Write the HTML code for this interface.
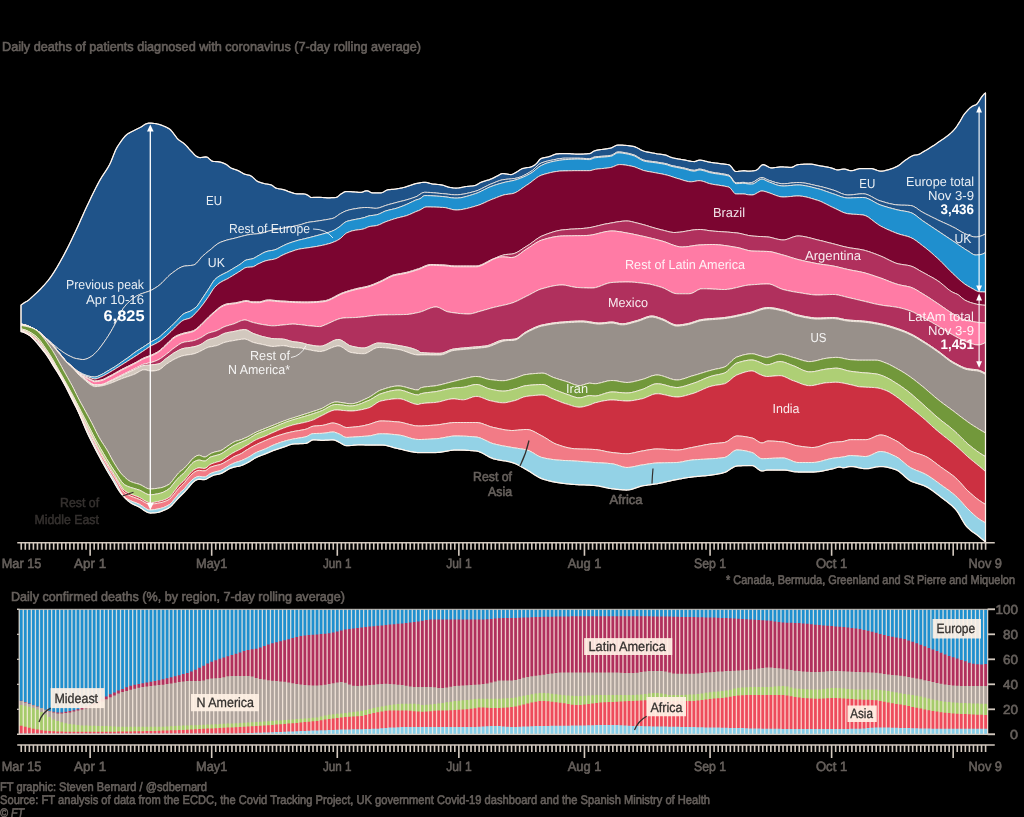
<!DOCTYPE html>
<html><head><meta charset="utf-8"><title>Coronavirus deaths</title>
<style>html,body{margin:0;padding:0;background:#000;}body{width:1024px;height:817px;overflow:hidden;font-family:"Liberation Sans",sans-serif;}svg{display:block;}text{text-rendering:geometricPrecision;}text{font-family:"Liberation Sans",sans-serif;}</style>
</head><body>
<svg width="1024" height="817" viewBox="0 0 1024 817">
<rect width="1024" height="817" fill="#000"/>
<g stroke="#fdf3ea" stroke-width="0.8" stroke-linejoin="round">
<path d="M21.0,305.0L22.5,303.9L24.0,302.9L25.5,302.0L27.0,301.2L28.5,300.2L30.0,298.9L31.5,297.5L33.0,296.1L34.5,294.8L36.0,293.4L37.5,292.0L39.0,290.5L40.5,289.0L42.0,287.4L43.5,285.8L45.0,284.1L46.5,282.4L48.0,280.6L49.5,278.7L51.0,276.6L52.5,274.4L54.0,272.1L55.5,269.7L57.0,267.2L58.5,264.6L60.0,262.0L61.5,259.3L63.0,256.6L64.5,253.8L66.0,250.9L67.5,248.0L69.0,245.0L70.5,241.9L72.0,238.8L73.5,235.6L75.0,232.5L76.5,229.3L78.0,226.0L79.5,222.7L81.0,219.3L82.5,215.9L84.0,212.6L85.5,209.3L87.0,206.1L88.5,202.9L90.0,199.8L91.5,196.6L93.0,193.5L94.5,190.5L96.0,187.5L97.5,184.6L99.0,181.8L100.5,179.1L102.0,176.7L103.5,174.3L105.0,172.1L106.5,169.8L108.0,167.4L109.5,164.7L111.0,161.6L112.5,157.8L114.0,153.9L115.5,150.3L117.0,147.4L118.5,145.0L120.0,142.8L121.5,140.7L123.0,138.7L124.5,136.8L126.0,135.2L127.5,134.1L129.0,133.1L130.5,132.3L132.0,131.5L133.5,130.8L135.0,130.0L136.5,129.2L138.0,128.5L139.5,127.8L141.0,127.0L142.5,126.1L144.0,125.0L145.5,124.0L147.0,123.6L148.5,123.2L150.0,123.1L151.5,123.2L153.0,123.3L154.5,123.5L156.0,123.7L157.5,124.0L159.0,124.4L160.5,124.8L162.0,125.4L163.5,126.0L165.0,126.6L166.5,127.3L168.0,128.1L169.5,129.0L171.0,130.3L172.5,132.1L174.0,134.1L175.5,136.2L177.0,138.2L178.5,139.7L180.0,140.8L181.5,141.8L183.0,142.8L184.5,144.0L186.0,145.4L187.5,147.0L189.0,148.8L190.5,150.5L192.0,152.0L193.5,153.7L195.0,155.2L196.5,156.4L198.0,157.1L199.5,157.5L201.0,157.5L202.5,157.3L204.0,157.1L205.5,156.9L207.0,157.1L208.5,158.1L210.0,159.6L211.5,160.8L213.0,161.3L214.5,161.5L216.0,161.6L217.5,161.7L219.0,161.9L220.5,162.2L222.0,162.7L223.5,163.2L225.0,163.8L226.5,164.6L228.0,165.8L229.5,167.0L231.0,168.0L232.5,168.6L234.0,169.2L235.5,169.7L237.0,170.2L238.5,170.8L240.0,171.6L241.5,172.5L243.0,173.4L244.5,174.1L246.0,174.5L247.5,174.9L249.0,175.2L250.5,175.7L252.0,176.6L253.5,177.9L255.0,179.4L256.5,180.7L258.0,181.6L259.5,182.2L261.0,182.7L262.5,183.1L264.0,183.5L265.5,183.8L267.0,184.0L268.5,184.3L270.0,184.6L271.5,185.0L273.0,186.0L274.5,187.2L276.0,188.1L277.5,188.5L279.0,188.8L280.5,189.0L282.0,189.3L283.5,189.7L285.0,190.1L286.5,190.7L288.0,191.3L289.5,191.8L291.0,192.3L292.5,192.8L294.0,193.3L295.5,193.6L297.0,193.8L298.5,193.8L300.0,193.8L301.5,193.9L303.0,193.9L304.5,194.0L306.0,194.4L307.5,195.1L309.0,196.1L310.5,197.3L312.0,197.5L313.5,197.4L315.0,197.4L316.5,197.3L318.0,197.3L319.5,197.3L321.0,197.4L322.5,197.5L324.0,197.6L325.5,197.7L327.0,197.8L328.5,197.8L330.0,197.8L331.5,197.7L333.0,197.7L334.5,197.6L336.0,197.5L337.5,196.9L339.0,195.6L340.5,194.3L342.0,193.4L343.5,192.4L345.0,191.7L346.5,191.5L348.0,191.5L349.5,191.6L351.0,191.7L352.5,191.8L354.0,191.9L355.5,192.0L357.0,192.1L358.5,192.3L360.0,192.4L361.5,192.3L363.0,191.9L364.5,191.2L366.0,190.8L367.5,190.8L369.0,191.4L370.5,192.3L372.0,192.8L373.5,192.9L375.0,192.9L376.5,192.9L378.0,192.9L379.5,192.9L381.0,192.9L382.5,192.5L384.0,191.7L385.5,190.7L387.0,190.0L388.5,189.7L390.0,189.6L391.5,189.4L393.0,189.3L394.5,189.2L396.0,189.0L397.5,188.7L399.0,188.5L400.5,188.2L402.0,187.9L403.5,187.5L405.0,187.2L406.5,186.7L408.0,186.2L409.5,185.7L411.0,185.2L412.5,184.6L414.0,184.1L415.5,183.7L417.0,183.4L418.5,183.1L420.0,182.8L421.5,182.5L423.0,182.4L424.5,182.3L426.0,182.4L427.5,182.7L429.0,183.1L430.5,183.5L432.0,183.9L433.5,184.1L435.0,184.2L436.5,184.3L438.0,184.5L439.5,184.6L441.0,184.8L442.5,185.1L444.0,185.5L445.5,186.1L447.0,186.6L448.5,187.1L450.0,187.4L451.5,187.6L453.0,187.9L454.5,188.0L456.0,188.1L457.5,188.0L459.0,187.9L460.5,187.6L462.0,187.3L463.5,187.0L465.0,186.7L466.5,186.5L468.0,186.3L469.5,186.2L471.0,186.0L472.5,185.9L474.0,185.7L475.5,185.3L477.0,184.6L478.5,183.7L480.0,182.8L481.5,182.1L483.0,181.6L484.5,181.1L486.0,180.7L487.5,180.2L489.0,179.8L490.5,179.2L492.0,178.6L493.5,177.9L495.0,177.1L496.5,176.3L498.0,175.6L499.5,174.7L501.0,173.9L502.5,173.5L504.0,173.6L505.5,173.8L507.0,174.0L508.5,174.3L510.0,174.5L511.5,174.5L513.0,174.0L514.5,173.2L516.0,172.4L517.5,171.5L519.0,170.5L520.5,169.5L522.0,168.7L523.5,168.3L525.0,168.0L526.5,167.7L528.0,167.5L529.5,167.3L531.0,166.9L532.5,166.3L534.0,165.4L535.5,164.4L537.0,163.0L538.5,161.0L540.0,159.2L541.5,158.4L543.0,157.9L544.5,157.6L546.0,157.3L547.5,157.0L549.0,156.7L550.5,156.2L552.0,155.5L553.5,154.9L555.0,154.3L556.5,153.9L558.0,153.8L559.5,153.7L561.0,153.7L562.5,153.6L564.0,153.6L565.5,153.6L567.0,153.6L568.5,153.7L570.0,153.7L571.5,153.8L573.0,153.9L574.5,154.0L576.0,154.1L577.5,154.1L579.0,154.1L580.5,154.1L582.0,154.0L583.5,154.0L585.0,153.9L586.5,153.8L588.0,153.7L589.5,153.6L591.0,153.1L592.5,152.0L594.0,151.0L595.5,150.6L597.0,150.2L598.5,149.9L600.0,149.7L601.5,149.5L603.0,149.3L604.5,149.1L606.0,148.9L607.5,148.7L609.0,148.4L610.5,148.1L612.0,147.6L613.5,146.8L615.0,146.0L616.5,145.3L618.0,145.0L619.5,145.0L621.0,145.1L622.5,145.1L624.0,145.3L625.5,145.4L627.0,145.5L628.5,145.7L630.0,145.9L631.5,146.1L633.0,146.3L634.5,146.7L636.0,147.3L637.5,148.0L639.0,148.8L640.5,149.7L642.0,150.4L643.5,151.0L645.0,151.5L646.5,151.8L648.0,152.1L649.5,152.4L651.0,152.7L652.5,153.0L654.0,153.2L655.5,153.5L657.0,153.8L658.5,154.0L660.0,154.2L661.5,154.4L663.0,154.6L664.5,154.9L666.0,155.2L667.5,155.8L669.0,156.5L670.5,157.2L672.0,157.7L673.5,158.0L675.0,158.3L676.5,158.6L678.0,158.9L679.5,159.1L681.0,159.4L682.5,159.6L684.0,159.8L685.5,160.1L687.0,160.5L688.5,160.8L690.0,161.1L691.5,161.4L693.0,161.5L694.5,161.6L696.0,161.2L697.5,160.6L699.0,160.2L700.5,160.2L702.0,160.4L703.5,160.7L705.0,161.1L706.5,161.4L708.0,161.8L709.5,162.1L711.0,162.4L712.5,162.6L714.0,162.8L715.5,163.0L717.0,163.2L718.5,163.4L720.0,163.6L721.5,163.8L723.0,163.9L724.5,164.1L726.0,164.3L727.5,164.5L729.0,164.8L730.5,165.8L732.0,167.7L733.5,169.8L735.0,171.3L736.5,171.5L738.0,171.4L739.5,171.2L741.0,171.0L742.5,170.8L744.0,170.7L745.5,170.8L747.0,171.1L748.5,171.2L750.0,171.1L751.5,171.0L753.0,170.8L754.5,170.6L756.0,170.3L757.5,169.5L759.0,168.0L760.5,166.2L762.0,164.9L763.5,164.6L765.0,165.1L766.5,165.9L768.0,166.7L769.5,167.5L771.0,167.9L772.5,167.9L774.0,167.7L775.5,167.5L777.0,167.3L778.5,167.1L780.0,166.9L781.5,166.9L783.0,166.9L784.5,167.0L786.0,167.1L787.5,167.2L789.0,167.3L790.5,167.4L792.0,167.3L793.5,166.7L795.0,165.8L796.5,165.0L798.0,164.6L799.5,164.5L801.0,164.4L802.5,164.3L804.0,164.2L805.5,164.2L807.0,164.1L808.5,164.1L810.0,164.1L811.5,164.2L813.0,164.4L814.5,164.7L816.0,165.0L817.5,165.3L819.0,165.6L820.5,165.9L822.0,166.1L823.5,166.4L825.0,166.7L826.5,166.9L828.0,167.2L829.5,167.5L831.0,167.9L832.5,168.3L834.0,168.9L835.5,169.5L837.0,169.9L838.5,169.9L840.0,169.6L841.5,169.3L843.0,169.1L844.5,169.0L846.0,169.3L847.5,169.8L849.0,170.3L850.5,170.7L852.0,170.6L853.5,170.4L855.0,169.9L856.5,169.4L858.0,169.0L859.5,168.6L861.0,168.5L862.5,168.5L864.0,168.5L865.5,168.5L867.0,168.5L868.5,168.5L870.0,168.5L871.5,168.5L873.0,168.8L874.5,169.3L876.0,169.9L877.5,170.5L879.0,170.9L880.5,171.2L882.0,171.1L883.5,170.9L885.0,170.6L886.5,170.2L888.0,169.8L889.5,169.4L891.0,168.9L892.5,168.4L894.0,167.8L895.5,167.1L897.0,166.4L898.5,165.6L900.0,164.6L901.5,163.3L903.0,162.0L904.5,160.8L906.0,159.8L907.5,158.8L909.0,157.7L910.5,156.8L912.0,156.0L913.5,155.4L915.0,155.0L916.5,154.9L918.0,154.6L919.5,154.1L921.0,153.2L922.5,152.3L924.0,151.4L925.5,150.5L927.0,149.7L928.5,148.7L930.0,147.8L931.5,146.8L933.0,145.9L934.5,144.9L936.0,143.9L937.5,142.8L939.0,141.8L940.5,140.8L942.0,139.8L943.5,138.8L945.0,137.7L946.5,136.6L948.0,135.5L949.5,134.2L951.0,132.9L952.5,131.5L954.0,129.9L955.5,128.1L957.0,126.0L958.5,123.7L960.0,121.4L961.5,118.7L963.0,116.0L964.5,113.9L966.0,112.1L967.5,110.5L969.0,108.9L970.5,107.5L972.0,106.4L973.5,105.7L975.0,105.2L976.5,104.5L978.0,102.7L979.5,100.4L981.0,97.9L982.5,95.8L984.0,94.1L985.5,92.9L985.5,233.8L984.0,234.7L982.5,235.4L981.0,236.0L979.5,236.5L978.0,236.8L976.5,237.0L975.0,237.0L973.5,236.8L972.0,236.4L970.5,235.9L969.0,235.4L967.5,234.8L966.0,234.2L964.5,233.5L963.0,232.7L961.5,231.9L960.0,231.0L958.5,230.1L957.0,229.2L955.5,228.3L954.0,227.5L952.5,226.8L951.0,226.0L949.5,225.3L948.0,224.6L946.5,223.9L945.0,223.2L943.5,222.6L942.0,221.9L940.5,221.2L939.0,220.5L937.5,219.8L936.0,219.0L934.5,218.3L933.0,217.6L931.5,216.8L930.0,216.1L928.5,215.3L927.0,214.6L925.5,213.8L924.0,213.0L922.5,212.2L921.0,211.3L919.5,210.3L918.0,209.2L916.5,208.1L915.0,207.2L913.5,206.4L912.0,205.8L910.5,205.5L909.0,205.4L907.5,205.3L906.0,205.3L904.5,205.2L903.0,205.2L901.5,205.2L900.0,205.1L898.5,205.0L897.0,204.9L895.5,204.7L894.0,204.5L892.5,204.2L891.0,203.9L889.5,203.6L888.0,203.2L886.5,202.8L885.0,202.3L883.5,201.9L882.0,201.4L880.5,201.0L879.0,200.5L877.5,199.8L876.0,199.1L874.5,198.3L873.0,197.4L871.5,196.6L870.0,195.8L868.5,195.1L867.0,194.5L865.5,194.1L864.0,193.8L862.5,193.8L861.0,193.8L859.5,193.9L858.0,194.1L856.5,194.3L855.0,194.4L853.5,194.6L852.0,194.8L850.5,194.9L849.0,195.0L847.5,195.0L846.0,194.8L844.5,194.5L843.0,194.0L841.5,193.5L840.0,192.8L838.5,192.2L837.0,191.5L835.5,190.9L834.0,190.3L832.5,189.9L831.0,189.4L829.5,189.0L828.0,188.5L826.5,188.1L825.0,187.7L823.5,187.3L822.0,186.9L820.5,186.6L819.0,186.2L817.5,185.9L816.0,185.6L814.5,185.2L813.0,184.9L811.5,184.5L810.0,184.2L808.5,183.8L807.0,183.5L805.5,183.2L804.0,183.0L802.5,182.8L801.0,182.6L799.5,182.5L798.0,182.5L796.5,182.5L795.0,182.6L793.5,182.8L792.0,182.9L790.5,183.1L789.0,183.3L787.5,183.5L786.0,183.6L784.5,183.7L783.0,183.8L781.5,183.7L780.0,183.5L778.5,183.2L777.0,182.9L775.5,182.5L774.0,182.0L772.5,181.5L771.0,181.0L769.5,180.5L768.0,180.0L766.5,179.3L765.0,178.5L763.5,177.8L762.0,177.5L760.5,177.8L759.0,178.4L757.5,179.4L756.0,180.4L754.5,181.4L753.0,182.2L751.5,182.6L750.0,182.9L748.5,183.1L747.0,183.0L745.5,182.6L744.0,182.4L742.5,182.4L741.0,182.5L739.5,182.6L738.0,182.7L736.5,182.8L735.0,182.5L733.5,180.9L732.0,178.5L730.5,176.4L729.0,175.2L727.5,174.8L726.0,174.4L724.5,174.2L723.0,173.9L721.5,173.7L720.0,173.4L718.5,173.2L717.0,173.0L715.5,172.8L714.0,172.5L712.5,172.3L711.0,172.0L709.5,171.7L708.0,171.2L706.5,170.7L705.0,170.2L703.5,169.8L702.0,169.4L700.5,169.2L699.0,169.1L697.5,169.5L696.0,170.0L694.5,170.3L693.0,170.2L691.5,170.0L690.0,169.7L688.5,169.2L687.0,168.8L685.5,168.4L684.0,168.0L682.5,167.7L681.0,167.4L679.5,167.1L678.0,166.8L676.5,166.5L675.0,166.2L673.5,165.9L672.0,165.6L670.5,165.2L669.0,164.7L667.5,164.1L666.0,163.7L664.5,163.4L663.0,163.1L661.5,162.8L660.0,162.6L658.5,162.4L657.0,162.1L655.5,161.9L654.0,161.7L652.5,161.5L651.0,161.3L649.5,161.2L648.0,161.0L646.5,160.7L645.0,160.4L643.5,160.0L642.0,159.4L640.5,158.6L639.0,157.7L637.5,156.8L636.0,155.9L634.5,155.1L633.0,154.6L631.5,154.2L630.0,153.8L628.5,153.4L627.0,153.1L625.5,152.8L624.0,152.5L622.5,152.3L621.0,152.1L619.5,152.0L618.0,152.0L616.5,152.3L615.0,153.2L613.5,154.2L612.0,155.1L610.5,155.4L609.0,155.6L607.5,155.8L606.0,156.0L604.5,156.1L603.0,156.2L601.5,156.3L600.0,156.4L598.5,156.5L597.0,156.7L595.5,156.9L594.0,157.1L592.5,157.8L591.0,158.4L589.5,158.7L588.0,158.7L586.5,158.6L585.0,158.5L583.5,158.4L582.0,158.3L580.5,158.3L579.0,158.2L577.5,158.2L576.0,158.2L574.5,158.2L573.0,158.2L571.5,158.2L570.0,158.2L568.5,158.2L567.0,158.2L565.5,158.2L564.0,158.2L562.5,158.3L561.0,158.5L559.5,158.7L558.0,158.9L556.5,159.2L555.0,159.5L553.5,159.8L552.0,160.1L550.5,160.4L549.0,160.7L547.5,161.1L546.0,161.4L544.5,161.9L543.0,162.4L541.5,162.9L540.0,163.7L538.5,164.7L537.0,166.1L535.5,167.5L534.0,169.0L532.5,170.4L531.0,171.4L529.5,172.3L528.0,173.2L526.5,174.0L525.0,174.8L523.5,175.6L522.0,176.3L520.5,176.9L519.0,177.4L517.5,177.9L516.0,178.2L514.5,178.5L513.0,178.6L511.5,178.8L510.0,179.0L508.5,179.1L507.0,179.2L505.5,179.4L504.0,179.6L502.5,179.8L501.0,180.2L499.5,180.6L498.0,181.2L496.5,181.7L495.0,182.4L493.5,183.0L492.0,183.6L490.5,184.2L489.0,184.9L487.5,185.6L486.0,186.4L484.5,187.1L483.0,187.9L481.5,188.7L480.0,189.4L478.5,190.1L477.0,190.7L475.5,191.2L474.0,191.6L472.5,192.0L471.0,192.4L469.5,192.8L468.0,193.1L466.5,193.5L465.0,193.8L463.5,194.1L462.0,194.3L460.5,194.5L459.0,194.7L457.5,194.8L456.0,194.8L454.5,194.8L453.0,194.7L451.5,194.6L450.0,194.4L448.5,194.3L447.0,194.1L445.5,193.9L444.0,193.8L442.5,193.6L441.0,193.5L439.5,193.4L438.0,193.2L436.5,193.1L435.0,192.9L433.5,192.8L432.0,192.7L430.5,192.5L429.0,192.4L427.5,192.4L426.0,192.3L424.5,192.3L423.0,192.6L421.5,193.3L420.0,194.3L418.5,195.3L417.0,196.3L415.5,196.9L414.0,197.5L412.5,198.0L411.0,198.5L409.5,199.0L408.0,199.4L406.5,199.9L405.0,200.3L403.5,200.7L402.0,201.1L400.5,201.4L399.0,201.8L397.5,202.2L396.0,202.6L394.5,203.0L393.0,203.4L391.5,203.8L390.0,204.2L388.5,204.6L387.0,205.1L385.5,205.5L384.0,206.1L382.5,206.7L381.0,207.2L379.5,207.7L378.0,208.1L376.5,208.3L375.0,208.3L373.5,208.2L372.0,208.0L370.5,207.8L369.0,207.6L367.5,207.5L366.0,207.5L364.5,207.5L363.0,207.6L361.5,207.8L360.0,208.0L358.5,208.2L357.0,208.4L355.5,208.7L354.0,208.9L352.5,209.2L351.0,209.5L349.5,209.8L348.0,210.3L346.5,210.7L345.0,211.3L343.5,212.0L342.0,212.8L340.5,213.6L339.0,214.5L337.5,215.6L336.0,216.7L334.5,217.7L333.0,218.3L331.5,218.7L330.0,219.0L328.5,219.3L327.0,219.5L325.5,219.8L324.0,220.0L322.5,220.3L321.0,220.5L319.5,220.7L318.0,221.0L316.5,221.2L315.0,221.4L313.5,221.6L312.0,221.8L310.5,222.0L309.0,222.2L307.5,222.5L306.0,222.9L304.5,223.4L303.0,223.9L301.5,224.4L300.0,224.8L298.5,225.2L297.0,225.5L295.5,225.9L294.0,226.2L292.5,226.5L291.0,226.8L289.5,227.0L288.0,227.3L286.5,227.6L285.0,227.9L283.5,228.1L282.0,228.4L280.5,228.7L279.0,229.0L277.5,229.2L276.0,229.5L274.5,229.8L273.0,230.0L271.5,230.4L270.0,230.7L268.5,231.1L267.0,231.5L265.5,232.0L264.0,232.5L262.5,233.0L261.0,233.3L259.5,233.6L258.0,233.7L256.5,233.9L255.0,234.0L253.5,234.1L252.0,234.3L250.5,234.4L249.0,234.7L247.5,234.9L246.0,235.3L244.5,235.6L243.0,236.0L241.5,236.4L240.0,236.8L238.5,237.2L237.0,237.6L235.5,238.0L234.0,238.4L232.5,238.7L231.0,239.1L229.5,239.4L228.0,239.8L226.5,240.2L225.0,240.7L223.5,241.2L222.0,241.7L220.5,242.3L219.0,243.0L217.5,243.9L216.0,245.0L214.5,246.2L213.0,247.5L211.5,248.8L210.0,250.0L208.5,251.2L207.0,252.4L205.5,253.6L204.0,254.9L202.5,256.2L201.0,257.8L199.5,259.7L198.0,261.5L196.5,263.2L195.0,264.4L193.5,265.1L192.0,265.3L190.5,265.5L189.0,265.6L187.5,265.8L186.0,265.9L184.5,266.1L183.0,266.4L181.5,267.0L180.0,267.7L178.5,268.5L177.0,269.5L175.5,270.6L174.0,271.7L172.5,272.8L171.0,273.9L169.5,275.2L168.0,276.6L166.5,278.1L165.0,279.7L163.5,281.3L162.0,282.8L160.5,284.2L159.0,285.4L157.5,286.5L156.0,287.5L154.5,288.4L153.0,289.3L151.5,290.1L150.0,290.8L148.5,291.4L147.0,291.9L145.5,292.4L144.0,292.9L142.5,293.4L141.0,293.9L139.5,294.5L138.0,295.3L136.5,296.1L135.0,297.1L133.5,298.2L132.0,299.3L130.5,300.6L129.0,301.9L127.5,303.3L126.0,304.9L124.5,306.7L123.0,308.7L121.5,311.1L120.0,314.0L118.5,317.2L117.0,320.3L115.5,323.2L114.0,326.0L112.5,328.7L111.0,331.4L109.5,333.9L108.0,336.3L106.5,338.6L105.0,340.8L103.5,342.9L102.0,345.0L100.5,347.0L99.0,349.0L97.5,350.7L96.0,352.3L94.5,353.8L93.0,355.2L91.5,356.3L90.0,357.2L88.5,358.0L87.0,358.7L85.5,359.2L84.0,359.5L82.5,359.5L81.0,359.4L79.5,359.2L78.0,358.9L76.5,358.6L75.0,358.3L73.5,357.8L72.0,357.1L70.5,356.4L69.0,355.7L67.5,354.9L66.0,354.0L64.5,353.1L63.0,352.1L61.5,351.0L60.0,349.9L58.5,348.8L57.0,347.6L55.5,346.3L54.0,345.0L52.5,343.7L51.0,342.3L49.5,341.0L48.0,339.7L46.5,338.5L45.0,337.2L43.5,335.8L42.0,334.5L40.5,333.2L39.0,331.9L37.5,330.8L36.0,329.8L34.5,329.0L33.0,328.2L31.5,327.5L30.0,326.8L28.5,326.2L27.0,325.6L25.5,325.1L24.0,324.7L22.5,324.4L21.0,324.1Z" fill="#1f5389"/>
<path d="M21.0,324.1L22.5,324.4L24.0,324.7L25.5,325.1L27.0,325.6L28.5,326.2L30.0,326.8L31.5,327.5L33.0,328.2L34.5,329.0L36.0,329.8L37.5,330.8L39.0,331.9L40.5,333.2L42.0,334.5L43.5,335.8L45.0,337.2L46.5,338.5L48.0,339.7L49.5,341.0L51.0,342.3L52.5,343.7L54.0,345.0L55.5,346.3L57.0,347.6L58.5,348.8L60.0,349.9L61.5,351.0L63.0,352.1L64.5,353.1L66.0,354.0L67.5,354.9L69.0,355.7L70.5,356.4L72.0,357.1L73.5,357.8L75.0,358.3L76.5,358.6L78.0,358.9L79.5,359.2L81.0,359.4L82.5,359.5L84.0,359.5L85.5,359.2L87.0,358.7L88.5,358.0L90.0,357.2L91.5,356.3L93.0,355.2L94.5,353.8L96.0,352.3L97.5,350.7L99.0,349.0L100.5,347.0L102.0,345.0L103.5,342.9L105.0,340.8L106.5,338.6L108.0,336.3L109.5,333.9L111.0,331.4L112.5,328.7L114.0,326.0L115.5,323.2L117.0,320.3L118.5,317.2L120.0,314.0L121.5,311.1L123.0,308.7L124.5,306.7L126.0,304.9L127.5,303.3L129.0,301.9L130.5,300.6L132.0,299.3L133.5,298.2L135.0,297.1L136.5,296.1L138.0,295.3L139.5,294.5L141.0,293.9L142.5,293.4L144.0,292.9L145.5,292.4L147.0,291.9L148.5,291.4L150.0,290.8L151.5,290.1L153.0,289.3L154.5,288.4L156.0,287.5L157.5,286.5L159.0,285.4L160.5,284.2L162.0,282.8L163.5,281.3L165.0,279.7L166.5,278.1L168.0,276.6L169.5,275.2L171.0,273.9L172.5,272.8L174.0,271.7L175.5,270.6L177.0,269.5L178.5,268.5L180.0,267.7L181.5,267.0L183.0,266.4L184.5,266.1L186.0,265.9L187.5,265.8L189.0,265.6L190.5,265.5L192.0,265.3L193.5,265.1L195.0,264.4L196.5,263.2L198.0,261.5L199.5,259.7L201.0,257.8L202.5,256.2L204.0,254.9L205.5,253.6L207.0,252.4L208.5,251.2L210.0,250.0L211.5,248.8L213.0,247.5L214.5,246.2L216.0,245.0L217.5,243.9L219.0,243.0L220.5,242.3L222.0,241.7L223.5,241.2L225.0,240.7L226.5,240.2L228.0,239.8L229.5,239.4L231.0,239.1L232.5,238.7L234.0,238.4L235.5,238.0L237.0,237.6L238.5,237.2L240.0,236.8L241.5,236.4L243.0,236.0L244.5,235.6L246.0,235.3L247.5,234.9L249.0,234.7L250.5,234.4L252.0,234.3L253.5,234.1L255.0,234.0L256.5,233.9L258.0,233.7L259.5,233.6L261.0,233.3L262.5,233.0L264.0,232.5L265.5,232.0L267.0,231.5L268.5,231.1L270.0,230.7L271.5,230.4L273.0,230.0L274.5,229.8L276.0,229.5L277.5,229.2L279.0,229.0L280.5,228.7L282.0,228.4L283.5,228.1L285.0,227.9L286.5,227.6L288.0,227.3L289.5,227.0L291.0,226.8L292.5,226.5L294.0,226.2L295.5,225.9L297.0,225.5L298.5,225.2L300.0,224.8L301.5,224.4L303.0,223.9L304.5,223.4L306.0,222.9L307.5,222.5L309.0,222.2L310.5,222.0L312.0,221.8L313.5,221.6L315.0,221.4L316.5,221.2L318.0,221.0L319.5,220.7L321.0,220.5L322.5,220.3L324.0,220.0L325.5,219.8L327.0,219.5L328.5,219.3L330.0,219.0L331.5,218.7L333.0,218.3L334.5,217.7L336.0,216.7L337.5,215.6L339.0,214.5L340.5,213.6L342.0,212.8L343.5,212.0L345.0,211.3L346.5,210.7L348.0,210.3L349.5,209.8L351.0,209.5L352.5,209.2L354.0,208.9L355.5,208.7L357.0,208.4L358.5,208.2L360.0,208.0L361.5,207.8L363.0,207.6L364.5,207.5L366.0,207.5L367.5,207.5L369.0,207.6L370.5,207.8L372.0,208.0L373.5,208.2L375.0,208.3L376.5,208.3L378.0,208.1L379.5,207.7L381.0,207.2L382.5,206.7L384.0,206.1L385.5,205.5L387.0,205.1L388.5,204.6L390.0,204.2L391.5,203.8L393.0,203.4L394.5,203.0L396.0,202.6L397.5,202.2L399.0,201.8L400.5,201.4L402.0,201.1L403.5,200.7L405.0,200.3L406.5,199.9L408.0,199.4L409.5,199.0L411.0,198.5L412.5,198.0L414.0,197.5L415.5,196.9L417.0,196.3L418.5,195.3L420.0,194.3L421.5,193.3L423.0,192.6L424.5,192.3L426.0,192.3L427.5,192.4L429.0,192.4L430.5,192.5L432.0,192.7L433.5,192.8L435.0,192.9L436.5,193.1L438.0,193.2L439.5,193.4L441.0,193.5L442.5,193.6L444.0,193.8L445.5,193.9L447.0,194.1L448.5,194.3L450.0,194.4L451.5,194.6L453.0,194.7L454.5,194.8L456.0,194.8L457.5,194.8L459.0,194.7L460.5,194.5L462.0,194.3L463.5,194.1L465.0,193.8L466.5,193.5L468.0,193.1L469.5,192.8L471.0,192.4L472.5,192.0L474.0,191.6L475.5,191.2L477.0,190.7L478.5,190.1L480.0,189.4L481.5,188.7L483.0,187.9L484.5,187.1L486.0,186.4L487.5,185.6L489.0,184.9L490.5,184.2L492.0,183.6L493.5,183.0L495.0,182.4L496.5,181.7L498.0,181.2L499.5,180.6L501.0,180.2L502.5,179.8L504.0,179.6L505.5,179.4L507.0,179.2L508.5,179.1L510.0,179.0L511.5,178.8L513.0,178.6L514.5,178.5L516.0,178.2L517.5,177.9L519.0,177.4L520.5,176.9L522.0,176.3L523.5,175.6L525.0,174.8L526.5,174.0L528.0,173.2L529.5,172.3L531.0,171.4L532.5,170.4L534.0,169.0L535.5,167.5L537.0,166.1L538.5,164.7L540.0,163.7L541.5,162.9L543.0,162.4L544.5,161.9L546.0,161.4L547.5,161.1L549.0,160.7L550.5,160.4L552.0,160.1L553.5,159.8L555.0,159.5L556.5,159.2L558.0,158.9L559.5,158.7L561.0,158.5L562.5,158.3L564.0,158.2L565.5,158.2L567.0,158.2L568.5,158.2L570.0,158.2L571.5,158.2L573.0,158.2L574.5,158.2L576.0,158.2L577.5,158.2L579.0,158.2L580.5,158.3L582.0,158.3L583.5,158.4L585.0,158.5L586.5,158.6L588.0,158.7L589.5,158.7L591.0,158.4L592.5,157.8L594.0,157.1L595.5,156.9L597.0,156.7L598.5,156.5L600.0,156.4L601.5,156.3L603.0,156.2L604.5,156.1L606.0,156.0L607.5,155.8L609.0,155.6L610.5,155.4L612.0,155.1L613.5,154.2L615.0,153.2L616.5,152.3L618.0,152.0L619.5,152.0L621.0,152.1L622.5,152.3L624.0,152.5L625.5,152.8L627.0,153.1L628.5,153.4L630.0,153.8L631.5,154.2L633.0,154.6L634.5,155.1L636.0,155.9L637.5,156.8L639.0,157.7L640.5,158.6L642.0,159.4L643.5,160.0L645.0,160.4L646.5,160.7L648.0,161.0L649.5,161.2L651.0,161.3L652.5,161.5L654.0,161.7L655.5,161.9L657.0,162.1L658.5,162.4L660.0,162.6L661.5,162.8L663.0,163.1L664.5,163.4L666.0,163.7L667.5,164.1L669.0,164.7L670.5,165.2L672.0,165.6L673.5,165.9L675.0,166.2L676.5,166.5L678.0,166.8L679.5,167.1L681.0,167.4L682.5,167.7L684.0,168.0L685.5,168.4L687.0,168.8L688.5,169.2L690.0,169.7L691.5,170.0L693.0,170.2L694.5,170.3L696.0,170.0L697.5,169.5L699.0,169.1L700.5,169.2L702.0,169.4L703.5,169.8L705.0,170.2L706.5,170.7L708.0,171.2L709.5,171.7L711.0,172.0L712.5,172.3L714.0,172.5L715.5,172.8L717.0,173.0L718.5,173.2L720.0,173.4L721.5,173.7L723.0,173.9L724.5,174.2L726.0,174.4L727.5,174.8L729.0,175.2L730.5,176.4L732.0,178.5L733.5,180.9L735.0,182.5L736.5,182.8L738.0,182.7L739.5,182.6L741.0,182.5L742.5,182.4L744.0,182.4L745.5,182.6L747.0,183.0L748.5,183.1L750.0,182.9L751.5,182.6L753.0,182.2L754.5,181.4L756.0,180.4L757.5,179.4L759.0,178.4L760.5,177.8L762.0,177.5L763.5,177.8L765.0,178.5L766.5,179.3L768.0,180.0L769.5,180.5L771.0,181.0L772.5,181.5L774.0,182.0L775.5,182.5L777.0,182.9L778.5,183.2L780.0,183.5L781.5,183.7L783.0,183.8L784.5,183.7L786.0,183.6L787.5,183.5L789.0,183.3L790.5,183.1L792.0,182.9L793.5,182.8L795.0,182.6L796.5,182.5L798.0,182.5L799.5,182.5L801.0,182.6L802.5,182.8L804.0,183.0L805.5,183.2L807.0,183.5L808.5,183.8L810.0,184.2L811.5,184.5L813.0,184.9L814.5,185.2L816.0,185.6L817.5,185.9L819.0,186.2L820.5,186.6L822.0,186.9L823.5,187.3L825.0,187.7L826.5,188.1L828.0,188.5L829.5,189.0L831.0,189.4L832.5,189.9L834.0,190.3L835.5,190.9L837.0,191.5L838.5,192.2L840.0,192.8L841.5,193.5L843.0,194.0L844.5,194.5L846.0,194.8L847.5,195.0L849.0,195.0L850.5,194.9L852.0,194.8L853.5,194.6L855.0,194.4L856.5,194.3L858.0,194.1L859.5,193.9L861.0,193.8L862.5,193.8L864.0,193.8L865.5,194.1L867.0,194.5L868.5,195.1L870.0,195.8L871.5,196.6L873.0,197.4L874.5,198.3L876.0,199.1L877.5,199.8L879.0,200.5L880.5,201.0L882.0,201.4L883.5,201.9L885.0,202.3L886.5,202.8L888.0,203.2L889.5,203.6L891.0,203.9L892.5,204.2L894.0,204.5L895.5,204.7L897.0,204.9L898.5,205.0L900.0,205.1L901.5,205.2L903.0,205.2L904.5,205.2L906.0,205.3L907.5,205.3L909.0,205.4L910.5,205.5L912.0,205.8L913.5,206.4L915.0,207.2L916.5,208.1L918.0,209.2L919.5,210.3L921.0,211.3L922.5,212.2L924.0,213.0L925.5,213.8L927.0,214.6L928.5,215.3L930.0,216.1L931.5,216.8L933.0,217.6L934.5,218.3L936.0,219.0L937.5,219.8L939.0,220.5L940.5,221.2L942.0,221.9L943.5,222.6L945.0,223.2L946.5,223.9L948.0,224.6L949.5,225.3L951.0,226.0L952.5,226.8L954.0,227.5L955.5,228.3L957.0,229.2L958.5,230.1L960.0,231.0L961.5,231.9L963.0,232.7L964.5,233.5L966.0,234.2L967.5,234.8L969.0,235.4L970.5,235.9L972.0,236.4L973.5,236.8L975.0,237.0L976.5,237.0L978.0,236.8L979.5,236.5L981.0,236.0L982.5,235.4L984.0,234.7L985.5,233.8L985.5,252.5L984.0,253.4L982.5,254.1L981.0,254.5L979.5,254.8L978.0,254.9L976.5,255.0L975.0,255.0L973.5,254.5L972.0,253.7L970.5,252.7L969.0,251.6L967.5,250.7L966.0,249.8L964.5,248.8L963.0,247.8L961.5,246.8L960.0,245.8L958.5,244.8L957.0,243.7L955.5,242.7L954.0,241.7L952.5,240.7L951.0,239.7L949.5,238.7L948.0,237.7L946.5,236.7L945.0,235.7L943.5,234.7L942.0,233.7L940.5,232.7L939.0,231.7L937.5,230.7L936.0,229.7L934.5,228.7L933.0,227.7L931.5,226.7L930.0,225.7L928.5,224.7L927.0,223.7L925.5,222.7L924.0,221.7L922.5,220.7L921.0,219.5L919.5,218.4L918.0,217.2L916.5,216.0L915.0,214.9L913.5,213.9L912.0,213.1L910.5,212.5L909.0,212.1L907.5,211.7L906.0,211.4L904.5,211.2L903.0,210.9L901.5,210.7L900.0,210.4L898.5,210.1L897.0,209.8L895.5,209.4L894.0,209.0L892.5,208.6L891.0,208.2L889.5,207.8L888.0,207.4L886.5,206.9L885.0,206.5L883.5,206.0L882.0,205.5L880.5,205.0L879.0,204.4L877.5,203.7L876.0,202.9L874.5,202.1L873.0,201.2L871.5,200.4L870.0,199.6L868.5,198.9L867.0,198.3L865.5,197.8L864.0,197.6L862.5,197.5L861.0,197.5L859.5,197.6L858.0,197.6L856.5,197.7L855.0,197.8L853.5,197.8L852.0,197.9L850.5,198.0L849.0,198.0L847.5,198.0L846.0,197.9L844.5,197.6L843.0,197.2L841.5,196.8L840.0,196.3L838.5,195.7L837.0,195.2L835.5,194.6L834.0,194.1L832.5,193.6L831.0,193.1L829.5,192.6L828.0,192.0L826.5,191.5L825.0,191.0L823.5,190.4L822.0,189.9L820.5,189.4L819.0,189.0L817.5,188.6L816.0,188.3L814.5,187.9L813.0,187.5L811.5,187.1L810.0,186.7L808.5,186.4L807.0,186.1L805.5,185.8L804.0,185.5L802.5,185.3L801.0,185.1L799.5,185.0L798.0,185.0L796.5,185.0L795.0,185.1L793.5,185.2L792.0,185.4L790.5,185.5L789.0,185.6L787.5,185.8L786.0,185.9L784.5,186.0L783.0,186.0L781.5,185.9L780.0,185.7L778.5,185.4L777.0,185.0L775.5,184.5L774.0,183.9L772.5,183.3L771.0,182.7L769.5,182.2L768.0,181.6L766.5,180.9L765.0,180.1L763.5,179.4L762.0,179.1L760.5,179.4L759.0,180.2L757.5,181.2L756.0,182.3L754.5,183.3L753.0,184.0L751.5,184.1L750.0,184.1L748.5,184.0L747.0,183.8L745.5,183.5L744.0,183.3L742.5,183.3L741.0,183.4L739.5,183.5L738.0,183.6L736.5,183.7L735.0,183.4L733.5,181.8L732.0,179.4L730.5,177.3L729.0,176.1L727.5,175.7L726.0,175.3L724.5,175.1L723.0,174.8L721.5,174.6L720.0,174.3L718.5,174.1L717.0,173.9L715.5,173.7L714.0,173.4L712.5,173.2L711.0,172.9L709.5,172.6L708.0,172.1L706.5,171.6L705.0,171.1L703.5,170.7L702.0,170.3L700.5,170.1L699.0,170.0L697.5,170.4L696.0,170.9L694.5,171.2L693.0,171.1L691.5,170.9L690.0,170.6L688.5,170.1L687.0,169.7L685.5,169.3L684.0,168.9L682.5,168.6L681.0,168.3L679.5,168.0L678.0,167.7L676.5,167.4L675.0,167.1L673.5,166.8L672.0,166.5L670.5,166.1L669.0,165.6L667.5,165.0L666.0,164.6L664.5,164.3L663.0,164.0L661.5,163.7L660.0,163.5L658.5,163.3L657.0,163.0L655.5,162.8L654.0,162.6L652.5,162.4L651.0,162.2L649.5,162.1L648.0,161.9L646.5,161.6L645.0,161.3L643.5,160.9L642.0,160.3L640.5,159.5L639.0,158.6L637.5,157.7L636.0,156.8L634.5,156.0L633.0,155.5L631.5,155.1L630.0,154.7L628.5,154.3L627.0,154.0L625.5,153.7L624.0,153.4L622.5,153.2L621.0,153.0L619.5,152.9L618.0,152.9L616.5,153.2L615.0,154.1L613.5,155.1L612.0,156.0L610.5,156.3L609.0,156.5L607.5,156.7L606.0,156.9L604.5,157.0L603.0,157.1L601.5,157.2L600.0,157.3L598.5,157.4L597.0,157.6L595.5,157.8L594.0,158.0L592.5,158.7L591.0,159.3L589.5,159.6L588.0,159.6L586.5,159.5L585.0,159.4L583.5,159.3L582.0,159.2L580.5,159.2L579.0,159.1L577.5,159.1L576.0,159.1L574.5,159.2L573.0,159.2L571.5,159.3L570.0,159.3L568.5,159.4L567.0,159.5L565.5,159.6L564.0,159.7L562.5,159.9L561.0,160.1L559.5,160.3L558.0,160.5L556.5,160.8L555.0,161.1L553.5,161.4L552.0,161.7L550.5,162.1L549.0,162.5L547.5,162.9L546.0,163.4L544.5,164.0L543.0,164.7L541.5,165.4L540.0,166.2L538.5,167.3L537.0,168.5L535.5,169.7L534.0,171.0L532.5,172.2L531.0,173.1L529.5,174.0L528.0,174.8L526.5,175.6L525.0,176.3L523.5,177.0L522.0,177.6L520.5,178.2L519.0,178.8L517.5,179.3L516.0,179.8L514.5,180.2L513.0,180.6L511.5,180.9L510.0,181.2L508.5,181.5L507.0,181.8L505.5,182.1L504.0,182.5L502.5,182.9L501.0,183.3L499.5,183.7L498.0,184.2L496.5,184.6L495.0,185.1L493.5,185.6L492.0,186.2L490.5,186.7L489.0,187.3L487.5,188.0L486.0,188.8L484.5,189.5L483.0,190.3L481.5,191.0L480.0,191.8L478.5,192.4L477.0,193.1L475.5,193.6L474.0,194.1L472.5,194.6L471.0,195.1L469.5,195.5L468.0,196.0L466.5,196.4L465.0,196.8L463.5,197.2L462.0,197.5L460.5,197.8L459.0,197.9L457.5,198.1L456.0,198.1L454.5,198.1L453.0,197.9L451.5,197.8L450.0,197.6L448.5,197.3L447.0,197.1L445.5,196.9L444.0,196.7L442.5,196.5L441.0,196.4L439.5,196.3L438.0,196.2L436.5,196.1L435.0,196.0L433.5,195.9L432.0,195.8L430.5,195.7L429.0,195.7L427.5,195.6L426.0,195.6L424.5,195.6L423.0,196.3L421.5,197.7L420.0,198.7L418.5,199.3L417.0,199.7L415.5,200.2L414.0,200.9L412.5,201.6L411.0,202.3L409.5,203.0L408.0,203.8L406.5,204.4L405.0,205.1L403.5,205.7L402.0,206.3L400.5,206.8L399.0,207.4L397.5,207.9L396.0,208.4L394.5,208.8L393.0,209.1L391.5,209.5L390.0,209.8L388.5,210.2L387.0,210.6L385.5,211.0L384.0,211.6L382.5,212.4L381.0,213.1L379.5,213.8L378.0,214.4L376.5,214.8L375.0,215.1L373.5,215.3L372.0,215.5L370.5,215.6L369.0,215.9L367.5,216.4L366.0,216.9L364.5,217.5L363.0,217.9L361.5,218.2L360.0,218.6L358.5,218.8L357.0,219.1L355.5,219.4L354.0,219.7L352.5,220.0L351.0,220.3L349.5,220.7L348.0,221.0L346.5,221.5L345.0,222.3L343.5,223.4L342.0,224.7L340.5,226.0L339.0,227.1L337.5,228.1L336.0,229.1L334.5,230.0L333.0,230.7L331.5,231.4L330.0,231.9L328.5,232.4L327.0,232.9L325.5,233.3L324.0,233.7L322.5,234.1L321.0,234.5L319.5,234.9L318.0,235.3L316.5,235.7L315.0,236.1L313.5,236.5L312.0,236.9L310.5,237.3L309.0,237.7L307.5,238.0L306.0,238.4L304.5,238.8L303.0,239.1L301.5,239.5L300.0,239.8L298.5,240.2L297.0,240.6L295.5,241.1L294.0,241.5L292.5,242.0L291.0,242.5L289.5,243.0L288.0,243.6L286.5,244.2L285.0,244.9L283.5,245.6L282.0,246.3L280.5,247.1L279.0,247.9L277.5,248.7L276.0,249.4L274.5,249.9L273.0,250.3L271.5,250.5L270.0,250.8L268.5,251.0L267.0,251.4L265.5,251.9L264.0,252.5L262.5,253.3L261.0,254.1L259.5,255.0L258.0,255.8L256.5,256.7L255.0,257.6L253.5,258.4L252.0,258.9L250.5,259.2L249.0,259.4L247.5,259.7L246.0,260.1L244.5,260.9L243.0,262.0L241.5,263.3L240.0,264.4L238.5,265.3L237.0,266.2L235.5,267.1L234.0,268.0L232.5,268.9L231.0,269.8L229.5,270.7L228.0,271.6L226.5,272.4L225.0,273.1L223.5,273.8L222.0,274.6L220.5,275.4L219.0,276.3L217.5,277.3L216.0,278.5L214.5,279.9L213.0,281.9L211.5,284.3L210.0,286.8L208.5,289.1L207.0,291.4L205.5,293.6L204.0,295.9L202.5,298.1L201.0,300.4L199.5,302.7L198.0,304.9L196.5,306.7L195.0,308.0L193.5,309.1L192.0,310.1L190.5,311.0L189.0,311.7L187.5,312.2L186.0,312.7L184.5,313.4L183.0,314.3L181.5,315.6L180.0,317.2L178.5,318.9L177.0,320.5L175.5,322.0L174.0,323.5L172.5,325.0L171.0,326.5L169.5,327.9L168.0,329.2L166.5,330.6L165.0,331.9L163.5,333.3L162.0,334.7L160.5,336.1L159.0,337.3L157.5,338.3L156.0,339.2L154.5,340.0L153.0,340.8L151.5,341.7L150.0,342.5L148.5,343.5L147.0,344.5L145.5,345.5L144.0,346.5L142.5,347.5L141.0,348.4L139.5,349.4L138.0,350.3L136.5,351.3L135.0,352.3L133.5,353.4L132.0,354.6L130.5,355.7L129.0,356.9L127.5,358.0L126.0,359.0L124.5,360.0L123.0,361.1L121.5,362.1L120.0,363.2L118.5,364.3L117.0,365.3L115.5,366.3L114.0,367.3L112.5,368.1L111.0,369.0L109.5,369.9L108.0,370.8L106.5,371.7L105.0,372.6L103.5,373.5L102.0,374.3L100.5,375.0L99.0,375.7L97.5,376.4L96.0,376.9L94.5,377.0L93.0,376.9L91.5,376.7L90.0,376.4L88.5,376.0L87.0,375.6L85.5,375.0L84.0,374.5L82.5,373.8L81.0,373.0L79.5,372.2L78.0,371.3L76.5,370.2L75.0,369.0L73.5,367.7L72.0,366.4L70.5,365.1L69.0,363.8L67.5,362.5L66.0,361.0L64.5,359.4L63.0,357.5L61.5,355.7L60.0,353.8L58.5,352.0L57.0,350.1L55.5,348.3L54.0,346.6L52.5,344.9L51.0,343.4L49.5,342.0L48.0,340.5L46.5,339.0L45.0,337.4L43.5,335.9L42.0,334.5L40.5,333.2L39.0,331.9L37.5,330.8L36.0,329.8L34.5,329.0L33.0,328.2L31.5,327.5L30.0,326.8L28.5,326.2L27.0,325.6L25.5,325.1L24.0,324.7L22.5,324.4L21.0,324.1Z" fill="#1f5389"/>
<path d="M21.0,324.1L22.5,324.4L24.0,324.7L25.5,325.1L27.0,325.6L28.5,326.2L30.0,326.8L31.5,327.5L33.0,328.2L34.5,329.0L36.0,329.8L37.5,330.8L39.0,331.9L40.5,333.2L42.0,334.5L43.5,335.9L45.0,337.4L46.5,339.0L48.0,340.5L49.5,342.0L51.0,343.4L52.5,344.9L54.0,346.6L55.5,348.3L57.0,350.1L58.5,352.0L60.0,353.8L61.5,355.7L63.0,357.5L64.5,359.4L66.0,361.0L67.5,362.5L69.0,363.8L70.5,365.1L72.0,366.4L73.5,367.7L75.0,369.0L76.5,370.2L78.0,371.3L79.5,372.2L81.0,373.0L82.5,373.8L84.0,374.5L85.5,375.0L87.0,375.6L88.5,376.0L90.0,376.4L91.5,376.7L93.0,376.9L94.5,377.0L96.0,376.9L97.5,376.4L99.0,375.7L100.5,375.0L102.0,374.3L103.5,373.5L105.0,372.6L106.5,371.7L108.0,370.8L109.5,369.9L111.0,369.0L112.5,368.1L114.0,367.3L115.5,366.3L117.0,365.3L118.5,364.3L120.0,363.2L121.5,362.1L123.0,361.1L124.5,360.0L126.0,359.0L127.5,358.0L129.0,356.9L130.5,355.7L132.0,354.6L133.5,353.4L135.0,352.3L136.5,351.3L138.0,350.3L139.5,349.4L141.0,348.4L142.5,347.5L144.0,346.5L145.5,345.5L147.0,344.5L148.5,343.5L150.0,342.5L151.5,341.7L153.0,340.8L154.5,340.0L156.0,339.2L157.5,338.3L159.0,337.3L160.5,336.1L162.0,334.7L163.5,333.3L165.0,331.9L166.5,330.6L168.0,329.2L169.5,327.9L171.0,326.5L172.5,325.0L174.0,323.5L175.5,322.0L177.0,320.5L178.5,318.9L180.0,317.2L181.5,315.6L183.0,314.3L184.5,313.4L186.0,312.7L187.5,312.2L189.0,311.7L190.5,311.0L192.0,310.1L193.5,309.1L195.0,308.0L196.5,306.7L198.0,304.9L199.5,302.7L201.0,300.4L202.5,298.1L204.0,295.9L205.5,293.6L207.0,291.4L208.5,289.1L210.0,286.8L211.5,284.3L213.0,281.9L214.5,279.9L216.0,278.5L217.5,277.3L219.0,276.3L220.5,275.4L222.0,274.6L223.5,273.8L225.0,273.1L226.5,272.4L228.0,271.6L229.5,270.7L231.0,269.8L232.5,268.9L234.0,268.0L235.5,267.1L237.0,266.2L238.5,265.3L240.0,264.4L241.5,263.3L243.0,262.0L244.5,260.9L246.0,260.1L247.5,259.7L249.0,259.4L250.5,259.2L252.0,258.9L253.5,258.4L255.0,257.6L256.5,256.7L258.0,255.8L259.5,255.0L261.0,254.1L262.5,253.3L264.0,252.5L265.5,251.9L267.0,251.4L268.5,251.0L270.0,250.8L271.5,250.5L273.0,250.3L274.5,249.9L276.0,249.4L277.5,248.7L279.0,247.9L280.5,247.1L282.0,246.3L283.5,245.6L285.0,244.9L286.5,244.2L288.0,243.6L289.5,243.0L291.0,242.5L292.5,242.0L294.0,241.5L295.5,241.1L297.0,240.6L298.5,240.2L300.0,239.8L301.5,239.5L303.0,239.1L304.5,238.8L306.0,238.4L307.5,238.0L309.0,237.7L310.5,237.3L312.0,236.9L313.5,236.5L315.0,236.1L316.5,235.7L318.0,235.3L319.5,234.9L321.0,234.5L322.5,234.1L324.0,233.7L325.5,233.3L327.0,232.9L328.5,232.4L330.0,231.9L331.5,231.4L333.0,230.7L334.5,230.0L336.0,229.1L337.5,228.1L339.0,227.1L340.5,226.0L342.0,224.7L343.5,223.4L345.0,222.3L346.5,221.5L348.0,221.0L349.5,220.7L351.0,220.3L352.5,220.0L354.0,219.7L355.5,219.4L357.0,219.1L358.5,218.8L360.0,218.6L361.5,218.2L363.0,217.9L364.5,217.5L366.0,216.9L367.5,216.4L369.0,215.9L370.5,215.6L372.0,215.5L373.5,215.3L375.0,215.1L376.5,214.8L378.0,214.4L379.5,213.8L381.0,213.1L382.5,212.4L384.0,211.6L385.5,211.0L387.0,210.6L388.5,210.2L390.0,209.8L391.5,209.5L393.0,209.1L394.5,208.8L396.0,208.4L397.5,207.9L399.0,207.4L400.5,206.8L402.0,206.3L403.5,205.7L405.0,205.1L406.5,204.4L408.0,203.8L409.5,203.0L411.0,202.3L412.5,201.6L414.0,200.9L415.5,200.2L417.0,199.7L418.5,199.3L420.0,198.7L421.5,197.7L423.0,196.3L424.5,195.6L426.0,195.6L427.5,195.6L429.0,195.7L430.5,195.7L432.0,195.8L433.5,195.9L435.0,196.0L436.5,196.1L438.0,196.2L439.5,196.3L441.0,196.4L442.5,196.5L444.0,196.7L445.5,196.9L447.0,197.1L448.5,197.3L450.0,197.6L451.5,197.8L453.0,197.9L454.5,198.1L456.0,198.1L457.5,198.1L459.0,197.9L460.5,197.8L462.0,197.5L463.5,197.2L465.0,196.8L466.5,196.4L468.0,196.0L469.5,195.5L471.0,195.1L472.5,194.6L474.0,194.1L475.5,193.6L477.0,193.1L478.5,192.4L480.0,191.8L481.5,191.0L483.0,190.3L484.5,189.5L486.0,188.8L487.5,188.0L489.0,187.3L490.5,186.7L492.0,186.2L493.5,185.6L495.0,185.1L496.5,184.6L498.0,184.2L499.5,183.7L501.0,183.3L502.5,182.9L504.0,182.5L505.5,182.1L507.0,181.8L508.5,181.5L510.0,181.2L511.5,180.9L513.0,180.6L514.5,180.2L516.0,179.8L517.5,179.3L519.0,178.8L520.5,178.2L522.0,177.6L523.5,177.0L525.0,176.3L526.5,175.6L528.0,174.8L529.5,174.0L531.0,173.1L532.5,172.2L534.0,171.0L535.5,169.7L537.0,168.5L538.5,167.3L540.0,166.2L541.5,165.4L543.0,164.7L544.5,164.0L546.0,163.4L547.5,162.9L549.0,162.5L550.5,162.1L552.0,161.7L553.5,161.4L555.0,161.1L556.5,160.8L558.0,160.5L559.5,160.3L561.0,160.1L562.5,159.9L564.0,159.7L565.5,159.6L567.0,159.5L568.5,159.4L570.0,159.3L571.5,159.3L573.0,159.2L574.5,159.2L576.0,159.1L577.5,159.1L579.0,159.1L580.5,159.2L582.0,159.2L583.5,159.3L585.0,159.4L586.5,159.5L588.0,159.6L589.5,159.6L591.0,159.3L592.5,158.7L594.0,158.0L595.5,157.8L597.0,157.6L598.5,157.4L600.0,157.3L601.5,157.2L603.0,157.1L604.5,157.0L606.0,156.9L607.5,156.7L609.0,156.5L610.5,156.3L612.0,156.0L613.5,155.1L615.0,154.1L616.5,153.2L618.0,152.9L619.5,152.9L621.0,153.0L622.5,153.2L624.0,153.4L625.5,153.7L627.0,154.0L628.5,154.3L630.0,154.7L631.5,155.1L633.0,155.5L634.5,156.0L636.0,156.8L637.5,157.7L639.0,158.6L640.5,159.5L642.0,160.3L643.5,160.9L645.0,161.3L646.5,161.6L648.0,161.9L649.5,162.1L651.0,162.2L652.5,162.4L654.0,162.6L655.5,162.8L657.0,163.0L658.5,163.3L660.0,163.5L661.5,163.7L663.0,164.0L664.5,164.3L666.0,164.6L667.5,165.0L669.0,165.6L670.5,166.1L672.0,166.5L673.5,166.8L675.0,167.1L676.5,167.4L678.0,167.7L679.5,168.0L681.0,168.3L682.5,168.6L684.0,168.9L685.5,169.3L687.0,169.7L688.5,170.1L690.0,170.6L691.5,170.9L693.0,171.1L694.5,171.2L696.0,170.9L697.5,170.4L699.0,170.0L700.5,170.1L702.0,170.3L703.5,170.7L705.0,171.1L706.5,171.6L708.0,172.1L709.5,172.6L711.0,172.9L712.5,173.2L714.0,173.4L715.5,173.7L717.0,173.9L718.5,174.1L720.0,174.3L721.5,174.6L723.0,174.8L724.5,175.1L726.0,175.3L727.5,175.7L729.0,176.1L730.5,177.3L732.0,179.4L733.5,181.8L735.0,183.4L736.5,183.7L738.0,183.6L739.5,183.5L741.0,183.4L742.5,183.3L744.0,183.3L745.5,183.5L747.0,183.8L748.5,184.0L750.0,184.1L751.5,184.1L753.0,184.0L754.5,183.3L756.0,182.3L757.5,181.2L759.0,180.2L760.5,179.4L762.0,179.1L763.5,179.4L765.0,180.1L766.5,180.9L768.0,181.6L769.5,182.2L771.0,182.7L772.5,183.3L774.0,183.9L775.5,184.5L777.0,185.0L778.5,185.4L780.0,185.7L781.5,185.9L783.0,186.0L784.5,186.0L786.0,185.9L787.5,185.8L789.0,185.6L790.5,185.5L792.0,185.4L793.5,185.2L795.0,185.1L796.5,185.0L798.0,185.0L799.5,185.0L801.0,185.1L802.5,185.3L804.0,185.5L805.5,185.8L807.0,186.1L808.5,186.4L810.0,186.7L811.5,187.1L813.0,187.5L814.5,187.9L816.0,188.3L817.5,188.6L819.0,189.0L820.5,189.4L822.0,189.9L823.5,190.4L825.0,191.0L826.5,191.5L828.0,192.0L829.5,192.6L831.0,193.1L832.5,193.6L834.0,194.1L835.5,194.6L837.0,195.2L838.5,195.7L840.0,196.3L841.5,196.8L843.0,197.2L844.5,197.6L846.0,197.9L847.5,198.0L849.0,198.0L850.5,198.0L852.0,197.9L853.5,197.8L855.0,197.8L856.5,197.7L858.0,197.6L859.5,197.6L861.0,197.5L862.5,197.5L864.0,197.6L865.5,197.8L867.0,198.3L868.5,198.9L870.0,199.6L871.5,200.4L873.0,201.2L874.5,202.1L876.0,202.9L877.5,203.7L879.0,204.4L880.5,205.0L882.0,205.5L883.5,206.0L885.0,206.5L886.5,206.9L888.0,207.4L889.5,207.8L891.0,208.2L892.5,208.6L894.0,209.0L895.5,209.4L897.0,209.8L898.5,210.1L900.0,210.4L901.5,210.7L903.0,210.9L904.5,211.2L906.0,211.4L907.5,211.7L909.0,212.1L910.5,212.5L912.0,213.1L913.5,213.9L915.0,214.9L916.5,216.0L918.0,217.2L919.5,218.4L921.0,219.5L922.5,220.7L924.0,221.7L925.5,222.7L927.0,223.7L928.5,224.7L930.0,225.7L931.5,226.7L933.0,227.7L934.5,228.7L936.0,229.7L937.5,230.7L939.0,231.7L940.5,232.7L942.0,233.7L943.5,234.7L945.0,235.7L946.5,236.7L948.0,237.7L949.5,238.7L951.0,239.7L952.5,240.7L954.0,241.7L955.5,242.7L957.0,243.7L958.5,244.8L960.0,245.8L961.5,246.8L963.0,247.8L964.5,248.8L966.0,249.8L967.5,250.7L969.0,251.6L970.5,252.7L972.0,253.7L973.5,254.5L975.0,255.0L976.5,255.0L978.0,254.9L979.5,254.8L981.0,254.5L982.5,254.1L984.0,253.4L985.5,252.5L985.5,292.0L984.0,292.0L982.5,291.9L981.0,291.9L979.5,291.8L978.0,291.5L976.5,290.9L975.0,290.1L973.5,289.2L972.0,288.4L970.5,287.6L969.0,286.7L967.5,285.8L966.0,284.9L964.5,283.9L963.0,282.7L961.5,281.5L960.0,280.2L958.5,278.9L957.0,277.5L955.5,276.1L954.0,274.7L952.5,273.3L951.0,271.8L949.5,270.3L948.0,268.8L946.5,267.3L945.0,265.7L943.5,264.2L942.0,262.6L940.5,261.1L939.0,259.7L937.5,258.3L936.0,256.9L934.5,255.6L933.0,254.2L931.5,252.9L930.0,251.6L928.5,250.4L927.0,249.1L925.5,247.9L924.0,246.8L922.5,245.6L921.0,244.5L919.5,243.3L918.0,242.2L916.5,241.0L915.0,240.0L913.5,239.0L912.0,238.2L910.5,237.5L909.0,236.9L907.5,236.4L906.0,236.0L904.5,235.6L903.0,235.2L901.5,234.8L900.0,234.4L898.5,233.9L897.0,233.4L895.5,232.8L894.0,232.2L892.5,231.6L891.0,231.0L889.5,230.3L888.0,229.7L886.5,229.0L885.0,228.3L883.5,227.5L882.0,226.8L880.5,226.0L879.0,225.1L877.5,224.1L876.0,223.0L874.5,221.9L873.0,220.7L871.5,219.5L870.0,218.4L868.5,217.3L867.0,216.4L865.5,215.7L864.0,215.2L862.5,214.9L861.0,214.8L859.5,214.6L858.0,214.5L856.5,214.4L855.0,214.3L853.5,214.3L852.0,214.2L850.5,214.0L849.0,213.9L847.5,213.7L846.0,213.3L844.5,212.9L843.0,212.3L841.5,211.7L840.0,210.9L838.5,210.2L837.0,209.4L835.5,208.7L834.0,208.0L832.5,207.3L831.0,206.6L829.5,205.8L828.0,205.0L826.5,204.3L825.0,203.5L823.5,202.8L822.0,202.0L820.5,201.4L819.0,200.8L817.5,200.3L816.0,199.9L814.5,199.4L813.0,198.9L811.5,198.5L810.0,198.0L808.5,197.6L807.0,197.2L805.5,196.9L804.0,196.6L802.5,196.3L801.0,196.2L799.5,196.0L798.0,196.0L796.5,196.0L795.0,196.1L793.5,196.2L792.0,196.4L790.5,196.5L789.0,196.6L787.5,196.8L786.0,196.9L784.5,197.0L783.0,197.0L781.5,196.9L780.0,196.7L778.5,196.3L777.0,195.8L775.5,195.3L774.0,194.7L772.5,194.1L771.0,193.5L769.5,193.0L768.0,192.5L766.5,192.0L765.0,191.5L763.5,191.2L762.0,191.0L760.5,191.2L759.0,191.9L757.5,192.7L756.0,193.6L754.5,194.4L753.0,194.9L751.5,195.0L750.0,194.9L748.5,194.8L747.0,194.6L745.5,194.2L744.0,194.0L742.5,194.0L741.0,194.0L739.5,194.0L738.0,194.0L736.5,194.0L735.0,193.8L733.5,192.3L732.0,190.2L730.5,188.3L729.0,187.2L727.5,186.8L726.0,186.5L724.5,186.2L723.0,185.9L721.5,185.7L720.0,185.4L718.5,185.2L717.0,185.0L715.5,184.8L714.0,184.5L712.5,184.3L711.0,184.0L709.5,183.6L708.0,183.2L706.5,182.6L705.0,182.0L703.5,181.5L702.0,181.1L700.5,180.8L699.0,180.7L697.5,180.8L696.0,181.1L694.5,181.4L693.0,181.6L691.5,181.8L690.0,181.8L688.5,181.6L687.0,181.3L685.5,180.9L684.0,180.5L682.5,180.0L681.0,179.5L679.5,179.0L678.0,178.6L676.5,178.2L675.0,177.7L673.5,177.2L672.0,176.7L670.5,176.2L669.0,175.7L667.5,175.3L666.0,174.9L664.5,174.6L663.0,174.2L661.5,173.9L660.0,173.6L658.5,173.4L657.0,173.1L655.5,172.8L654.0,172.5L652.5,172.3L651.0,172.0L649.5,171.7L648.0,171.5L646.5,171.2L645.0,170.8L643.5,170.5L642.0,169.9L640.5,169.3L639.0,168.7L637.5,168.1L636.0,167.5L634.5,166.9L633.0,166.5L631.5,166.2L630.0,165.9L628.5,165.6L627.0,165.3L625.5,165.1L624.0,164.9L622.5,164.7L621.0,164.6L619.5,164.6L618.0,164.8L616.5,165.3L615.0,166.0L613.5,166.6L612.0,167.2L610.5,167.5L609.0,167.8L607.5,168.0L606.0,168.2L604.5,168.3L603.0,168.5L601.5,168.6L600.0,168.8L598.5,168.9L597.0,169.1L595.5,169.3L594.0,169.6L592.5,170.1L591.0,170.5L589.5,170.7L588.0,170.7L586.5,170.7L585.0,170.7L583.5,170.7L582.0,170.7L580.5,170.7L579.0,170.7L577.5,170.7L576.0,170.7L574.5,170.7L573.0,170.7L571.5,170.8L570.0,170.8L568.5,170.8L567.0,170.9L565.5,170.9L564.0,170.9L562.5,171.0L561.0,171.0L559.5,171.1L558.0,171.3L556.5,171.5L555.0,171.7L553.5,172.0L552.0,172.3L550.5,172.6L549.0,173.0L547.5,173.4L546.0,173.8L544.5,174.2L543.0,174.7L541.5,175.2L540.0,175.8L538.5,176.6L537.0,177.6L535.5,178.7L534.0,179.8L532.5,181.0L531.0,182.2L529.5,183.3L528.0,184.4L526.5,185.3L525.0,186.3L523.5,187.4L522.0,188.4L520.5,189.5L519.0,190.5L517.5,191.5L516.0,192.3L514.5,193.0L513.0,193.5L511.5,193.8L510.0,194.0L508.5,194.2L507.0,194.4L505.5,194.6L504.0,194.9L502.5,195.4L501.0,195.9L499.5,196.4L498.0,197.0L496.5,197.6L495.0,198.2L493.5,198.8L492.0,199.3L490.5,200.0L489.0,200.6L487.5,201.3L486.0,202.0L484.5,202.7L483.0,203.4L481.5,204.0L480.0,204.7L478.5,205.2L477.0,205.7L475.5,206.1L474.0,206.6L472.5,207.0L471.0,207.4L469.5,207.8L468.0,208.2L466.5,208.6L465.0,208.9L463.5,209.2L462.0,209.5L460.5,209.7L459.0,209.9L457.5,210.0L456.0,210.0L454.5,209.9L453.0,209.7L451.5,209.3L450.0,208.9L448.5,208.5L447.0,208.1L445.5,207.7L444.0,207.5L442.5,207.4L441.0,207.4L439.5,207.3L438.0,207.2L436.5,207.2L435.0,207.1L433.5,207.1L432.0,207.1L430.5,207.0L429.0,207.0L427.5,207.0L426.0,207.0L424.5,207.4L423.0,208.2L421.5,209.2L420.0,210.0L418.5,210.7L417.0,211.2L415.5,211.8L414.0,212.5L412.5,213.2L411.0,213.9L409.5,214.5L408.0,215.1L406.5,215.7L405.0,216.1L403.5,216.5L402.0,216.9L400.5,217.2L399.0,217.6L397.5,217.9L396.0,218.4L394.5,218.8L393.0,219.3L391.5,219.8L390.0,220.3L388.5,220.8L387.0,221.3L385.5,221.9L384.0,222.5L382.5,223.2L381.0,224.0L379.5,224.6L378.0,225.2L376.5,225.6L375.0,225.9L373.5,226.1L372.0,226.2L370.5,226.4L369.0,226.7L367.5,227.3L366.0,228.0L364.5,228.6L363.0,229.1L361.5,229.4L360.0,229.6L358.5,229.8L357.0,230.0L355.5,230.2L354.0,230.5L352.5,230.8L351.0,231.2L349.5,231.8L348.0,232.4L346.5,233.1L345.0,234.1L343.5,235.5L342.0,237.0L340.5,238.4L339.0,239.4L337.5,240.3L336.0,241.1L334.5,241.7L333.0,242.3L331.5,242.9L330.0,243.4L328.5,243.8L327.0,244.2L325.5,244.6L324.0,245.0L322.5,245.3L321.0,245.6L319.5,245.9L318.0,246.2L316.5,246.5L315.0,246.7L313.5,247.0L312.0,247.2L310.5,247.4L309.0,247.7L307.5,247.9L306.0,248.1L304.5,248.3L303.0,248.5L301.5,248.7L300.0,249.0L298.5,249.3L297.0,249.7L295.5,250.1L294.0,250.6L292.5,251.2L291.0,251.7L289.5,252.2L288.0,252.8L286.5,253.4L285.0,254.0L283.5,254.7L282.0,255.4L280.5,256.2L279.0,257.1L277.5,257.9L276.0,258.6L274.5,259.1L273.0,259.4L271.5,259.7L270.0,259.9L268.5,260.2L267.0,260.5L265.5,260.9L264.0,261.4L262.5,262.0L261.0,262.7L259.5,263.4L258.0,264.0L256.5,264.9L255.0,265.9L253.5,266.6L252.0,267.0L250.5,267.1L249.0,267.2L247.5,267.3L246.0,267.5L244.5,268.2L243.0,269.1L241.5,270.2L240.0,271.2L238.5,272.1L237.0,273.1L235.5,273.9L234.0,274.9L232.5,275.8L231.0,276.7L229.5,277.6L228.0,278.5L226.5,279.3L225.0,280.0L223.5,280.7L222.0,281.5L220.5,282.4L219.0,283.4L217.5,284.6L216.0,285.9L214.5,287.5L213.0,289.5L211.5,291.9L210.0,294.3L208.5,296.6L207.0,298.8L205.5,300.9L204.0,303.0L202.5,305.0L201.0,306.9L199.5,308.8L198.0,310.6L196.5,312.2L195.0,313.8L193.5,315.4L192.0,316.8L190.5,317.8L189.0,318.5L187.5,318.9L186.0,319.3L184.5,319.7L183.0,320.4L181.5,321.4L180.0,322.7L178.5,324.1L177.0,325.5L175.5,326.9L174.0,328.5L172.5,330.0L171.0,331.5L169.5,332.9L168.0,334.3L166.5,335.6L165.0,336.9L163.5,338.2L162.0,339.5L160.5,340.7L159.0,341.7L157.5,342.6L156.0,343.4L154.5,344.2L153.0,344.9L151.5,345.6L150.0,346.5L148.5,347.4L147.0,348.5L145.5,349.5L144.0,350.5L142.5,351.5L141.0,352.5L139.5,353.5L138.0,354.5L136.5,355.5L135.0,356.4L133.5,357.4L132.0,358.4L130.5,359.3L129.0,360.3L127.5,361.2L126.0,362.2L124.5,363.1L123.0,364.0L121.5,365.0L120.0,365.9L118.5,366.9L117.0,367.8L115.5,368.8L114.0,369.7L112.5,370.6L111.0,371.5L109.5,372.4L108.0,373.3L106.5,374.2L105.0,375.0L103.5,375.8L102.0,376.6L100.5,377.2L99.0,377.9L97.5,378.4L96.0,378.9L94.5,379.0L93.0,378.7L91.5,378.2L90.0,377.7L88.5,377.2L87.0,376.7L85.5,376.1L84.0,375.4L82.5,374.7L81.0,373.8L79.5,372.9L78.0,371.8L76.5,370.7L75.0,369.3L73.5,367.9L72.0,366.6L70.5,365.2L69.0,363.9L67.5,362.5L66.0,361.0L64.5,359.4L63.0,357.5L61.5,355.7L60.0,353.8L58.5,352.0L57.0,350.1L55.5,348.3L54.0,346.6L52.5,344.9L51.0,343.4L49.5,342.0L48.0,340.5L46.5,339.0L45.0,337.4L43.5,335.9L42.0,334.5L40.5,333.2L39.0,331.9L37.5,330.8L36.0,329.8L34.5,329.0L33.0,328.2L31.5,327.5L30.0,326.8L28.5,326.2L27.0,325.6L25.5,325.1L24.0,324.7L22.5,324.4L21.0,324.1Z" fill="#1f8fce"/>
<path d="M21.0,324.1L22.5,324.4L24.0,324.7L25.5,325.1L27.0,325.6L28.5,326.2L30.0,326.8L31.5,327.5L33.0,328.2L34.5,329.0L36.0,329.8L37.5,330.8L39.0,331.9L40.5,333.2L42.0,334.5L43.5,335.9L45.0,337.4L46.5,339.0L48.0,340.5L49.5,342.0L51.0,343.4L52.5,344.9L54.0,346.6L55.5,348.3L57.0,350.1L58.5,352.0L60.0,353.8L61.5,355.7L63.0,357.5L64.5,359.4L66.0,361.0L67.5,362.5L69.0,363.9L70.5,365.2L72.0,366.6L73.5,367.9L75.0,369.3L76.5,370.7L78.0,371.8L79.5,372.9L81.0,373.8L82.5,374.7L84.0,375.4L85.5,376.1L87.0,376.7L88.5,377.2L90.0,377.7L91.5,378.2L93.0,378.7L94.5,379.0L96.0,378.9L97.5,378.4L99.0,377.9L100.5,377.2L102.0,376.6L103.5,375.8L105.0,375.0L106.5,374.2L108.0,373.3L109.5,372.4L111.0,371.5L112.5,370.6L114.0,369.7L115.5,368.8L117.0,367.8L118.5,366.9L120.0,365.9L121.5,365.0L123.0,364.0L124.5,363.1L126.0,362.2L127.5,361.2L129.0,360.3L130.5,359.3L132.0,358.4L133.5,357.4L135.0,356.4L136.5,355.5L138.0,354.5L139.5,353.5L141.0,352.5L142.5,351.5L144.0,350.5L145.5,349.5L147.0,348.5L148.5,347.4L150.0,346.5L151.5,345.6L153.0,344.9L154.5,344.2L156.0,343.4L157.5,342.6L159.0,341.7L160.5,340.7L162.0,339.5L163.5,338.2L165.0,336.9L166.5,335.6L168.0,334.3L169.5,332.9L171.0,331.5L172.5,330.0L174.0,328.5L175.5,326.9L177.0,325.5L178.5,324.1L180.0,322.7L181.5,321.4L183.0,320.4L184.5,319.7L186.0,319.3L187.5,318.9L189.0,318.5L190.5,317.8L192.0,316.8L193.5,315.4L195.0,313.8L196.5,312.2L198.0,310.6L199.5,308.8L201.0,306.9L202.5,305.0L204.0,303.0L205.5,300.9L207.0,298.8L208.5,296.6L210.0,294.3L211.5,291.9L213.0,289.5L214.5,287.5L216.0,285.9L217.5,284.6L219.0,283.4L220.5,282.4L222.0,281.5L223.5,280.7L225.0,280.0L226.5,279.3L228.0,278.5L229.5,277.6L231.0,276.7L232.5,275.8L234.0,274.9L235.5,273.9L237.0,273.1L238.5,272.1L240.0,271.2L241.5,270.2L243.0,269.1L244.5,268.2L246.0,267.5L247.5,267.3L249.0,267.2L250.5,267.1L252.0,267.0L253.5,266.6L255.0,265.9L256.5,264.9L258.0,264.0L259.5,263.4L261.0,262.7L262.5,262.0L264.0,261.4L265.5,260.9L267.0,260.5L268.5,260.2L270.0,259.9L271.5,259.7L273.0,259.4L274.5,259.1L276.0,258.6L277.5,257.9L279.0,257.1L280.5,256.2L282.0,255.4L283.5,254.7L285.0,254.0L286.5,253.4L288.0,252.8L289.5,252.2L291.0,251.7L292.5,251.2L294.0,250.6L295.5,250.1L297.0,249.7L298.5,249.3L300.0,249.0L301.5,248.7L303.0,248.5L304.5,248.3L306.0,248.1L307.5,247.9L309.0,247.7L310.5,247.4L312.0,247.2L313.5,247.0L315.0,246.7L316.5,246.5L318.0,246.2L319.5,245.9L321.0,245.6L322.5,245.3L324.0,245.0L325.5,244.6L327.0,244.2L328.5,243.8L330.0,243.4L331.5,242.9L333.0,242.3L334.5,241.7L336.0,241.1L337.5,240.3L339.0,239.4L340.5,238.4L342.0,237.0L343.5,235.5L345.0,234.1L346.5,233.1L348.0,232.4L349.5,231.8L351.0,231.2L352.5,230.8L354.0,230.5L355.5,230.2L357.0,230.0L358.5,229.8L360.0,229.6L361.5,229.4L363.0,229.1L364.5,228.6L366.0,228.0L367.5,227.3L369.0,226.7L370.5,226.4L372.0,226.2L373.5,226.1L375.0,225.9L376.5,225.6L378.0,225.2L379.5,224.6L381.0,224.0L382.5,223.2L384.0,222.5L385.5,221.9L387.0,221.3L388.5,220.8L390.0,220.3L391.5,219.8L393.0,219.3L394.5,218.8L396.0,218.4L397.5,217.9L399.0,217.6L400.5,217.2L402.0,216.9L403.5,216.5L405.0,216.1L406.5,215.7L408.0,215.1L409.5,214.5L411.0,213.9L412.5,213.2L414.0,212.5L415.5,211.8L417.0,211.2L418.5,210.7L420.0,210.0L421.5,209.2L423.0,208.2L424.5,207.4L426.0,207.0L427.5,207.0L429.0,207.0L430.5,207.0L432.0,207.1L433.5,207.1L435.0,207.1L436.5,207.2L438.0,207.2L439.5,207.3L441.0,207.4L442.5,207.4L444.0,207.5L445.5,207.7L447.0,208.1L448.5,208.5L450.0,208.9L451.5,209.3L453.0,209.7L454.5,209.9L456.0,210.0L457.5,210.0L459.0,209.9L460.5,209.7L462.0,209.5L463.5,209.2L465.0,208.9L466.5,208.6L468.0,208.2L469.5,207.8L471.0,207.4L472.5,207.0L474.0,206.6L475.5,206.1L477.0,205.7L478.5,205.2L480.0,204.7L481.5,204.0L483.0,203.4L484.5,202.7L486.0,202.0L487.5,201.3L489.0,200.6L490.5,200.0L492.0,199.3L493.5,198.8L495.0,198.2L496.5,197.6L498.0,197.0L499.5,196.4L501.0,195.9L502.5,195.4L504.0,194.9L505.5,194.6L507.0,194.4L508.5,194.2L510.0,194.0L511.5,193.8L513.0,193.5L514.5,193.0L516.0,192.3L517.5,191.5L519.0,190.5L520.5,189.5L522.0,188.4L523.5,187.4L525.0,186.3L526.5,185.3L528.0,184.4L529.5,183.3L531.0,182.2L532.5,181.0L534.0,179.8L535.5,178.7L537.0,177.6L538.5,176.6L540.0,175.8L541.5,175.2L543.0,174.7L544.5,174.2L546.0,173.8L547.5,173.4L549.0,173.0L550.5,172.6L552.0,172.3L553.5,172.0L555.0,171.7L556.5,171.5L558.0,171.3L559.5,171.1L561.0,171.0L562.5,171.0L564.0,170.9L565.5,170.9L567.0,170.9L568.5,170.8L570.0,170.8L571.5,170.8L573.0,170.7L574.5,170.7L576.0,170.7L577.5,170.7L579.0,170.7L580.5,170.7L582.0,170.7L583.5,170.7L585.0,170.7L586.5,170.7L588.0,170.7L589.5,170.7L591.0,170.5L592.5,170.1L594.0,169.6L595.5,169.3L597.0,169.1L598.5,168.9L600.0,168.8L601.5,168.6L603.0,168.5L604.5,168.3L606.0,168.2L607.5,168.0L609.0,167.8L610.5,167.5L612.0,167.2L613.5,166.6L615.0,166.0L616.5,165.3L618.0,164.8L619.5,164.6L621.0,164.6L622.5,164.7L624.0,164.9L625.5,165.1L627.0,165.3L628.5,165.6L630.0,165.9L631.5,166.2L633.0,166.5L634.5,166.9L636.0,167.5L637.5,168.1L639.0,168.7L640.5,169.3L642.0,169.9L643.5,170.5L645.0,170.8L646.5,171.2L648.0,171.5L649.5,171.7L651.0,172.0L652.5,172.3L654.0,172.5L655.5,172.8L657.0,173.1L658.5,173.4L660.0,173.6L661.5,173.9L663.0,174.2L664.5,174.6L666.0,174.9L667.5,175.3L669.0,175.7L670.5,176.2L672.0,176.7L673.5,177.2L675.0,177.7L676.5,178.2L678.0,178.6L679.5,179.0L681.0,179.5L682.5,180.0L684.0,180.5L685.5,180.9L687.0,181.3L688.5,181.6L690.0,181.8L691.5,181.8L693.0,181.6L694.5,181.4L696.0,181.1L697.5,180.8L699.0,180.7L700.5,180.8L702.0,181.1L703.5,181.5L705.0,182.0L706.5,182.6L708.0,183.2L709.5,183.6L711.0,184.0L712.5,184.3L714.0,184.5L715.5,184.8L717.0,185.0L718.5,185.2L720.0,185.4L721.5,185.7L723.0,185.9L724.5,186.2L726.0,186.5L727.5,186.8L729.0,187.2L730.5,188.3L732.0,190.2L733.5,192.3L735.0,193.8L736.5,194.0L738.0,194.0L739.5,194.0L741.0,194.0L742.5,194.0L744.0,194.0L745.5,194.2L747.0,194.6L748.5,194.8L750.0,194.9L751.5,195.0L753.0,194.9L754.5,194.4L756.0,193.6L757.5,192.7L759.0,191.9L760.5,191.2L762.0,191.0L763.5,191.2L765.0,191.5L766.5,192.0L768.0,192.5L769.5,193.0L771.0,193.5L772.5,194.1L774.0,194.7L775.5,195.3L777.0,195.8L778.5,196.3L780.0,196.7L781.5,196.9L783.0,197.0L784.5,197.0L786.0,196.9L787.5,196.8L789.0,196.6L790.5,196.5L792.0,196.4L793.5,196.2L795.0,196.1L796.5,196.0L798.0,196.0L799.5,196.0L801.0,196.2L802.5,196.3L804.0,196.6L805.5,196.9L807.0,197.2L808.5,197.6L810.0,198.0L811.5,198.5L813.0,198.9L814.5,199.4L816.0,199.9L817.5,200.3L819.0,200.8L820.5,201.4L822.0,202.0L823.5,202.8L825.0,203.5L826.5,204.3L828.0,205.0L829.5,205.8L831.0,206.6L832.5,207.3L834.0,208.0L835.5,208.7L837.0,209.4L838.5,210.2L840.0,210.9L841.5,211.7L843.0,212.3L844.5,212.9L846.0,213.3L847.5,213.7L849.0,213.9L850.5,214.0L852.0,214.2L853.5,214.3L855.0,214.3L856.5,214.4L858.0,214.5L859.5,214.6L861.0,214.8L862.5,214.9L864.0,215.2L865.5,215.7L867.0,216.4L868.5,217.3L870.0,218.4L871.5,219.5L873.0,220.7L874.5,221.9L876.0,223.0L877.5,224.1L879.0,225.1L880.5,226.0L882.0,226.8L883.5,227.5L885.0,228.3L886.5,229.0L888.0,229.7L889.5,230.3L891.0,231.0L892.5,231.6L894.0,232.2L895.5,232.8L897.0,233.4L898.5,233.9L900.0,234.4L901.5,234.8L903.0,235.2L904.5,235.6L906.0,236.0L907.5,236.4L909.0,236.9L910.5,237.5L912.0,238.2L913.5,239.0L915.0,240.0L916.5,241.0L918.0,242.2L919.5,243.3L921.0,244.5L922.5,245.6L924.0,246.8L925.5,247.9L927.0,249.1L928.5,250.4L930.0,251.6L931.5,252.9L933.0,254.2L934.5,255.6L936.0,256.9L937.5,258.3L939.0,259.7L940.5,261.1L942.0,262.6L943.5,264.2L945.0,265.7L946.5,267.3L948.0,268.8L949.5,270.3L951.0,271.8L952.5,273.3L954.0,274.7L955.5,276.1L957.0,277.5L958.5,278.9L960.0,280.2L961.5,281.5L963.0,282.7L964.5,283.9L966.0,284.9L967.5,285.8L969.0,286.7L970.5,287.6L972.0,288.4L973.5,289.2L975.0,290.1L976.5,290.9L978.0,291.5L979.5,291.8L981.0,291.9L982.5,291.9L984.0,292.0L985.5,292.0L985.5,305.3L984.0,305.2L982.5,305.1L981.0,304.9L979.5,304.7L978.0,304.5L976.5,304.2L975.0,303.8L973.5,303.4L972.0,303.0L970.5,302.5L969.0,302.0L967.5,301.4L966.0,300.7L964.5,299.9L963.0,298.8L961.5,297.5L960.0,296.2L958.5,295.0L957.0,294.1L955.5,293.5L954.0,292.9L952.5,292.2L951.0,291.3L949.5,290.3L948.0,289.1L946.5,287.9L945.0,286.6L943.5,285.3L942.0,284.0L940.5,282.8L939.0,281.7L937.5,280.7L936.0,279.7L934.5,278.8L933.0,277.9L931.5,277.1L930.0,276.3L928.5,275.5L927.0,274.6L925.5,273.8L924.0,273.0L922.5,272.2L921.0,271.4L919.5,270.5L918.0,269.6L916.5,268.7L915.0,267.9L913.5,267.1L912.0,266.5L910.5,266.0L909.0,265.6L907.5,265.3L906.0,265.1L904.5,264.9L903.0,264.7L901.5,264.4L900.0,264.2L898.5,263.9L897.0,263.5L895.5,263.0L894.0,262.4L892.5,261.7L891.0,261.0L889.5,260.3L888.0,259.5L886.5,258.8L885.0,258.0L883.5,257.3L882.0,256.6L880.5,256.0L879.0,255.4L877.5,254.8L876.0,254.2L874.5,253.7L873.0,253.1L871.5,252.6L870.0,252.0L868.5,251.5L867.0,251.1L865.5,250.6L864.0,250.2L862.5,249.9L861.0,249.6L859.5,249.3L858.0,249.1L856.5,248.9L855.0,248.6L853.5,248.4L852.0,248.2L850.5,248.0L849.0,247.7L847.5,247.4L846.0,247.1L844.5,246.7L843.0,246.4L841.5,246.0L840.0,245.6L838.5,245.2L837.0,244.8L835.5,244.4L834.0,244.0L832.5,243.6L831.0,243.2L829.5,242.9L828.0,242.5L826.5,242.1L825.0,241.7L823.5,241.3L822.0,240.9L820.5,240.6L819.0,240.2L817.5,239.9L816.0,239.5L814.5,239.1L813.0,238.7L811.5,238.3L810.0,237.9L808.5,237.6L807.0,237.2L805.5,236.9L804.0,236.6L802.5,236.3L801.0,236.2L799.5,236.0L798.0,236.0L796.5,236.1L795.0,236.4L793.5,236.9L792.0,237.4L790.5,238.0L789.0,238.6L787.5,239.1L786.0,239.6L784.5,239.9L783.0,240.0L781.5,239.9L780.0,239.7L778.5,239.4L777.0,239.1L775.5,238.7L774.0,238.3L772.5,237.9L771.0,237.5L769.5,237.2L768.0,237.0L766.5,236.9L765.0,236.8L763.5,236.7L762.0,236.6L760.5,236.5L759.0,236.5L757.5,236.4L756.0,236.3L754.5,236.2L753.0,236.1L751.5,235.9L750.0,235.7L748.5,235.5L747.0,235.1L745.5,234.8L744.0,234.4L742.5,234.1L741.0,233.7L739.5,233.4L738.0,233.1L736.5,232.9L735.0,232.8L733.5,232.6L732.0,232.5L730.5,232.4L729.0,232.2L727.5,232.1L726.0,232.0L724.5,231.9L723.0,231.8L721.5,231.7L720.0,231.6L718.5,231.5L717.0,231.4L715.5,231.3L714.0,231.2L712.5,231.0L711.0,230.9L709.5,230.7L708.0,230.5L706.5,230.2L705.0,230.0L703.5,229.8L702.0,229.6L700.5,229.5L699.0,229.5L697.5,229.6L696.0,229.7L694.5,229.8L693.0,230.0L691.5,230.2L690.0,230.5L688.5,230.7L687.0,231.0L685.5,231.3L684.0,231.5L682.5,231.8L681.0,232.0L679.5,232.2L678.0,232.3L676.5,232.4L675.0,232.5L673.5,232.5L672.0,232.3L670.5,232.1L669.0,231.8L667.5,231.4L666.0,231.0L664.5,230.6L663.0,230.2L661.5,229.9L660.0,229.5L658.5,229.1L657.0,228.7L655.5,228.3L654.0,227.9L652.5,227.4L651.0,227.0L649.5,226.5L648.0,226.0L646.5,225.6L645.0,225.1L643.5,224.7L642.0,224.3L640.5,223.9L639.0,223.5L637.5,223.1L636.0,222.8L634.5,222.4L633.0,222.0L631.5,221.6L630.0,221.3L628.5,221.1L627.0,221.0L625.5,221.0L624.0,221.1L622.5,221.2L621.0,221.4L619.5,221.6L618.0,221.8L616.5,222.0L615.0,222.3L613.5,222.6L612.0,222.9L610.5,223.1L609.0,223.4L607.5,223.7L606.0,223.9L604.5,224.2L603.0,224.5L601.5,224.9L600.0,225.3L598.5,225.6L597.0,226.0L595.5,226.4L594.0,226.7L592.5,227.1L591.0,227.4L589.5,227.6L588.0,227.9L586.5,228.1L585.0,228.2L583.5,228.4L582.0,228.5L580.5,228.6L579.0,228.7L577.5,228.8L576.0,228.9L574.5,229.0L573.0,229.1L571.5,229.1L570.0,229.2L568.5,229.4L567.0,229.5L565.5,229.6L564.0,229.8L562.5,229.9L561.0,230.1L559.5,230.4L558.0,230.7L556.5,231.0L555.0,231.4L553.5,231.8L552.0,232.3L550.5,232.8L549.0,233.3L547.5,233.8L546.0,234.4L544.5,235.0L543.0,235.6L541.5,236.2L540.0,237.0L538.5,237.9L537.0,238.9L535.5,239.9L534.0,241.1L532.5,242.2L531.0,243.3L529.5,244.4L528.0,245.4L526.5,246.3L525.0,247.2L523.5,248.2L522.0,249.2L520.5,250.2L519.0,251.2L517.5,252.0L516.0,252.8L514.5,253.4L513.0,253.8L511.5,254.1L510.0,254.2L508.5,254.3L507.0,254.4L505.5,254.6L504.0,254.9L502.5,255.3L501.0,255.8L499.5,256.3L498.0,256.9L496.5,257.6L495.0,258.2L493.5,258.8L492.0,259.4L490.5,260.1L489.0,260.9L487.5,261.7L486.0,262.5L484.5,263.3L483.0,264.1L481.5,264.7L480.0,265.3L478.5,265.7L477.0,266.0L475.5,266.0L474.0,266.0L472.5,266.0L471.0,266.0L469.5,266.0L468.0,266.0L466.5,266.0L465.0,266.0L463.5,266.0L462.0,266.0L460.5,266.0L459.0,266.0L457.5,266.0L456.0,266.0L454.5,266.0L453.0,265.9L451.5,265.8L450.0,265.6L448.5,265.4L447.0,265.3L445.5,265.1L444.0,265.0L442.5,264.9L441.0,264.9L439.5,264.8L438.0,264.7L436.5,264.6L435.0,264.6L433.5,264.5L432.0,264.5L430.5,264.5L429.0,264.7L427.5,265.1L426.0,265.6L424.5,266.2L423.0,266.9L421.5,267.6L420.0,268.2L418.5,268.8L417.0,269.2L415.5,269.7L414.0,270.2L412.5,270.7L411.0,271.1L409.5,271.6L408.0,272.0L406.5,272.4L405.0,272.7L403.5,273.0L402.0,273.3L400.5,273.6L399.0,273.8L397.5,274.1L396.0,274.4L394.5,274.7L393.0,275.1L391.5,275.7L390.0,276.4L388.5,277.1L387.0,277.9L385.5,278.7L384.0,279.5L382.5,280.3L381.0,281.0L379.5,281.7L378.0,282.3L376.5,283.0L375.0,283.6L373.5,284.3L372.0,284.8L370.5,285.4L369.0,285.9L367.5,286.3L366.0,286.6L364.5,287.0L363.0,287.3L361.5,287.6L360.0,287.9L358.5,288.2L357.0,288.5L355.5,288.9L354.0,289.3L352.5,289.7L351.0,290.1L349.5,290.6L348.0,291.0L346.5,291.5L345.0,292.0L343.5,292.5L342.0,293.1L340.5,293.7L339.0,294.5L337.5,295.2L336.0,296.0L334.5,296.8L333.0,297.6L331.5,298.4L330.0,299.1L328.5,299.7L327.0,300.2L325.5,300.7L324.0,300.9L322.5,301.1L321.0,301.2L319.5,301.4L318.0,301.5L316.5,301.6L315.0,301.7L313.5,301.8L312.0,301.9L310.5,301.9L309.0,302.0L307.5,302.0L306.0,302.0L304.5,302.0L303.0,302.0L301.5,302.0L300.0,301.9L298.5,301.9L297.0,301.8L295.5,301.8L294.0,301.7L292.5,301.6L291.0,301.5L289.5,301.5L288.0,301.4L286.5,301.3L285.0,301.2L283.5,301.1L282.0,301.1L280.5,301.0L279.0,300.9L277.5,300.7L276.0,300.6L274.5,300.4L273.0,300.3L271.5,300.1L270.0,300.0L268.5,300.0L267.0,300.1L265.5,300.3L264.0,300.8L262.5,301.2L261.0,301.6L259.5,301.9L258.0,301.9L256.5,301.9L255.0,301.9L253.5,301.9L252.0,301.9L250.5,301.6L249.0,301.1L247.5,300.7L246.0,300.6L244.5,300.8L243.0,301.1L241.5,301.5L240.0,301.9L238.5,302.2L237.0,302.5L235.5,302.8L234.0,303.1L232.5,303.2L231.0,303.4L229.5,303.5L228.0,303.7L226.5,304.0L225.0,304.5L223.5,305.1L222.0,305.9L220.5,306.7L219.0,307.8L217.5,309.1L216.0,310.3L214.5,311.6L213.0,312.9L211.5,314.3L210.0,315.7L208.5,317.1L207.0,318.6L205.5,320.1L204.0,321.7L202.5,323.2L201.0,324.7L199.5,326.1L198.0,327.4L196.5,328.7L195.0,329.8L193.5,330.7L192.0,331.2L190.5,331.6L189.0,332.0L187.5,332.3L186.0,332.6L184.5,332.9L183.0,333.4L181.5,333.8L180.0,334.3L178.5,334.9L177.0,335.5L175.5,336.3L174.0,337.2L172.5,338.3L171.0,339.7L169.5,341.3L168.0,342.8L166.5,344.2L165.0,345.6L163.5,347.0L162.0,348.5L160.5,349.8L159.0,351.0L157.5,352.0L156.0,352.8L154.5,353.6L153.0,354.3L151.5,355.0L150.0,355.6L148.5,356.2L147.0,356.7L145.5,357.3L144.0,357.9L142.5,358.6L141.0,359.4L139.5,360.3L138.0,361.1L136.5,362.0L135.0,362.8L133.5,363.5L132.0,364.3L130.5,365.0L129.0,365.8L127.5,366.5L126.0,367.2L124.5,368.0L123.0,368.7L121.5,369.5L120.0,370.3L118.5,371.2L117.0,372.0L115.5,372.9L114.0,373.7L112.5,374.6L111.0,375.4L109.5,376.1L108.0,376.9L106.5,377.7L105.0,378.5L103.5,379.2L102.0,379.7L100.5,380.1L99.0,380.5L97.5,380.7L96.0,380.9L94.5,381.0L93.0,380.5L91.5,379.7L90.0,379.1L88.5,378.4L87.0,377.7L85.5,376.9L84.0,376.1L82.5,375.2L81.0,374.2L79.5,373.1L78.0,372.0L76.5,370.7L75.0,369.4L73.5,368.0L72.0,366.6L70.5,365.2L69.0,363.9L67.5,362.5L66.0,361.0L64.5,359.4L63.0,357.5L61.5,355.7L60.0,353.8L58.5,352.0L57.0,350.1L55.5,348.3L54.0,346.6L52.5,344.9L51.0,343.4L49.5,342.0L48.0,340.5L46.5,339.0L45.0,337.4L43.5,335.9L42.0,334.5L40.5,333.2L39.0,331.9L37.5,330.8L36.0,329.8L34.5,329.0L33.0,328.2L31.5,327.5L30.0,326.8L28.5,326.2L27.0,325.6L25.5,325.1L24.0,324.7L22.5,324.4L21.0,324.1Z" fill="#7b0530"/>
<path d="M21.0,324.1L22.5,324.4L24.0,324.7L25.5,325.1L27.0,325.6L28.5,326.2L30.0,326.8L31.5,327.5L33.0,328.2L34.5,329.0L36.0,329.8L37.5,330.8L39.0,331.9L40.5,333.2L42.0,334.5L43.5,335.9L45.0,337.4L46.5,339.0L48.0,340.5L49.5,342.0L51.0,343.4L52.5,344.9L54.0,346.6L55.5,348.3L57.0,350.1L58.5,352.0L60.0,353.8L61.5,355.7L63.0,357.5L64.5,359.4L66.0,361.0L67.5,362.5L69.0,363.9L70.5,365.2L72.0,366.6L73.5,368.0L75.0,369.4L76.5,370.7L78.0,372.0L79.5,373.1L81.0,374.2L82.5,375.2L84.0,376.1L85.5,376.9L87.0,377.7L88.5,378.4L90.0,379.1L91.5,379.7L93.0,380.5L94.5,381.0L96.0,380.9L97.5,380.7L99.0,380.5L100.5,380.1L102.0,379.7L103.5,379.2L105.0,378.5L106.5,377.7L108.0,376.9L109.5,376.1L111.0,375.4L112.5,374.6L114.0,373.7L115.5,372.9L117.0,372.0L118.5,371.2L120.0,370.3L121.5,369.5L123.0,368.7L124.5,368.0L126.0,367.2L127.5,366.5L129.0,365.8L130.5,365.0L132.0,364.3L133.5,363.5L135.0,362.8L136.5,362.0L138.0,361.1L139.5,360.3L141.0,359.4L142.5,358.6L144.0,357.9L145.5,357.3L147.0,356.7L148.5,356.2L150.0,355.6L151.5,355.0L153.0,354.3L154.5,353.6L156.0,352.8L157.5,352.0L159.0,351.0L160.5,349.8L162.0,348.5L163.5,347.0L165.0,345.6L166.5,344.2L168.0,342.8L169.5,341.3L171.0,339.7L172.5,338.3L174.0,337.2L175.5,336.3L177.0,335.5L178.5,334.9L180.0,334.3L181.5,333.8L183.0,333.4L184.5,332.9L186.0,332.6L187.5,332.3L189.0,332.0L190.5,331.6L192.0,331.2L193.5,330.7L195.0,329.8L196.5,328.7L198.0,327.4L199.5,326.1L201.0,324.7L202.5,323.2L204.0,321.7L205.5,320.1L207.0,318.6L208.5,317.1L210.0,315.7L211.5,314.3L213.0,312.9L214.5,311.6L216.0,310.3L217.5,309.1L219.0,307.8L220.5,306.7L222.0,305.9L223.5,305.1L225.0,304.5L226.5,304.0L228.0,303.7L229.5,303.5L231.0,303.4L232.5,303.2L234.0,303.1L235.5,302.8L237.0,302.5L238.5,302.2L240.0,301.9L241.5,301.5L243.0,301.1L244.5,300.8L246.0,300.6L247.5,300.7L249.0,301.1L250.5,301.6L252.0,301.9L253.5,301.9L255.0,301.9L256.5,301.9L258.0,301.9L259.5,301.9L261.0,301.6L262.5,301.2L264.0,300.8L265.5,300.3L267.0,300.1L268.5,300.0L270.0,300.0L271.5,300.1L273.0,300.3L274.5,300.4L276.0,300.6L277.5,300.7L279.0,300.9L280.5,301.0L282.0,301.1L283.5,301.1L285.0,301.2L286.5,301.3L288.0,301.4L289.5,301.5L291.0,301.5L292.5,301.6L294.0,301.7L295.5,301.8L297.0,301.8L298.5,301.9L300.0,301.9L301.5,302.0L303.0,302.0L304.5,302.0L306.0,302.0L307.5,302.0L309.0,302.0L310.5,301.9L312.0,301.9L313.5,301.8L315.0,301.7L316.5,301.6L318.0,301.5L319.5,301.4L321.0,301.2L322.5,301.1L324.0,300.9L325.5,300.7L327.0,300.2L328.5,299.7L330.0,299.1L331.5,298.4L333.0,297.6L334.5,296.8L336.0,296.0L337.5,295.2L339.0,294.5L340.5,293.7L342.0,293.1L343.5,292.5L345.0,292.0L346.5,291.5L348.0,291.0L349.5,290.6L351.0,290.1L352.5,289.7L354.0,289.3L355.5,288.9L357.0,288.5L358.5,288.2L360.0,287.9L361.5,287.6L363.0,287.3L364.5,287.0L366.0,286.6L367.5,286.3L369.0,285.9L370.5,285.4L372.0,284.8L373.5,284.3L375.0,283.6L376.5,283.0L378.0,282.3L379.5,281.7L381.0,281.0L382.5,280.3L384.0,279.5L385.5,278.7L387.0,277.9L388.5,277.1L390.0,276.4L391.5,275.7L393.0,275.1L394.5,274.7L396.0,274.4L397.5,274.1L399.0,273.8L400.5,273.6L402.0,273.3L403.5,273.0L405.0,272.7L406.5,272.4L408.0,272.0L409.5,271.6L411.0,271.1L412.5,270.7L414.0,270.2L415.5,269.7L417.0,269.2L418.5,268.8L420.0,268.2L421.5,267.6L423.0,266.9L424.5,266.2L426.0,265.6L427.5,265.1L429.0,264.7L430.5,264.5L432.0,264.5L433.5,264.5L435.0,264.6L436.5,264.6L438.0,264.7L439.5,264.8L441.0,264.9L442.5,264.9L444.0,265.0L445.5,265.1L447.0,265.3L448.5,265.4L450.0,265.6L451.5,265.8L453.0,265.9L454.5,266.0L456.0,266.0L457.5,266.0L459.0,266.0L460.5,266.0L462.0,266.0L463.5,266.0L465.0,266.0L466.5,266.0L468.0,266.0L469.5,266.0L471.0,266.0L472.5,266.0L474.0,266.0L475.5,266.0L477.0,266.0L478.5,265.7L480.0,265.3L481.5,264.7L483.0,264.1L484.5,263.3L486.0,262.5L487.5,261.7L489.0,260.9L490.5,260.1L492.0,259.4L493.5,258.8L495.0,258.2L496.5,257.6L498.0,256.9L499.5,256.3L501.0,255.8L502.5,255.3L504.0,254.9L505.5,254.6L507.0,254.4L508.5,254.3L510.0,254.2L511.5,254.1L513.0,253.8L514.5,253.4L516.0,252.8L517.5,252.0L519.0,251.2L520.5,250.2L522.0,249.2L523.5,248.2L525.0,247.2L526.5,246.3L528.0,245.4L529.5,244.4L531.0,243.3L532.5,242.2L534.0,241.1L535.5,239.9L537.0,238.9L538.5,237.9L540.0,237.0L541.5,236.2L543.0,235.6L544.5,235.0L546.0,234.4L547.5,233.8L549.0,233.3L550.5,232.8L552.0,232.3L553.5,231.8L555.0,231.4L556.5,231.0L558.0,230.7L559.5,230.4L561.0,230.1L562.5,229.9L564.0,229.8L565.5,229.6L567.0,229.5L568.5,229.4L570.0,229.2L571.5,229.1L573.0,229.1L574.5,229.0L576.0,228.9L577.5,228.8L579.0,228.7L580.5,228.6L582.0,228.5L583.5,228.4L585.0,228.2L586.5,228.1L588.0,227.9L589.5,227.6L591.0,227.4L592.5,227.1L594.0,226.7L595.5,226.4L597.0,226.0L598.5,225.6L600.0,225.3L601.5,224.9L603.0,224.5L604.5,224.2L606.0,223.9L607.5,223.7L609.0,223.4L610.5,223.1L612.0,222.9L613.5,222.6L615.0,222.3L616.5,222.0L618.0,221.8L619.5,221.6L621.0,221.4L622.5,221.2L624.0,221.1L625.5,221.0L627.0,221.0L628.5,221.1L630.0,221.3L631.5,221.6L633.0,222.0L634.5,222.4L636.0,222.8L637.5,223.1L639.0,223.5L640.5,223.9L642.0,224.3L643.5,224.7L645.0,225.1L646.5,225.6L648.0,226.0L649.5,226.5L651.0,227.0L652.5,227.4L654.0,227.9L655.5,228.3L657.0,228.7L658.5,229.1L660.0,229.5L661.5,229.9L663.0,230.2L664.5,230.6L666.0,231.0L667.5,231.4L669.0,231.8L670.5,232.1L672.0,232.3L673.5,232.5L675.0,232.5L676.5,232.4L678.0,232.3L679.5,232.2L681.0,232.0L682.5,231.8L684.0,231.5L685.5,231.3L687.0,231.0L688.5,230.7L690.0,230.5L691.5,230.2L693.0,230.0L694.5,229.8L696.0,229.7L697.5,229.6L699.0,229.5L700.5,229.5L702.0,229.6L703.5,229.8L705.0,230.0L706.5,230.2L708.0,230.5L709.5,230.7L711.0,230.9L712.5,231.0L714.0,231.2L715.5,231.3L717.0,231.4L718.5,231.5L720.0,231.6L721.5,231.7L723.0,231.8L724.5,231.9L726.0,232.0L727.5,232.1L729.0,232.2L730.5,232.4L732.0,232.5L733.5,232.6L735.0,232.8L736.5,232.9L738.0,233.1L739.5,233.4L741.0,233.7L742.5,234.1L744.0,234.4L745.5,234.8L747.0,235.1L748.5,235.5L750.0,235.7L751.5,235.9L753.0,236.1L754.5,236.2L756.0,236.3L757.5,236.4L759.0,236.5L760.5,236.5L762.0,236.6L763.5,236.7L765.0,236.8L766.5,236.9L768.0,237.0L769.5,237.2L771.0,237.5L772.5,237.9L774.0,238.3L775.5,238.7L777.0,239.1L778.5,239.4L780.0,239.7L781.5,239.9L783.0,240.0L784.5,239.9L786.0,239.6L787.5,239.1L789.0,238.6L790.5,238.0L792.0,237.4L793.5,236.9L795.0,236.4L796.5,236.1L798.0,236.0L799.5,236.0L801.0,236.2L802.5,236.3L804.0,236.6L805.5,236.9L807.0,237.2L808.5,237.6L810.0,237.9L811.5,238.3L813.0,238.7L814.5,239.1L816.0,239.5L817.5,239.9L819.0,240.2L820.5,240.6L822.0,240.9L823.5,241.3L825.0,241.7L826.5,242.1L828.0,242.5L829.5,242.9L831.0,243.2L832.5,243.6L834.0,244.0L835.5,244.4L837.0,244.8L838.5,245.2L840.0,245.6L841.5,246.0L843.0,246.4L844.5,246.7L846.0,247.1L847.5,247.4L849.0,247.7L850.5,248.0L852.0,248.2L853.5,248.4L855.0,248.6L856.5,248.9L858.0,249.1L859.5,249.3L861.0,249.6L862.5,249.9L864.0,250.2L865.5,250.6L867.0,251.1L868.5,251.5L870.0,252.0L871.5,252.6L873.0,253.1L874.5,253.7L876.0,254.2L877.5,254.8L879.0,255.4L880.5,256.0L882.0,256.6L883.5,257.3L885.0,258.0L886.5,258.8L888.0,259.5L889.5,260.3L891.0,261.0L892.5,261.7L894.0,262.4L895.5,263.0L897.0,263.5L898.5,263.9L900.0,264.2L901.5,264.4L903.0,264.7L904.5,264.9L906.0,265.1L907.5,265.3L909.0,265.6L910.5,266.0L912.0,266.5L913.5,267.1L915.0,267.9L916.5,268.7L918.0,269.6L919.5,270.5L921.0,271.4L922.5,272.2L924.0,273.0L925.5,273.8L927.0,274.6L928.5,275.5L930.0,276.3L931.5,277.1L933.0,277.9L934.5,278.8L936.0,279.7L937.5,280.7L939.0,281.7L940.5,282.8L942.0,284.0L943.5,285.3L945.0,286.6L946.5,287.9L948.0,289.1L949.5,290.3L951.0,291.3L952.5,292.2L954.0,292.9L955.5,293.5L957.0,294.1L958.5,295.0L960.0,296.2L961.5,297.5L963.0,298.8L964.5,299.9L966.0,300.7L967.5,301.4L969.0,302.0L970.5,302.5L972.0,303.0L973.5,303.4L975.0,303.8L976.5,304.2L978.0,304.5L979.5,304.7L981.0,304.9L982.5,305.1L984.0,305.2L985.5,305.3L985.5,323.0L984.0,322.9L982.5,322.8L981.0,322.7L979.5,322.6L978.0,322.4L976.5,322.2L975.0,322.0L973.5,321.7L972.0,321.5L970.5,321.2L969.0,321.0L967.5,320.7L966.0,320.3L964.5,319.9L963.0,319.4L961.5,318.7L960.0,318.0L958.5,317.1L957.0,316.2L955.5,315.3L954.0,314.4L952.5,313.5L951.0,312.5L949.5,311.6L948.0,310.6L946.5,309.6L945.0,308.5L943.5,307.5L942.0,306.5L940.5,305.4L939.0,304.4L937.5,303.4L936.0,302.4L934.5,301.4L933.0,300.4L931.5,299.4L930.0,298.4L928.5,297.4L927.0,296.5L925.5,295.5L924.0,294.6L922.5,293.7L921.0,292.8L919.5,291.9L918.0,290.9L916.5,290.0L915.0,289.2L913.5,288.4L912.0,287.8L910.5,287.2L909.0,286.8L907.5,286.5L906.0,286.1L904.5,285.9L903.0,285.6L901.5,285.3L900.0,285.0L898.5,284.6L897.0,284.2L895.5,283.7L894.0,283.2L892.5,282.7L891.0,282.1L889.5,281.5L888.0,280.9L886.5,280.3L885.0,279.7L883.5,279.1L882.0,278.5L880.5,278.0L879.0,277.5L877.5,277.0L876.0,276.5L874.5,276.0L873.0,275.4L871.5,275.0L870.0,274.5L868.5,274.0L867.0,273.6L865.5,273.1L864.0,272.7L862.5,272.4L861.0,272.0L859.5,271.7L858.0,271.4L856.5,271.1L855.0,270.9L853.5,270.6L852.0,270.3L850.5,270.0L849.0,269.7L847.5,269.4L846.0,269.0L844.5,268.7L843.0,268.3L841.5,267.9L840.0,267.6L838.5,267.2L837.0,266.8L835.5,266.5L834.0,266.2L832.5,265.9L831.0,265.7L829.5,265.4L828.0,265.2L826.5,265.0L825.0,264.8L823.5,264.6L822.0,264.4L820.5,264.2L819.0,263.9L817.5,263.7L816.0,263.4L814.5,263.1L813.0,262.8L811.5,262.5L810.0,262.2L808.5,261.9L807.0,261.6L805.5,261.3L804.0,260.9L802.5,260.6L801.0,260.2L799.5,259.9L798.0,259.5L796.5,259.1L795.0,258.7L793.5,258.2L792.0,257.8L790.5,257.3L789.0,256.8L787.5,256.3L786.0,255.9L784.5,255.4L783.0,255.0L781.5,254.6L780.0,254.2L778.5,253.7L777.0,253.3L775.5,252.9L774.0,252.5L772.5,252.1L771.0,251.8L769.5,251.6L768.0,251.5L766.5,251.4L765.0,251.4L763.5,251.3L762.0,251.3L760.5,251.3L759.0,251.2L757.5,251.2L756.0,251.2L754.5,251.1L753.0,251.1L751.5,251.0L750.0,250.8L748.5,250.5L747.0,250.2L745.5,249.7L744.0,249.3L742.5,248.9L741.0,248.4L739.5,248.0L738.0,247.7L736.5,247.4L735.0,247.2L733.5,246.9L732.0,246.7L730.5,246.4L729.0,246.2L727.5,245.9L726.0,245.7L724.5,245.5L723.0,245.3L721.5,245.1L720.0,244.9L718.5,244.8L717.0,244.7L715.5,244.6L714.0,244.5L712.5,244.5L711.0,244.5L709.5,244.5L708.0,244.6L706.5,244.6L705.0,244.7L703.5,244.8L702.0,244.9L700.5,244.9L699.0,245.0L697.5,245.2L696.0,245.3L694.5,245.5L693.0,245.8L691.5,246.0L690.0,246.2L688.5,246.5L687.0,246.7L685.5,246.8L684.0,246.9L682.5,247.0L681.0,247.0L679.5,246.8L678.0,246.5L676.5,246.2L675.0,245.7L673.5,245.2L672.0,244.7L670.5,244.1L669.0,243.5L667.5,242.9L666.0,242.3L664.5,241.8L663.0,241.3L661.5,240.9L660.0,240.5L658.5,240.1L657.0,239.7L655.5,239.3L654.0,238.9L652.5,238.6L651.0,238.2L649.5,237.8L648.0,237.5L646.5,237.1L645.0,236.8L643.5,236.4L642.0,236.1L640.5,235.8L639.0,235.4L637.5,235.1L636.0,234.8L634.5,234.5L633.0,234.1L631.5,233.8L630.0,233.5L628.5,233.3L627.0,233.0L625.5,232.7L624.0,232.5L622.5,232.2L621.0,231.9L619.5,231.7L618.0,231.5L616.5,231.3L615.0,231.1L613.5,231.0L612.0,231.0L610.5,231.0L609.0,231.2L607.5,231.4L606.0,231.6L604.5,231.9L603.0,232.3L601.5,232.6L600.0,233.0L598.5,233.4L597.0,233.8L595.5,234.2L594.0,234.5L592.5,234.8L591.0,235.1L589.5,235.3L588.0,235.4L586.5,235.5L585.0,235.6L583.5,235.6L582.0,235.6L580.5,235.7L579.0,235.7L577.5,235.7L576.0,235.7L574.5,235.7L573.0,235.8L571.5,235.8L570.0,235.8L568.5,235.8L567.0,235.9L565.5,235.9L564.0,235.9L562.5,236.0L561.0,236.0L559.5,236.2L558.0,236.3L556.5,236.5L555.0,236.8L553.5,237.0L552.0,237.3L550.5,237.7L549.0,238.0L547.5,238.4L546.0,238.8L544.5,239.3L543.0,239.7L541.5,240.2L540.0,240.7L538.5,241.5L537.0,242.3L535.5,243.2L534.0,244.2L532.5,245.2L531.0,246.2L529.5,247.2L528.0,248.1L526.5,249.1L525.0,250.1L523.5,251.2L522.0,252.3L520.5,253.5L519.0,254.6L517.5,255.6L516.0,256.4L514.5,257.1L513.0,257.4L511.5,257.5L510.0,257.5L508.5,257.3L507.0,257.1L505.5,257.0L504.0,256.9L502.5,256.9L501.0,257.0L499.5,257.2L498.0,257.6L496.5,258.0L495.0,258.6L493.5,259.2L492.0,259.9L490.5,260.8L489.0,261.7L487.5,262.5L486.0,263.3L484.5,264.1L483.0,264.9L481.5,265.5L480.0,266.1L478.5,266.5L477.0,266.8L475.5,266.8L474.0,266.8L472.5,266.8L471.0,266.8L469.5,266.8L468.0,266.8L466.5,266.8L465.0,266.8L463.5,266.8L462.0,266.8L460.5,266.8L459.0,266.8L457.5,266.8L456.0,266.8L454.5,266.8L453.0,266.7L451.5,266.6L450.0,266.4L448.5,266.2L447.0,266.1L445.5,265.9L444.0,265.8L442.5,265.7L441.0,265.7L439.5,265.6L438.0,265.5L436.5,265.4L435.0,265.4L433.5,265.3L432.0,265.3L430.5,265.3L429.0,265.5L427.5,265.9L426.0,266.4L424.5,267.0L423.0,267.7L421.5,268.4L420.0,269.0L418.5,269.6L417.0,270.0L415.5,270.5L414.0,271.0L412.5,271.5L411.0,271.9L409.5,272.4L408.0,272.8L406.5,273.2L405.0,273.5L403.5,273.8L402.0,274.1L400.5,274.4L399.0,274.6L397.5,274.9L396.0,275.2L394.5,275.5L393.0,275.9L391.5,276.5L390.0,277.2L388.5,277.9L387.0,278.7L385.5,279.5L384.0,280.3L382.5,281.1L381.0,281.8L379.5,282.5L378.0,283.1L376.5,283.8L375.0,284.4L373.5,285.1L372.0,285.6L370.5,286.2L369.0,286.7L367.5,287.1L366.0,287.4L364.5,287.8L363.0,288.1L361.5,288.4L360.0,288.7L358.5,289.0L357.0,289.3L355.5,289.7L354.0,290.1L352.5,290.5L351.0,290.9L349.5,291.4L348.0,291.8L346.5,292.3L345.0,292.8L343.5,293.3L342.0,293.9L340.5,294.5L339.0,295.3L337.5,296.0L336.0,296.8L334.5,297.6L333.0,298.4L331.5,299.2L330.0,299.9L328.5,300.5L327.0,301.0L325.5,301.5L324.0,301.7L322.5,301.9L321.0,302.0L319.5,302.2L318.0,302.3L316.5,302.4L315.0,302.5L313.5,302.6L312.0,302.7L310.5,302.7L309.0,302.8L307.5,302.8L306.0,302.8L304.5,302.8L303.0,302.8L301.5,302.8L300.0,302.7L298.5,302.7L297.0,302.6L295.5,302.6L294.0,302.5L292.5,302.4L291.0,302.3L289.5,302.3L288.0,302.2L286.5,302.1L285.0,302.0L283.5,301.9L282.0,301.9L280.5,301.8L279.0,301.7L277.5,301.5L276.0,301.4L274.5,301.2L273.0,301.1L271.5,300.9L270.0,300.8L268.5,300.8L267.0,300.9L265.5,301.1L264.0,301.6L262.5,302.0L261.0,302.4L259.5,302.7L258.0,302.7L256.5,302.7L255.0,302.7L253.5,302.7L252.0,302.7L250.5,302.4L249.0,301.9L247.5,301.5L246.0,301.4L244.5,301.6L243.0,301.9L241.5,302.3L240.0,302.7L238.5,303.0L237.0,303.3L235.5,303.6L234.0,303.9L232.5,304.0L231.0,304.2L229.5,304.3L228.0,304.5L226.5,304.8L225.0,305.3L223.5,305.9L222.0,306.7L220.5,307.5L219.0,308.6L217.5,309.9L216.0,311.1L214.5,312.4L213.0,313.7L211.5,315.1L210.0,316.5L208.5,317.9L207.0,319.4L205.5,320.9L204.0,322.5L202.5,324.0L201.0,325.5L199.5,326.9L198.0,328.2L196.5,329.5L195.0,330.6L193.5,331.5L192.0,332.0L190.5,332.4L189.0,332.8L187.5,333.1L186.0,333.4L184.5,333.7L183.0,334.2L181.5,334.6L180.0,335.1L178.5,335.7L177.0,336.3L175.5,337.1L174.0,338.0L172.5,339.1L171.0,340.5L169.5,342.1L168.0,343.6L166.5,345.0L165.0,346.4L163.5,347.8L162.0,349.3L160.5,350.6L159.0,351.8L157.5,352.8L156.0,353.6L154.5,354.4L153.0,355.1L151.5,355.8L150.0,356.4L148.5,357.0L147.0,357.5L145.5,358.1L144.0,358.7L142.5,359.4L141.0,360.2L139.5,361.1L138.0,361.9L136.5,362.8L135.0,363.6L133.5,364.3L132.0,365.1L130.5,365.8L129.0,366.6L127.5,367.3L126.0,368.0L124.5,368.8L123.0,369.5L121.5,370.3L120.0,371.1L118.5,372.0L117.0,372.8L115.5,373.7L114.0,374.5L112.5,375.4L111.0,376.2L109.5,376.9L108.0,377.7L106.5,378.5L105.0,379.3L103.5,380.0L102.0,380.5L100.5,380.9L99.0,381.3L97.5,381.5L96.0,381.7L94.5,381.8L93.0,381.3L91.5,380.5L90.0,379.9L88.5,379.2L87.0,378.5L85.5,377.7L84.0,376.9L82.5,376.0L81.0,375.0L79.5,373.9L78.0,372.8L76.5,371.5L75.0,370.2L73.5,368.8L72.0,367.4L70.5,366.0L69.0,364.7L67.5,363.3L66.0,361.8L64.5,360.1L63.0,358.3L61.5,356.5L60.0,354.6L58.5,352.8L57.0,350.9L55.5,349.1L54.0,347.4L52.5,345.7L51.0,344.2L49.5,342.8L48.0,341.3L46.5,339.8L45.0,338.2L43.5,336.7L42.0,335.2L40.5,333.9L39.0,332.5L37.5,331.2L36.0,330.1L34.5,329.2L33.0,328.4L31.5,327.8L30.0,327.3L28.5,326.8L27.0,326.3L25.5,325.9L24.0,325.5L22.5,325.2L21.0,324.9Z" fill="#b0305d"/>
<path d="M21.0,324.9L22.5,325.2L24.0,325.5L25.5,325.9L27.0,326.3L28.5,326.8L30.0,327.3L31.5,327.8L33.0,328.4L34.5,329.2L36.0,330.1L37.5,331.2L39.0,332.5L40.5,333.9L42.0,335.2L43.5,336.7L45.0,338.2L46.5,339.8L48.0,341.3L49.5,342.8L51.0,344.2L52.5,345.7L54.0,347.4L55.5,349.1L57.0,350.9L58.5,352.8L60.0,354.6L61.5,356.5L63.0,358.3L64.5,360.1L66.0,361.8L67.5,363.3L69.0,364.7L70.5,366.0L72.0,367.4L73.5,368.8L75.0,370.2L76.5,371.5L78.0,372.8L79.5,373.9L81.0,375.0L82.5,376.0L84.0,376.9L85.5,377.7L87.0,378.5L88.5,379.2L90.0,379.9L91.5,380.5L93.0,381.3L94.5,381.8L96.0,381.7L97.5,381.5L99.0,381.3L100.5,380.9L102.0,380.5L103.5,380.0L105.0,379.3L106.5,378.5L108.0,377.7L109.5,376.9L111.0,376.2L112.5,375.4L114.0,374.5L115.5,373.7L117.0,372.8L118.5,372.0L120.0,371.1L121.5,370.3L123.0,369.5L124.5,368.8L126.0,368.0L127.5,367.3L129.0,366.6L130.5,365.8L132.0,365.1L133.5,364.3L135.0,363.6L136.5,362.8L138.0,361.9L139.5,361.1L141.0,360.2L142.5,359.4L144.0,358.7L145.5,358.1L147.0,357.5L148.5,357.0L150.0,356.4L151.5,355.8L153.0,355.1L154.5,354.4L156.0,353.6L157.5,352.8L159.0,351.8L160.5,350.6L162.0,349.3L163.5,347.8L165.0,346.4L166.5,345.0L168.0,343.6L169.5,342.1L171.0,340.5L172.5,339.1L174.0,338.0L175.5,337.1L177.0,336.3L178.5,335.7L180.0,335.1L181.5,334.6L183.0,334.2L184.5,333.7L186.0,333.4L187.5,333.1L189.0,332.8L190.5,332.4L192.0,332.0L193.5,331.5L195.0,330.6L196.5,329.5L198.0,328.2L199.5,326.9L201.0,325.5L202.5,324.0L204.0,322.5L205.5,320.9L207.0,319.4L208.5,317.9L210.0,316.5L211.5,315.1L213.0,313.7L214.5,312.4L216.0,311.1L217.5,309.9L219.0,308.6L220.5,307.5L222.0,306.7L223.5,305.9L225.0,305.3L226.5,304.8L228.0,304.5L229.5,304.3L231.0,304.2L232.5,304.0L234.0,303.9L235.5,303.6L237.0,303.3L238.5,303.0L240.0,302.7L241.5,302.3L243.0,301.9L244.5,301.6L246.0,301.4L247.5,301.5L249.0,301.9L250.5,302.4L252.0,302.7L253.5,302.7L255.0,302.7L256.5,302.7L258.0,302.7L259.5,302.7L261.0,302.4L262.5,302.0L264.0,301.6L265.5,301.1L267.0,300.9L268.5,300.8L270.0,300.8L271.5,300.9L273.0,301.1L274.5,301.2L276.0,301.4L277.5,301.5L279.0,301.7L280.5,301.8L282.0,301.9L283.5,301.9L285.0,302.0L286.5,302.1L288.0,302.2L289.5,302.3L291.0,302.3L292.5,302.4L294.0,302.5L295.5,302.6L297.0,302.6L298.5,302.7L300.0,302.7L301.5,302.8L303.0,302.8L304.5,302.8L306.0,302.8L307.5,302.8L309.0,302.8L310.5,302.7L312.0,302.7L313.5,302.6L315.0,302.5L316.5,302.4L318.0,302.3L319.5,302.2L321.0,302.0L322.5,301.9L324.0,301.7L325.5,301.5L327.0,301.0L328.5,300.5L330.0,299.9L331.5,299.2L333.0,298.4L334.5,297.6L336.0,296.8L337.5,296.0L339.0,295.3L340.5,294.5L342.0,293.9L343.5,293.3L345.0,292.8L346.5,292.3L348.0,291.8L349.5,291.4L351.0,290.9L352.5,290.5L354.0,290.1L355.5,289.7L357.0,289.3L358.5,289.0L360.0,288.7L361.5,288.4L363.0,288.1L364.5,287.8L366.0,287.4L367.5,287.1L369.0,286.7L370.5,286.2L372.0,285.6L373.5,285.1L375.0,284.4L376.5,283.8L378.0,283.1L379.5,282.5L381.0,281.8L382.5,281.1L384.0,280.3L385.5,279.5L387.0,278.7L388.5,277.9L390.0,277.2L391.5,276.5L393.0,275.9L394.5,275.5L396.0,275.2L397.5,274.9L399.0,274.6L400.5,274.4L402.0,274.1L403.5,273.8L405.0,273.5L406.5,273.2L408.0,272.8L409.5,272.4L411.0,271.9L412.5,271.5L414.0,271.0L415.5,270.5L417.0,270.0L418.5,269.6L420.0,269.0L421.5,268.4L423.0,267.7L424.5,267.0L426.0,266.4L427.5,265.9L429.0,265.5L430.5,265.3L432.0,265.3L433.5,265.3L435.0,265.4L436.5,265.4L438.0,265.5L439.5,265.6L441.0,265.7L442.5,265.7L444.0,265.8L445.5,265.9L447.0,266.1L448.5,266.2L450.0,266.4L451.5,266.6L453.0,266.7L454.5,266.8L456.0,266.8L457.5,266.8L459.0,266.8L460.5,266.8L462.0,266.8L463.5,266.8L465.0,266.8L466.5,266.8L468.0,266.8L469.5,266.8L471.0,266.8L472.5,266.8L474.0,266.8L475.5,266.8L477.0,266.8L478.5,266.5L480.0,266.1L481.5,265.5L483.0,264.9L484.5,264.1L486.0,263.3L487.5,262.5L489.0,261.7L490.5,260.8L492.0,259.9L493.5,259.2L495.0,258.6L496.5,258.0L498.0,257.6L499.5,257.2L501.0,257.0L502.5,256.9L504.0,256.9L505.5,257.0L507.0,257.1L508.5,257.3L510.0,257.5L511.5,257.5L513.0,257.4L514.5,257.1L516.0,256.4L517.5,255.6L519.0,254.6L520.5,253.5L522.0,252.3L523.5,251.2L525.0,250.1L526.5,249.1L528.0,248.1L529.5,247.2L531.0,246.2L532.5,245.2L534.0,244.2L535.5,243.2L537.0,242.3L538.5,241.5L540.0,240.7L541.5,240.2L543.0,239.7L544.5,239.3L546.0,238.8L547.5,238.4L549.0,238.0L550.5,237.7L552.0,237.3L553.5,237.0L555.0,236.8L556.5,236.5L558.0,236.3L559.5,236.2L561.0,236.0L562.5,236.0L564.0,235.9L565.5,235.9L567.0,235.9L568.5,235.8L570.0,235.8L571.5,235.8L573.0,235.8L574.5,235.7L576.0,235.7L577.5,235.7L579.0,235.7L580.5,235.7L582.0,235.6L583.5,235.6L585.0,235.6L586.5,235.5L588.0,235.4L589.5,235.3L591.0,235.1L592.5,234.8L594.0,234.5L595.5,234.2L597.0,233.8L598.5,233.4L600.0,233.0L601.5,232.6L603.0,232.3L604.5,231.9L606.0,231.6L607.5,231.4L609.0,231.2L610.5,231.0L612.0,231.0L613.5,231.0L615.0,231.1L616.5,231.3L618.0,231.5L619.5,231.7L621.0,231.9L622.5,232.2L624.0,232.5L625.5,232.7L627.0,233.0L628.5,233.3L630.0,233.5L631.5,233.8L633.0,234.1L634.5,234.5L636.0,234.8L637.5,235.1L639.0,235.4L640.5,235.8L642.0,236.1L643.5,236.4L645.0,236.8L646.5,237.1L648.0,237.5L649.5,237.8L651.0,238.2L652.5,238.6L654.0,238.9L655.5,239.3L657.0,239.7L658.5,240.1L660.0,240.5L661.5,240.9L663.0,241.3L664.5,241.8L666.0,242.3L667.5,242.9L669.0,243.5L670.5,244.1L672.0,244.7L673.5,245.2L675.0,245.7L676.5,246.2L678.0,246.5L679.5,246.8L681.0,247.0L682.5,247.0L684.0,246.9L685.5,246.8L687.0,246.7L688.5,246.5L690.0,246.2L691.5,246.0L693.0,245.8L694.5,245.5L696.0,245.3L697.5,245.2L699.0,245.0L700.5,244.9L702.0,244.9L703.5,244.8L705.0,244.7L706.5,244.6L708.0,244.6L709.5,244.5L711.0,244.5L712.5,244.5L714.0,244.5L715.5,244.6L717.0,244.7L718.5,244.8L720.0,244.9L721.5,245.1L723.0,245.3L724.5,245.5L726.0,245.7L727.5,245.9L729.0,246.2L730.5,246.4L732.0,246.7L733.5,246.9L735.0,247.2L736.5,247.4L738.0,247.7L739.5,248.0L741.0,248.4L742.5,248.9L744.0,249.3L745.5,249.7L747.0,250.2L748.5,250.5L750.0,250.8L751.5,251.0L753.0,251.1L754.5,251.1L756.0,251.2L757.5,251.2L759.0,251.2L760.5,251.3L762.0,251.3L763.5,251.3L765.0,251.4L766.5,251.4L768.0,251.5L769.5,251.6L771.0,251.8L772.5,252.1L774.0,252.5L775.5,252.9L777.0,253.3L778.5,253.7L780.0,254.2L781.5,254.6L783.0,255.0L784.5,255.4L786.0,255.9L787.5,256.3L789.0,256.8L790.5,257.3L792.0,257.8L793.5,258.2L795.0,258.7L796.5,259.1L798.0,259.5L799.5,259.9L801.0,260.2L802.5,260.6L804.0,260.9L805.5,261.3L807.0,261.6L808.5,261.9L810.0,262.2L811.5,262.5L813.0,262.8L814.5,263.1L816.0,263.4L817.5,263.7L819.0,263.9L820.5,264.2L822.0,264.4L823.5,264.6L825.0,264.8L826.5,265.0L828.0,265.2L829.5,265.4L831.0,265.7L832.5,265.9L834.0,266.2L835.5,266.5L837.0,266.8L838.5,267.2L840.0,267.6L841.5,267.9L843.0,268.3L844.5,268.7L846.0,269.0L847.5,269.4L849.0,269.7L850.5,270.0L852.0,270.3L853.5,270.6L855.0,270.9L856.5,271.1L858.0,271.4L859.5,271.7L861.0,272.0L862.5,272.4L864.0,272.7L865.5,273.1L867.0,273.6L868.5,274.0L870.0,274.5L871.5,275.0L873.0,275.4L874.5,276.0L876.0,276.5L877.5,277.0L879.0,277.5L880.5,278.0L882.0,278.5L883.5,279.1L885.0,279.7L886.5,280.3L888.0,280.9L889.5,281.5L891.0,282.1L892.5,282.7L894.0,283.2L895.5,283.7L897.0,284.2L898.5,284.6L900.0,285.0L901.5,285.3L903.0,285.6L904.5,285.9L906.0,286.1L907.5,286.5L909.0,286.8L910.5,287.2L912.0,287.8L913.5,288.4L915.0,289.2L916.5,290.0L918.0,290.9L919.5,291.9L921.0,292.8L922.5,293.7L924.0,294.6L925.5,295.5L927.0,296.5L928.5,297.4L930.0,298.4L931.5,299.4L933.0,300.4L934.5,301.4L936.0,302.4L937.5,303.4L939.0,304.4L940.5,305.4L942.0,306.5L943.5,307.5L945.0,308.5L946.5,309.6L948.0,310.6L949.5,311.6L951.0,312.5L952.5,313.5L954.0,314.4L955.5,315.3L957.0,316.2L958.5,317.1L960.0,318.0L961.5,318.7L963.0,319.4L964.5,319.9L966.0,320.3L967.5,320.7L969.0,321.0L970.5,321.2L972.0,321.5L973.5,321.7L975.0,322.0L976.5,322.2L978.0,322.4L979.5,322.6L981.0,322.7L982.5,322.8L984.0,322.9L985.5,323.0L985.5,342.5L984.0,343.3L982.5,344.0L981.0,344.5L979.5,344.9L978.0,345.0L976.5,344.9L975.0,344.7L973.5,344.3L972.0,343.8L970.5,343.3L969.0,342.8L967.5,342.3L966.0,341.8L964.5,341.1L963.0,340.4L961.5,339.7L960.0,338.9L958.5,338.1L957.0,337.2L955.5,336.4L954.0,335.6L952.5,334.7L951.0,333.9L949.5,333.0L948.0,332.1L946.5,331.2L945.0,330.3L943.5,329.3L942.0,328.4L940.5,327.5L939.0,326.6L937.5,325.7L936.0,324.8L934.5,324.0L933.0,323.1L931.5,322.2L930.0,321.4L928.5,320.5L927.0,319.7L925.5,318.9L924.0,318.0L922.5,317.2L921.0,316.4L919.5,315.5L918.0,314.7L916.5,313.8L915.0,313.0L913.5,312.3L912.0,311.6L910.5,311.0L909.0,310.5L907.5,310.0L906.0,309.5L904.5,309.1L903.0,308.6L901.5,308.3L900.0,307.9L898.5,307.6L897.0,307.3L895.5,307.1L894.0,306.8L892.5,306.6L891.0,306.4L889.5,306.2L888.0,306.1L886.5,305.9L885.0,305.7L883.5,305.5L882.0,305.2L880.5,305.0L879.0,304.7L877.5,304.4L876.0,304.1L874.5,303.8L873.0,303.4L871.5,303.1L870.0,302.7L868.5,302.3L867.0,302.0L865.5,301.6L864.0,301.2L862.5,300.9L861.0,300.5L859.5,300.2L858.0,299.8L856.5,299.5L855.0,299.1L853.5,298.7L852.0,298.4L850.5,298.1L849.0,297.7L847.5,297.4L846.0,297.0L844.5,296.6L843.0,296.2L841.5,295.8L840.0,295.5L838.5,295.1L837.0,294.9L835.5,294.6L834.0,294.5L832.5,294.5L831.0,294.5L829.5,294.6L828.0,294.6L826.5,294.7L825.0,294.8L823.5,294.8L822.0,294.9L820.5,295.0L819.0,295.0L817.5,295.0L816.0,295.0L814.5,294.9L813.0,294.8L811.5,294.6L810.0,294.4L808.5,294.2L807.0,294.0L805.5,293.7L804.0,293.5L802.5,293.2L801.0,293.0L799.5,292.7L798.0,292.5L796.5,292.3L795.0,292.0L793.5,291.8L792.0,291.5L790.5,291.2L789.0,290.9L787.5,290.6L786.0,290.2L784.5,289.9L783.0,289.5L781.5,289.0L780.0,288.4L778.5,287.7L777.0,287.0L775.5,286.3L774.0,285.6L772.5,284.9L771.0,284.4L769.5,284.1L768.0,284.0L766.5,284.0L765.0,284.0L763.5,284.1L762.0,284.1L760.5,284.2L759.0,284.3L757.5,284.4L756.0,284.5L754.5,284.6L753.0,284.7L751.5,284.8L750.0,285.0L748.5,285.1L747.0,285.3L745.5,285.5L744.0,285.8L742.5,286.2L741.0,286.5L739.5,286.9L738.0,287.3L736.5,287.6L735.0,288.0L733.5,288.3L732.0,288.7L730.5,288.9L729.0,289.2L727.5,289.3L726.0,289.5L724.5,289.5L723.0,289.5L721.5,289.5L720.0,289.4L718.5,289.4L717.0,289.3L715.5,289.2L714.0,289.2L712.5,289.1L711.0,289.0L709.5,288.9L708.0,288.9L706.5,288.8L705.0,288.8L703.5,288.8L702.0,288.8L700.5,288.9L699.0,289.5L697.5,290.2L696.0,291.1L694.5,292.0L693.0,292.8L691.5,293.4L690.0,293.7L688.5,293.8L687.0,293.8L685.5,293.8L684.0,293.8L682.5,293.8L681.0,293.8L679.5,293.8L678.0,293.8L676.5,293.7L675.0,293.5L673.5,293.1L672.0,292.5L670.5,291.7L669.0,290.9L667.5,290.1L666.0,289.3L664.5,288.5L663.0,287.9L661.5,287.3L660.0,286.9L658.5,286.4L657.0,286.0L655.5,285.6L654.0,285.2L652.5,284.8L651.0,284.4L649.5,284.1L648.0,283.9L646.5,283.7L645.0,283.5L643.5,283.3L642.0,283.1L640.5,282.9L639.0,282.8L637.5,282.6L636.0,282.4L634.5,282.3L633.0,282.2L631.5,282.1L630.0,282.1L628.5,282.0L627.0,282.0L625.5,282.0L624.0,282.0L622.5,282.1L621.0,282.1L619.5,282.1L618.0,282.2L616.5,282.3L615.0,282.3L613.5,282.4L612.0,282.5L610.5,282.7L609.0,283.0L607.5,283.4L606.0,283.9L604.5,284.4L603.0,285.0L601.5,285.6L600.0,286.2L598.5,286.7L597.0,287.2L595.5,287.6L594.0,287.9L592.5,288.0L591.0,288.0L589.5,288.0L588.0,288.0L586.5,287.9L585.0,287.9L583.5,287.8L582.0,287.8L580.5,287.7L579.0,287.6L577.5,287.5L576.0,287.4L574.5,287.2L573.0,286.9L571.5,286.6L570.0,286.3L568.5,285.9L567.0,285.6L565.5,285.3L564.0,285.1L562.5,285.0L561.0,285.0L559.5,285.1L558.0,285.2L556.5,285.4L555.0,285.6L553.5,285.9L552.0,286.2L550.5,286.5L549.0,286.9L547.5,287.3L546.0,287.7L544.5,288.1L543.0,288.5L541.5,288.9L540.0,289.4L538.5,290.0L537.0,290.7L535.5,291.5L534.0,292.3L532.5,293.1L531.0,293.9L529.5,294.7L528.0,295.5L526.5,296.2L525.0,297.0L523.5,297.7L522.0,298.5L520.5,299.3L519.0,300.0L517.5,300.8L516.0,301.4L514.5,302.1L513.0,302.7L511.5,303.2L510.0,303.6L508.5,304.0L507.0,304.4L505.5,304.8L504.0,305.1L502.5,305.4L501.0,305.8L499.5,306.1L498.0,306.4L496.5,306.8L495.0,307.1L493.5,307.5L492.0,307.9L490.5,308.3L489.0,308.7L487.5,309.2L486.0,309.6L484.5,310.0L483.0,310.5L481.5,310.9L480.0,311.3L478.5,311.7L477.0,312.2L475.5,312.7L474.0,313.1L472.5,313.5L471.0,313.8L469.5,314.0L468.0,314.0L466.5,314.0L465.0,313.9L463.5,313.8L462.0,313.7L460.5,313.6L459.0,313.5L457.5,313.3L456.0,313.1L454.5,312.9L453.0,312.7L451.5,312.5L450.0,312.2L448.5,312.0L447.0,311.6L445.5,311.0L444.0,310.2L442.5,309.4L441.0,308.6L439.5,307.8L438.0,307.3L436.5,307.0L435.0,307.0L433.5,307.2L432.0,307.6L430.5,308.0L429.0,308.6L427.5,309.2L426.0,309.8L424.5,310.5L423.0,311.1L421.5,311.6L420.0,312.1L418.5,312.5L417.0,312.8L415.5,313.1L414.0,313.4L412.5,313.7L411.0,314.0L409.5,314.2L408.0,314.4L406.5,314.5L405.0,314.5L403.5,314.6L402.0,314.6L400.5,314.7L399.0,314.7L397.5,314.7L396.0,314.7L394.5,314.8L393.0,314.8L391.5,314.8L390.0,314.8L388.5,314.8L387.0,314.9L385.5,314.9L384.0,314.9L382.5,315.0L381.0,315.0L379.5,315.1L378.0,315.2L376.5,315.3L375.0,315.4L373.5,315.6L372.0,315.7L370.5,315.9L369.0,316.1L367.5,316.3L366.0,316.5L364.5,316.7L363.0,316.9L361.5,317.0L360.0,317.2L358.5,317.3L357.0,317.4L355.5,317.5L354.0,317.6L352.5,317.6L351.0,317.7L349.5,317.7L348.0,317.8L346.5,317.8L345.0,317.9L343.5,318.0L342.0,318.2L340.5,318.5L339.0,318.9L337.5,319.4L336.0,320.0L334.5,320.6L333.0,321.3L331.5,322.0L330.0,322.7L328.5,323.4L327.0,324.1L325.5,324.7L324.0,325.3L322.5,325.9L321.0,326.5L319.5,326.6L318.0,326.5L316.5,326.5L315.0,326.3L313.5,326.2L312.0,326.0L310.5,325.9L309.0,325.8L307.5,325.6L306.0,325.4L304.5,325.2L303.0,325.0L301.5,324.8L300.0,324.6L298.5,324.5L297.0,324.4L295.5,324.2L294.0,324.1L292.5,324.1L291.0,324.2L289.5,324.3L288.0,324.4L286.5,324.6L285.0,324.8L283.5,324.9L282.0,325.1L280.5,325.2L279.0,325.4L277.5,325.5L276.0,325.7L274.5,325.8L273.0,325.8L271.5,325.8L270.0,325.6L268.5,325.5L267.0,325.2L265.5,325.0L264.0,324.8L262.5,324.5L261.0,324.3L259.5,324.0L258.0,323.7L256.5,323.3L255.0,323.0L253.5,322.6L252.0,322.2L250.5,321.7L249.0,321.1L247.5,320.5L246.0,320.1L244.5,320.0L243.0,320.2L241.5,320.6L240.0,321.1L238.5,321.8L237.0,322.5L235.5,323.2L234.0,323.8L232.5,324.3L231.0,324.7L229.5,325.1L228.0,325.6L226.5,326.0L225.0,326.5L223.5,327.2L222.0,327.9L220.5,328.8L219.0,329.6L217.5,330.3L216.0,330.9L214.5,331.4L213.0,331.8L211.5,332.2L210.0,332.6L208.5,333.1L207.0,333.8L205.5,334.7L204.0,335.7L202.5,336.7L201.0,337.6L199.5,338.3L198.0,339.0L196.5,339.6L195.0,340.2L193.5,340.6L192.0,341.0L190.5,341.2L189.0,341.4L187.5,341.6L186.0,341.8L184.5,342.1L183.0,342.5L181.5,343.0L180.0,343.9L178.5,344.8L177.0,345.9L175.5,347.0L174.0,348.0L172.5,349.2L171.0,350.4L169.5,351.7L168.0,352.9L166.5,354.1L165.0,355.2L163.5,356.4L162.0,357.5L160.5,358.5L159.0,359.4L157.5,360.2L156.0,360.8L154.5,361.4L153.0,361.9L151.5,362.4L150.0,362.7L148.5,363.1L147.0,363.4L145.5,363.7L144.0,364.1L142.5,364.6L141.0,365.3L139.5,366.0L138.0,366.8L136.5,367.6L135.0,368.4L133.5,369.1L132.0,369.9L130.5,370.6L129.0,371.4L127.5,372.1L126.0,372.9L124.5,373.6L123.0,374.4L121.5,375.1L120.0,375.9L118.5,376.7L117.0,377.4L115.5,378.2L114.0,379.0L112.5,379.7L111.0,380.4L109.5,381.1L108.0,381.8L106.5,382.6L105.0,383.3L103.5,383.9L102.0,384.4L100.5,384.5L99.0,384.6L97.5,384.7L96.0,384.7L94.5,384.7L93.0,384.4L91.5,383.6L90.0,382.6L88.5,381.6L87.0,380.5L85.5,379.1L84.0,377.9L82.5,376.7L81.0,375.6L79.5,374.4L78.0,373.0L76.5,371.5L75.0,370.2L73.5,368.8L72.0,367.4L70.5,366.0L69.0,364.7L67.5,363.3L66.0,361.8L64.5,360.1L63.0,358.3L61.5,356.5L60.0,354.6L58.5,352.8L57.0,350.9L55.5,349.1L54.0,347.4L52.5,345.7L51.0,344.2L49.5,342.8L48.0,341.3L46.5,339.8L45.0,338.2L43.5,336.7L42.0,335.2L40.5,333.9L39.0,332.5L37.5,331.2L36.0,330.1L34.5,329.2L33.0,328.4L31.5,327.8L30.0,327.3L28.5,326.8L27.0,326.3L25.5,325.9L24.0,325.5L22.5,325.2L21.0,324.9Z" fill="#ff7ba5"/>
<path d="M21.0,324.9L22.5,325.2L24.0,325.5L25.5,325.9L27.0,326.3L28.5,326.8L30.0,327.3L31.5,327.8L33.0,328.4L34.5,329.2L36.0,330.1L37.5,331.2L39.0,332.5L40.5,333.9L42.0,335.2L43.5,336.7L45.0,338.2L46.5,339.8L48.0,341.3L49.5,342.8L51.0,344.2L52.5,345.7L54.0,347.4L55.5,349.1L57.0,350.9L58.5,352.8L60.0,354.6L61.5,356.5L63.0,358.3L64.5,360.1L66.0,361.8L67.5,363.3L69.0,364.7L70.5,366.0L72.0,367.4L73.5,368.8L75.0,370.2L76.5,371.5L78.0,373.0L79.5,374.4L81.0,375.6L82.5,376.7L84.0,377.9L85.5,379.1L87.0,380.5L88.5,381.6L90.0,382.6L91.5,383.6L93.0,384.4L94.5,384.7L96.0,384.7L97.5,384.7L99.0,384.6L100.5,384.5L102.0,384.4L103.5,383.9L105.0,383.3L106.5,382.6L108.0,381.8L109.5,381.1L111.0,380.4L112.5,379.7L114.0,379.0L115.5,378.2L117.0,377.4L118.5,376.7L120.0,375.9L121.5,375.1L123.0,374.4L124.5,373.6L126.0,372.9L127.5,372.1L129.0,371.4L130.5,370.6L132.0,369.9L133.5,369.1L135.0,368.4L136.5,367.6L138.0,366.8L139.5,366.0L141.0,365.3L142.5,364.6L144.0,364.1L145.5,363.7L147.0,363.4L148.5,363.1L150.0,362.7L151.5,362.4L153.0,361.9L154.5,361.4L156.0,360.8L157.5,360.2L159.0,359.4L160.5,358.5L162.0,357.5L163.5,356.4L165.0,355.2L166.5,354.1L168.0,352.9L169.5,351.7L171.0,350.4L172.5,349.2L174.0,348.0L175.5,347.0L177.0,345.9L178.5,344.8L180.0,343.9L181.5,343.0L183.0,342.5L184.5,342.1L186.0,341.8L187.5,341.6L189.0,341.4L190.5,341.2L192.0,341.0L193.5,340.6L195.0,340.2L196.5,339.6L198.0,339.0L199.5,338.3L201.0,337.6L202.5,336.7L204.0,335.7L205.5,334.7L207.0,333.8L208.5,333.1L210.0,332.6L211.5,332.2L213.0,331.8L214.5,331.4L216.0,330.9L217.5,330.3L219.0,329.6L220.5,328.8L222.0,327.9L223.5,327.2L225.0,326.5L226.5,326.0L228.0,325.6L229.5,325.1L231.0,324.7L232.5,324.3L234.0,323.8L235.5,323.2L237.0,322.5L238.5,321.8L240.0,321.1L241.5,320.6L243.0,320.2L244.5,320.0L246.0,320.1L247.5,320.5L249.0,321.1L250.5,321.7L252.0,322.2L253.5,322.6L255.0,323.0L256.5,323.3L258.0,323.7L259.5,324.0L261.0,324.3L262.5,324.5L264.0,324.8L265.5,325.0L267.0,325.2L268.5,325.5L270.0,325.6L271.5,325.8L273.0,325.8L274.5,325.8L276.0,325.7L277.5,325.5L279.0,325.4L280.5,325.2L282.0,325.1L283.5,324.9L285.0,324.8L286.5,324.6L288.0,324.4L289.5,324.3L291.0,324.2L292.5,324.1L294.0,324.1L295.5,324.2L297.0,324.4L298.5,324.5L300.0,324.6L301.5,324.8L303.0,325.0L304.5,325.2L306.0,325.4L307.5,325.6L309.0,325.8L310.5,325.9L312.0,326.0L313.5,326.2L315.0,326.3L316.5,326.5L318.0,326.5L319.5,326.6L321.0,326.5L322.5,325.9L324.0,325.3L325.5,324.7L327.0,324.1L328.5,323.4L330.0,322.7L331.5,322.0L333.0,321.3L334.5,320.6L336.0,320.0L337.5,319.4L339.0,318.9L340.5,318.5L342.0,318.2L343.5,318.0L345.0,317.9L346.5,317.8L348.0,317.8L349.5,317.7L351.0,317.7L352.5,317.6L354.0,317.6L355.5,317.5L357.0,317.4L358.5,317.3L360.0,317.2L361.5,317.0L363.0,316.9L364.5,316.7L366.0,316.5L367.5,316.3L369.0,316.1L370.5,315.9L372.0,315.7L373.5,315.6L375.0,315.4L376.5,315.3L378.0,315.2L379.5,315.1L381.0,315.0L382.5,315.0L384.0,314.9L385.5,314.9L387.0,314.9L388.5,314.8L390.0,314.8L391.5,314.8L393.0,314.8L394.5,314.8L396.0,314.7L397.5,314.7L399.0,314.7L400.5,314.7L402.0,314.6L403.5,314.6L405.0,314.5L406.5,314.5L408.0,314.4L409.5,314.2L411.0,314.0L412.5,313.7L414.0,313.4L415.5,313.1L417.0,312.8L418.5,312.5L420.0,312.1L421.5,311.6L423.0,311.1L424.5,310.5L426.0,309.8L427.5,309.2L429.0,308.6L430.5,308.0L432.0,307.6L433.5,307.2L435.0,307.0L436.5,307.0L438.0,307.3L439.5,307.8L441.0,308.6L442.5,309.4L444.0,310.2L445.5,311.0L447.0,311.6L448.5,312.0L450.0,312.2L451.5,312.5L453.0,312.7L454.5,312.9L456.0,313.1L457.5,313.3L459.0,313.5L460.5,313.6L462.0,313.7L463.5,313.8L465.0,313.9L466.5,314.0L468.0,314.0L469.5,314.0L471.0,313.8L472.5,313.5L474.0,313.1L475.5,312.7L477.0,312.2L478.5,311.7L480.0,311.3L481.5,310.9L483.0,310.5L484.5,310.0L486.0,309.6L487.5,309.2L489.0,308.7L490.5,308.3L492.0,307.9L493.5,307.5L495.0,307.1L496.5,306.8L498.0,306.4L499.5,306.1L501.0,305.8L502.5,305.4L504.0,305.1L505.5,304.8L507.0,304.4L508.5,304.0L510.0,303.6L511.5,303.2L513.0,302.7L514.5,302.1L516.0,301.4L517.5,300.8L519.0,300.0L520.5,299.3L522.0,298.5L523.5,297.7L525.0,297.0L526.5,296.2L528.0,295.5L529.5,294.7L531.0,293.9L532.5,293.1L534.0,292.3L535.5,291.5L537.0,290.7L538.5,290.0L540.0,289.4L541.5,288.9L543.0,288.5L544.5,288.1L546.0,287.7L547.5,287.3L549.0,286.9L550.5,286.5L552.0,286.2L553.5,285.9L555.0,285.6L556.5,285.4L558.0,285.2L559.5,285.1L561.0,285.0L562.5,285.0L564.0,285.1L565.5,285.3L567.0,285.6L568.5,285.9L570.0,286.3L571.5,286.6L573.0,286.9L574.5,287.2L576.0,287.4L577.5,287.5L579.0,287.6L580.5,287.7L582.0,287.8L583.5,287.8L585.0,287.9L586.5,287.9L588.0,288.0L589.5,288.0L591.0,288.0L592.5,288.0L594.0,287.9L595.5,287.6L597.0,287.2L598.5,286.7L600.0,286.2L601.5,285.6L603.0,285.0L604.5,284.4L606.0,283.9L607.5,283.4L609.0,283.0L610.5,282.7L612.0,282.5L613.5,282.4L615.0,282.3L616.5,282.3L618.0,282.2L619.5,282.1L621.0,282.1L622.5,282.1L624.0,282.0L625.5,282.0L627.0,282.0L628.5,282.0L630.0,282.1L631.5,282.1L633.0,282.2L634.5,282.3L636.0,282.4L637.5,282.6L639.0,282.8L640.5,282.9L642.0,283.1L643.5,283.3L645.0,283.5L646.5,283.7L648.0,283.9L649.5,284.1L651.0,284.4L652.5,284.8L654.0,285.2L655.5,285.6L657.0,286.0L658.5,286.4L660.0,286.9L661.5,287.3L663.0,287.9L664.5,288.5L666.0,289.3L667.5,290.1L669.0,290.9L670.5,291.7L672.0,292.5L673.5,293.1L675.0,293.5L676.5,293.7L678.0,293.8L679.5,293.8L681.0,293.8L682.5,293.8L684.0,293.8L685.5,293.8L687.0,293.8L688.5,293.8L690.0,293.7L691.5,293.4L693.0,292.8L694.5,292.0L696.0,291.1L697.5,290.2L699.0,289.5L700.5,288.9L702.0,288.8L703.5,288.8L705.0,288.8L706.5,288.8L708.0,288.9L709.5,288.9L711.0,289.0L712.5,289.1L714.0,289.2L715.5,289.2L717.0,289.3L718.5,289.4L720.0,289.4L721.5,289.5L723.0,289.5L724.5,289.5L726.0,289.5L727.5,289.3L729.0,289.2L730.5,288.9L732.0,288.7L733.5,288.3L735.0,288.0L736.5,287.6L738.0,287.3L739.5,286.9L741.0,286.5L742.5,286.2L744.0,285.8L745.5,285.5L747.0,285.3L748.5,285.1L750.0,285.0L751.5,284.8L753.0,284.7L754.5,284.6L756.0,284.5L757.5,284.4L759.0,284.3L760.5,284.2L762.0,284.1L763.5,284.1L765.0,284.0L766.5,284.0L768.0,284.0L769.5,284.1L771.0,284.4L772.5,284.9L774.0,285.6L775.5,286.3L777.0,287.0L778.5,287.7L780.0,288.4L781.5,289.0L783.0,289.5L784.5,289.9L786.0,290.2L787.5,290.6L789.0,290.9L790.5,291.2L792.0,291.5L793.5,291.8L795.0,292.0L796.5,292.3L798.0,292.5L799.5,292.7L801.0,293.0L802.5,293.2L804.0,293.5L805.5,293.7L807.0,294.0L808.5,294.2L810.0,294.4L811.5,294.6L813.0,294.8L814.5,294.9L816.0,295.0L817.5,295.0L819.0,295.0L820.5,295.0L822.0,294.9L823.5,294.8L825.0,294.8L826.5,294.7L828.0,294.6L829.5,294.6L831.0,294.5L832.5,294.5L834.0,294.5L835.5,294.6L837.0,294.9L838.5,295.1L840.0,295.5L841.5,295.8L843.0,296.2L844.5,296.6L846.0,297.0L847.5,297.4L849.0,297.7L850.5,298.1L852.0,298.4L853.5,298.7L855.0,299.1L856.5,299.5L858.0,299.8L859.5,300.2L861.0,300.5L862.5,300.9L864.0,301.2L865.5,301.6L867.0,302.0L868.5,302.3L870.0,302.7L871.5,303.1L873.0,303.4L874.5,303.8L876.0,304.1L877.5,304.4L879.0,304.7L880.5,305.0L882.0,305.2L883.5,305.5L885.0,305.7L886.5,305.9L888.0,306.1L889.5,306.2L891.0,306.4L892.5,306.6L894.0,306.8L895.5,307.1L897.0,307.3L898.5,307.6L900.0,307.9L901.5,308.3L903.0,308.6L904.5,309.1L906.0,309.5L907.5,310.0L909.0,310.5L910.5,311.0L912.0,311.6L913.5,312.3L915.0,313.0L916.5,313.8L918.0,314.7L919.5,315.5L921.0,316.4L922.5,317.2L924.0,318.0L925.5,318.9L927.0,319.7L928.5,320.5L930.0,321.4L931.5,322.2L933.0,323.1L934.5,324.0L936.0,324.8L937.5,325.7L939.0,326.6L940.5,327.5L942.0,328.4L943.5,329.3L945.0,330.3L946.5,331.2L948.0,332.1L949.5,333.0L951.0,333.9L952.5,334.7L954.0,335.6L955.5,336.4L957.0,337.2L958.5,338.1L960.0,338.9L961.5,339.7L963.0,340.4L964.5,341.1L966.0,341.8L967.5,342.3L969.0,342.8L970.5,343.3L972.0,343.8L973.5,344.3L975.0,344.7L976.5,344.9L978.0,345.0L979.5,344.9L981.0,344.5L982.5,344.0L984.0,343.3L985.5,342.5L985.5,373.3L984.0,372.5L982.5,371.7L981.0,371.0L979.5,370.4L978.0,370.0L976.5,369.7L975.0,369.6L973.5,369.4L972.0,369.3L970.5,369.1L969.0,368.9L967.5,368.6L966.0,368.3L964.5,367.8L963.0,367.2L961.5,366.5L960.0,365.8L958.5,365.0L957.0,364.2L955.5,363.4L954.0,362.6L952.5,361.7L951.0,360.8L949.5,359.8L948.0,358.7L946.5,357.5L945.0,356.4L943.5,355.2L942.0,354.0L940.5,352.8L939.0,351.7L937.5,350.7L936.0,349.6L934.5,348.6L933.0,347.5L931.5,346.5L930.0,345.5L928.5,344.5L927.0,343.5L925.5,342.6L924.0,341.6L922.5,340.7L921.0,339.8L919.5,338.8L918.0,337.9L916.5,337.0L915.0,336.1L913.5,335.3L912.0,334.5L910.5,333.8L909.0,333.1L907.5,332.4L906.0,331.7L904.5,331.1L903.0,330.5L901.5,330.0L900.0,329.4L898.5,328.9L897.0,328.4L895.5,327.9L894.0,327.4L892.5,326.9L891.0,326.5L889.5,326.0L888.0,325.6L886.5,325.2L885.0,324.8L883.5,324.4L882.0,324.1L880.5,323.8L879.0,323.4L877.5,323.2L876.0,322.9L874.5,322.6L873.0,322.3L871.5,322.1L870.0,321.9L868.5,321.6L867.0,321.4L865.5,321.3L864.0,321.1L862.5,321.0L861.0,320.8L859.5,320.7L858.0,320.6L856.5,320.6L855.0,320.5L853.5,320.4L852.0,320.3L850.5,320.2L849.0,320.1L847.5,319.9L846.0,319.7L844.5,319.5L843.0,319.1L841.5,318.8L840.0,318.5L838.5,318.1L837.0,317.9L835.5,317.7L834.0,317.5L832.5,317.5L831.0,317.5L829.5,317.6L828.0,317.6L826.5,317.7L825.0,317.8L823.5,317.8L822.0,317.9L820.5,318.0L819.0,318.0L817.5,318.0L816.0,318.0L814.5,317.9L813.0,317.7L811.5,317.6L810.0,317.3L808.5,317.1L807.0,316.8L805.5,316.6L804.0,316.3L802.5,316.0L801.0,315.6L799.5,315.3L798.0,315.0L796.5,314.6L795.0,314.2L793.5,313.7L792.0,313.1L790.5,312.5L789.0,311.9L787.5,311.4L786.0,310.8L784.5,310.4L783.0,310.0L781.5,309.7L780.0,309.3L778.5,309.0L777.0,308.6L775.5,308.3L774.0,308.1L772.5,307.8L771.0,307.7L769.5,307.5L768.0,307.5L766.5,307.6L765.0,307.8L763.5,308.1L762.0,308.4L760.5,308.9L759.0,309.4L757.5,309.9L756.0,310.4L754.5,311.0L753.0,311.5L751.5,312.0L750.0,312.4L748.5,312.7L747.0,313.1L745.5,313.4L744.0,313.8L742.5,314.1L741.0,314.5L739.5,314.8L738.0,315.1L736.5,315.4L735.0,315.8L733.5,316.1L732.0,316.3L730.5,316.6L729.0,316.9L727.5,317.1L726.0,317.3L724.5,317.5L723.0,317.7L721.5,317.8L720.0,318.0L718.5,318.1L717.0,318.2L715.5,318.3L714.0,318.4L712.5,318.5L711.0,318.6L709.5,318.7L708.0,318.8L706.5,319.0L705.0,319.1L703.5,319.3L702.0,319.5L700.5,319.8L699.0,320.1L697.5,320.6L696.0,321.1L694.5,321.6L693.0,322.1L691.5,322.6L690.0,323.1L688.5,323.4L687.0,323.8L685.5,324.0L684.0,324.3L682.5,324.5L681.0,324.7L679.5,324.9L678.0,325.0L676.5,325.0L675.0,324.8L673.5,324.3L672.0,323.7L670.5,323.0L669.0,322.2L667.5,321.4L666.0,320.5L664.5,319.8L663.0,319.1L661.5,318.6L660.0,318.0L658.5,317.5L657.0,317.0L655.5,316.5L654.0,316.2L652.5,316.0L651.0,316.0L649.5,316.2L648.0,316.6L646.5,317.0L645.0,317.6L643.5,318.2L642.0,318.8L640.5,319.4L639.0,319.9L637.5,320.4L636.0,320.8L634.5,321.2L633.0,321.6L631.5,322.0L630.0,322.5L628.5,322.8L627.0,323.2L625.5,323.5L624.0,323.7L622.5,323.7L621.0,323.7L619.5,323.5L618.0,323.1L616.5,322.7L615.0,322.4L613.5,322.1L612.0,322.0L610.5,322.0L609.0,322.1L607.5,322.3L606.0,322.5L604.5,322.6L603.0,322.8L601.5,322.9L600.0,323.0L598.5,323.0L597.0,322.9L595.5,322.7L594.0,322.5L592.5,322.3L591.0,322.0L589.5,321.8L588.0,321.5L586.5,321.3L585.0,321.2L583.5,321.0L582.0,321.0L580.5,321.0L579.0,321.0L577.5,321.1L576.0,321.1L574.5,321.2L573.0,321.3L571.5,321.3L570.0,321.4L568.5,321.5L567.0,321.6L565.5,321.7L564.0,321.9L562.5,322.0L561.0,322.1L559.5,322.2L558.0,322.4L556.5,322.5L555.0,322.7L553.5,322.9L552.0,323.1L550.5,323.4L549.0,323.6L547.5,323.9L546.0,324.2L544.5,324.5L543.0,324.8L541.5,325.1L540.0,325.5L538.5,326.0L537.0,326.6L535.5,327.2L534.0,327.8L532.5,328.6L531.0,329.3L529.5,330.0L528.0,330.8L526.5,331.6L525.0,332.5L523.5,333.5L522.0,334.7L520.5,335.9L519.0,337.1L517.5,338.1L516.0,338.8L514.5,339.1L513.0,339.3L511.5,339.4L510.0,339.5L508.5,339.6L507.0,339.7L505.5,339.8L504.0,339.9L502.5,340.1L501.0,340.4L499.5,340.8L498.0,341.4L496.5,342.0L495.0,342.7L493.5,343.4L492.0,344.0L490.5,344.7L489.0,345.2L487.5,345.6L486.0,345.9L484.5,346.1L483.0,346.2L481.5,346.4L480.0,346.5L478.5,346.7L477.0,346.8L475.5,346.9L474.0,347.0L472.5,347.2L471.0,347.3L469.5,347.4L468.0,347.6L466.5,347.7L465.0,347.8L463.5,348.0L462.0,348.1L460.5,348.2L459.0,348.4L457.5,348.5L456.0,348.7L454.5,348.9L453.0,349.1L451.5,349.5L450.0,350.0L448.5,350.6L447.0,351.3L445.5,351.9L444.0,352.5L442.5,353.0L441.0,353.2L439.5,353.3L438.0,353.3L436.5,353.3L435.0,353.3L433.5,353.2L432.0,353.2L430.5,353.2L429.0,353.1L427.5,353.0L426.0,352.9L424.5,352.8L423.0,352.7L421.5,352.6L420.0,352.4L418.5,351.0L417.0,350.3L415.5,349.6L414.0,349.1L412.5,348.5L411.0,348.1L409.5,347.7L408.0,347.3L406.5,347.0L405.0,346.7L403.5,346.4L402.0,346.1L400.5,345.8L399.0,345.6L397.5,345.3L396.0,345.1L394.5,344.8L393.0,344.5L391.5,344.3L390.0,344.0L388.5,343.8L387.0,343.6L385.5,343.4L384.0,343.3L382.5,343.2L381.0,343.1L379.5,343.0L378.0,343.0L376.5,343.2L375.0,343.7L373.5,344.3L372.0,345.0L370.5,345.7L369.0,346.5L367.5,347.1L366.0,347.6L364.5,347.9L363.0,348.0L361.5,347.9L360.0,347.8L358.5,347.6L357.0,347.3L355.5,347.0L354.0,346.7L352.5,346.4L351.0,346.0L349.5,345.5L348.0,344.6L346.5,343.6L345.0,342.5L343.5,341.5L342.0,340.6L340.5,339.9L339.0,339.5L337.5,339.6L336.0,339.8L334.5,340.3L333.0,340.9L331.5,341.7L330.0,342.5L328.5,343.3L327.0,344.1L325.5,344.8L324.0,345.4L322.5,345.9L321.0,346.2L319.5,346.2L318.0,346.1L316.5,346.0L315.0,345.8L313.5,345.6L312.0,345.3L310.5,345.1L309.0,344.8L307.5,344.5L306.0,344.1L304.5,343.6L303.0,343.2L301.5,342.8L300.0,342.5L298.5,342.3L297.0,342.1L295.5,341.9L294.0,341.8L292.5,341.5L291.0,341.2L289.5,340.8L288.0,340.3L286.5,339.8L285.0,339.4L283.5,339.2L282.0,339.0L280.5,338.9L279.0,338.9L277.5,338.8L276.0,338.8L274.5,338.7L273.0,338.6L271.5,338.5L270.0,338.2L268.5,337.9L267.0,337.6L265.5,337.2L264.0,336.9L262.5,336.5L261.0,336.1L259.5,335.6L258.0,335.1L256.5,334.6L255.0,334.1L253.5,333.5L252.0,332.9L250.5,332.0L249.0,331.1L247.5,330.3L246.0,329.8L244.5,329.6L243.0,329.7L241.5,329.9L240.0,330.1L238.5,330.4L237.0,330.8L235.5,331.1L234.0,331.4L232.5,331.7L231.0,332.0L229.5,332.2L228.0,332.5L226.5,332.9L225.0,333.2L223.5,333.8L222.0,334.5L220.5,335.3L219.0,336.2L217.5,336.9L216.0,337.5L214.5,338.0L213.0,338.4L211.5,338.8L210.0,339.2L208.5,339.7L207.0,340.4L205.5,341.3L204.0,342.4L202.5,343.4L201.0,344.3L199.5,345.0L198.0,345.6L196.5,346.1L195.0,346.5L193.5,346.8L192.0,347.1L190.5,347.4L189.0,347.6L187.5,347.8L186.0,348.0L184.5,348.2L183.0,348.6L181.5,349.0L180.0,349.7L178.5,350.4L177.0,351.2L175.5,352.1L174.0,352.9L172.5,353.9L171.0,355.0L169.5,356.1L168.0,357.2L166.5,358.3L165.0,359.4L163.5,360.7L162.0,362.0L160.5,363.1L159.0,363.8L157.5,364.1L156.0,364.4L154.5,364.5L153.0,364.7L151.5,364.8L150.0,365.0L148.5,365.1L147.0,365.2L145.5,365.3L144.0,365.5L142.5,365.8L141.0,366.4L139.5,367.1L138.0,367.9L136.5,368.6L135.0,369.4L133.5,370.1L132.0,370.8L130.5,371.5L129.0,372.2L127.5,372.9L126.0,373.7L124.5,374.4L123.0,375.1L121.5,375.9L120.0,376.6L118.5,377.4L117.0,378.1L115.5,378.9L114.0,379.6L112.5,380.4L111.0,381.0L109.5,381.7L108.0,382.4L106.5,383.2L105.0,383.9L103.5,384.5L102.0,384.9L100.5,385.0L99.0,385.1L97.5,385.2L96.0,385.2L94.5,385.2L93.0,384.8L91.5,384.0L90.0,383.0L88.5,382.0L87.0,380.8L85.5,379.5L84.0,378.2L82.5,377.0L81.0,375.8L79.5,374.6L78.0,373.2L76.5,371.7L75.0,370.2L73.5,368.8L72.0,367.4L70.5,366.0L69.0,364.7L67.5,363.3L66.0,361.8L64.5,360.1L63.0,358.3L61.5,356.5L60.0,354.6L58.5,352.8L57.0,350.9L55.5,349.1L54.0,347.4L52.5,345.7L51.0,344.2L49.5,342.8L48.0,341.3L46.5,339.8L45.0,338.2L43.5,336.7L42.0,335.2L40.5,333.9L39.0,332.5L37.5,331.2L36.0,330.1L34.5,329.2L33.0,328.4L31.5,327.8L30.0,327.3L28.5,326.8L27.0,326.3L25.5,325.9L24.0,325.5L22.5,325.2L21.0,324.9Z" fill="#b0305d"/>
<path d="M21.0,324.9L22.5,325.2L24.0,325.5L25.5,325.9L27.0,326.3L28.5,326.8L30.0,327.3L31.5,327.8L33.0,328.4L34.5,329.2L36.0,330.1L37.5,331.2L39.0,332.5L40.5,333.9L42.0,335.2L43.5,336.7L45.0,338.2L46.5,339.8L48.0,341.3L49.5,342.8L51.0,344.2L52.5,345.7L54.0,347.4L55.5,349.1L57.0,350.9L58.5,352.8L60.0,354.6L61.5,356.5L63.0,358.3L64.5,360.1L66.0,361.8L67.5,363.3L69.0,364.7L70.5,366.0L72.0,367.4L73.5,368.8L75.0,370.2L76.5,371.7L78.0,373.2L79.5,374.6L81.0,375.8L82.5,377.0L84.0,378.2L85.5,379.5L87.0,380.8L88.5,382.0L90.0,383.0L91.5,384.0L93.0,384.8L94.5,385.2L96.0,385.2L97.5,385.2L99.0,385.1L100.5,385.0L102.0,384.9L103.5,384.5L105.0,383.9L106.5,383.2L108.0,382.4L109.5,381.7L111.0,381.0L112.5,380.4L114.0,379.6L115.5,378.9L117.0,378.1L118.5,377.4L120.0,376.6L121.5,375.9L123.0,375.1L124.5,374.4L126.0,373.7L127.5,372.9L129.0,372.2L130.5,371.5L132.0,370.8L133.5,370.1L135.0,369.4L136.5,368.6L138.0,367.9L139.5,367.1L141.0,366.4L142.5,365.8L144.0,365.5L145.5,365.3L147.0,365.2L148.5,365.1L150.0,365.0L151.5,364.8L153.0,364.7L154.5,364.5L156.0,364.4L157.5,364.1L159.0,363.8L160.5,363.1L162.0,362.0L163.5,360.7L165.0,359.4L166.5,358.3L168.0,357.2L169.5,356.1L171.0,355.0L172.5,353.9L174.0,352.9L175.5,352.1L177.0,351.2L178.5,350.4L180.0,349.7L181.5,349.0L183.0,348.6L184.5,348.2L186.0,348.0L187.5,347.8L189.0,347.6L190.5,347.4L192.0,347.1L193.5,346.8L195.0,346.5L196.5,346.1L198.0,345.6L199.5,345.0L201.0,344.3L202.5,343.4L204.0,342.4L205.5,341.3L207.0,340.4L208.5,339.7L210.0,339.2L211.5,338.8L213.0,338.4L214.5,338.0L216.0,337.5L217.5,336.9L219.0,336.2L220.5,335.3L222.0,334.5L223.5,333.8L225.0,333.2L226.5,332.9L228.0,332.5L229.5,332.2L231.0,332.0L232.5,331.7L234.0,331.4L235.5,331.1L237.0,330.8L238.5,330.4L240.0,330.1L241.5,329.9L243.0,329.7L244.5,329.6L246.0,329.8L247.5,330.3L249.0,331.1L250.5,332.0L252.0,332.9L253.5,333.5L255.0,334.1L256.5,334.6L258.0,335.1L259.5,335.6L261.0,336.1L262.5,336.5L264.0,336.9L265.5,337.2L267.0,337.6L268.5,337.9L270.0,338.2L271.5,338.5L273.0,338.6L274.5,338.7L276.0,338.8L277.5,338.8L279.0,338.9L280.5,338.9L282.0,339.0L283.5,339.2L285.0,339.4L286.5,339.8L288.0,340.3L289.5,340.8L291.0,341.2L292.5,341.5L294.0,341.8L295.5,341.9L297.0,342.1L298.5,342.3L300.0,342.5L301.5,342.8L303.0,343.2L304.5,343.6L306.0,344.1L307.5,344.5L309.0,344.8L310.5,345.1L312.0,345.3L313.5,345.6L315.0,345.8L316.5,346.0L318.0,346.1L319.5,346.2L321.0,346.2L322.5,345.9L324.0,345.4L325.5,344.8L327.0,344.1L328.5,343.3L330.0,342.5L331.5,341.7L333.0,340.9L334.5,340.3L336.0,339.8L337.5,339.6L339.0,339.5L340.5,339.9L342.0,340.6L343.5,341.5L345.0,342.5L346.5,343.6L348.0,344.6L349.5,345.5L351.0,346.0L352.5,346.4L354.0,346.7L355.5,347.0L357.0,347.3L358.5,347.6L360.0,347.8L361.5,347.9L363.0,348.0L364.5,347.9L366.0,347.6L367.5,347.1L369.0,346.5L370.5,345.7L372.0,345.0L373.5,344.3L375.0,343.7L376.5,343.2L378.0,343.0L379.5,343.0L381.0,343.1L382.5,343.2L384.0,343.3L385.5,343.4L387.0,343.6L388.5,343.8L390.0,344.0L391.5,344.3L393.0,344.5L394.5,344.8L396.0,345.1L397.5,345.3L399.0,345.6L400.5,345.8L402.0,346.1L403.5,346.4L405.0,346.7L406.5,347.0L408.0,347.3L409.5,347.7L411.0,348.1L412.5,348.5L414.0,349.1L415.5,349.6L417.0,350.3L418.5,351.0L420.0,352.4L421.5,352.6L423.0,352.7L424.5,352.8L426.0,352.9L427.5,353.0L429.0,353.1L430.5,353.2L432.0,353.2L433.5,353.2L435.0,353.3L436.5,353.3L438.0,353.3L439.5,353.3L441.0,353.2L442.5,353.0L444.0,352.5L445.5,351.9L447.0,351.3L448.5,350.6L450.0,350.0L451.5,349.5L453.0,349.1L454.5,348.9L456.0,348.7L457.5,348.5L459.0,348.4L460.5,348.2L462.0,348.1L463.5,348.0L465.0,347.8L466.5,347.7L468.0,347.6L469.5,347.4L471.0,347.3L472.5,347.2L474.0,347.0L475.5,346.9L477.0,346.8L478.5,346.7L480.0,346.5L481.5,346.4L483.0,346.2L484.5,346.1L486.0,345.9L487.5,345.6L489.0,345.2L490.5,344.7L492.0,344.0L493.5,343.4L495.0,342.7L496.5,342.0L498.0,341.4L499.5,340.8L501.0,340.4L502.5,340.1L504.0,339.9L505.5,339.8L507.0,339.7L508.5,339.6L510.0,339.5L511.5,339.4L513.0,339.3L514.5,339.1L516.0,338.8L517.5,338.1L519.0,337.1L520.5,335.9L522.0,334.7L523.5,333.5L525.0,332.5L526.5,331.6L528.0,330.8L529.5,330.0L531.0,329.3L532.5,328.6L534.0,327.8L535.5,327.2L537.0,326.6L538.5,326.0L540.0,325.5L541.5,325.1L543.0,324.8L544.5,324.5L546.0,324.2L547.5,323.9L549.0,323.6L550.5,323.4L552.0,323.1L553.5,322.9L555.0,322.7L556.5,322.5L558.0,322.4L559.5,322.2L561.0,322.1L562.5,322.0L564.0,321.9L565.5,321.7L567.0,321.6L568.5,321.5L570.0,321.4L571.5,321.3L573.0,321.3L574.5,321.2L576.0,321.1L577.5,321.1L579.0,321.0L580.5,321.0L582.0,321.0L583.5,321.0L585.0,321.2L586.5,321.3L588.0,321.5L589.5,321.8L591.0,322.0L592.5,322.3L594.0,322.5L595.5,322.7L597.0,322.9L598.5,323.0L600.0,323.0L601.5,322.9L603.0,322.8L604.5,322.6L606.0,322.5L607.5,322.3L609.0,322.1L610.5,322.0L612.0,322.0L613.5,322.1L615.0,322.4L616.5,322.7L618.0,323.1L619.5,323.5L621.0,323.7L622.5,323.7L624.0,323.7L625.5,323.5L627.0,323.2L628.5,322.8L630.0,322.5L631.5,322.0L633.0,321.6L634.5,321.2L636.0,320.8L637.5,320.4L639.0,319.9L640.5,319.4L642.0,318.8L643.5,318.2L645.0,317.6L646.5,317.0L648.0,316.6L649.5,316.2L651.0,316.0L652.5,316.0L654.0,316.2L655.5,316.5L657.0,317.0L658.5,317.5L660.0,318.0L661.5,318.6L663.0,319.1L664.5,319.8L666.0,320.5L667.5,321.4L669.0,322.2L670.5,323.0L672.0,323.7L673.5,324.3L675.0,324.8L676.5,325.0L678.0,325.0L679.5,324.9L681.0,324.7L682.5,324.5L684.0,324.3L685.5,324.0L687.0,323.8L688.5,323.4L690.0,323.1L691.5,322.6L693.0,322.1L694.5,321.6L696.0,321.1L697.5,320.6L699.0,320.1L700.5,319.8L702.0,319.5L703.5,319.3L705.0,319.1L706.5,319.0L708.0,318.8L709.5,318.7L711.0,318.6L712.5,318.5L714.0,318.4L715.5,318.3L717.0,318.2L718.5,318.1L720.0,318.0L721.5,317.8L723.0,317.7L724.5,317.5L726.0,317.3L727.5,317.1L729.0,316.9L730.5,316.6L732.0,316.3L733.5,316.1L735.0,315.8L736.5,315.4L738.0,315.1L739.5,314.8L741.0,314.5L742.5,314.1L744.0,313.8L745.5,313.4L747.0,313.1L748.5,312.7L750.0,312.4L751.5,312.0L753.0,311.5L754.5,311.0L756.0,310.4L757.5,309.9L759.0,309.4L760.5,308.9L762.0,308.4L763.5,308.1L765.0,307.8L766.5,307.6L768.0,307.5L769.5,307.5L771.0,307.7L772.5,307.8L774.0,308.1L775.5,308.3L777.0,308.6L778.5,309.0L780.0,309.3L781.5,309.7L783.0,310.0L784.5,310.4L786.0,310.8L787.5,311.4L789.0,311.9L790.5,312.5L792.0,313.1L793.5,313.7L795.0,314.2L796.5,314.6L798.0,315.0L799.5,315.3L801.0,315.6L802.5,316.0L804.0,316.3L805.5,316.6L807.0,316.8L808.5,317.1L810.0,317.3L811.5,317.6L813.0,317.7L814.5,317.9L816.0,318.0L817.5,318.0L819.0,318.0L820.5,318.0L822.0,317.9L823.5,317.8L825.0,317.8L826.5,317.7L828.0,317.6L829.5,317.6L831.0,317.5L832.5,317.5L834.0,317.5L835.5,317.7L837.0,317.9L838.5,318.1L840.0,318.5L841.5,318.8L843.0,319.1L844.5,319.5L846.0,319.7L847.5,319.9L849.0,320.1L850.5,320.2L852.0,320.3L853.5,320.4L855.0,320.5L856.5,320.6L858.0,320.6L859.5,320.7L861.0,320.8L862.5,321.0L864.0,321.1L865.5,321.3L867.0,321.4L868.5,321.6L870.0,321.9L871.5,322.1L873.0,322.3L874.5,322.6L876.0,322.9L877.5,323.2L879.0,323.4L880.5,323.8L882.0,324.1L883.5,324.4L885.0,324.8L886.5,325.2L888.0,325.6L889.5,326.0L891.0,326.5L892.5,326.9L894.0,327.4L895.5,327.9L897.0,328.4L898.5,328.9L900.0,329.4L901.5,330.0L903.0,330.5L904.5,331.1L906.0,331.7L907.5,332.4L909.0,333.1L910.5,333.8L912.0,334.5L913.5,335.3L915.0,336.1L916.5,337.0L918.0,337.9L919.5,338.8L921.0,339.8L922.5,340.7L924.0,341.6L925.5,342.6L927.0,343.5L928.5,344.5L930.0,345.5L931.5,346.5L933.0,347.5L934.5,348.6L936.0,349.6L937.5,350.7L939.0,351.7L940.5,352.8L942.0,354.0L943.5,355.2L945.0,356.4L946.5,357.5L948.0,358.7L949.5,359.8L951.0,360.8L952.5,361.7L954.0,362.6L955.5,363.4L957.0,364.2L958.5,365.0L960.0,365.8L961.5,366.5L963.0,367.2L964.5,367.8L966.0,368.3L967.5,368.6L969.0,368.9L970.5,369.1L972.0,369.3L973.5,369.4L975.0,369.6L976.5,369.7L978.0,370.0L979.5,370.4L981.0,371.0L982.5,371.7L984.0,372.5L985.5,373.3L985.5,374.4L984.0,373.6L982.5,372.8L981.0,372.1L979.5,371.5L978.0,371.1L976.5,370.8L975.0,370.7L973.5,370.5L972.0,370.4L970.5,370.2L969.0,370.0L967.5,369.7L966.0,369.4L964.5,368.9L963.0,368.3L961.5,367.6L960.0,366.9L958.5,366.1L957.0,365.3L955.5,364.5L954.0,363.7L952.5,362.8L951.0,361.9L949.5,360.9L948.0,359.8L946.5,358.6L945.0,357.5L943.5,356.3L942.0,355.1L940.5,353.9L939.0,352.8L937.5,351.8L936.0,350.7L934.5,349.7L933.0,348.6L931.5,347.6L930.0,346.6L928.5,345.6L927.0,344.6L925.5,343.7L924.0,342.7L922.5,341.8L921.0,340.9L919.5,339.9L918.0,339.0L916.5,338.1L915.0,337.2L913.5,336.4L912.0,335.6L910.5,334.9L909.0,334.2L907.5,333.5L906.0,332.8L904.5,332.2L903.0,331.6L901.5,331.1L900.0,330.5L898.5,330.0L897.0,329.5L895.5,329.0L894.0,328.5L892.5,328.0L891.0,327.6L889.5,327.1L888.0,326.7L886.5,326.3L885.0,325.9L883.5,325.5L882.0,325.2L880.5,324.9L879.0,324.5L877.5,324.3L876.0,324.0L874.5,323.7L873.0,323.4L871.5,323.2L870.0,323.0L868.5,322.7L867.0,322.5L865.5,322.4L864.0,322.2L862.5,322.1L861.0,321.9L859.5,321.8L858.0,321.7L856.5,321.7L855.0,321.6L853.5,321.5L852.0,321.4L850.5,321.3L849.0,321.2L847.5,321.0L846.0,320.8L844.5,320.6L843.0,320.2L841.5,319.9L840.0,319.6L838.5,319.2L837.0,319.0L835.5,318.8L834.0,318.6L832.5,318.6L831.0,318.6L829.5,318.7L828.0,318.7L826.5,318.8L825.0,318.9L823.5,318.9L822.0,319.0L820.5,319.1L819.0,319.1L817.5,319.1L816.0,319.1L814.5,319.0L813.0,318.8L811.5,318.7L810.0,318.4L808.5,318.2L807.0,317.9L805.5,317.7L804.0,317.4L802.5,317.1L801.0,316.7L799.5,316.4L798.0,316.1L796.5,315.7L795.0,315.3L793.5,314.8L792.0,314.2L790.5,313.6L789.0,313.0L787.5,312.5L786.0,311.9L784.5,311.5L783.0,311.1L781.5,310.8L780.0,310.4L778.5,310.1L777.0,309.7L775.5,309.4L774.0,309.2L772.5,308.9L771.0,308.8L769.5,308.6L768.0,308.6L766.5,308.7L765.0,308.9L763.5,309.2L762.0,309.5L760.5,310.0L759.0,310.5L757.5,311.0L756.0,311.5L754.5,312.1L753.0,312.6L751.5,313.1L750.0,313.5L748.5,313.8L747.0,314.2L745.5,314.5L744.0,314.9L742.5,315.2L741.0,315.6L739.5,315.9L738.0,316.2L736.5,316.5L735.0,316.9L733.5,317.2L732.0,317.4L730.5,317.7L729.0,318.0L727.5,318.2L726.0,318.4L724.5,318.6L723.0,318.8L721.5,318.9L720.0,319.1L718.5,319.2L717.0,319.3L715.5,319.4L714.0,319.5L712.5,319.6L711.0,319.7L709.5,319.8L708.0,319.9L706.5,320.1L705.0,320.2L703.5,320.4L702.0,320.6L700.5,320.9L699.0,321.2L697.5,321.7L696.0,322.2L694.5,322.7L693.0,323.2L691.5,323.7L690.0,324.2L688.5,324.5L687.0,324.9L685.5,325.1L684.0,325.4L682.5,325.6L681.0,325.8L679.5,326.0L678.0,326.1L676.5,326.1L675.0,325.9L673.5,325.4L672.0,324.8L670.5,324.1L669.0,323.3L667.5,322.5L666.0,321.6L664.5,320.9L663.0,320.2L661.5,319.7L660.0,319.1L658.5,318.6L657.0,318.1L655.5,317.6L654.0,317.3L652.5,317.1L651.0,317.1L649.5,317.3L648.0,317.7L646.5,318.1L645.0,318.7L643.5,319.3L642.0,319.9L640.5,320.5L639.0,321.0L637.5,321.5L636.0,321.9L634.5,322.3L633.0,322.7L631.5,323.1L630.0,323.6L628.5,323.9L627.0,324.3L625.5,324.6L624.0,324.8L622.5,324.8L621.0,324.8L619.5,324.6L618.0,324.2L616.5,323.8L615.0,323.5L613.5,323.2L612.0,323.1L610.5,323.1L609.0,323.2L607.5,323.4L606.0,323.6L604.5,323.7L603.0,323.9L601.5,324.0L600.0,324.1L598.5,324.1L597.0,324.0L595.5,323.8L594.0,323.6L592.5,323.4L591.0,323.1L589.5,322.9L588.0,322.6L586.5,322.4L585.0,322.3L583.5,322.1L582.0,322.1L580.5,322.1L579.0,322.1L577.5,322.2L576.0,322.2L574.5,322.3L573.0,322.4L571.5,322.4L570.0,322.5L568.5,322.6L567.0,322.7L565.5,322.8L564.0,323.0L562.5,323.1L561.0,323.2L559.5,323.3L558.0,323.5L556.5,323.6L555.0,323.8L553.5,324.0L552.0,324.2L550.5,324.5L549.0,324.7L547.5,325.0L546.0,325.3L544.5,325.6L543.0,325.9L541.5,326.2L540.0,326.6L538.5,327.1L537.0,327.7L535.5,328.3L534.0,328.9L532.5,329.7L531.0,330.4L529.5,331.1L528.0,331.9L526.5,332.7L525.0,333.6L523.5,334.6L522.0,335.8L520.5,337.0L519.0,338.2L517.5,339.2L516.0,339.9L514.5,340.2L513.0,340.4L511.5,340.5L510.0,340.5L508.5,340.5L507.0,340.6L505.5,340.8L504.0,341.0L502.5,341.4L501.0,341.9L499.5,342.4L498.0,343.0L496.5,343.7L495.0,344.3L493.5,344.9L492.0,345.6L490.5,346.1L489.0,346.6L487.5,347.0L486.0,347.3L484.5,347.5L483.0,347.7L481.5,347.8L480.0,348.0L478.5,348.1L477.0,348.3L475.5,348.4L474.0,348.5L472.5,348.6L471.0,348.8L469.5,348.9L468.0,349.1L466.5,349.2L465.0,349.3L463.5,349.5L462.0,349.6L460.5,349.7L459.0,349.9L457.5,350.0L456.0,350.2L454.5,350.4L453.0,350.6L451.5,351.0L450.0,351.5L448.5,352.2L447.0,352.9L445.5,353.6L444.0,354.2L442.5,354.6L441.0,354.9L439.5,355.0L438.0,355.0L436.5,355.0L435.0,355.0L433.5,355.0L432.0,355.0L430.5,355.0L429.0,354.9L427.5,354.9L426.0,354.9L424.5,354.9L423.0,354.9L421.5,354.9L420.0,354.9L418.5,355.0L417.0,354.9L415.5,354.7L414.0,354.4L412.5,354.0L411.0,353.5L409.5,353.0L408.0,352.4L406.5,351.9L405.0,351.3L403.5,350.8L402.0,350.3L400.5,349.9L399.0,349.6L397.5,349.4L396.0,349.1L394.5,348.9L393.0,348.7L391.5,348.5L390.0,348.3L388.5,348.1L387.0,348.0L385.5,347.8L384.0,347.7L382.5,347.6L381.0,347.5L379.5,347.5L378.0,347.5L376.5,347.8L375.0,348.4L373.5,349.1L372.0,350.0L370.5,350.9L369.0,351.8L367.5,352.7L366.0,353.3L364.5,353.7L363.0,353.7L361.5,353.7L360.0,353.6L358.5,353.5L357.0,353.4L355.5,353.2L354.0,353.0L352.5,352.7L351.0,352.5L349.5,352.0L348.0,351.3L346.5,350.3L345.0,349.2L343.5,348.1L342.0,347.1L340.5,346.4L339.0,346.0L337.5,346.0L336.0,346.3L334.5,346.7L333.0,347.2L331.5,347.8L330.0,348.4L328.5,349.1L327.0,349.8L325.5,350.4L324.0,350.9L322.5,351.2L321.0,351.5L319.5,351.5L318.0,351.4L316.5,351.2L315.0,351.0L313.5,350.7L312.0,350.4L310.5,350.1L309.0,349.8L307.5,349.5L306.0,349.2L304.5,348.8L303.0,348.5L301.5,348.2L300.0,348.0L298.5,347.8L297.0,347.7L295.5,347.6L294.0,347.5L292.5,347.4L291.0,347.1L289.5,346.8L288.0,346.4L286.5,346.1L285.0,345.9L283.5,345.7L282.0,345.7L280.5,345.8L279.0,346.0L277.5,346.1L276.0,346.3L274.5,346.4L273.0,346.5L271.5,346.4L270.0,346.2L268.5,345.9L267.0,345.6L265.5,345.2L264.0,344.8L262.5,344.5L261.0,344.2L259.5,343.9L258.0,343.6L256.5,343.3L255.0,342.9L253.5,342.5L252.0,342.0L250.5,341.3L249.0,340.5L247.5,339.8L246.0,339.3L244.5,339.1L243.0,339.2L241.5,339.3L240.0,339.5L238.5,339.7L237.0,340.0L235.5,340.3L234.0,340.5L232.5,340.8L231.0,341.1L229.5,341.3L228.0,341.6L226.5,342.0L225.0,342.3L223.5,342.8L222.0,343.4L220.5,344.1L219.0,344.8L217.5,345.4L216.0,345.8L214.5,346.1L213.0,346.4L211.5,346.7L210.0,346.9L208.5,347.3L207.0,347.8L205.5,348.5L204.0,349.3L202.5,350.1L201.0,350.9L199.5,351.6L198.0,352.3L196.5,352.9L195.0,353.5L193.5,353.9L192.0,354.3L190.5,354.5L189.0,354.7L187.5,354.9L186.0,355.2L184.5,355.4L183.0,355.7L181.5,356.2L180.0,356.7L178.5,357.3L177.0,358.0L175.5,358.7L174.0,359.4L172.5,360.3L171.0,361.2L169.5,362.1L168.0,363.1L166.5,364.1L165.0,365.2L163.5,366.5L162.0,367.9L160.5,369.0L159.0,369.9L157.5,370.3L156.0,370.6L154.5,370.9L153.0,371.0L151.5,371.1L150.0,370.9L148.5,370.6L147.0,370.2L145.5,369.9L144.0,369.8L142.5,370.0L141.0,370.6L139.5,371.4L138.0,372.3L136.5,373.2L135.0,374.0L133.5,374.6L132.0,375.1L130.5,375.7L129.0,376.2L127.5,376.7L126.0,377.2L124.5,377.7L123.0,378.2L121.5,378.8L120.0,379.4L118.5,380.0L117.0,380.6L115.5,381.3L114.0,381.9L112.5,382.5L111.0,383.1L109.5,383.6L108.0,384.1L106.5,384.6L105.0,385.1L103.5,385.5L102.0,385.8L100.5,386.1L99.0,386.3L97.5,386.4L96.0,386.6L94.5,386.6L93.0,386.1L91.5,385.3L90.0,384.4L88.5,383.3L87.0,382.0L85.5,380.6L84.0,379.4L82.5,378.1L81.0,376.8L79.5,375.5L78.0,374.0L76.5,372.4L75.0,370.6L73.5,368.9L72.0,367.4L70.5,366.0L69.0,364.7L67.5,363.3L66.0,361.8L64.5,360.1L63.0,358.3L61.5,356.5L60.0,354.6L58.5,352.8L57.0,350.9L55.5,349.1L54.0,347.4L52.5,345.7L51.0,344.2L49.5,342.8L48.0,341.3L46.5,339.8L45.0,338.2L43.5,336.7L42.0,335.2L40.5,333.9L39.0,332.5L37.5,331.2L36.0,330.1L34.5,329.2L33.0,328.4L31.5,327.8L30.0,327.3L28.5,326.8L27.0,326.3L25.5,325.9L24.0,325.5L22.5,325.2L21.0,324.9Z" fill="#d2c8be"/>
<path d="M21.0,324.9L22.5,325.2L24.0,325.5L25.5,325.9L27.0,326.3L28.5,326.8L30.0,327.3L31.5,327.8L33.0,328.4L34.5,329.2L36.0,330.1L37.5,331.2L39.0,332.5L40.5,333.9L42.0,335.2L43.5,336.7L45.0,338.2L46.5,339.8L48.0,341.3L49.5,342.8L51.0,344.2L52.5,345.7L54.0,347.4L55.5,349.1L57.0,350.9L58.5,352.8L60.0,354.6L61.5,356.5L63.0,358.3L64.5,360.1L66.0,361.8L67.5,363.3L69.0,364.7L70.5,366.0L72.0,367.4L73.5,368.9L75.0,370.6L76.5,372.4L78.0,374.0L79.5,375.5L81.0,376.8L82.5,378.1L84.0,379.4L85.5,380.6L87.0,382.0L88.5,383.3L90.0,384.4L91.5,385.3L93.0,386.1L94.5,386.6L96.0,386.6L97.5,386.4L99.0,386.3L100.5,386.1L102.0,385.8L103.5,385.5L105.0,385.1L106.5,384.6L108.0,384.1L109.5,383.6L111.0,383.1L112.5,382.5L114.0,381.9L115.5,381.3L117.0,380.6L118.5,380.0L120.0,379.4L121.5,378.8L123.0,378.2L124.5,377.7L126.0,377.2L127.5,376.7L129.0,376.2L130.5,375.7L132.0,375.1L133.5,374.6L135.0,374.0L136.5,373.2L138.0,372.3L139.5,371.4L141.0,370.6L142.5,370.0L144.0,369.8L145.5,369.9L147.0,370.2L148.5,370.6L150.0,370.9L151.5,371.1L153.0,371.0L154.5,370.9L156.0,370.6L157.5,370.3L159.0,369.9L160.5,369.0L162.0,367.9L163.5,366.5L165.0,365.2L166.5,364.1L168.0,363.1L169.5,362.1L171.0,361.2L172.5,360.3L174.0,359.4L175.5,358.7L177.0,358.0L178.5,357.3L180.0,356.7L181.5,356.2L183.0,355.7L184.5,355.4L186.0,355.2L187.5,354.9L189.0,354.7L190.5,354.5L192.0,354.3L193.5,353.9L195.0,353.5L196.5,352.9L198.0,352.3L199.5,351.6L201.0,350.9L202.5,350.1L204.0,349.3L205.5,348.5L207.0,347.8L208.5,347.3L210.0,346.9L211.5,346.7L213.0,346.4L214.5,346.1L216.0,345.8L217.5,345.4L219.0,344.8L220.5,344.1L222.0,343.4L223.5,342.8L225.0,342.3L226.5,342.0L228.0,341.6L229.5,341.3L231.0,341.1L232.5,340.8L234.0,340.5L235.5,340.3L237.0,340.0L238.5,339.7L240.0,339.5L241.5,339.3L243.0,339.2L244.5,339.1L246.0,339.3L247.5,339.8L249.0,340.5L250.5,341.3L252.0,342.0L253.5,342.5L255.0,342.9L256.5,343.3L258.0,343.6L259.5,343.9L261.0,344.2L262.5,344.5L264.0,344.8L265.5,345.2L267.0,345.6L268.5,345.9L270.0,346.2L271.5,346.4L273.0,346.5L274.5,346.4L276.0,346.3L277.5,346.1L279.0,346.0L280.5,345.8L282.0,345.7L283.5,345.7L285.0,345.9L286.5,346.1L288.0,346.4L289.5,346.8L291.0,347.1L292.5,347.4L294.0,347.5L295.5,347.6L297.0,347.7L298.5,347.8L300.0,348.0L301.5,348.2L303.0,348.5L304.5,348.8L306.0,349.2L307.5,349.5L309.0,349.8L310.5,350.1L312.0,350.4L313.5,350.7L315.0,351.0L316.5,351.2L318.0,351.4L319.5,351.5L321.0,351.5L322.5,351.2L324.0,350.9L325.5,350.4L327.0,349.8L328.5,349.1L330.0,348.4L331.5,347.8L333.0,347.2L334.5,346.7L336.0,346.3L337.5,346.0L339.0,346.0L340.5,346.4L342.0,347.1L343.5,348.1L345.0,349.2L346.5,350.3L348.0,351.3L349.5,352.0L351.0,352.5L352.5,352.7L354.0,353.0L355.5,353.2L357.0,353.4L358.5,353.5L360.0,353.6L361.5,353.7L363.0,353.7L364.5,353.7L366.0,353.3L367.5,352.7L369.0,351.8L370.5,350.9L372.0,350.0L373.5,349.1L375.0,348.4L376.5,347.8L378.0,347.5L379.5,347.5L381.0,347.5L382.5,347.6L384.0,347.7L385.5,347.8L387.0,348.0L388.5,348.1L390.0,348.3L391.5,348.5L393.0,348.7L394.5,348.9L396.0,349.1L397.5,349.4L399.0,349.6L400.5,349.9L402.0,350.3L403.5,350.8L405.0,351.3L406.5,351.9L408.0,352.4L409.5,353.0L411.0,353.5L412.5,354.0L414.0,354.4L415.5,354.7L417.0,354.9L418.5,355.0L420.0,354.9L421.5,354.9L423.0,354.9L424.5,354.9L426.0,354.9L427.5,354.9L429.0,354.9L430.5,355.0L432.0,355.0L433.5,355.0L435.0,355.0L436.5,355.0L438.0,355.0L439.5,355.0L441.0,354.9L442.5,354.6L444.0,354.2L445.5,353.6L447.0,352.9L448.5,352.2L450.0,351.5L451.5,351.0L453.0,350.6L454.5,350.4L456.0,350.2L457.5,350.0L459.0,349.9L460.5,349.7L462.0,349.6L463.5,349.5L465.0,349.3L466.5,349.2L468.0,349.1L469.5,348.9L471.0,348.8L472.5,348.6L474.0,348.5L475.5,348.4L477.0,348.3L478.5,348.1L480.0,348.0L481.5,347.8L483.0,347.7L484.5,347.5L486.0,347.3L487.5,347.0L489.0,346.6L490.5,346.1L492.0,345.6L493.5,344.9L495.0,344.3L496.5,343.7L498.0,343.0L499.5,342.4L501.0,341.9L502.5,341.4L504.0,341.0L505.5,340.8L507.0,340.6L508.5,340.5L510.0,340.5L511.5,340.5L513.0,340.4L514.5,340.2L516.0,339.9L517.5,339.2L519.0,338.2L520.5,337.0L522.0,335.8L523.5,334.6L525.0,333.6L526.5,332.7L528.0,331.9L529.5,331.1L531.0,330.4L532.5,329.7L534.0,328.9L535.5,328.3L537.0,327.7L538.5,327.1L540.0,326.6L541.5,326.2L543.0,325.9L544.5,325.6L546.0,325.3L547.5,325.0L549.0,324.7L550.5,324.5L552.0,324.2L553.5,324.0L555.0,323.8L556.5,323.6L558.0,323.5L559.5,323.3L561.0,323.2L562.5,323.1L564.0,323.0L565.5,322.8L567.0,322.7L568.5,322.6L570.0,322.5L571.5,322.4L573.0,322.4L574.5,322.3L576.0,322.2L577.5,322.2L579.0,322.1L580.5,322.1L582.0,322.1L583.5,322.1L585.0,322.3L586.5,322.4L588.0,322.6L589.5,322.9L591.0,323.1L592.5,323.4L594.0,323.6L595.5,323.8L597.0,324.0L598.5,324.1L600.0,324.1L601.5,324.0L603.0,323.9L604.5,323.7L606.0,323.6L607.5,323.4L609.0,323.2L610.5,323.1L612.0,323.1L613.5,323.2L615.0,323.5L616.5,323.8L618.0,324.2L619.5,324.6L621.0,324.8L622.5,324.8L624.0,324.8L625.5,324.6L627.0,324.3L628.5,323.9L630.0,323.6L631.5,323.1L633.0,322.7L634.5,322.3L636.0,321.9L637.5,321.5L639.0,321.0L640.5,320.5L642.0,319.9L643.5,319.3L645.0,318.7L646.5,318.1L648.0,317.7L649.5,317.3L651.0,317.1L652.5,317.1L654.0,317.3L655.5,317.6L657.0,318.1L658.5,318.6L660.0,319.1L661.5,319.7L663.0,320.2L664.5,320.9L666.0,321.6L667.5,322.5L669.0,323.3L670.5,324.1L672.0,324.8L673.5,325.4L675.0,325.9L676.5,326.1L678.0,326.1L679.5,326.0L681.0,325.8L682.5,325.6L684.0,325.4L685.5,325.1L687.0,324.9L688.5,324.5L690.0,324.2L691.5,323.7L693.0,323.2L694.5,322.7L696.0,322.2L697.5,321.7L699.0,321.2L700.5,320.9L702.0,320.6L703.5,320.4L705.0,320.2L706.5,320.1L708.0,319.9L709.5,319.8L711.0,319.7L712.5,319.6L714.0,319.5L715.5,319.4L717.0,319.3L718.5,319.2L720.0,319.1L721.5,318.9L723.0,318.8L724.5,318.6L726.0,318.4L727.5,318.2L729.0,318.0L730.5,317.7L732.0,317.4L733.5,317.2L735.0,316.9L736.5,316.5L738.0,316.2L739.5,315.9L741.0,315.6L742.5,315.2L744.0,314.9L745.5,314.5L747.0,314.2L748.5,313.8L750.0,313.5L751.5,313.1L753.0,312.6L754.5,312.1L756.0,311.5L757.5,311.0L759.0,310.5L760.5,310.0L762.0,309.5L763.5,309.2L765.0,308.9L766.5,308.7L768.0,308.6L769.5,308.6L771.0,308.8L772.5,308.9L774.0,309.2L775.5,309.4L777.0,309.7L778.5,310.1L780.0,310.4L781.5,310.8L783.0,311.1L784.5,311.5L786.0,311.9L787.5,312.5L789.0,313.0L790.5,313.6L792.0,314.2L793.5,314.8L795.0,315.3L796.5,315.7L798.0,316.1L799.5,316.4L801.0,316.7L802.5,317.1L804.0,317.4L805.5,317.7L807.0,317.9L808.5,318.2L810.0,318.4L811.5,318.7L813.0,318.8L814.5,319.0L816.0,319.1L817.5,319.1L819.0,319.1L820.5,319.1L822.0,319.0L823.5,318.9L825.0,318.9L826.5,318.8L828.0,318.7L829.5,318.7L831.0,318.6L832.5,318.6L834.0,318.6L835.5,318.8L837.0,319.0L838.5,319.2L840.0,319.6L841.5,319.9L843.0,320.2L844.5,320.6L846.0,320.8L847.5,321.0L849.0,321.2L850.5,321.3L852.0,321.4L853.5,321.5L855.0,321.6L856.5,321.7L858.0,321.7L859.5,321.8L861.0,321.9L862.5,322.1L864.0,322.2L865.5,322.4L867.0,322.5L868.5,322.7L870.0,323.0L871.5,323.2L873.0,323.4L874.5,323.7L876.0,324.0L877.5,324.3L879.0,324.5L880.5,324.9L882.0,325.2L883.5,325.5L885.0,325.9L886.5,326.3L888.0,326.7L889.5,327.1L891.0,327.6L892.5,328.0L894.0,328.5L895.5,329.0L897.0,329.5L898.5,330.0L900.0,330.5L901.5,331.1L903.0,331.6L904.5,332.2L906.0,332.8L907.5,333.5L909.0,334.2L910.5,334.9L912.0,335.6L913.5,336.4L915.0,337.2L916.5,338.1L918.0,339.0L919.5,339.9L921.0,340.9L922.5,341.8L924.0,342.7L925.5,343.7L927.0,344.6L928.5,345.6L930.0,346.6L931.5,347.6L933.0,348.6L934.5,349.7L936.0,350.7L937.5,351.8L939.0,352.8L940.5,353.9L942.0,355.1L943.5,356.3L945.0,357.5L946.5,358.6L948.0,359.8L949.5,360.9L951.0,361.9L952.5,362.8L954.0,363.7L955.5,364.5L957.0,365.3L958.5,366.1L960.0,366.9L961.5,367.6L963.0,368.3L964.5,368.9L966.0,369.4L967.5,369.7L969.0,370.0L970.5,370.2L972.0,370.4L973.5,370.5L975.0,370.7L976.5,370.8L978.0,371.1L979.5,371.5L981.0,372.1L982.5,372.8L984.0,373.6L985.5,374.4L985.5,433.0L984.0,432.1L982.5,431.3L981.0,430.4L979.5,429.5L978.0,428.6L976.5,427.6L975.0,426.7L973.5,425.8L972.0,424.8L970.5,423.8L969.0,422.8L967.5,421.7L966.0,420.6L964.5,419.5L963.0,418.4L961.5,417.3L960.0,416.1L958.5,415.0L957.0,413.8L955.5,412.7L954.0,411.5L952.5,410.4L951.0,409.3L949.5,408.2L948.0,407.1L946.5,406.0L945.0,404.9L943.5,403.8L942.0,402.7L940.5,401.5L939.0,400.3L937.5,399.2L936.0,397.9L934.5,396.7L933.0,395.4L931.5,394.1L930.0,392.8L928.5,391.5L927.0,390.2L925.5,388.9L924.0,387.6L922.5,386.4L921.0,385.2L919.5,384.0L918.0,382.8L916.5,381.6L915.0,380.4L913.5,379.3L912.0,378.2L910.5,377.1L909.0,376.0L907.5,375.0L906.0,374.0L904.5,373.0L903.0,372.1L901.5,371.2L900.0,370.3L898.5,369.5L897.0,368.6L895.5,367.8L894.0,367.0L892.5,366.2L891.0,365.4L889.5,364.6L888.0,363.9L886.5,363.3L885.0,362.7L883.5,362.1L882.0,361.5L880.5,361.0L879.0,360.5L877.5,360.3L876.0,360.2L874.5,360.2L873.0,360.2L871.5,360.2L870.0,360.2L868.5,360.2L867.0,360.2L865.5,360.2L864.0,360.2L862.5,360.2L861.0,360.2L859.5,360.2L858.0,360.2L856.5,360.1L855.0,360.0L853.5,359.9L852.0,359.8L850.5,359.7L849.0,359.5L847.5,359.3L846.0,359.0L844.5,358.7L843.0,358.3L841.5,358.0L840.0,357.7L838.5,357.5L837.0,357.4L835.5,357.4L834.0,357.5L832.5,357.6L831.0,357.7L829.5,357.9L828.0,358.1L826.5,358.3L825.0,358.5L823.5,358.8L822.0,359.2L820.5,359.5L819.0,360.0L817.5,360.4L816.0,360.7L814.5,361.1L813.0,361.3L811.5,361.5L810.0,361.6L808.5,361.6L807.0,361.4L805.5,361.1L804.0,360.8L802.5,360.3L801.0,359.9L799.5,359.4L798.0,358.9L796.5,358.4L795.0,357.9L793.5,357.5L792.0,357.1L790.5,356.6L789.0,356.1L787.5,355.6L786.0,355.2L784.5,354.8L783.0,354.4L781.5,354.2L780.0,354.1L778.5,354.2L777.0,354.5L775.5,354.9L774.0,355.5L772.5,356.0L771.0,356.6L769.5,357.0L768.0,357.3L766.5,357.4L765.0,357.2L763.5,356.9L762.0,356.4L760.5,355.9L759.0,355.5L757.5,355.0L756.0,354.5L754.5,354.1L753.0,353.8L751.5,353.8L750.0,353.8L748.5,354.0L747.0,354.2L745.5,354.5L744.0,354.8L742.5,355.2L741.0,355.7L739.5,356.2L738.0,356.7L736.5,357.2L735.0,358.1L733.5,359.3L732.0,360.7L730.5,362.2L729.0,363.7L727.5,365.1L726.0,366.2L724.5,367.0L723.0,367.5L721.5,367.9L720.0,368.3L718.5,368.6L717.0,368.9L715.5,369.2L714.0,369.5L712.5,369.9L711.0,370.3L709.5,370.7L708.0,371.1L706.5,371.6L705.0,372.0L703.5,372.5L702.0,373.0L700.5,373.4L699.0,373.9L697.5,374.4L696.0,374.8L694.5,375.3L693.0,375.7L691.5,376.1L690.0,376.6L688.5,377.1L687.0,377.7L685.5,378.2L684.0,378.7L682.5,379.1L681.0,379.5L679.5,379.8L678.0,380.0L676.5,380.0L675.0,379.9L673.5,379.6L672.0,379.2L670.5,378.8L669.0,378.2L667.5,377.7L666.0,377.1L664.5,376.6L663.0,376.1L661.5,375.6L660.0,375.3L658.5,375.1L657.0,375.0L655.5,375.1L654.0,375.4L652.5,375.7L651.0,376.2L649.5,376.8L648.0,377.4L646.5,378.0L645.0,378.6L643.5,379.1L642.0,379.5L640.5,379.9L639.0,380.3L637.5,380.7L636.0,381.1L634.5,381.4L633.0,381.8L631.5,382.1L630.0,382.3L628.5,382.4L627.0,382.5L625.5,382.4L624.0,382.3L622.5,382.1L621.0,381.8L619.5,381.5L618.0,381.2L616.5,380.9L615.0,380.7L613.5,380.6L612.0,380.5L610.5,380.6L609.0,380.8L607.5,381.0L606.0,381.4L604.5,381.8L603.0,382.2L601.5,382.6L600.0,383.0L598.5,383.3L597.0,383.6L595.5,383.7L594.0,383.7L592.5,383.5L591.0,383.3L589.5,383.2L588.0,383.4L586.5,383.8L585.0,384.3L583.5,384.8L582.0,385.3L580.5,385.5L579.0,385.6L577.5,385.4L576.0,385.1L574.5,384.7L573.0,384.1L571.5,383.5L570.0,382.9L568.5,382.3L567.0,381.8L565.5,381.3L564.0,380.8L562.5,380.4L561.0,379.9L559.5,379.5L558.0,379.0L556.5,378.5L555.0,378.0L553.5,377.5L552.0,376.9L550.5,376.2L549.0,375.4L547.5,374.6L546.0,373.9L544.5,373.4L543.0,373.2L541.5,373.2L540.0,373.3L538.5,373.3L537.0,373.4L535.5,373.5L534.0,373.6L532.5,373.8L531.0,373.9L529.5,374.1L528.0,374.3L526.5,374.5L525.0,374.7L523.5,375.1L522.0,375.6L520.5,376.2L519.0,376.7L517.5,377.3L516.0,377.8L514.5,378.3L513.0,378.7L511.5,379.1L510.0,379.5L508.5,379.9L507.0,380.3L505.5,380.5L504.0,380.7L502.5,380.7L501.0,380.7L499.5,380.6L498.0,380.5L496.5,380.3L495.0,380.2L493.5,380.0L492.0,379.8L490.5,379.6L489.0,379.4L487.5,379.1L486.0,378.7L484.5,378.2L483.0,377.7L481.5,377.3L480.0,376.9L478.5,376.7L477.0,376.5L475.5,376.5L474.0,376.6L472.5,376.9L471.0,377.1L469.5,377.5L468.0,377.8L466.5,378.2L465.0,378.6L463.5,378.9L462.0,379.3L460.5,379.6L459.0,380.0L457.5,380.4L456.0,380.8L454.5,381.2L453.0,381.5L451.5,381.9L450.0,382.3L448.5,382.7L447.0,383.1L445.5,383.5L444.0,383.9L442.5,384.3L441.0,384.7L439.5,385.0L438.0,385.3L436.5,385.6L435.0,385.9L433.5,386.1L432.0,386.2L430.5,386.3L429.0,386.5L427.5,386.6L426.0,386.8L424.5,387.0L423.0,387.3L421.5,387.6L420.0,388.1L418.5,390.0L417.0,389.9L415.5,389.8L414.0,389.5L412.5,389.1L411.0,388.7L409.5,388.3L408.0,387.9L406.5,387.4L405.0,387.0L403.5,386.6L402.0,386.3L400.5,386.1L399.0,386.0L397.5,386.0L396.0,386.1L394.5,386.3L393.0,386.5L391.5,386.8L390.0,387.2L388.5,387.6L387.0,388.0L385.5,388.5L384.0,389.0L382.5,389.5L381.0,390.0L379.5,390.6L378.0,391.4L376.5,392.4L375.0,393.4L373.5,394.4L372.0,395.5L370.5,396.4L369.0,397.3L367.5,398.0L366.0,398.7L364.5,399.4L363.0,400.1L361.5,400.8L360.0,401.5L358.5,402.1L357.0,402.7L355.5,403.1L354.0,403.5L352.5,403.7L351.0,403.8L349.5,403.7L348.0,403.6L346.5,403.4L345.0,403.1L343.5,402.9L342.0,402.6L340.5,402.4L339.0,402.2L337.5,402.0L336.0,402.0L334.5,402.1L333.0,402.5L331.5,403.1L330.0,403.8L328.5,404.7L327.0,405.5L325.5,406.4L324.0,407.3L322.5,408.1L321.0,408.8L319.5,409.3L318.0,409.8L316.5,410.4L315.0,410.9L313.5,411.3L312.0,411.8L310.5,412.3L309.0,412.8L307.5,413.3L306.0,413.8L304.5,414.2L303.0,414.7L301.5,415.2L300.0,415.7L298.5,416.2L297.0,416.6L295.5,417.1L294.0,417.6L292.5,418.1L291.0,418.5L289.5,419.0L288.0,419.5L286.5,420.1L285.0,420.6L283.5,421.1L282.0,421.7L280.5,422.3L279.0,422.9L277.5,423.5L276.0,424.1L274.5,424.7L273.0,425.3L271.5,425.9L270.0,426.5L268.5,427.1L267.0,427.7L265.5,428.3L264.0,428.9L262.5,429.5L261.0,430.1L259.5,430.7L258.0,431.3L256.5,432.0L255.0,432.7L253.5,433.6L252.0,434.4L250.5,435.3L249.0,436.1L247.5,436.9L246.0,437.6L244.5,438.2L243.0,438.9L241.5,439.5L240.0,440.0L238.5,440.5L237.0,440.9L235.5,441.3L234.0,442.0L232.5,442.8L231.0,443.8L229.5,444.8L228.0,445.8L226.5,446.9L225.0,447.9L223.5,449.0L222.0,450.0L220.5,450.7L219.0,451.1L217.5,451.4L216.0,451.7L214.5,452.1L213.0,452.6L211.5,453.2L210.0,454.0L208.5,455.0L207.0,456.1L205.5,456.9L204.0,457.0L202.5,456.5L201.0,455.8L199.5,455.3L198.0,455.3L196.5,455.9L195.0,456.8L193.5,457.9L192.0,459.4L190.5,461.2L189.0,463.0L187.5,464.7L186.0,466.4L184.5,468.0L183.0,469.3L181.5,470.4L180.0,471.6L178.5,473.0L177.0,474.8L175.5,476.7L174.0,478.6L172.5,480.6L171.0,482.6L169.5,484.0L168.0,484.9L166.5,485.7L165.0,486.4L163.5,487.0L162.0,487.5L160.5,487.8L159.0,488.1L157.5,488.3L156.0,488.5L154.5,488.7L153.0,488.9L151.5,489.0L150.0,489.0L148.5,488.8L147.0,488.3L145.5,487.6L144.0,486.7L142.5,485.8L141.0,485.0L139.5,484.4L138.0,483.9L136.5,483.5L135.0,483.1L133.5,482.6L132.0,482.1L130.5,481.5L129.0,480.7L127.5,479.6L126.0,478.4L124.5,477.0L123.0,475.5L121.5,473.9L120.0,472.0L118.5,469.9L117.0,467.6L115.5,465.2L114.0,462.8L112.5,460.2L111.0,457.4L109.5,454.5L108.0,451.7L106.5,449.2L105.0,446.8L103.5,444.5L102.0,442.2L100.5,439.8L99.0,437.2L97.5,434.4L96.0,431.5L94.5,428.4L93.0,425.3L91.5,422.4L90.0,419.6L88.5,416.8L87.0,414.1L85.5,411.4L84.0,408.6L82.5,405.9L81.0,403.2L79.5,400.4L78.0,397.5L76.5,394.5L75.0,391.5L73.5,388.4L72.0,385.5L70.5,382.8L69.0,380.1L67.5,377.4L66.0,374.8L64.5,372.1L63.0,369.4L61.5,366.6L60.0,363.9L58.5,361.2L57.0,358.4L55.5,355.7L54.0,353.1L52.5,350.6L51.0,348.3L49.5,346.1L48.0,344.0L46.5,341.9L45.0,339.8L43.5,337.8L42.0,335.9L40.5,334.2L39.0,332.5L37.5,331.2L36.0,330.1L34.5,329.2L33.0,328.4L31.5,327.8L30.0,327.4L28.5,327.0L27.0,326.6L25.5,326.3L24.0,326.0L22.5,325.7L21.0,325.4Z" fill="#98908a"/>
<path d="M21.0,325.4L22.5,325.7L24.0,326.0L25.5,326.3L27.0,326.6L28.5,327.0L30.0,327.4L31.5,327.8L33.0,328.4L34.5,329.2L36.0,330.1L37.5,331.2L39.0,332.5L40.5,334.2L42.0,335.9L43.5,337.8L45.0,339.8L46.5,341.9L48.0,344.0L49.5,346.1L51.0,348.3L52.5,350.6L54.0,353.1L55.5,355.7L57.0,358.4L58.5,361.2L60.0,363.9L61.5,366.6L63.0,369.4L64.5,372.1L66.0,374.8L67.5,377.4L69.0,380.1L70.5,382.8L72.0,385.5L73.5,388.4L75.0,391.5L76.5,394.5L78.0,397.5L79.5,400.4L81.0,403.2L82.5,405.9L84.0,408.6L85.5,411.4L87.0,414.1L88.5,416.8L90.0,419.6L91.5,422.4L93.0,425.3L94.5,428.4L96.0,431.5L97.5,434.4L99.0,437.2L100.5,439.8L102.0,442.2L103.5,444.5L105.0,446.8L106.5,449.2L108.0,451.7L109.5,454.5L111.0,457.4L112.5,460.2L114.0,462.8L115.5,465.2L117.0,467.6L118.5,469.9L120.0,472.0L121.5,473.9L123.0,475.5L124.5,477.0L126.0,478.4L127.5,479.6L129.0,480.7L130.5,481.5L132.0,482.1L133.5,482.6L135.0,483.1L136.5,483.5L138.0,483.9L139.5,484.4L141.0,485.0L142.5,485.8L144.0,486.7L145.5,487.6L147.0,488.3L148.5,488.8L150.0,489.0L151.5,489.0L153.0,488.9L154.5,488.7L156.0,488.5L157.5,488.3L159.0,488.1L160.5,487.8L162.0,487.5L163.5,487.0L165.0,486.4L166.5,485.7L168.0,484.9L169.5,484.0L171.0,482.6L172.5,480.6L174.0,478.6L175.5,476.7L177.0,474.8L178.5,473.0L180.0,471.6L181.5,470.4L183.0,469.3L184.5,468.0L186.0,466.4L187.5,464.7L189.0,463.0L190.5,461.2L192.0,459.4L193.5,457.9L195.0,456.8L196.5,455.9L198.0,455.3L199.5,455.3L201.0,455.8L202.5,456.5L204.0,457.0L205.5,456.9L207.0,456.1L208.5,455.0L210.0,454.0L211.5,453.2L213.0,452.6L214.5,452.1L216.0,451.7L217.5,451.4L219.0,451.1L220.5,450.7L222.0,450.0L223.5,449.0L225.0,447.9L226.5,446.9L228.0,445.8L229.5,444.8L231.0,443.8L232.5,442.8L234.0,442.0L235.5,441.3L237.0,440.9L238.5,440.5L240.0,440.0L241.5,439.5L243.0,438.9L244.5,438.2L246.0,437.6L247.5,436.9L249.0,436.1L250.5,435.3L252.0,434.4L253.5,433.6L255.0,432.7L256.5,432.0L258.0,431.3L259.5,430.7L261.0,430.1L262.5,429.5L264.0,428.9L265.5,428.3L267.0,427.7L268.5,427.1L270.0,426.5L271.5,425.9L273.0,425.3L274.5,424.7L276.0,424.1L277.5,423.5L279.0,422.9L280.5,422.3L282.0,421.7L283.5,421.1L285.0,420.6L286.5,420.1L288.0,419.5L289.5,419.0L291.0,418.5L292.5,418.1L294.0,417.6L295.5,417.1L297.0,416.6L298.5,416.2L300.0,415.7L301.5,415.2L303.0,414.7L304.5,414.2L306.0,413.8L307.5,413.3L309.0,412.8L310.5,412.3L312.0,411.8L313.5,411.3L315.0,410.9L316.5,410.4L318.0,409.8L319.5,409.3L321.0,408.8L322.5,408.1L324.0,407.3L325.5,406.4L327.0,405.5L328.5,404.7L330.0,403.8L331.5,403.1L333.0,402.5L334.5,402.1L336.0,402.0L337.5,402.0L339.0,402.2L340.5,402.4L342.0,402.6L343.5,402.9L345.0,403.1L346.5,403.4L348.0,403.6L349.5,403.7L351.0,403.8L352.5,403.7L354.0,403.5L355.5,403.1L357.0,402.7L358.5,402.1L360.0,401.5L361.5,400.8L363.0,400.1L364.5,399.4L366.0,398.7L367.5,398.0L369.0,397.3L370.5,396.4L372.0,395.5L373.5,394.4L375.0,393.4L376.5,392.4L378.0,391.4L379.5,390.6L381.0,390.0L382.5,389.5L384.0,389.0L385.5,388.5L387.0,388.0L388.5,387.6L390.0,387.2L391.5,386.8L393.0,386.5L394.5,386.3L396.0,386.1L397.5,386.0L399.0,386.0L400.5,386.1L402.0,386.3L403.5,386.6L405.0,387.0L406.5,387.4L408.0,387.9L409.5,388.3L411.0,388.7L412.5,389.1L414.0,389.5L415.5,389.8L417.0,389.9L418.5,390.0L420.0,388.1L421.5,387.6L423.0,387.3L424.5,387.0L426.0,386.8L427.5,386.6L429.0,386.5L430.5,386.3L432.0,386.2L433.5,386.1L435.0,385.9L436.5,385.6L438.0,385.3L439.5,385.0L441.0,384.7L442.5,384.3L444.0,383.9L445.5,383.5L447.0,383.1L448.5,382.7L450.0,382.3L451.5,381.9L453.0,381.5L454.5,381.2L456.0,380.8L457.5,380.4L459.0,380.0L460.5,379.6L462.0,379.3L463.5,378.9L465.0,378.6L466.5,378.2L468.0,377.8L469.5,377.5L471.0,377.1L472.5,376.9L474.0,376.6L475.5,376.5L477.0,376.5L478.5,376.7L480.0,376.9L481.5,377.3L483.0,377.7L484.5,378.2L486.0,378.7L487.5,379.1L489.0,379.4L490.5,379.6L492.0,379.8L493.5,380.0L495.0,380.2L496.5,380.3L498.0,380.5L499.5,380.6L501.0,380.7L502.5,380.7L504.0,380.7L505.5,380.5L507.0,380.3L508.5,379.9L510.0,379.5L511.5,379.1L513.0,378.7L514.5,378.3L516.0,377.8L517.5,377.3L519.0,376.7L520.5,376.2L522.0,375.6L523.5,375.1L525.0,374.7L526.5,374.5L528.0,374.3L529.5,374.1L531.0,373.9L532.5,373.8L534.0,373.6L535.5,373.5L537.0,373.4L538.5,373.3L540.0,373.3L541.5,373.2L543.0,373.2L544.5,373.4L546.0,373.9L547.5,374.6L549.0,375.4L550.5,376.2L552.0,376.9L553.5,377.5L555.0,378.0L556.5,378.5L558.0,379.0L559.5,379.5L561.0,379.9L562.5,380.4L564.0,380.8L565.5,381.3L567.0,381.8L568.5,382.3L570.0,382.9L571.5,383.5L573.0,384.1L574.5,384.7L576.0,385.1L577.5,385.4L579.0,385.6L580.5,385.5L582.0,385.3L583.5,384.8L585.0,384.3L586.5,383.8L588.0,383.4L589.5,383.2L591.0,383.3L592.5,383.5L594.0,383.7L595.5,383.7L597.0,383.6L598.5,383.3L600.0,383.0L601.5,382.6L603.0,382.2L604.5,381.8L606.0,381.4L607.5,381.0L609.0,380.8L610.5,380.6L612.0,380.5L613.5,380.6L615.0,380.7L616.5,380.9L618.0,381.2L619.5,381.5L621.0,381.8L622.5,382.1L624.0,382.3L625.5,382.4L627.0,382.5L628.5,382.4L630.0,382.3L631.5,382.1L633.0,381.8L634.5,381.4L636.0,381.1L637.5,380.7L639.0,380.3L640.5,379.9L642.0,379.5L643.5,379.1L645.0,378.6L646.5,378.0L648.0,377.4L649.5,376.8L651.0,376.2L652.5,375.7L654.0,375.4L655.5,375.1L657.0,375.0L658.5,375.1L660.0,375.3L661.5,375.6L663.0,376.1L664.5,376.6L666.0,377.1L667.5,377.7L669.0,378.2L670.5,378.8L672.0,379.2L673.5,379.6L675.0,379.9L676.5,380.0L678.0,380.0L679.5,379.8L681.0,379.5L682.5,379.1L684.0,378.7L685.5,378.2L687.0,377.7L688.5,377.1L690.0,376.6L691.5,376.1L693.0,375.7L694.5,375.3L696.0,374.8L697.5,374.4L699.0,373.9L700.5,373.4L702.0,373.0L703.5,372.5L705.0,372.0L706.5,371.6L708.0,371.1L709.5,370.7L711.0,370.3L712.5,369.9L714.0,369.5L715.5,369.2L717.0,368.9L718.5,368.6L720.0,368.3L721.5,367.9L723.0,367.5L724.5,367.0L726.0,366.2L727.5,365.1L729.0,363.7L730.5,362.2L732.0,360.7L733.5,359.3L735.0,358.1L736.5,357.2L738.0,356.7L739.5,356.2L741.0,355.7L742.5,355.2L744.0,354.8L745.5,354.5L747.0,354.2L748.5,354.0L750.0,353.8L751.5,353.8L753.0,353.8L754.5,354.1L756.0,354.5L757.5,355.0L759.0,355.5L760.5,355.9L762.0,356.4L763.5,356.9L765.0,357.2L766.5,357.4L768.0,357.3L769.5,357.0L771.0,356.6L772.5,356.0L774.0,355.5L775.5,354.9L777.0,354.5L778.5,354.2L780.0,354.1L781.5,354.2L783.0,354.4L784.5,354.8L786.0,355.2L787.5,355.6L789.0,356.1L790.5,356.6L792.0,357.1L793.5,357.5L795.0,357.9L796.5,358.4L798.0,358.9L799.5,359.4L801.0,359.9L802.5,360.3L804.0,360.8L805.5,361.1L807.0,361.4L808.5,361.6L810.0,361.6L811.5,361.5L813.0,361.3L814.5,361.1L816.0,360.7L817.5,360.4L819.0,360.0L820.5,359.5L822.0,359.2L823.5,358.8L825.0,358.5L826.5,358.3L828.0,358.1L829.5,357.9L831.0,357.7L832.5,357.6L834.0,357.5L835.5,357.4L837.0,357.4L838.5,357.5L840.0,357.7L841.5,358.0L843.0,358.3L844.5,358.7L846.0,359.0L847.5,359.3L849.0,359.5L850.5,359.7L852.0,359.8L853.5,359.9L855.0,360.0L856.5,360.1L858.0,360.2L859.5,360.2L861.0,360.2L862.5,360.2L864.0,360.2L865.5,360.2L867.0,360.2L868.5,360.2L870.0,360.2L871.5,360.2L873.0,360.2L874.5,360.2L876.0,360.2L877.5,360.3L879.0,360.5L880.5,361.0L882.0,361.5L883.5,362.1L885.0,362.7L886.5,363.3L888.0,363.9L889.5,364.6L891.0,365.4L892.5,366.2L894.0,367.0L895.5,367.8L897.0,368.6L898.5,369.5L900.0,370.3L901.5,371.2L903.0,372.1L904.5,373.0L906.0,374.0L907.5,375.0L909.0,376.0L910.5,377.1L912.0,378.2L913.5,379.3L915.0,380.4L916.5,381.6L918.0,382.8L919.5,384.0L921.0,385.2L922.5,386.4L924.0,387.6L925.5,388.9L927.0,390.2L928.5,391.5L930.0,392.8L931.5,394.1L933.0,395.4L934.5,396.7L936.0,397.9L937.5,399.2L939.0,400.3L940.5,401.5L942.0,402.7L943.5,403.8L945.0,404.9L946.5,406.0L948.0,407.1L949.5,408.2L951.0,409.3L952.5,410.4L954.0,411.5L955.5,412.7L957.0,413.8L958.5,415.0L960.0,416.1L961.5,417.3L963.0,418.4L964.5,419.5L966.0,420.6L967.5,421.7L969.0,422.8L970.5,423.8L972.0,424.8L973.5,425.8L975.0,426.7L976.5,427.6L978.0,428.6L979.5,429.5L981.0,430.4L982.5,431.3L984.0,432.1L985.5,433.0L985.5,456.5L984.0,455.7L982.5,454.8L981.0,453.9L979.5,452.9L978.0,451.9L976.5,450.8L975.0,449.7L973.5,448.6L972.0,447.4L970.5,446.2L969.0,445.0L967.5,443.7L966.0,442.3L964.5,440.8L963.0,439.4L961.5,437.9L960.0,436.4L958.5,434.9L957.0,433.4L955.5,432.0L954.0,430.7L952.5,429.4L951.0,428.1L949.5,426.9L948.0,425.7L946.5,424.6L945.0,423.4L943.5,422.3L942.0,421.1L940.5,419.9L939.0,418.7L937.5,417.4L936.0,416.2L934.5,414.8L933.0,413.5L931.5,412.1L930.0,410.7L928.5,409.4L927.0,408.0L925.5,406.6L924.0,405.3L922.5,403.9L921.0,402.6L919.5,401.3L918.0,399.9L916.5,398.6L915.0,397.3L913.5,396.0L912.0,394.7L910.5,393.4L909.0,392.2L907.5,391.0L906.0,389.9L904.5,388.8L903.0,387.7L901.5,386.7L900.0,385.6L898.5,384.7L897.0,383.7L895.5,382.8L894.0,381.8L892.5,380.9L891.0,379.9L889.5,379.1L888.0,378.3L886.5,377.5L885.0,376.9L883.5,376.2L882.0,375.6L880.5,375.1L879.0,374.6L877.5,374.2L876.0,374.0L874.5,373.7L873.0,373.6L871.5,373.4L870.0,373.3L868.5,373.1L867.0,373.0L865.5,372.9L864.0,372.8L862.5,372.7L861.0,372.5L859.5,372.4L858.0,372.2L856.5,372.1L855.0,371.9L853.5,371.7L852.0,371.5L850.5,371.3L849.0,371.1L847.5,370.7L846.0,370.3L844.5,369.9L843.0,369.4L841.5,369.0L840.0,368.6L838.5,368.4L837.0,368.2L835.5,368.2L834.0,368.3L832.5,368.4L831.0,368.6L829.5,368.7L828.0,368.9L826.5,369.1L825.0,369.3L823.5,369.6L822.0,369.9L820.5,370.2L819.0,370.5L817.5,370.9L816.0,371.2L814.5,371.5L813.0,371.7L811.5,371.8L810.0,371.9L808.5,371.8L807.0,371.6L805.5,371.1L804.0,370.6L802.5,370.0L801.0,369.3L799.5,368.5L798.0,367.8L796.5,367.1L795.0,366.4L793.5,365.8L792.0,365.3L790.5,364.7L789.0,364.1L787.5,363.5L786.0,362.9L784.5,362.4L783.0,362.0L781.5,361.7L780.0,361.6L778.5,361.7L777.0,362.0L775.5,362.4L774.0,363.0L772.5,363.5L771.0,364.1L769.5,364.5L768.0,364.8L766.5,364.9L765.0,364.6L763.5,364.0L762.0,363.3L760.5,362.6L759.0,362.0L757.5,361.4L756.0,360.9L754.5,360.4L753.0,360.1L751.5,360.0L750.0,360.1L748.5,360.2L747.0,360.4L745.5,360.7L744.0,361.0L742.5,361.4L741.0,361.8L739.5,362.2L738.0,362.7L736.5,363.2L735.0,364.0L733.5,365.2L732.0,366.7L730.5,368.2L729.0,369.7L727.5,371.1L726.0,372.2L724.5,373.0L723.0,373.5L721.5,373.9L720.0,374.3L718.5,374.6L717.0,374.9L715.5,375.2L714.0,375.5L712.5,375.9L711.0,376.3L709.5,376.8L708.0,377.4L706.5,377.9L705.0,378.6L703.5,379.2L702.0,379.9L700.5,380.5L699.0,381.1L697.5,381.8L696.0,382.4L694.5,382.9L693.0,383.4L691.5,383.9L690.0,384.4L688.5,384.9L687.0,385.4L685.5,385.9L684.0,386.3L682.5,386.7L681.0,387.1L679.5,387.3L678.0,387.5L676.5,387.5L675.0,387.4L673.5,387.2L672.0,386.9L670.5,386.6L669.0,386.2L667.5,385.8L666.0,385.3L664.5,384.9L663.0,384.6L661.5,384.2L660.0,384.0L658.5,383.8L657.0,383.8L655.5,383.9L654.0,384.2L652.5,384.7L651.0,385.4L649.5,386.1L648.0,386.8L646.5,387.6L645.0,388.3L643.5,389.0L642.0,389.5L640.5,390.0L639.0,390.4L637.5,390.9L636.0,391.4L634.5,391.8L633.0,392.2L631.5,392.5L630.0,392.8L628.5,392.9L627.0,393.0L625.5,393.0L624.0,392.9L622.5,392.8L621.0,392.6L619.5,392.5L618.0,392.4L616.5,392.2L615.0,392.1L613.5,392.0L612.0,392.0L610.5,392.1L609.0,392.3L607.5,392.7L606.0,393.1L604.5,393.6L603.0,394.1L601.5,394.6L600.0,395.1L598.5,395.5L597.0,395.8L595.5,396.0L594.0,396.0L592.5,395.8L591.0,395.6L589.5,395.6L588.0,395.8L586.5,396.2L585.0,396.6L583.5,397.1L582.0,397.5L580.5,397.7L579.0,397.8L577.5,397.7L576.0,397.4L574.5,397.0L573.0,396.5L571.5,396.0L570.0,395.4L568.5,394.8L567.0,394.3L565.5,393.8L564.0,393.3L562.5,392.7L561.0,392.2L559.5,391.6L558.0,391.0L556.5,390.5L555.0,389.9L553.5,389.2L552.0,388.6L550.5,387.8L549.0,386.9L547.5,386.0L546.0,385.3L544.5,384.7L543.0,384.5L541.5,384.5L540.0,384.5L538.5,384.6L537.0,384.7L535.5,384.8L534.0,384.9L532.5,385.0L531.0,385.1L529.5,385.3L528.0,385.4L526.5,385.6L525.0,385.8L523.5,386.2L522.0,386.6L520.5,387.1L519.0,387.7L517.5,388.2L516.0,388.7L514.5,389.0L513.0,389.4L511.5,389.8L510.0,390.1L508.5,390.5L507.0,390.7L505.5,391.0L504.0,391.1L502.5,391.1L501.0,391.0L499.5,390.9L498.0,390.7L496.5,390.4L495.0,390.1L493.5,389.8L492.0,389.5L490.5,389.2L489.0,388.8L487.5,388.3L486.0,387.7L484.5,387.0L483.0,386.3L481.5,385.7L480.0,385.1L478.5,384.7L477.0,384.5L475.5,384.5L474.0,384.7L472.5,385.0L471.0,385.4L469.5,385.8L468.0,386.2L466.5,386.7L465.0,387.0L463.5,387.3L462.0,387.4L460.5,387.5L459.0,387.7L457.5,387.7L456.0,387.8L454.5,388.0L453.0,388.1L451.5,388.3L450.0,388.6L448.5,388.9L447.0,389.2L445.5,389.5L444.0,389.9L442.5,390.2L441.0,390.6L439.5,390.9L438.0,391.2L436.5,391.5L435.0,391.8L433.5,391.9L432.0,392.1L430.5,392.3L429.0,392.4L427.5,392.6L426.0,392.8L424.5,393.0L423.0,393.3L421.5,393.6L420.0,394.0L418.5,395.0L417.0,394.9L415.5,394.7L414.0,394.4L412.5,393.9L411.0,393.4L409.5,392.9L408.0,392.3L406.5,391.8L405.0,391.2L403.5,390.8L402.0,390.4L400.5,390.1L399.0,390.0L397.5,390.0L396.0,390.1L394.5,390.3L393.0,390.5L391.5,390.8L390.0,391.1L388.5,391.5L387.0,391.9L385.5,392.4L384.0,392.8L382.5,393.3L381.0,393.8L379.5,394.3L378.0,395.1L376.5,395.9L375.0,396.8L373.5,397.8L372.0,398.7L370.5,399.6L369.0,400.3L367.5,400.9L366.0,401.5L364.5,402.2L363.0,402.8L361.5,403.5L360.0,404.0L358.5,404.6L357.0,405.0L355.5,405.4L354.0,405.7L352.5,405.9L351.0,406.0L349.5,406.0L348.0,405.8L346.5,405.7L345.0,405.5L343.5,405.2L342.0,405.0L340.5,404.8L339.0,404.7L337.5,404.5L336.0,404.5L334.5,404.6L333.0,405.0L331.5,405.5L330.0,406.2L328.5,407.0L327.0,407.9L325.5,408.8L324.0,409.6L322.5,410.4L321.0,411.0L319.5,411.6L318.0,412.1L316.5,412.6L315.0,413.1L313.5,413.6L312.0,414.1L310.5,414.6L309.0,415.1L307.5,415.5L306.0,416.0L304.5,416.5L303.0,416.9L301.5,417.3L300.0,417.8L298.5,418.2L297.0,418.6L295.5,419.0L294.0,419.5L292.5,419.9L291.0,420.4L289.5,420.9L288.0,421.4L286.5,421.9L285.0,422.5L283.5,423.1L282.0,423.7L280.5,424.3L279.0,425.0L277.5,425.6L276.0,426.3L274.5,426.9L273.0,427.5L271.5,428.1L270.0,428.7L268.5,429.3L267.0,429.9L265.5,430.5L264.0,431.1L262.5,431.7L261.0,432.2L259.5,432.8L258.0,433.4L256.5,434.1L255.0,434.8L253.5,435.8L252.0,436.7L250.5,437.7L249.0,438.6L247.5,439.4L246.0,440.1L244.5,440.8L243.0,441.4L241.5,442.1L240.0,442.7L238.5,443.3L237.0,444.0L235.5,444.7L234.0,445.4L232.5,446.3L231.0,447.2L229.5,448.2L228.0,449.3L226.5,450.4L225.0,451.4L223.5,452.4L222.0,453.4L220.5,454.1L219.0,454.7L217.5,455.1L216.0,455.5L214.5,455.9L213.0,456.3L211.5,456.7L210.0,457.3L208.5,458.5L207.0,459.9L205.5,460.9L204.0,461.1L202.5,460.8L201.0,460.4L199.5,460.1L198.0,460.2L196.5,460.6L195.0,461.4L193.5,462.2L192.0,463.5L190.5,465.2L189.0,466.9L187.5,468.7L186.0,470.6L184.5,472.4L183.0,473.9L181.5,475.2L180.0,476.4L178.5,477.9L177.0,479.5L175.5,481.2L174.0,483.0L172.5,484.9L171.0,486.9L169.5,488.4L168.0,489.5L166.5,490.5L165.0,491.3L163.5,492.1L162.0,492.7L160.5,493.2L159.0,493.5L157.5,493.9L156.0,494.1L154.5,494.4L153.0,494.6L151.5,494.7L150.0,494.8L148.5,494.6L147.0,494.2L145.5,493.4L144.0,492.6L142.5,491.7L141.0,490.9L139.5,490.2L138.0,489.7L136.5,489.2L135.0,488.8L133.5,488.3L132.0,487.9L130.5,487.4L129.0,486.9L127.5,486.3L126.0,485.6L124.5,484.7L123.0,483.3L121.5,481.6L120.0,479.5L118.5,477.2L117.0,474.8L115.5,472.5L114.0,470.3L112.5,468.1L111.0,465.8L109.5,463.4L108.0,461.0L106.5,458.6L105.0,456.1L103.5,453.5L102.0,451.0L100.5,448.4L99.0,445.7L97.5,443.1L96.0,440.3L94.5,437.5L93.0,434.6L91.5,431.7L90.0,428.7L88.5,425.8L87.0,422.9L85.5,419.9L84.0,417.1L82.5,414.2L81.0,411.3L79.5,408.3L78.0,405.4L76.5,402.5L75.0,399.7L73.5,396.8L72.0,394.0L70.5,391.3L69.0,388.5L67.5,385.8L66.0,383.1L64.5,380.4L63.0,377.7L61.5,375.1L60.0,372.4L58.5,369.8L57.0,367.1L55.5,364.5L54.0,361.8L52.5,359.2L51.0,356.7L49.5,354.3L48.0,352.0L46.5,349.8L45.0,347.6L43.5,345.4L42.0,343.2L40.5,341.2L39.0,339.3L37.5,337.6L36.0,336.2L34.5,335.1L33.0,334.1L31.5,333.1L30.0,332.2L28.5,331.4L27.0,330.7L25.5,330.0L24.0,329.6L22.5,329.2L21.0,329.1Z" fill="#72983b"/>
<path d="M21.0,329.1L22.5,329.2L24.0,329.6L25.5,330.0L27.0,330.7L28.5,331.4L30.0,332.2L31.5,333.1L33.0,334.1L34.5,335.1L36.0,336.2L37.5,337.6L39.0,339.3L40.5,341.2L42.0,343.2L43.5,345.4L45.0,347.6L46.5,349.8L48.0,352.0L49.5,354.3L51.0,356.7L52.5,359.2L54.0,361.8L55.5,364.5L57.0,367.1L58.5,369.8L60.0,372.4L61.5,375.1L63.0,377.7L64.5,380.4L66.0,383.1L67.5,385.8L69.0,388.5L70.5,391.3L72.0,394.0L73.5,396.8L75.0,399.7L76.5,402.5L78.0,405.4L79.5,408.3L81.0,411.3L82.5,414.2L84.0,417.1L85.5,419.9L87.0,422.9L88.5,425.8L90.0,428.7L91.5,431.7L93.0,434.6L94.5,437.5L96.0,440.3L97.5,443.1L99.0,445.7L100.5,448.4L102.0,451.0L103.5,453.5L105.0,456.1L106.5,458.6L108.0,461.0L109.5,463.4L111.0,465.8L112.5,468.1L114.0,470.3L115.5,472.5L117.0,474.8L118.5,477.2L120.0,479.5L121.5,481.6L123.0,483.3L124.5,484.7L126.0,485.6L127.5,486.3L129.0,486.9L130.5,487.4L132.0,487.9L133.5,488.3L135.0,488.8L136.5,489.2L138.0,489.7L139.5,490.2L141.0,490.9L142.5,491.7L144.0,492.6L145.5,493.4L147.0,494.2L148.5,494.6L150.0,494.8L151.5,494.7L153.0,494.6L154.5,494.4L156.0,494.1L157.5,493.9L159.0,493.5L160.5,493.2L162.0,492.7L163.5,492.1L165.0,491.3L166.5,490.5L168.0,489.5L169.5,488.4L171.0,486.9L172.5,484.9L174.0,483.0L175.5,481.2L177.0,479.5L178.5,477.9L180.0,476.4L181.5,475.2L183.0,473.9L184.5,472.4L186.0,470.6L187.5,468.7L189.0,466.9L190.5,465.2L192.0,463.5L193.5,462.2L195.0,461.4L196.5,460.6L198.0,460.2L199.5,460.1L201.0,460.4L202.5,460.8L204.0,461.1L205.5,460.9L207.0,459.9L208.5,458.5L210.0,457.3L211.5,456.7L213.0,456.3L214.5,455.9L216.0,455.5L217.5,455.1L219.0,454.7L220.5,454.1L222.0,453.4L223.5,452.4L225.0,451.4L226.5,450.4L228.0,449.3L229.5,448.2L231.0,447.2L232.5,446.3L234.0,445.4L235.5,444.7L237.0,444.0L238.5,443.3L240.0,442.7L241.5,442.1L243.0,441.4L244.5,440.8L246.0,440.1L247.5,439.4L249.0,438.6L250.5,437.7L252.0,436.7L253.5,435.8L255.0,434.8L256.5,434.1L258.0,433.4L259.5,432.8L261.0,432.2L262.5,431.7L264.0,431.1L265.5,430.5L267.0,429.9L268.5,429.3L270.0,428.7L271.5,428.1L273.0,427.5L274.5,426.9L276.0,426.3L277.5,425.6L279.0,425.0L280.5,424.3L282.0,423.7L283.5,423.1L285.0,422.5L286.5,421.9L288.0,421.4L289.5,420.9L291.0,420.4L292.5,419.9L294.0,419.5L295.5,419.0L297.0,418.6L298.5,418.2L300.0,417.8L301.5,417.3L303.0,416.9L304.5,416.5L306.0,416.0L307.5,415.5L309.0,415.1L310.5,414.6L312.0,414.1L313.5,413.6L315.0,413.1L316.5,412.6L318.0,412.1L319.5,411.6L321.0,411.0L322.5,410.4L324.0,409.6L325.5,408.8L327.0,407.9L328.5,407.0L330.0,406.2L331.5,405.5L333.0,405.0L334.5,404.6L336.0,404.5L337.5,404.5L339.0,404.7L340.5,404.8L342.0,405.0L343.5,405.2L345.0,405.5L346.5,405.7L348.0,405.8L349.5,406.0L351.0,406.0L352.5,405.9L354.0,405.7L355.5,405.4L357.0,405.0L358.5,404.6L360.0,404.0L361.5,403.5L363.0,402.8L364.5,402.2L366.0,401.5L367.5,400.9L369.0,400.3L370.5,399.6L372.0,398.7L373.5,397.8L375.0,396.8L376.5,395.9L378.0,395.1L379.5,394.3L381.0,393.8L382.5,393.3L384.0,392.8L385.5,392.4L387.0,391.9L388.5,391.5L390.0,391.1L391.5,390.8L393.0,390.5L394.5,390.3L396.0,390.1L397.5,390.0L399.0,390.0L400.5,390.1L402.0,390.4L403.5,390.8L405.0,391.2L406.5,391.8L408.0,392.3L409.5,392.9L411.0,393.4L412.5,393.9L414.0,394.4L415.5,394.7L417.0,394.9L418.5,395.0L420.0,394.0L421.5,393.6L423.0,393.3L424.5,393.0L426.0,392.8L427.5,392.6L429.0,392.4L430.5,392.3L432.0,392.1L433.5,391.9L435.0,391.8L436.5,391.5L438.0,391.2L439.5,390.9L441.0,390.6L442.5,390.2L444.0,389.9L445.5,389.5L447.0,389.2L448.5,388.9L450.0,388.6L451.5,388.3L453.0,388.1L454.5,388.0L456.0,387.8L457.5,387.7L459.0,387.7L460.5,387.5L462.0,387.4L463.5,387.3L465.0,387.0L466.5,386.7L468.0,386.2L469.5,385.8L471.0,385.4L472.5,385.0L474.0,384.7L475.5,384.5L477.0,384.5L478.5,384.7L480.0,385.1L481.5,385.7L483.0,386.3L484.5,387.0L486.0,387.7L487.5,388.3L489.0,388.8L490.5,389.2L492.0,389.5L493.5,389.8L495.0,390.1L496.5,390.4L498.0,390.7L499.5,390.9L501.0,391.0L502.5,391.1L504.0,391.1L505.5,391.0L507.0,390.7L508.5,390.5L510.0,390.1L511.5,389.8L513.0,389.4L514.5,389.0L516.0,388.7L517.5,388.2L519.0,387.7L520.5,387.1L522.0,386.6L523.5,386.2L525.0,385.8L526.5,385.6L528.0,385.4L529.5,385.3L531.0,385.1L532.5,385.0L534.0,384.9L535.5,384.8L537.0,384.7L538.5,384.6L540.0,384.5L541.5,384.5L543.0,384.5L544.5,384.7L546.0,385.3L547.5,386.0L549.0,386.9L550.5,387.8L552.0,388.6L553.5,389.2L555.0,389.9L556.5,390.5L558.0,391.0L559.5,391.6L561.0,392.2L562.5,392.7L564.0,393.3L565.5,393.8L567.0,394.3L568.5,394.8L570.0,395.4L571.5,396.0L573.0,396.5L574.5,397.0L576.0,397.4L577.5,397.7L579.0,397.8L580.5,397.7L582.0,397.5L583.5,397.1L585.0,396.6L586.5,396.2L588.0,395.8L589.5,395.6L591.0,395.6L592.5,395.8L594.0,396.0L595.5,396.0L597.0,395.8L598.5,395.5L600.0,395.1L601.5,394.6L603.0,394.1L604.5,393.6L606.0,393.1L607.5,392.7L609.0,392.3L610.5,392.1L612.0,392.0L613.5,392.0L615.0,392.1L616.5,392.2L618.0,392.4L619.5,392.5L621.0,392.6L622.5,392.8L624.0,392.9L625.5,393.0L627.0,393.0L628.5,392.9L630.0,392.8L631.5,392.5L633.0,392.2L634.5,391.8L636.0,391.4L637.5,390.9L639.0,390.4L640.5,390.0L642.0,389.5L643.5,389.0L645.0,388.3L646.5,387.6L648.0,386.8L649.5,386.1L651.0,385.4L652.5,384.7L654.0,384.2L655.5,383.9L657.0,383.8L658.5,383.8L660.0,384.0L661.5,384.2L663.0,384.6L664.5,384.9L666.0,385.3L667.5,385.8L669.0,386.2L670.5,386.6L672.0,386.9L673.5,387.2L675.0,387.4L676.5,387.5L678.0,387.5L679.5,387.3L681.0,387.1L682.5,386.7L684.0,386.3L685.5,385.9L687.0,385.4L688.5,384.9L690.0,384.4L691.5,383.9L693.0,383.4L694.5,382.9L696.0,382.4L697.5,381.8L699.0,381.1L700.5,380.5L702.0,379.9L703.5,379.2L705.0,378.6L706.5,377.9L708.0,377.4L709.5,376.8L711.0,376.3L712.5,375.9L714.0,375.5L715.5,375.2L717.0,374.9L718.5,374.6L720.0,374.3L721.5,373.9L723.0,373.5L724.5,373.0L726.0,372.2L727.5,371.1L729.0,369.7L730.5,368.2L732.0,366.7L733.5,365.2L735.0,364.0L736.5,363.2L738.0,362.7L739.5,362.2L741.0,361.8L742.5,361.4L744.0,361.0L745.5,360.7L747.0,360.4L748.5,360.2L750.0,360.1L751.5,360.0L753.0,360.1L754.5,360.4L756.0,360.9L757.5,361.4L759.0,362.0L760.5,362.6L762.0,363.3L763.5,364.0L765.0,364.6L766.5,364.9L768.0,364.8L769.5,364.5L771.0,364.1L772.5,363.5L774.0,363.0L775.5,362.4L777.0,362.0L778.5,361.7L780.0,361.6L781.5,361.7L783.0,362.0L784.5,362.4L786.0,362.9L787.5,363.5L789.0,364.1L790.5,364.7L792.0,365.3L793.5,365.8L795.0,366.4L796.5,367.1L798.0,367.8L799.5,368.5L801.0,369.3L802.5,370.0L804.0,370.6L805.5,371.1L807.0,371.6L808.5,371.8L810.0,371.9L811.5,371.8L813.0,371.7L814.5,371.5L816.0,371.2L817.5,370.9L819.0,370.5L820.5,370.2L822.0,369.9L823.5,369.6L825.0,369.3L826.5,369.1L828.0,368.9L829.5,368.7L831.0,368.6L832.5,368.4L834.0,368.3L835.5,368.2L837.0,368.2L838.5,368.4L840.0,368.6L841.5,369.0L843.0,369.4L844.5,369.9L846.0,370.3L847.5,370.7L849.0,371.1L850.5,371.3L852.0,371.5L853.5,371.7L855.0,371.9L856.5,372.1L858.0,372.2L859.5,372.4L861.0,372.5L862.5,372.7L864.0,372.8L865.5,372.9L867.0,373.0L868.5,373.1L870.0,373.3L871.5,373.4L873.0,373.6L874.5,373.7L876.0,374.0L877.5,374.2L879.0,374.6L880.5,375.1L882.0,375.6L883.5,376.2L885.0,376.9L886.5,377.5L888.0,378.3L889.5,379.1L891.0,379.9L892.5,380.9L894.0,381.8L895.5,382.8L897.0,383.7L898.5,384.7L900.0,385.6L901.5,386.7L903.0,387.7L904.5,388.8L906.0,389.9L907.5,391.0L909.0,392.2L910.5,393.4L912.0,394.7L913.5,396.0L915.0,397.3L916.5,398.6L918.0,399.9L919.5,401.3L921.0,402.6L922.5,403.9L924.0,405.3L925.5,406.6L927.0,408.0L928.5,409.4L930.0,410.7L931.5,412.1L933.0,413.5L934.5,414.8L936.0,416.2L937.5,417.4L939.0,418.7L940.5,419.9L942.0,421.1L943.5,422.3L945.0,423.4L946.5,424.6L948.0,425.7L949.5,426.9L951.0,428.1L952.5,429.4L954.0,430.7L955.5,432.0L957.0,433.4L958.5,434.9L960.0,436.4L961.5,437.9L963.0,439.4L964.5,440.8L966.0,442.3L967.5,443.7L969.0,445.0L970.5,446.2L972.0,447.4L973.5,448.6L975.0,449.7L976.5,450.8L978.0,451.9L979.5,452.9L981.0,453.9L982.5,454.8L984.0,455.7L985.5,456.5L985.5,471.5L984.0,470.2L982.5,469.0L981.0,467.7L979.5,466.4L978.0,465.2L976.5,464.0L975.0,462.8L973.5,461.5L972.0,460.3L970.5,459.1L969.0,457.8L967.5,456.5L966.0,455.1L964.5,453.7L963.0,452.3L961.5,450.9L960.0,449.5L958.5,448.2L957.0,446.8L955.5,445.5L954.0,444.2L952.5,442.9L951.0,441.7L949.5,440.5L948.0,439.3L946.5,438.1L945.0,437.0L943.5,435.8L942.0,434.6L940.5,433.4L939.0,432.2L937.5,430.9L936.0,429.7L934.5,428.3L933.0,427.0L931.5,425.6L930.0,424.2L928.5,422.9L927.0,421.5L925.5,420.1L924.0,418.8L922.5,417.5L921.0,416.2L919.5,415.0L918.0,413.7L916.5,412.5L915.0,411.3L913.5,410.1L912.0,408.9L910.5,407.7L909.0,406.6L907.5,405.4L906.0,404.2L904.5,403.0L903.0,401.7L901.5,400.5L900.0,399.3L898.5,398.2L897.0,397.1L895.5,396.0L894.0,395.0L892.5,394.0L891.0,393.1L889.5,392.2L888.0,391.4L886.5,390.7L885.0,390.1L883.5,389.6L882.0,389.1L880.5,388.6L879.0,388.3L877.5,388.0L876.0,387.8L874.5,387.6L873.0,387.5L871.5,387.4L870.0,387.4L868.5,387.3L867.0,387.3L865.5,387.2L864.0,387.1L862.5,387.0L861.0,386.9L859.5,386.8L858.0,386.6L856.5,386.2L855.0,385.8L853.5,385.4L852.0,385.0L850.5,384.7L849.0,384.4L847.5,384.0L846.0,383.7L844.5,383.4L843.0,383.1L841.5,382.8L840.0,382.6L838.5,382.4L837.0,382.3L835.5,382.3L834.0,382.3L832.5,382.4L831.0,382.5L829.5,382.6L828.0,382.7L826.5,382.8L825.0,382.9L823.5,383.2L822.0,383.5L820.5,383.8L819.0,384.2L817.5,384.5L816.0,384.9L814.5,385.2L813.0,385.5L811.5,385.6L810.0,385.7L808.5,385.6L807.0,385.5L805.5,385.1L804.0,384.7L802.5,384.3L801.0,383.7L799.5,383.1L798.0,382.5L796.5,381.9L795.0,381.3L793.5,380.8L792.0,380.3L790.5,379.6L789.0,378.9L787.5,378.1L786.0,377.4L784.5,376.7L783.0,376.2L781.5,375.8L780.0,375.7L778.5,375.7L777.0,375.8L775.5,375.9L774.0,376.0L772.5,376.2L771.0,376.3L769.5,376.4L768.0,376.5L766.5,376.5L765.0,376.3L763.5,375.9L762.0,375.3L760.5,374.7L759.0,374.1L757.5,373.3L756.0,372.4L754.5,371.6L753.0,371.1L751.5,371.0L750.0,371.1L748.5,371.3L747.0,371.6L745.5,372.0L744.0,372.4L742.5,372.9L741.0,373.5L739.5,374.0L738.0,374.6L736.5,375.2L735.0,376.1L733.5,377.2L732.0,378.4L730.5,379.8L729.0,381.0L727.5,382.2L726.0,383.1L724.5,383.8L723.0,384.1L721.5,384.4L720.0,384.7L718.5,384.9L717.0,385.1L715.5,385.3L714.0,385.6L712.5,385.9L711.0,386.3L709.5,386.7L708.0,387.2L706.5,387.8L705.0,388.5L703.5,389.1L702.0,389.8L700.5,390.5L699.0,391.1L697.5,391.8L696.0,392.4L694.5,393.0L693.0,393.5L691.5,393.9L690.0,394.3L688.5,394.8L687.0,395.2L685.5,395.6L684.0,396.0L682.5,396.4L681.0,396.6L679.5,396.9L678.0,397.0L676.5,397.0L675.0,396.9L673.5,396.7L672.0,396.5L670.5,396.2L669.0,395.9L667.5,395.5L666.0,395.1L664.5,394.8L663.0,394.5L661.5,394.2L660.0,393.9L658.5,393.8L657.0,393.8L655.5,393.9L654.0,394.2L652.5,394.6L651.0,395.2L649.5,395.9L648.0,396.5L646.5,397.2L645.0,397.8L643.5,398.4L642.0,398.8L640.5,399.1L639.0,399.4L637.5,399.7L636.0,400.0L634.5,400.3L633.0,400.5L631.5,400.7L630.0,400.9L628.5,401.0L627.0,401.0L625.5,401.0L624.0,400.9L622.5,400.8L621.0,400.6L619.5,400.5L618.0,400.4L616.5,400.2L615.0,400.1L613.5,400.0L612.0,400.0L610.5,400.0L609.0,400.1L607.5,400.3L606.0,400.5L604.5,400.7L603.0,401.0L601.5,401.3L600.0,401.6L598.5,402.0L597.0,402.4L595.5,402.7L594.0,403.2L592.5,403.8L591.0,404.5L589.5,405.0L588.0,405.5L586.5,405.9L585.0,406.3L583.5,406.7L582.0,407.0L580.5,407.2L579.0,407.2L577.5,407.1L576.0,406.8L574.5,406.5L573.0,406.1L571.5,405.6L570.0,405.1L568.5,404.6L567.0,404.1L565.5,403.7L564.0,403.2L562.5,402.7L561.0,402.1L559.5,401.5L558.0,400.9L556.5,400.3L555.0,399.7L553.5,399.1L552.0,398.5L550.5,397.8L549.0,397.1L547.5,396.3L546.0,395.7L544.5,395.3L543.0,395.1L541.5,395.1L540.0,395.1L538.5,395.2L537.0,395.3L535.5,395.4L534.0,395.5L532.5,395.7L531.0,395.8L529.5,396.0L528.0,396.2L526.5,396.4L525.0,396.7L523.5,397.1L522.0,397.7L520.5,398.3L519.0,399.0L517.5,399.7L516.0,400.2L514.5,400.7L513.0,401.0L511.5,401.4L510.0,401.8L508.5,402.1L507.0,402.4L505.5,402.7L504.0,402.8L502.5,402.8L501.0,402.7L499.5,402.6L498.0,402.3L496.5,402.1L495.0,401.8L493.5,401.4L492.0,401.1L490.5,400.8L489.0,400.4L487.5,399.9L486.0,399.3L484.5,398.7L483.0,398.1L481.5,397.5L480.0,397.0L478.5,396.6L477.0,396.4L475.5,396.5L474.0,396.7L472.5,397.1L471.0,397.7L469.5,398.2L468.0,398.8L466.5,399.3L465.0,399.6L463.5,399.8L462.0,399.8L460.5,399.6L459.0,399.5L457.5,399.3L456.0,399.1L454.5,398.9L453.0,398.9L451.5,399.0L450.0,399.2L448.5,399.4L447.0,399.8L445.5,400.2L444.0,400.6L442.5,401.0L441.0,401.4L439.5,401.8L438.0,402.1L436.5,402.3L435.0,402.5L433.5,402.6L432.0,402.7L430.5,402.8L429.0,402.9L427.5,403.0L426.0,403.1L424.5,403.3L423.0,403.4L421.5,403.6L420.0,403.9L418.5,404.5L417.0,404.4L415.5,404.2L414.0,403.8L412.5,403.3L411.0,402.7L409.5,402.1L408.0,401.4L406.5,400.8L405.0,400.2L403.5,399.6L402.0,399.2L400.5,398.9L399.0,398.8L397.5,398.8L396.0,398.8L394.5,398.9L393.0,399.0L391.5,399.2L390.0,399.4L388.5,399.6L387.0,399.8L385.5,400.1L384.0,400.4L382.5,400.7L381.0,401.0L379.5,401.5L378.0,402.2L376.5,403.2L375.0,404.2L373.5,405.3L372.0,406.3L370.5,407.2L369.0,407.8L367.5,408.3L366.0,408.7L364.5,409.0L363.0,409.4L361.5,409.7L360.0,410.0L358.5,410.3L357.0,410.5L355.5,410.7L354.0,410.9L352.5,411.0L351.0,411.0L349.5,411.0L348.0,410.9L346.5,410.8L345.0,410.6L343.5,410.5L342.0,410.4L340.5,410.2L339.0,410.1L337.5,410.0L336.0,410.0L334.5,410.1L333.0,410.4L331.5,410.9L330.0,411.5L328.5,412.2L327.0,412.9L325.5,413.7L324.0,414.5L322.5,415.3L321.0,416.0L319.5,416.7L318.0,417.5L316.5,418.3L315.0,419.1L313.5,419.8L312.0,420.3L310.5,420.8L309.0,421.3L307.5,421.7L306.0,422.1L304.5,422.4L303.0,422.8L301.5,423.1L300.0,423.4L298.5,423.7L297.0,424.0L295.5,424.4L294.0,424.7L292.5,425.1L291.0,425.6L289.5,426.0L288.0,426.5L286.5,427.0L285.0,427.6L283.5,428.1L282.0,428.7L280.5,429.3L279.0,429.9L277.5,430.6L276.0,431.2L274.5,431.9L273.0,432.5L271.5,433.2L270.0,433.9L268.5,434.6L267.0,435.3L265.5,436.0L264.0,436.6L262.5,437.2L261.0,437.7L259.5,438.3L258.0,438.9L256.5,439.6L255.0,440.3L253.5,441.2L252.0,442.1L250.5,443.1L249.0,444.1L247.5,445.0L246.0,445.8L244.5,446.7L243.0,447.6L241.5,448.5L240.0,449.3L238.5,450.1L237.0,450.8L235.5,451.5L234.0,452.4L232.5,453.2L231.0,454.1L229.5,455.1L228.0,456.1L226.5,457.2L225.0,458.2L223.5,459.3L222.0,460.2L220.5,461.0L219.0,461.5L217.5,461.9L216.0,462.3L214.5,462.8L213.0,463.3L211.5,463.9L210.0,464.6L208.5,465.8L207.0,467.2L205.5,468.2L204.0,468.4L202.5,468.3L201.0,468.1L199.5,467.9L198.0,468.0L196.5,468.5L195.0,469.3L193.5,470.2L192.0,471.5L190.5,473.1L189.0,474.8L187.5,476.6L186.0,478.4L184.5,480.2L183.0,481.7L181.5,483.0L180.0,484.3L178.5,485.9L177.0,487.8L175.5,489.8L174.0,491.8L172.5,493.8L171.0,495.8L169.5,497.2L168.0,498.1L166.5,498.9L165.0,499.6L163.5,500.1L162.0,500.6L160.5,501.0L159.0,501.3L157.5,501.7L156.0,502.0L154.5,502.3L153.0,502.5L151.5,502.6L150.0,502.7L148.5,502.5L147.0,502.0L145.5,501.2L144.0,500.3L142.5,499.3L141.0,498.3L139.5,497.6L138.0,496.9L136.5,496.3L135.0,495.8L133.5,495.2L132.0,494.7L130.5,494.1L129.0,493.4L127.5,492.6L126.0,491.7L124.5,490.6L123.0,489.0L121.5,486.9L120.0,484.5L118.5,481.9L117.0,479.3L115.5,476.7L114.0,474.3L112.5,471.9L111.0,469.6L109.5,467.1L108.0,464.7L106.5,462.2L105.0,459.7L103.5,457.2L102.0,454.6L100.5,452.0L99.0,449.3L97.5,446.6L96.0,443.8L94.5,440.9L93.0,437.9L91.5,435.0L90.0,432.0L88.5,429.0L87.0,425.9L85.5,423.0L84.0,420.0L82.5,416.9L81.0,413.9L79.5,410.8L78.0,407.8L76.5,404.7L75.0,401.7L73.5,398.8L72.0,395.9L70.5,393.0L69.0,390.2L67.5,387.4L66.0,384.6L64.5,381.9L63.0,379.1L61.5,376.5L60.0,373.8L58.5,371.2L57.0,368.6L55.5,366.0L54.0,363.4L52.5,360.9L51.0,358.4L49.5,356.0L48.0,353.8L46.5,351.6L45.0,349.4L43.5,347.3L42.0,345.1L40.5,343.1L39.0,341.2L37.5,339.5L36.0,338.1L34.5,336.9L33.0,335.8L31.5,334.7L30.0,333.7L28.5,332.8L27.0,332.0L25.5,331.3L24.0,330.7L22.5,330.3L21.0,330.0Z" fill="#aecf75"/>
<path d="M21.0,330.0L22.5,330.3L24.0,330.7L25.5,331.3L27.0,332.0L28.5,332.8L30.0,333.7L31.5,334.7L33.0,335.8L34.5,336.9L36.0,338.1L37.5,339.5L39.0,341.2L40.5,343.1L42.0,345.1L43.5,347.3L45.0,349.4L46.5,351.6L48.0,353.8L49.5,356.0L51.0,358.4L52.5,360.9L54.0,363.4L55.5,366.0L57.0,368.6L58.5,371.2L60.0,373.8L61.5,376.5L63.0,379.1L64.5,381.9L66.0,384.6L67.5,387.4L69.0,390.2L70.5,393.0L72.0,395.9L73.5,398.8L75.0,401.7L76.5,404.7L78.0,407.8L79.5,410.8L81.0,413.9L82.5,416.9L84.0,420.0L85.5,423.0L87.0,425.9L88.5,429.0L90.0,432.0L91.5,435.0L93.0,437.9L94.5,440.9L96.0,443.8L97.5,446.6L99.0,449.3L100.5,452.0L102.0,454.6L103.5,457.2L105.0,459.7L106.5,462.2L108.0,464.7L109.5,467.1L111.0,469.6L112.5,471.9L114.0,474.3L115.5,476.7L117.0,479.3L118.5,481.9L120.0,484.5L121.5,486.9L123.0,489.0L124.5,490.6L126.0,491.7L127.5,492.6L129.0,493.4L130.5,494.1L132.0,494.7L133.5,495.2L135.0,495.8L136.5,496.3L138.0,496.9L139.5,497.6L141.0,498.3L142.5,499.3L144.0,500.3L145.5,501.2L147.0,502.0L148.5,502.5L150.0,502.7L151.5,502.6L153.0,502.5L154.5,502.3L156.0,502.0L157.5,501.7L159.0,501.3L160.5,501.0L162.0,500.6L163.5,500.1L165.0,499.6L166.5,498.9L168.0,498.1L169.5,497.2L171.0,495.8L172.5,493.8L174.0,491.8L175.5,489.8L177.0,487.8L178.5,485.9L180.0,484.3L181.5,483.0L183.0,481.7L184.5,480.2L186.0,478.4L187.5,476.6L189.0,474.8L190.5,473.1L192.0,471.5L193.5,470.2L195.0,469.3L196.5,468.5L198.0,468.0L199.5,467.9L201.0,468.1L202.5,468.3L204.0,468.4L205.5,468.2L207.0,467.2L208.5,465.8L210.0,464.6L211.5,463.9L213.0,463.3L214.5,462.8L216.0,462.3L217.5,461.9L219.0,461.5L220.5,461.0L222.0,460.2L223.5,459.3L225.0,458.2L226.5,457.2L228.0,456.1L229.5,455.1L231.0,454.1L232.5,453.2L234.0,452.4L235.5,451.5L237.0,450.8L238.5,450.1L240.0,449.3L241.5,448.5L243.0,447.6L244.5,446.7L246.0,445.8L247.5,445.0L249.0,444.1L250.5,443.1L252.0,442.1L253.5,441.2L255.0,440.3L256.5,439.6L258.0,438.9L259.5,438.3L261.0,437.7L262.5,437.2L264.0,436.6L265.5,436.0L267.0,435.3L268.5,434.6L270.0,433.9L271.5,433.2L273.0,432.5L274.5,431.9L276.0,431.2L277.5,430.6L279.0,429.9L280.5,429.3L282.0,428.7L283.5,428.1L285.0,427.6L286.5,427.0L288.0,426.5L289.5,426.0L291.0,425.6L292.5,425.1L294.0,424.7L295.5,424.4L297.0,424.0L298.5,423.7L300.0,423.4L301.5,423.1L303.0,422.8L304.5,422.4L306.0,422.1L307.5,421.7L309.0,421.3L310.5,420.8L312.0,420.3L313.5,419.8L315.0,419.1L316.5,418.3L318.0,417.5L319.5,416.7L321.0,416.0L322.5,415.3L324.0,414.5L325.5,413.7L327.0,412.9L328.5,412.2L330.0,411.5L331.5,410.9L333.0,410.4L334.5,410.1L336.0,410.0L337.5,410.0L339.0,410.1L340.5,410.2L342.0,410.4L343.5,410.5L345.0,410.6L346.5,410.8L348.0,410.9L349.5,411.0L351.0,411.0L352.5,411.0L354.0,410.9L355.5,410.7L357.0,410.5L358.5,410.3L360.0,410.0L361.5,409.7L363.0,409.4L364.5,409.0L366.0,408.7L367.5,408.3L369.0,407.8L370.5,407.2L372.0,406.3L373.5,405.3L375.0,404.2L376.5,403.2L378.0,402.2L379.5,401.5L381.0,401.0L382.5,400.7L384.0,400.4L385.5,400.1L387.0,399.8L388.5,399.6L390.0,399.4L391.5,399.2L393.0,399.0L394.5,398.9L396.0,398.8L397.5,398.8L399.0,398.8L400.5,398.9L402.0,399.2L403.5,399.6L405.0,400.2L406.5,400.8L408.0,401.4L409.5,402.1L411.0,402.7L412.5,403.3L414.0,403.8L415.5,404.2L417.0,404.4L418.5,404.5L420.0,403.9L421.5,403.6L423.0,403.4L424.5,403.3L426.0,403.1L427.5,403.0L429.0,402.9L430.5,402.8L432.0,402.7L433.5,402.6L435.0,402.5L436.5,402.3L438.0,402.1L439.5,401.8L441.0,401.4L442.5,401.0L444.0,400.6L445.5,400.2L447.0,399.8L448.5,399.4L450.0,399.2L451.5,399.0L453.0,398.9L454.5,398.9L456.0,399.1L457.5,399.3L459.0,399.5L460.5,399.6L462.0,399.8L463.5,399.8L465.0,399.6L466.5,399.3L468.0,398.8L469.5,398.2L471.0,397.7L472.5,397.1L474.0,396.7L475.5,396.5L477.0,396.4L478.5,396.6L480.0,397.0L481.5,397.5L483.0,398.1L484.5,398.7L486.0,399.3L487.5,399.9L489.0,400.4L490.5,400.8L492.0,401.1L493.5,401.4L495.0,401.8L496.5,402.1L498.0,402.3L499.5,402.6L501.0,402.7L502.5,402.8L504.0,402.8L505.5,402.7L507.0,402.4L508.5,402.1L510.0,401.8L511.5,401.4L513.0,401.0L514.5,400.7L516.0,400.2L517.5,399.7L519.0,399.0L520.5,398.3L522.0,397.7L523.5,397.1L525.0,396.7L526.5,396.4L528.0,396.2L529.5,396.0L531.0,395.8L532.5,395.7L534.0,395.5L535.5,395.4L537.0,395.3L538.5,395.2L540.0,395.1L541.5,395.1L543.0,395.1L544.5,395.3L546.0,395.7L547.5,396.3L549.0,397.1L550.5,397.8L552.0,398.5L553.5,399.1L555.0,399.7L556.5,400.3L558.0,400.9L559.5,401.5L561.0,402.1L562.5,402.7L564.0,403.2L565.5,403.7L567.0,404.1L568.5,404.6L570.0,405.1L571.5,405.6L573.0,406.1L574.5,406.5L576.0,406.8L577.5,407.1L579.0,407.2L580.5,407.2L582.0,407.0L583.5,406.7L585.0,406.3L586.5,405.9L588.0,405.5L589.5,405.0L591.0,404.5L592.5,403.8L594.0,403.2L595.5,402.7L597.0,402.4L598.5,402.0L600.0,401.6L601.5,401.3L603.0,401.0L604.5,400.7L606.0,400.5L607.5,400.3L609.0,400.1L610.5,400.0L612.0,400.0L613.5,400.0L615.0,400.1L616.5,400.2L618.0,400.4L619.5,400.5L621.0,400.6L622.5,400.8L624.0,400.9L625.5,401.0L627.0,401.0L628.5,401.0L630.0,400.9L631.5,400.7L633.0,400.5L634.5,400.3L636.0,400.0L637.5,399.7L639.0,399.4L640.5,399.1L642.0,398.8L643.5,398.4L645.0,397.8L646.5,397.2L648.0,396.5L649.5,395.9L651.0,395.2L652.5,394.6L654.0,394.2L655.5,393.9L657.0,393.8L658.5,393.8L660.0,393.9L661.5,394.2L663.0,394.5L664.5,394.8L666.0,395.1L667.5,395.5L669.0,395.9L670.5,396.2L672.0,396.5L673.5,396.7L675.0,396.9L676.5,397.0L678.0,397.0L679.5,396.9L681.0,396.6L682.5,396.4L684.0,396.0L685.5,395.6L687.0,395.2L688.5,394.8L690.0,394.3L691.5,393.9L693.0,393.5L694.5,393.0L696.0,392.4L697.5,391.8L699.0,391.1L700.5,390.5L702.0,389.8L703.5,389.1L705.0,388.5L706.5,387.8L708.0,387.2L709.5,386.7L711.0,386.3L712.5,385.9L714.0,385.6L715.5,385.3L717.0,385.1L718.5,384.9L720.0,384.7L721.5,384.4L723.0,384.1L724.5,383.8L726.0,383.1L727.5,382.2L729.0,381.0L730.5,379.8L732.0,378.4L733.5,377.2L735.0,376.1L736.5,375.2L738.0,374.6L739.5,374.0L741.0,373.5L742.5,372.9L744.0,372.4L745.5,372.0L747.0,371.6L748.5,371.3L750.0,371.1L751.5,371.0L753.0,371.1L754.5,371.6L756.0,372.4L757.5,373.3L759.0,374.1L760.5,374.7L762.0,375.3L763.5,375.9L765.0,376.3L766.5,376.5L768.0,376.5L769.5,376.4L771.0,376.3L772.5,376.2L774.0,376.0L775.5,375.9L777.0,375.8L778.5,375.7L780.0,375.7L781.5,375.8L783.0,376.2L784.5,376.7L786.0,377.4L787.5,378.1L789.0,378.9L790.5,379.6L792.0,380.3L793.5,380.8L795.0,381.3L796.5,381.9L798.0,382.5L799.5,383.1L801.0,383.7L802.5,384.3L804.0,384.7L805.5,385.1L807.0,385.5L808.5,385.6L810.0,385.7L811.5,385.6L813.0,385.5L814.5,385.2L816.0,384.9L817.5,384.5L819.0,384.2L820.5,383.8L822.0,383.5L823.5,383.2L825.0,382.9L826.5,382.8L828.0,382.7L829.5,382.6L831.0,382.5L832.5,382.4L834.0,382.3L835.5,382.3L837.0,382.3L838.5,382.4L840.0,382.6L841.5,382.8L843.0,383.1L844.5,383.4L846.0,383.7L847.5,384.0L849.0,384.4L850.5,384.7L852.0,385.0L853.5,385.4L855.0,385.8L856.5,386.2L858.0,386.6L859.5,386.8L861.0,386.9L862.5,387.0L864.0,387.1L865.5,387.2L867.0,387.3L868.5,387.3L870.0,387.4L871.5,387.4L873.0,387.5L874.5,387.6L876.0,387.8L877.5,388.0L879.0,388.3L880.5,388.6L882.0,389.1L883.5,389.6L885.0,390.1L886.5,390.7L888.0,391.4L889.5,392.2L891.0,393.1L892.5,394.0L894.0,395.0L895.5,396.0L897.0,397.1L898.5,398.2L900.0,399.3L901.5,400.5L903.0,401.7L904.5,403.0L906.0,404.2L907.5,405.4L909.0,406.6L910.5,407.7L912.0,408.9L913.5,410.1L915.0,411.3L916.5,412.5L918.0,413.7L919.5,415.0L921.0,416.2L922.5,417.5L924.0,418.8L925.5,420.1L927.0,421.5L928.5,422.9L930.0,424.2L931.5,425.6L933.0,427.0L934.5,428.3L936.0,429.7L937.5,430.9L939.0,432.2L940.5,433.4L942.0,434.6L943.5,435.8L945.0,437.0L946.5,438.1L948.0,439.3L949.5,440.5L951.0,441.7L952.5,442.9L954.0,444.2L955.5,445.5L957.0,446.8L958.5,448.2L960.0,449.5L961.5,450.9L963.0,452.3L964.5,453.7L966.0,455.1L967.5,456.5L969.0,457.8L970.5,459.1L972.0,460.3L973.5,461.5L975.0,462.8L976.5,464.0L978.0,465.2L979.5,466.4L981.0,467.7L982.5,469.0L984.0,470.2L985.5,471.5L985.5,504.4L984.0,503.5L982.5,502.6L981.0,501.6L979.5,500.6L978.0,499.5L976.5,498.4L975.0,497.2L973.5,495.9L972.0,494.6L970.5,493.3L969.0,491.9L967.5,490.5L966.0,489.0L964.5,487.4L963.0,485.7L961.5,484.0L960.0,482.3L958.5,480.7L957.0,479.2L955.5,477.8L954.0,476.5L952.5,475.3L951.0,474.2L949.5,473.1L948.0,472.0L946.5,471.0L945.0,470.0L943.5,468.9L942.0,467.9L940.5,466.8L939.0,465.7L937.5,464.6L936.0,463.4L934.5,462.3L933.0,461.1L931.5,460.0L930.0,459.0L928.5,458.0L927.0,457.1L925.5,456.4L924.0,455.7L922.5,455.1L921.0,454.6L919.5,454.1L918.0,453.7L916.5,453.2L915.0,452.7L913.5,452.2L912.0,451.6L910.5,450.9L909.0,450.0L907.5,449.1L906.0,448.0L904.5,446.8L903.0,445.6L901.5,444.4L900.0,443.3L898.5,442.2L897.0,441.3L895.5,440.5L894.0,439.7L892.5,439.0L891.0,438.2L889.5,437.5L888.0,436.8L886.5,436.2L885.0,435.7L883.5,435.3L882.0,435.1L880.5,435.0L879.0,435.2L877.5,435.6L876.0,436.1L874.5,436.8L873.0,437.5L871.5,438.2L870.0,438.8L868.5,439.3L867.0,439.6L865.5,439.7L864.0,439.7L862.5,439.7L861.0,439.7L859.5,439.7L858.0,439.7L856.5,439.7L855.0,439.7L853.5,439.7L852.0,439.7L850.5,439.7L849.0,439.9L847.5,440.3L846.0,440.7L844.5,441.2L843.0,441.5L841.5,441.7L840.0,441.8L838.5,441.9L837.0,442.0L835.5,442.2L834.0,442.3L832.5,442.4L831.0,442.7L829.5,443.0L828.0,443.4L826.5,443.9L825.0,444.4L823.5,444.9L822.0,445.5L820.5,446.0L819.0,446.5L817.5,446.9L816.0,447.2L814.5,447.4L813.0,447.5L811.5,447.5L810.0,447.4L808.5,447.3L807.0,447.2L805.5,447.0L804.0,446.8L802.5,446.6L801.0,446.4L799.5,446.2L798.0,446.0L796.5,445.7L795.0,445.4L793.5,444.9L792.0,444.4L790.5,443.9L789.0,443.4L787.5,443.0L786.0,442.6L784.5,442.2L783.0,442.0L781.5,441.8L780.0,441.7L778.5,441.5L777.0,441.4L775.5,441.3L774.0,441.2L772.5,441.1L771.0,441.1L769.5,441.0L768.0,441.0L766.5,441.3L765.0,442.0L763.5,442.7L762.0,443.0L760.5,442.7L759.0,442.1L757.5,441.1L756.0,440.1L754.5,439.1L753.0,438.3L751.5,437.9L750.0,437.6L748.5,437.3L747.0,437.0L745.5,436.7L744.0,436.5L742.5,436.3L741.0,436.2L739.5,436.1L738.0,436.0L736.5,436.0L735.0,436.4L733.5,437.1L732.0,438.1L730.5,439.2L729.0,440.3L727.5,441.3L726.0,442.0L724.5,442.5L723.0,442.7L721.5,442.9L720.0,443.0L718.5,443.2L717.0,443.3L715.5,443.4L714.0,443.5L712.5,443.7L711.0,443.9L709.5,444.1L708.0,444.4L706.5,444.6L705.0,444.9L703.5,445.2L702.0,445.5L700.5,445.8L699.0,446.1L697.5,446.4L696.0,446.7L694.5,447.0L693.0,447.3L691.5,447.6L690.0,447.9L688.5,448.2L687.0,448.5L685.5,448.9L684.0,449.2L682.5,449.5L681.0,449.7L679.5,449.9L678.0,450.0L676.5,450.0L675.0,450.0L673.5,449.9L672.0,449.8L670.5,449.8L669.0,449.6L667.5,449.5L666.0,449.4L664.5,449.3L663.0,449.2L661.5,449.1L660.0,449.1L658.5,449.0L657.0,449.0L655.5,449.0L654.0,449.1L652.5,449.3L651.0,449.5L649.5,449.7L648.0,450.0L646.5,450.2L645.0,450.5L643.5,450.8L642.0,451.0L640.5,451.3L639.0,451.6L637.5,451.9L636.0,452.3L634.5,452.7L633.0,453.0L631.5,453.3L630.0,453.5L628.5,453.7L627.0,453.8L625.5,453.7L624.0,453.7L622.5,453.6L621.0,453.5L619.5,453.3L618.0,453.2L616.5,453.0L615.0,452.8L613.5,452.7L612.0,452.5L610.5,452.3L609.0,452.1L607.5,451.8L606.0,451.5L604.5,451.2L603.0,450.8L601.5,450.5L600.0,450.2L598.5,450.0L597.0,449.7L595.5,449.6L594.0,449.5L592.5,449.4L591.0,449.3L589.5,449.3L588.0,449.2L586.5,449.2L585.0,449.1L583.5,449.1L582.0,449.1L580.5,449.0L579.0,449.0L577.5,448.9L576.0,448.8L574.5,448.8L573.0,448.6L571.5,448.4L570.0,448.2L568.5,447.9L567.0,447.5L565.5,447.2L564.0,446.8L562.5,446.3L561.0,445.8L559.5,445.3L558.0,444.8L556.5,444.3L555.0,443.7L553.5,442.9L552.0,442.1L550.5,441.2L549.0,440.2L547.5,439.2L546.0,438.3L544.5,437.4L543.0,436.5L541.5,435.7L540.0,434.9L538.5,434.1L537.0,433.2L535.5,432.4L534.0,431.6L532.5,430.9L531.0,430.3L529.5,429.8L528.0,429.6L526.5,429.5L525.0,429.5L523.5,429.6L522.0,429.8L520.5,429.9L519.0,430.0L517.5,430.2L516.0,430.3L514.5,430.4L513.0,430.5L511.5,430.5L510.0,430.4L508.5,430.3L507.0,430.2L505.5,430.0L504.0,429.7L502.5,429.4L501.0,429.1L499.5,428.8L498.0,428.5L496.5,428.1L495.0,427.8L493.5,427.5L492.0,427.1L490.5,426.7L489.0,426.2L487.5,425.6L486.0,425.0L484.5,424.5L483.0,423.9L481.5,423.4L480.0,423.0L478.5,422.7L477.0,422.5L475.5,422.5L474.0,422.5L472.5,422.5L471.0,422.5L469.5,422.5L468.0,422.5L466.5,422.5L465.0,422.5L463.5,422.5L462.0,422.5L460.5,422.5L459.0,422.5L457.5,422.5L456.0,422.5L454.5,422.5L453.0,422.6L451.5,422.8L450.0,422.9L448.5,423.2L447.0,423.4L445.5,423.6L444.0,423.9L442.5,424.1L441.0,424.4L439.5,424.6L438.0,424.8L436.5,425.0L435.0,425.1L433.5,425.2L432.0,425.3L430.5,425.4L429.0,425.5L427.5,425.7L426.0,425.7L424.5,425.8L423.0,425.9L421.5,426.0L420.0,426.0L418.5,426.0L417.0,425.9L415.5,425.8L414.0,425.6L412.5,425.2L411.0,424.9L409.5,424.5L408.0,424.1L406.5,423.7L405.0,423.3L403.5,422.9L402.0,422.5L400.5,422.3L399.0,422.0L397.5,421.9L396.0,421.8L394.5,421.7L393.0,421.5L391.5,421.4L390.0,421.3L388.5,421.2L387.0,421.2L385.5,421.1L384.0,421.0L382.5,421.0L381.0,421.0L379.5,421.1L378.0,421.4L376.5,421.8L375.0,422.3L373.5,422.8L372.0,423.4L370.5,423.9L369.0,424.4L367.5,424.7L366.0,425.1L364.5,425.5L363.0,425.8L361.5,426.1L360.0,426.3L358.5,426.5L357.0,426.7L355.5,426.9L354.0,427.0L352.5,427.2L351.0,427.3L349.5,427.4L348.0,427.5L346.5,427.5L345.0,427.3L343.5,426.7L342.0,425.9L340.5,425.1L339.0,424.5L337.5,424.0L336.0,423.5L334.5,423.2L333.0,423.0L331.5,423.1L330.0,423.4L328.5,423.8L327.0,424.3L325.5,424.7L324.0,425.1L322.5,425.4L321.0,425.5L319.5,425.6L318.0,425.8L316.5,425.9L315.0,426.0L313.5,426.2L312.0,426.5L310.5,427.2L309.0,427.9L307.5,428.7L306.0,429.2L304.5,429.5L303.0,429.9L301.5,430.1L300.0,430.4L298.5,430.6L297.0,430.9L295.5,431.1L294.0,431.4L292.5,431.7L291.0,432.0L289.5,432.4L288.0,432.8L286.5,433.1L285.0,433.5L283.5,434.0L282.0,434.4L280.5,434.9L279.0,435.3L277.5,435.8L276.0,436.4L274.5,436.9L273.0,437.4L271.5,438.0L270.0,438.6L268.5,439.2L267.0,439.9L265.5,440.5L264.0,441.1L262.5,441.8L261.0,442.5L259.5,443.1L258.0,443.8L256.5,444.6L255.0,445.3L253.5,446.1L252.0,446.9L250.5,447.7L249.0,448.6L247.5,449.5L246.0,450.4L244.5,451.4L243.0,452.5L241.5,453.4L240.0,454.2L238.5,454.8L237.0,455.4L235.5,456.0L234.0,456.7L232.5,457.6L231.0,458.6L229.5,459.5L228.0,460.4L226.5,461.3L225.0,462.1L223.5,463.0L222.0,463.8L220.5,464.4L219.0,464.9L217.5,465.2L216.0,465.5L214.5,465.9L213.0,466.4L211.5,466.8L210.0,467.4L208.5,468.5L207.0,469.8L205.5,470.7L204.0,470.9L202.5,470.8L201.0,470.6L199.5,470.4L198.0,470.5L196.5,471.0L195.0,471.8L193.5,472.8L192.0,474.0L190.5,475.6L189.0,477.2L187.5,479.0L186.0,480.8L184.5,482.7L183.0,484.2L181.5,485.6L180.0,487.0L178.5,488.6L177.0,490.5L175.5,492.4L174.0,494.3L172.5,496.1L171.0,497.9L169.5,499.2L168.0,500.1L166.5,500.8L165.0,501.4L163.5,501.9L162.0,502.4L160.5,502.7L159.0,503.0L157.5,503.3L156.0,503.6L154.5,503.8L153.0,504.0L151.5,504.1L150.0,504.2L148.5,504.1L147.0,503.6L145.5,502.8L144.0,502.0L142.5,501.1L141.0,500.2L139.5,499.5L138.0,498.9L136.5,498.3L135.0,497.8L133.5,497.2L132.0,496.7L130.5,496.0L129.0,495.4L127.5,494.6L126.0,493.7L124.5,492.6L123.0,491.0L121.5,488.9L120.0,486.4L118.5,483.8L117.0,481.1L115.5,478.5L114.0,476.1L112.5,473.7L111.0,471.3L109.5,468.8L108.0,466.4L106.5,463.9L105.0,461.4L103.5,458.8L102.0,456.2L100.5,453.6L99.0,450.9L97.5,448.1L96.0,445.3L94.5,442.4L93.0,439.4L91.5,436.4L90.0,433.4L88.5,430.3L87.0,427.3L85.5,424.2L84.0,421.2L82.5,418.1L81.0,415.0L79.5,411.9L78.0,408.8L76.5,405.7L75.0,402.6L73.5,399.6L72.0,396.6L70.5,393.7L69.0,390.9L67.5,388.0L66.0,385.2L64.5,382.5L63.0,379.8L61.5,377.1L60.0,374.4L58.5,371.8L57.0,369.2L55.5,366.6L54.0,364.1L52.5,361.6L51.0,359.1L49.5,356.8L48.0,354.5L46.5,352.4L45.0,350.2L43.5,348.1L42.0,346.0L40.5,343.9L39.0,342.1L37.5,340.4L36.0,338.9L34.5,337.6L33.0,336.5L31.5,335.4L30.0,334.4L28.5,333.4L27.0,332.6L25.5,331.8L24.0,331.2L22.5,330.7L21.0,330.4Z" fill="#cc3041"/>
<path d="M21.0,330.4L22.5,330.7L24.0,331.2L25.5,331.8L27.0,332.6L28.5,333.4L30.0,334.4L31.5,335.4L33.0,336.5L34.5,337.6L36.0,338.9L37.5,340.4L39.0,342.1L40.5,343.9L42.0,346.0L43.5,348.1L45.0,350.2L46.5,352.4L48.0,354.5L49.5,356.8L51.0,359.1L52.5,361.6L54.0,364.1L55.5,366.6L57.0,369.2L58.5,371.8L60.0,374.4L61.5,377.1L63.0,379.8L64.5,382.5L66.0,385.2L67.5,388.0L69.0,390.9L70.5,393.7L72.0,396.6L73.5,399.6L75.0,402.6L76.5,405.7L78.0,408.8L79.5,411.9L81.0,415.0L82.5,418.1L84.0,421.2L85.5,424.2L87.0,427.3L88.5,430.3L90.0,433.4L91.5,436.4L93.0,439.4L94.5,442.4L96.0,445.3L97.5,448.1L99.0,450.9L100.5,453.6L102.0,456.2L103.5,458.8L105.0,461.4L106.5,463.9L108.0,466.4L109.5,468.8L111.0,471.3L112.5,473.7L114.0,476.1L115.5,478.5L117.0,481.1L118.5,483.8L120.0,486.4L121.5,488.9L123.0,491.0L124.5,492.6L126.0,493.7L127.5,494.6L129.0,495.4L130.5,496.0L132.0,496.7L133.5,497.2L135.0,497.8L136.5,498.3L138.0,498.9L139.5,499.5L141.0,500.2L142.5,501.1L144.0,502.0L145.5,502.8L147.0,503.6L148.5,504.1L150.0,504.2L151.5,504.1L153.0,504.0L154.5,503.8L156.0,503.6L157.5,503.3L159.0,503.0L160.5,502.7L162.0,502.4L163.5,501.9L165.0,501.4L166.5,500.8L168.0,500.1L169.5,499.2L171.0,497.9L172.5,496.1L174.0,494.3L175.5,492.4L177.0,490.5L178.5,488.6L180.0,487.0L181.5,485.6L183.0,484.2L184.5,482.7L186.0,480.8L187.5,479.0L189.0,477.2L190.5,475.6L192.0,474.0L193.5,472.8L195.0,471.8L196.5,471.0L198.0,470.5L199.5,470.4L201.0,470.6L202.5,470.8L204.0,470.9L205.5,470.7L207.0,469.8L208.5,468.5L210.0,467.4L211.5,466.8L213.0,466.4L214.5,465.9L216.0,465.5L217.5,465.2L219.0,464.9L220.5,464.4L222.0,463.8L223.5,463.0L225.0,462.1L226.5,461.3L228.0,460.4L229.5,459.5L231.0,458.6L232.5,457.6L234.0,456.7L235.5,456.0L237.0,455.4L238.5,454.8L240.0,454.2L241.5,453.4L243.0,452.5L244.5,451.4L246.0,450.4L247.5,449.5L249.0,448.6L250.5,447.7L252.0,446.9L253.5,446.1L255.0,445.3L256.5,444.6L258.0,443.8L259.5,443.1L261.0,442.5L262.5,441.8L264.0,441.1L265.5,440.5L267.0,439.9L268.5,439.2L270.0,438.6L271.5,438.0L273.0,437.4L274.5,436.9L276.0,436.4L277.5,435.8L279.0,435.3L280.5,434.9L282.0,434.4L283.5,434.0L285.0,433.5L286.5,433.1L288.0,432.8L289.5,432.4L291.0,432.0L292.5,431.7L294.0,431.4L295.5,431.1L297.0,430.9L298.5,430.6L300.0,430.4L301.5,430.1L303.0,429.9L304.5,429.5L306.0,429.2L307.5,428.7L309.0,427.9L310.5,427.2L312.0,426.5L313.5,426.2L315.0,426.0L316.5,425.9L318.0,425.8L319.5,425.6L321.0,425.5L322.5,425.4L324.0,425.1L325.5,424.7L327.0,424.3L328.5,423.8L330.0,423.4L331.5,423.1L333.0,423.0L334.5,423.2L336.0,423.5L337.5,424.0L339.0,424.5L340.5,425.1L342.0,425.9L343.5,426.7L345.0,427.3L346.5,427.5L348.0,427.5L349.5,427.4L351.0,427.3L352.5,427.2L354.0,427.0L355.5,426.9L357.0,426.7L358.5,426.5L360.0,426.3L361.5,426.1L363.0,425.8L364.5,425.5L366.0,425.1L367.5,424.7L369.0,424.4L370.5,423.9L372.0,423.4L373.5,422.8L375.0,422.3L376.5,421.8L378.0,421.4L379.5,421.1L381.0,421.0L382.5,421.0L384.0,421.0L385.5,421.1L387.0,421.2L388.5,421.2L390.0,421.3L391.5,421.4L393.0,421.5L394.5,421.7L396.0,421.8L397.5,421.9L399.0,422.0L400.5,422.3L402.0,422.5L403.5,422.9L405.0,423.3L406.5,423.7L408.0,424.1L409.5,424.5L411.0,424.9L412.5,425.2L414.0,425.6L415.5,425.8L417.0,425.9L418.5,426.0L420.0,426.0L421.5,426.0L423.0,425.9L424.5,425.8L426.0,425.7L427.5,425.7L429.0,425.5L430.5,425.4L432.0,425.3L433.5,425.2L435.0,425.1L436.5,425.0L438.0,424.8L439.5,424.6L441.0,424.4L442.5,424.1L444.0,423.9L445.5,423.6L447.0,423.4L448.5,423.2L450.0,422.9L451.5,422.8L453.0,422.6L454.5,422.5L456.0,422.5L457.5,422.5L459.0,422.5L460.5,422.5L462.0,422.5L463.5,422.5L465.0,422.5L466.5,422.5L468.0,422.5L469.5,422.5L471.0,422.5L472.5,422.5L474.0,422.5L475.5,422.5L477.0,422.5L478.5,422.7L480.0,423.0L481.5,423.4L483.0,423.9L484.5,424.5L486.0,425.0L487.5,425.6L489.0,426.2L490.5,426.7L492.0,427.1L493.5,427.5L495.0,427.8L496.5,428.1L498.0,428.5L499.5,428.8L501.0,429.1L502.5,429.4L504.0,429.7L505.5,430.0L507.0,430.2L508.5,430.3L510.0,430.4L511.5,430.5L513.0,430.5L514.5,430.4L516.0,430.3L517.5,430.2L519.0,430.0L520.5,429.9L522.0,429.8L523.5,429.6L525.0,429.5L526.5,429.5L528.0,429.6L529.5,429.8L531.0,430.3L532.5,430.9L534.0,431.6L535.5,432.4L537.0,433.2L538.5,434.1L540.0,434.9L541.5,435.7L543.0,436.5L544.5,437.4L546.0,438.3L547.5,439.2L549.0,440.2L550.5,441.2L552.0,442.1L553.5,442.9L555.0,443.7L556.5,444.3L558.0,444.8L559.5,445.3L561.0,445.8L562.5,446.3L564.0,446.8L565.5,447.2L567.0,447.5L568.5,447.9L570.0,448.2L571.5,448.4L573.0,448.6L574.5,448.8L576.0,448.8L577.5,448.9L579.0,449.0L580.5,449.0L582.0,449.1L583.5,449.1L585.0,449.1L586.5,449.2L588.0,449.2L589.5,449.3L591.0,449.3L592.5,449.4L594.0,449.5L595.5,449.6L597.0,449.7L598.5,450.0L600.0,450.2L601.5,450.5L603.0,450.8L604.5,451.2L606.0,451.5L607.5,451.8L609.0,452.1L610.5,452.3L612.0,452.5L613.5,452.7L615.0,452.8L616.5,453.0L618.0,453.2L619.5,453.3L621.0,453.5L622.5,453.6L624.0,453.7L625.5,453.7L627.0,453.8L628.5,453.7L630.0,453.5L631.5,453.3L633.0,453.0L634.5,452.7L636.0,452.3L637.5,451.9L639.0,451.6L640.5,451.3L642.0,451.0L643.5,450.8L645.0,450.5L646.5,450.2L648.0,450.0L649.5,449.7L651.0,449.5L652.5,449.3L654.0,449.1L655.5,449.0L657.0,449.0L658.5,449.0L660.0,449.1L661.5,449.1L663.0,449.2L664.5,449.3L666.0,449.4L667.5,449.5L669.0,449.6L670.5,449.8L672.0,449.8L673.5,449.9L675.0,450.0L676.5,450.0L678.0,450.0L679.5,449.9L681.0,449.7L682.5,449.5L684.0,449.2L685.5,448.9L687.0,448.5L688.5,448.2L690.0,447.9L691.5,447.6L693.0,447.3L694.5,447.0L696.0,446.7L697.5,446.4L699.0,446.1L700.5,445.8L702.0,445.5L703.5,445.2L705.0,444.9L706.5,444.6L708.0,444.4L709.5,444.1L711.0,443.9L712.5,443.7L714.0,443.5L715.5,443.4L717.0,443.3L718.5,443.2L720.0,443.0L721.5,442.9L723.0,442.7L724.5,442.5L726.0,442.0L727.5,441.3L729.0,440.3L730.5,439.2L732.0,438.1L733.5,437.1L735.0,436.4L736.5,436.0L738.0,436.0L739.5,436.1L741.0,436.2L742.5,436.3L744.0,436.5L745.5,436.7L747.0,437.0L748.5,437.3L750.0,437.6L751.5,437.9L753.0,438.3L754.5,439.1L756.0,440.1L757.5,441.1L759.0,442.1L760.5,442.7L762.0,443.0L763.5,442.7L765.0,442.0L766.5,441.3L768.0,441.0L769.5,441.0L771.0,441.1L772.5,441.1L774.0,441.2L775.5,441.3L777.0,441.4L778.5,441.5L780.0,441.7L781.5,441.8L783.0,442.0L784.5,442.2L786.0,442.6L787.5,443.0L789.0,443.4L790.5,443.9L792.0,444.4L793.5,444.9L795.0,445.4L796.5,445.7L798.0,446.0L799.5,446.2L801.0,446.4L802.5,446.6L804.0,446.8L805.5,447.0L807.0,447.2L808.5,447.3L810.0,447.4L811.5,447.5L813.0,447.5L814.5,447.4L816.0,447.2L817.5,446.9L819.0,446.5L820.5,446.0L822.0,445.5L823.5,444.9L825.0,444.4L826.5,443.9L828.0,443.4L829.5,443.0L831.0,442.7L832.5,442.4L834.0,442.3L835.5,442.2L837.0,442.0L838.5,441.9L840.0,441.8L841.5,441.7L843.0,441.5L844.5,441.2L846.0,440.7L847.5,440.3L849.0,439.9L850.5,439.7L852.0,439.7L853.5,439.7L855.0,439.7L856.5,439.7L858.0,439.7L859.5,439.7L861.0,439.7L862.5,439.7L864.0,439.7L865.5,439.7L867.0,439.6L868.5,439.3L870.0,438.8L871.5,438.2L873.0,437.5L874.5,436.8L876.0,436.1L877.5,435.6L879.0,435.2L880.5,435.0L882.0,435.1L883.5,435.3L885.0,435.7L886.5,436.2L888.0,436.8L889.5,437.5L891.0,438.2L892.5,439.0L894.0,439.7L895.5,440.5L897.0,441.3L898.5,442.2L900.0,443.3L901.5,444.4L903.0,445.6L904.5,446.8L906.0,448.0L907.5,449.1L909.0,450.0L910.5,450.9L912.0,451.6L913.5,452.2L915.0,452.7L916.5,453.2L918.0,453.7L919.5,454.1L921.0,454.6L922.5,455.1L924.0,455.7L925.5,456.4L927.0,457.1L928.5,458.0L930.0,459.0L931.5,460.0L933.0,461.1L934.5,462.3L936.0,463.4L937.5,464.6L939.0,465.7L940.5,466.8L942.0,467.9L943.5,468.9L945.0,470.0L946.5,471.0L948.0,472.0L949.5,473.1L951.0,474.2L952.5,475.3L954.0,476.5L955.5,477.8L957.0,479.2L958.5,480.7L960.0,482.3L961.5,484.0L963.0,485.7L964.5,487.4L966.0,489.0L967.5,490.5L969.0,491.9L970.5,493.3L972.0,494.6L973.5,495.9L975.0,497.2L976.5,498.4L978.0,499.5L979.5,500.6L981.0,501.6L982.5,502.6L984.0,503.5L985.5,504.4L985.5,522.8L984.0,522.0L982.5,521.2L981.0,520.3L979.5,519.3L978.0,518.2L976.5,517.1L975.0,515.8L973.5,514.4L972.0,513.0L970.5,511.5L969.0,510.0L967.5,508.5L966.0,507.0L964.5,505.4L963.0,503.7L961.5,502.0L960.0,500.3L958.5,498.7L957.0,497.2L955.5,495.8L954.0,494.5L952.5,493.3L951.0,492.1L949.5,490.9L948.0,489.8L946.5,488.8L945.0,487.7L943.5,486.7L942.0,485.6L940.5,484.5L939.0,483.4L937.5,482.3L936.0,481.2L934.5,480.1L933.0,479.0L931.5,478.0L930.0,477.0L928.5,476.0L927.0,475.1L925.5,474.3L924.0,473.5L922.5,472.8L921.0,472.2L919.5,471.6L918.0,471.0L916.5,470.5L915.0,469.8L913.5,469.2L912.0,468.5L910.5,467.7L909.0,466.7L907.5,465.6L906.0,464.4L904.5,463.1L903.0,461.8L901.5,460.5L900.0,459.2L898.5,458.1L897.0,457.2L895.5,456.4L894.0,455.7L892.5,455.0L891.0,454.3L889.5,453.6L888.0,453.0L886.5,452.5L885.0,452.1L883.5,451.8L882.0,451.6L880.5,451.5L879.0,451.7L877.5,452.1L876.0,452.7L874.5,453.4L873.0,454.1L871.5,454.9L870.0,455.5L868.5,456.1L867.0,456.4L865.5,456.5L864.0,456.5L862.5,456.4L861.0,456.3L859.5,456.2L858.0,456.0L856.5,455.9L855.0,455.8L853.5,455.7L852.0,455.6L850.5,455.6L849.0,455.7L847.5,456.0L846.0,456.4L844.5,456.7L843.0,457.0L841.5,457.2L840.0,457.4L838.5,457.6L837.0,457.7L835.5,457.9L834.0,458.1L832.5,458.3L831.0,458.6L829.5,458.9L828.0,459.3L826.5,459.7L825.0,460.1L823.5,460.5L822.0,461.0L820.5,461.4L819.0,461.7L817.5,462.0L816.0,462.3L814.5,462.4L813.0,462.5L811.5,462.5L810.0,462.5L808.5,462.5L807.0,462.5L805.5,462.5L804.0,462.5L802.5,462.5L801.0,462.5L799.5,462.5L798.0,462.5L796.5,462.4L795.0,462.0L793.5,461.5L792.0,460.9L790.5,460.2L789.0,459.6L787.5,459.0L786.0,458.5L784.5,458.1L783.0,458.0L781.5,458.0L780.0,458.0L778.5,458.1L777.0,458.1L775.5,458.2L774.0,458.2L772.5,458.3L771.0,458.4L769.5,458.4L768.0,458.5L766.5,458.6L765.0,458.7L763.5,458.7L762.0,458.8L760.5,458.4L759.0,457.6L757.5,456.4L756.0,455.1L754.5,453.9L753.0,452.9L751.5,452.4L750.0,452.0L748.5,451.6L747.0,451.2L745.5,450.9L744.0,450.6L742.5,450.4L741.0,450.2L739.5,450.1L738.0,450.0L736.5,450.0L735.0,450.5L733.5,451.3L732.0,452.4L730.5,453.7L729.0,455.0L727.5,456.1L726.0,457.0L724.5,457.5L723.0,457.7L721.5,457.9L720.0,458.1L718.5,458.2L717.0,458.4L715.5,458.5L714.0,458.6L712.5,458.7L711.0,458.8L709.5,458.9L708.0,459.0L706.5,459.1L705.0,459.2L703.5,459.3L702.0,459.3L700.5,459.4L699.0,459.5L697.5,459.6L696.0,459.7L694.5,459.8L693.0,459.9L691.5,460.1L690.0,460.3L688.5,460.5L687.0,460.8L685.5,461.1L684.0,461.4L682.5,461.8L681.0,462.0L679.5,462.3L678.0,462.4L676.5,462.5L675.0,462.6L673.5,462.6L672.0,462.7L670.5,462.7L669.0,462.7L667.5,462.7L666.0,462.8L664.5,462.8L663.0,462.8L661.5,462.9L660.0,462.9L658.5,462.9L657.0,463.0L655.5,463.1L654.0,463.2L652.5,463.4L651.0,463.6L649.5,463.8L648.0,464.0L646.5,464.3L645.0,464.5L643.5,464.8L642.0,465.0L640.5,465.2L639.0,465.5L637.5,465.9L636.0,466.2L634.5,466.5L633.0,466.8L631.5,467.1L630.0,467.3L628.5,467.4L627.0,467.5L625.5,467.4L624.0,467.2L622.5,466.8L621.0,466.3L619.5,465.8L618.0,465.3L616.5,464.8L615.0,464.4L613.5,464.0L612.0,463.8L610.5,463.6L609.0,463.5L607.5,463.3L606.0,463.2L604.5,463.1L603.0,463.0L601.5,462.9L600.0,462.8L598.5,462.8L597.0,462.7L595.5,462.6L594.0,462.5L592.5,462.4L591.0,462.2L589.5,462.1L588.0,462.0L586.5,461.9L585.0,461.8L583.5,461.7L582.0,461.5L580.5,461.4L579.0,461.3L577.5,461.2L576.0,461.1L574.5,461.0L573.0,460.9L571.5,460.8L570.0,460.7L568.5,460.7L567.0,460.6L565.5,460.5L564.0,460.5L562.5,460.4L561.0,460.3L559.5,460.2L558.0,460.1L556.5,460.0L555.0,459.8L553.5,459.6L552.0,459.4L550.5,459.2L549.0,459.0L547.5,458.7L546.0,458.4L544.5,458.1L543.0,457.7L541.5,457.4L540.0,456.8L538.5,456.1L537.0,455.3L535.5,454.4L534.0,453.4L532.5,452.5L531.0,451.7L529.5,450.9L528.0,450.3L526.5,449.9L525.0,449.5L523.5,449.3L522.0,449.0L520.5,448.8L519.0,448.6L517.5,448.3L516.0,448.1L514.5,447.9L513.0,447.7L511.5,447.4L510.0,447.1L508.5,446.9L507.0,446.6L505.5,446.3L504.0,446.1L502.5,445.8L501.0,445.5L499.5,445.2L498.0,444.8L496.5,444.5L495.0,444.1L493.5,443.8L492.0,443.3L490.5,442.7L489.0,442.1L487.5,441.3L486.0,440.6L484.5,439.9L483.0,439.2L481.5,438.5L480.0,437.9L478.5,437.5L477.0,437.1L475.5,437.0L474.0,436.8L472.5,436.7L471.0,436.6L469.5,436.5L468.0,436.4L466.5,436.3L465.0,436.2L463.5,436.2L462.0,436.1L460.5,436.1L459.0,436.0L457.5,436.0L456.0,436.0L454.5,436.0L453.0,436.1L451.5,436.3L450.0,436.5L448.5,436.8L447.0,437.0L445.5,437.3L444.0,437.6L442.5,437.9L441.0,438.1L439.5,438.4L438.0,438.6L436.5,438.7L435.0,438.8L433.5,438.9L432.0,439.0L430.5,439.1L429.0,439.2L427.5,439.3L426.0,439.3L424.5,439.4L423.0,439.4L421.5,439.5L420.0,439.5L418.5,439.5L417.0,439.4L415.5,439.3L414.0,439.0L412.5,438.7L411.0,438.3L409.5,437.8L408.0,437.4L406.5,436.9L405.0,436.4L403.5,436.0L402.0,435.6L400.5,435.3L399.0,435.1L397.5,434.9L396.0,434.7L394.5,434.6L393.0,434.4L391.5,434.3L390.0,434.2L388.5,434.0L387.0,433.9L385.5,433.9L384.0,433.8L382.5,433.8L381.0,433.8L379.5,433.8L378.0,434.0L376.5,434.3L375.0,434.7L373.5,435.0L372.0,435.4L370.5,435.7L369.0,435.9L367.5,436.1L366.0,436.2L364.5,436.3L363.0,436.4L361.5,436.5L360.0,436.6L358.5,436.7L357.0,436.8L355.5,436.9L354.0,437.0L352.5,437.2L351.0,437.2L349.5,437.3L348.0,437.4L346.5,437.4L345.0,437.2L343.5,436.5L342.0,435.5L340.5,434.6L339.0,433.9L337.5,433.3L336.0,432.7L334.5,432.2L333.0,432.0L331.5,432.1L330.0,432.2L328.5,432.5L327.0,432.8L325.5,433.0L324.0,433.2L322.5,433.3L321.0,433.4L319.5,433.4L318.0,433.4L316.5,433.5L315.0,433.5L313.5,433.6L312.0,433.8L310.5,434.4L309.0,435.3L307.5,436.1L306.0,436.7L304.5,437.1L303.0,437.4L301.5,437.6L300.0,437.9L298.5,438.1L297.0,438.4L295.5,438.6L294.0,438.9L292.5,439.2L291.0,439.5L289.5,439.9L288.0,440.2L286.5,440.6L285.0,441.0L283.5,441.5L282.0,441.9L280.5,442.4L279.0,442.9L277.5,443.5L276.0,444.0L274.5,444.6L273.0,445.2L271.5,445.9L270.0,446.6L268.5,447.4L267.0,448.1L265.5,448.8L264.0,449.4L262.5,450.0L261.0,450.6L259.5,451.1L258.0,451.7L256.5,452.4L255.0,453.1L253.5,454.0L252.0,455.0L250.5,456.0L249.0,456.9L247.5,457.7L246.0,458.5L244.5,459.2L243.0,459.9L241.5,460.5L240.0,461.1L238.5,461.6L237.0,462.0L235.5,462.5L234.0,463.1L232.5,463.8L231.0,464.5L229.5,465.3L228.0,466.2L226.5,467.1L225.0,468.0L223.5,468.9L222.0,469.8L220.5,470.5L219.0,471.0L217.5,471.3L216.0,471.6L214.5,472.1L213.0,472.5L211.5,473.1L210.0,473.8L208.5,474.8L207.0,476.0L205.5,476.8L204.0,477.0L202.5,476.8L201.0,476.6L199.5,476.4L198.0,476.5L196.5,477.0L195.0,477.8L193.5,478.7L192.0,479.9L190.5,481.5L189.0,483.1L187.5,484.9L186.0,486.8L184.5,488.6L183.0,490.0L181.5,491.3L180.0,492.6L178.5,494.2L177.0,496.0L175.5,497.9L174.0,499.6L172.5,501.5L171.0,503.2L169.5,504.5L168.0,505.4L166.5,506.2L165.0,506.9L163.5,507.5L162.0,508.0L160.5,508.4L159.0,508.7L157.5,509.0L156.0,509.3L154.5,509.6L153.0,509.8L151.5,509.9L150.0,510.0L148.5,509.8L147.0,509.2L145.5,508.3L144.0,507.3L142.5,506.2L141.0,505.2L139.5,504.3L138.0,503.7L136.5,503.0L135.0,502.5L133.5,501.9L132.0,501.3L130.5,500.7L129.0,500.0L127.5,499.2L126.0,498.2L124.5,497.1L123.0,495.4L121.5,493.1L120.0,490.5L118.5,487.7L117.0,484.8L115.5,482.1L114.0,479.5L112.5,477.1L111.0,474.6L109.5,472.1L108.0,469.6L106.5,467.1L105.0,464.6L103.5,462.0L102.0,459.4L100.5,456.7L99.0,454.0L97.5,451.1L96.0,448.3L94.5,445.3L93.0,442.3L91.5,439.2L90.0,436.1L88.5,433.0L87.0,429.9L85.5,426.8L84.0,423.7L82.5,420.5L81.0,417.3L79.5,414.0L78.0,410.8L76.5,407.5L75.0,404.4L73.5,401.2L72.0,398.2L70.5,395.2L69.0,392.3L67.5,389.4L66.0,386.6L64.5,383.7L63.0,381.0L61.5,378.3L60.0,375.6L58.5,373.0L57.0,370.5L55.5,367.9L54.0,365.4L52.5,362.9L51.0,360.6L49.5,358.3L48.0,356.1L46.5,353.9L45.0,351.8L43.5,349.7L42.0,347.6L40.5,345.6L39.0,343.7L37.5,342.0L36.0,340.5L34.5,339.2L33.0,338.0L31.5,336.8L30.0,335.7L28.5,334.7L27.0,333.7L25.5,332.9L24.0,332.2L22.5,331.6L21.0,331.1Z" fill="#f27b86"/>
<path d="M21.0,331.1L22.5,331.6L24.0,332.2L25.5,332.9L27.0,333.7L28.5,334.7L30.0,335.7L31.5,336.8L33.0,338.0L34.5,339.2L36.0,340.5L37.5,342.0L39.0,343.7L40.5,345.6L42.0,347.6L43.5,349.7L45.0,351.8L46.5,353.9L48.0,356.1L49.5,358.3L51.0,360.6L52.5,362.9L54.0,365.4L55.5,367.9L57.0,370.5L58.5,373.0L60.0,375.6L61.5,378.3L63.0,381.0L64.5,383.7L66.0,386.6L67.5,389.4L69.0,392.3L70.5,395.2L72.0,398.2L73.5,401.2L75.0,404.4L76.5,407.5L78.0,410.8L79.5,414.0L81.0,417.3L82.5,420.5L84.0,423.7L85.5,426.8L87.0,429.9L88.5,433.0L90.0,436.1L91.5,439.2L93.0,442.3L94.5,445.3L96.0,448.3L97.5,451.1L99.0,454.0L100.5,456.7L102.0,459.4L103.5,462.0L105.0,464.6L106.5,467.1L108.0,469.6L109.5,472.1L111.0,474.6L112.5,477.1L114.0,479.5L115.5,482.1L117.0,484.8L118.5,487.7L120.0,490.5L121.5,493.1L123.0,495.4L124.5,497.1L126.0,498.2L127.5,499.2L129.0,500.0L130.5,500.7L132.0,501.3L133.5,501.9L135.0,502.5L136.5,503.0L138.0,503.7L139.5,504.3L141.0,505.2L142.5,506.2L144.0,507.3L145.5,508.3L147.0,509.2L148.5,509.8L150.0,510.0L151.5,509.9L153.0,509.8L154.5,509.6L156.0,509.3L157.5,509.0L159.0,508.7L160.5,508.4L162.0,508.0L163.5,507.5L165.0,506.9L166.5,506.2L168.0,505.4L169.5,504.5L171.0,503.2L172.5,501.5L174.0,499.6L175.5,497.9L177.0,496.0L178.5,494.2L180.0,492.6L181.5,491.3L183.0,490.0L184.5,488.6L186.0,486.8L187.5,484.9L189.0,483.1L190.5,481.5L192.0,479.9L193.5,478.7L195.0,477.8L196.5,477.0L198.0,476.5L199.5,476.4L201.0,476.6L202.5,476.8L204.0,477.0L205.5,476.8L207.0,476.0L208.5,474.8L210.0,473.8L211.5,473.1L213.0,472.5L214.5,472.1L216.0,471.6L217.5,471.3L219.0,471.0L220.5,470.5L222.0,469.8L223.5,468.9L225.0,468.0L226.5,467.1L228.0,466.2L229.5,465.3L231.0,464.5L232.5,463.8L234.0,463.1L235.5,462.5L237.0,462.0L238.5,461.6L240.0,461.1L241.5,460.5L243.0,459.9L244.5,459.2L246.0,458.5L247.5,457.7L249.0,456.9L250.5,456.0L252.0,455.0L253.5,454.0L255.0,453.1L256.5,452.4L258.0,451.7L259.5,451.1L261.0,450.6L262.5,450.0L264.0,449.4L265.5,448.8L267.0,448.1L268.5,447.4L270.0,446.6L271.5,445.9L273.0,445.2L274.5,444.6L276.0,444.0L277.5,443.5L279.0,442.9L280.5,442.4L282.0,441.9L283.5,441.5L285.0,441.0L286.5,440.6L288.0,440.2L289.5,439.9L291.0,439.5L292.5,439.2L294.0,438.9L295.5,438.6L297.0,438.4L298.5,438.1L300.0,437.9L301.5,437.6L303.0,437.4L304.5,437.1L306.0,436.7L307.5,436.1L309.0,435.3L310.5,434.4L312.0,433.8L313.5,433.6L315.0,433.5L316.5,433.5L318.0,433.4L319.5,433.4L321.0,433.4L322.5,433.3L324.0,433.2L325.5,433.0L327.0,432.8L328.5,432.5L330.0,432.2L331.5,432.1L333.0,432.0L334.5,432.2L336.0,432.7L337.5,433.3L339.0,433.9L340.5,434.6L342.0,435.5L343.5,436.5L345.0,437.2L346.5,437.4L348.0,437.4L349.5,437.3L351.0,437.2L352.5,437.2L354.0,437.0L355.5,436.9L357.0,436.8L358.5,436.7L360.0,436.6L361.5,436.5L363.0,436.4L364.5,436.3L366.0,436.2L367.5,436.1L369.0,435.9L370.5,435.7L372.0,435.4L373.5,435.0L375.0,434.7L376.5,434.3L378.0,434.0L379.5,433.8L381.0,433.8L382.5,433.8L384.0,433.8L385.5,433.9L387.0,433.9L388.5,434.0L390.0,434.2L391.5,434.3L393.0,434.4L394.5,434.6L396.0,434.7L397.5,434.9L399.0,435.1L400.5,435.3L402.0,435.6L403.5,436.0L405.0,436.4L406.5,436.9L408.0,437.4L409.5,437.8L411.0,438.3L412.5,438.7L414.0,439.0L415.5,439.3L417.0,439.4L418.5,439.5L420.0,439.5L421.5,439.5L423.0,439.4L424.5,439.4L426.0,439.3L427.5,439.3L429.0,439.2L430.5,439.1L432.0,439.0L433.5,438.9L435.0,438.8L436.5,438.7L438.0,438.6L439.5,438.4L441.0,438.1L442.5,437.9L444.0,437.6L445.5,437.3L447.0,437.0L448.5,436.8L450.0,436.5L451.5,436.3L453.0,436.1L454.5,436.0L456.0,436.0L457.5,436.0L459.0,436.0L460.5,436.1L462.0,436.1L463.5,436.2L465.0,436.2L466.5,436.3L468.0,436.4L469.5,436.5L471.0,436.6L472.5,436.7L474.0,436.8L475.5,437.0L477.0,437.1L478.5,437.5L480.0,437.9L481.5,438.5L483.0,439.2L484.5,439.9L486.0,440.6L487.5,441.3L489.0,442.1L490.5,442.7L492.0,443.3L493.5,443.8L495.0,444.1L496.5,444.5L498.0,444.8L499.5,445.2L501.0,445.5L502.5,445.8L504.0,446.1L505.5,446.3L507.0,446.6L508.5,446.9L510.0,447.1L511.5,447.4L513.0,447.7L514.5,447.9L516.0,448.1L517.5,448.3L519.0,448.6L520.5,448.8L522.0,449.0L523.5,449.3L525.0,449.5L526.5,449.9L528.0,450.3L529.5,450.9L531.0,451.7L532.5,452.5L534.0,453.4L535.5,454.4L537.0,455.3L538.5,456.1L540.0,456.8L541.5,457.4L543.0,457.7L544.5,458.1L546.0,458.4L547.5,458.7L549.0,459.0L550.5,459.2L552.0,459.4L553.5,459.6L555.0,459.8L556.5,460.0L558.0,460.1L559.5,460.2L561.0,460.3L562.5,460.4L564.0,460.5L565.5,460.5L567.0,460.6L568.5,460.7L570.0,460.7L571.5,460.8L573.0,460.9L574.5,461.0L576.0,461.1L577.5,461.2L579.0,461.3L580.5,461.4L582.0,461.5L583.5,461.7L585.0,461.8L586.5,461.9L588.0,462.0L589.5,462.1L591.0,462.2L592.5,462.4L594.0,462.5L595.5,462.6L597.0,462.7L598.5,462.8L600.0,462.8L601.5,462.9L603.0,463.0L604.5,463.1L606.0,463.2L607.5,463.3L609.0,463.5L610.5,463.6L612.0,463.8L613.5,464.0L615.0,464.4L616.5,464.8L618.0,465.3L619.5,465.8L621.0,466.3L622.5,466.8L624.0,467.2L625.5,467.4L627.0,467.5L628.5,467.4L630.0,467.3L631.5,467.1L633.0,466.8L634.5,466.5L636.0,466.2L637.5,465.9L639.0,465.5L640.5,465.2L642.0,465.0L643.5,464.8L645.0,464.5L646.5,464.3L648.0,464.0L649.5,463.8L651.0,463.6L652.5,463.4L654.0,463.2L655.5,463.1L657.0,463.0L658.5,462.9L660.0,462.9L661.5,462.9L663.0,462.8L664.5,462.8L666.0,462.8L667.5,462.7L669.0,462.7L670.5,462.7L672.0,462.7L673.5,462.6L675.0,462.6L676.5,462.5L678.0,462.4L679.5,462.3L681.0,462.0L682.5,461.8L684.0,461.4L685.5,461.1L687.0,460.8L688.5,460.5L690.0,460.3L691.5,460.1L693.0,459.9L694.5,459.8L696.0,459.7L697.5,459.6L699.0,459.5L700.5,459.4L702.0,459.3L703.5,459.3L705.0,459.2L706.5,459.1L708.0,459.0L709.5,458.9L711.0,458.8L712.5,458.7L714.0,458.6L715.5,458.5L717.0,458.4L718.5,458.2L720.0,458.1L721.5,457.9L723.0,457.7L724.5,457.5L726.0,457.0L727.5,456.1L729.0,455.0L730.5,453.7L732.0,452.4L733.5,451.3L735.0,450.5L736.5,450.0L738.0,450.0L739.5,450.1L741.0,450.2L742.5,450.4L744.0,450.6L745.5,450.9L747.0,451.2L748.5,451.6L750.0,452.0L751.5,452.4L753.0,452.9L754.5,453.9L756.0,455.1L757.5,456.4L759.0,457.6L760.5,458.4L762.0,458.8L763.5,458.7L765.0,458.7L766.5,458.6L768.0,458.5L769.5,458.4L771.0,458.4L772.5,458.3L774.0,458.2L775.5,458.2L777.0,458.1L778.5,458.1L780.0,458.0L781.5,458.0L783.0,458.0L784.5,458.1L786.0,458.5L787.5,459.0L789.0,459.6L790.5,460.2L792.0,460.9L793.5,461.5L795.0,462.0L796.5,462.4L798.0,462.5L799.5,462.5L801.0,462.5L802.5,462.5L804.0,462.5L805.5,462.5L807.0,462.5L808.5,462.5L810.0,462.5L811.5,462.5L813.0,462.5L814.5,462.4L816.0,462.3L817.5,462.0L819.0,461.7L820.5,461.4L822.0,461.0L823.5,460.5L825.0,460.1L826.5,459.7L828.0,459.3L829.5,458.9L831.0,458.6L832.5,458.3L834.0,458.1L835.5,457.9L837.0,457.7L838.5,457.6L840.0,457.4L841.5,457.2L843.0,457.0L844.5,456.7L846.0,456.4L847.5,456.0L849.0,455.7L850.5,455.6L852.0,455.6L853.5,455.7L855.0,455.8L856.5,455.9L858.0,456.0L859.5,456.2L861.0,456.3L862.5,456.4L864.0,456.5L865.5,456.5L867.0,456.4L868.5,456.1L870.0,455.5L871.5,454.9L873.0,454.1L874.5,453.4L876.0,452.7L877.5,452.1L879.0,451.7L880.5,451.5L882.0,451.6L883.5,451.8L885.0,452.1L886.5,452.5L888.0,453.0L889.5,453.6L891.0,454.3L892.5,455.0L894.0,455.7L895.5,456.4L897.0,457.2L898.5,458.1L900.0,459.2L901.5,460.5L903.0,461.8L904.5,463.1L906.0,464.4L907.5,465.6L909.0,466.7L910.5,467.7L912.0,468.5L913.5,469.2L915.0,469.8L916.5,470.5L918.0,471.0L919.5,471.6L921.0,472.2L922.5,472.8L924.0,473.5L925.5,474.3L927.0,475.1L928.5,476.0L930.0,477.0L931.5,478.0L933.0,479.0L934.5,480.1L936.0,481.2L937.5,482.3L939.0,483.4L940.5,484.5L942.0,485.6L943.5,486.7L945.0,487.7L946.5,488.8L948.0,489.8L949.5,490.9L951.0,492.1L952.5,493.3L954.0,494.5L955.5,495.8L957.0,497.2L958.5,498.7L960.0,500.3L961.5,502.0L963.0,503.7L964.5,505.4L966.0,507.0L967.5,508.5L969.0,510.0L970.5,511.5L972.0,513.0L973.5,514.4L975.0,515.8L976.5,517.1L978.0,518.2L979.5,519.3L981.0,520.3L982.5,521.2L984.0,522.0L985.5,522.8L985.5,542.0L984.0,540.7L982.5,539.5L981.0,538.3L979.5,537.0L978.0,535.8L976.5,534.6L975.0,533.5L973.5,532.5L972.0,531.4L970.5,530.2L969.0,528.9L967.5,527.5L966.0,525.8L964.5,523.7L963.0,521.2L961.5,518.6L960.0,515.9L958.5,513.4L957.0,511.2L955.5,509.3L954.0,507.8L952.5,506.3L951.0,504.9L949.5,503.7L948.0,502.5L946.5,501.3L945.0,500.2L943.5,499.1L942.0,497.9L940.5,496.8L939.0,495.6L937.5,494.5L936.0,493.3L934.5,492.2L933.0,491.0L931.5,490.0L930.0,488.9L928.5,488.0L927.0,487.1L925.5,486.4L924.0,485.7L922.5,485.1L921.0,484.6L919.5,484.2L918.0,483.7L916.5,483.2L915.0,482.7L913.5,482.2L912.0,481.6L910.5,480.9L909.0,480.0L907.5,478.8L906.0,477.6L904.5,476.2L903.0,474.8L901.5,473.5L900.0,472.2L898.5,471.1L897.0,470.2L895.5,469.6L894.0,469.1L892.5,468.7L891.0,468.2L889.5,467.8L888.0,467.4L886.5,467.1L885.0,466.8L883.5,466.6L882.0,466.5L880.5,466.5L879.0,466.6L877.5,466.8L876.0,467.0L874.5,467.3L873.0,467.7L871.5,468.0L870.0,468.3L868.5,468.6L867.0,468.7L865.5,468.7L864.0,468.7L862.5,468.5L861.0,468.2L859.5,467.9L858.0,467.6L856.5,467.2L855.0,466.9L853.5,466.7L852.0,466.5L850.5,466.5L849.0,466.7L847.5,467.0L846.0,467.4L844.5,467.7L843.0,467.8L841.5,467.5L840.0,467.0L838.5,467.1L837.0,467.5L835.5,468.0L834.0,468.5L832.5,468.9L831.0,469.2L829.5,469.5L828.0,469.9L826.5,470.2L825.0,470.5L823.5,470.8L822.0,471.1L820.5,471.3L819.0,471.6L817.5,471.7L816.0,471.9L814.5,472.0L813.0,472.0L811.5,472.0L810.0,472.0L808.5,472.0L807.0,472.0L805.5,472.0L804.0,472.0L802.5,472.0L801.0,472.0L799.5,472.0L798.0,472.0L796.5,471.9L795.0,471.8L793.5,471.6L792.0,471.3L790.5,471.0L789.0,470.7L787.5,470.4L786.0,470.2L784.5,470.1L783.0,470.0L781.5,470.0L780.0,470.0L778.5,470.0L777.0,470.0L775.5,470.0L774.0,470.0L772.5,470.0L771.0,470.0L769.5,470.0L768.0,470.0L766.5,470.2L765.0,470.5L763.5,470.8L762.0,471.0L760.5,470.7L759.0,469.8L757.5,468.7L756.0,467.4L754.5,466.4L753.0,465.7L751.5,465.5L750.0,465.5L748.5,465.5L747.0,465.6L745.5,465.6L744.0,465.6L742.5,465.7L741.0,465.8L739.5,465.9L738.0,465.9L736.5,466.1L735.0,466.5L733.5,467.2L732.0,468.1L730.5,469.1L729.0,470.1L727.5,471.1L726.0,471.9L724.5,472.5L723.0,472.9L721.5,473.3L720.0,473.6L718.5,473.9L717.0,474.2L715.5,474.5L714.0,474.7L712.5,474.9L711.0,475.1L709.5,475.3L708.0,475.5L706.5,475.6L705.0,475.8L703.5,475.9L702.0,476.0L700.5,476.2L699.0,476.3L697.5,476.4L696.0,476.6L694.5,476.7L693.0,476.9L691.5,477.1L690.0,477.3L688.5,477.5L687.0,477.7L685.5,478.0L684.0,478.2L682.5,478.5L681.0,478.8L679.5,479.0L678.0,479.3L676.5,479.6L675.0,479.9L673.5,480.2L672.0,480.5L670.5,480.9L669.0,481.2L667.5,481.5L666.0,481.9L664.5,482.2L663.0,482.6L661.5,482.9L660.0,483.2L658.5,483.5L657.0,483.8L655.5,484.0L654.0,484.2L652.5,484.4L651.0,484.6L649.5,484.8L648.0,485.0L646.5,485.3L645.0,485.5L643.5,485.7L642.0,486.0L640.5,486.3L639.0,486.8L637.5,487.3L636.0,487.8L634.5,488.4L633.0,488.9L631.5,489.3L630.0,489.7L628.5,489.9L627.0,490.0L625.5,490.0L624.0,489.9L622.5,489.8L621.0,489.7L619.5,489.6L618.0,489.4L616.5,489.3L615.0,489.1L613.5,488.9L612.0,488.8L610.5,488.5L609.0,488.3L607.5,488.0L606.0,487.7L604.5,487.3L603.0,487.0L601.5,486.7L600.0,486.3L598.5,486.0L597.0,485.8L595.5,485.6L594.0,485.5L592.5,485.4L591.0,485.3L589.5,485.2L588.0,485.1L586.5,485.1L585.0,485.0L583.5,484.9L582.0,484.9L580.5,484.8L579.0,484.8L577.5,484.7L576.0,484.6L574.5,484.5L573.0,484.4L571.5,484.3L570.0,484.1L568.5,484.0L567.0,483.8L565.5,483.7L564.0,483.5L562.5,483.3L561.0,483.1L559.5,482.9L558.0,482.7L556.5,482.4L555.0,482.2L553.5,481.9L552.0,481.6L550.5,481.2L549.0,480.9L547.5,480.5L546.0,480.0L544.5,479.6L543.0,479.1L541.5,478.6L540.0,477.9L538.5,477.2L537.0,476.3L535.5,475.4L534.0,474.4L532.5,473.4L531.0,472.4L529.5,471.5L528.0,470.6L526.5,469.7L525.0,468.9L523.5,468.0L522.0,467.2L520.5,466.3L519.0,465.5L517.5,464.7L516.0,464.0L514.5,463.4L513.0,462.8L511.5,462.4L510.0,462.0L508.5,461.6L507.0,461.3L505.5,461.0L504.0,460.8L502.5,460.6L501.0,460.3L499.5,460.1L498.0,459.8L496.5,459.5L495.0,459.1L493.5,458.8L492.0,458.2L490.5,457.6L489.0,456.9L487.5,456.0L486.0,455.2L484.5,454.3L483.0,453.5L481.5,452.7L480.0,452.1L478.5,451.5L477.0,451.1L475.5,451.0L474.0,450.8L472.5,450.7L471.0,450.6L469.5,450.5L468.0,450.4L466.5,450.3L465.0,450.2L463.5,450.2L462.0,450.1L460.5,450.1L459.0,450.0L457.5,450.0L456.0,450.0L454.5,450.0L453.0,450.2L451.5,450.3L450.0,450.5L448.5,450.8L447.0,451.1L445.5,451.3L444.0,451.6L442.5,451.9L441.0,452.1L439.5,452.3L438.0,452.4L436.5,452.5L435.0,452.5L433.5,452.5L432.0,452.5L430.5,452.5L429.0,452.5L427.5,452.5L426.0,452.5L424.5,452.5L423.0,452.5L421.5,452.5L420.0,452.5L418.5,452.5L417.0,452.5L415.5,452.3L414.0,452.2L412.5,451.9L411.0,451.7L409.5,451.4L408.0,451.0L406.5,450.6L405.0,450.3L403.5,449.9L402.0,449.5L400.5,449.2L399.0,448.9L397.5,448.5L396.0,448.2L394.5,447.8L393.0,447.4L391.5,446.9L390.0,446.5L388.5,446.1L387.0,445.7L385.5,445.4L384.0,445.2L382.5,445.1L381.0,445.0L379.5,445.0L378.0,445.0L376.5,445.0L375.0,445.0L373.5,445.0L372.0,445.0L370.5,445.0L369.0,445.0L367.5,445.0L366.0,445.0L364.5,445.0L363.0,444.9L361.5,444.9L360.0,444.9L358.5,444.9L357.0,445.0L355.5,445.1L354.0,445.2L352.5,445.4L351.0,445.5L349.5,445.6L348.0,445.7L346.5,445.7L345.0,445.5L343.5,444.8L342.0,443.9L340.5,442.9L339.0,442.2L337.5,441.4L336.0,440.7L334.5,440.1L333.0,439.9L331.5,439.9L330.0,440.0L328.5,440.1L327.0,440.2L325.5,440.2L324.0,440.3L322.5,440.3L321.0,440.3L319.5,440.2L318.0,440.1L316.5,440.0L315.0,439.9L313.5,439.9L312.0,440.1L310.5,440.9L309.0,441.9L307.5,442.9L306.0,443.3L304.5,443.5L303.0,443.6L301.5,443.7L300.0,443.7L298.5,443.8L297.0,443.8L295.5,443.9L294.0,444.0L292.5,444.2L291.0,444.5L289.5,444.9L288.0,445.5L286.5,446.1L285.0,446.7L283.5,447.2L282.0,447.7L280.5,448.2L279.0,448.7L277.5,449.2L276.0,449.7L274.5,450.2L273.0,450.7L271.5,451.3L270.0,451.9L268.5,452.6L267.0,453.2L265.5,453.8L264.0,454.4L262.5,455.0L261.0,455.5L259.5,456.1L258.0,456.7L256.5,457.4L255.0,458.1L253.5,459.1L252.0,460.0L250.5,461.0L249.0,461.9L247.5,462.7L246.0,463.5L244.5,464.2L243.0,464.9L241.5,465.5L240.0,466.0L238.5,466.3L237.0,466.5L235.5,466.8L234.0,467.1L232.5,467.6L231.0,468.1L229.5,468.7L228.0,469.5L226.5,470.5L225.0,471.4L223.5,472.3L222.0,473.1L220.5,473.7L219.0,474.1L217.5,474.4L216.0,474.7L214.5,475.0L213.0,475.5L211.5,476.2L210.0,477.0L208.5,477.8L207.0,478.7L205.5,479.5L204.0,479.7L202.5,479.6L201.0,479.4L199.5,479.2L198.0,479.3L196.5,479.9L195.0,480.8L193.5,481.9L192.0,483.4L190.5,485.2L189.0,487.0L187.5,488.7L186.0,490.3L184.5,492.0L183.0,493.5L181.5,495.0L180.0,496.5L178.5,498.0L177.0,499.7L175.5,501.4L174.0,503.0L172.5,504.7L171.0,506.3L169.5,507.5L168.0,508.4L166.5,509.2L165.0,509.8L163.5,510.4L162.0,511.1L160.5,511.7L159.0,512.2L157.5,512.5L156.0,512.7L154.5,512.8L153.0,512.9L151.5,513.0L150.0,513.0L148.5,512.7L147.0,512.1L145.5,511.3L144.0,510.4L142.5,509.3L141.0,508.2L139.5,507.3L138.0,506.5L136.5,505.8L135.0,505.1L133.5,504.4L132.0,503.6L130.5,502.7L129.0,501.6L127.5,500.4L126.0,499.0L124.5,497.6L123.0,495.9L121.5,494.1L120.0,492.1L118.5,489.8L117.0,487.4L115.5,484.9L114.0,482.3L112.5,479.7L111.0,477.2L109.5,474.7L108.0,472.2L106.5,469.6L105.0,466.9L103.5,464.3L102.0,461.6L100.5,458.8L99.0,456.0L97.5,453.2L96.0,450.4L94.5,447.5L93.0,444.5L91.5,441.5L90.0,438.5L88.5,435.4L87.0,432.2L85.5,428.8L84.0,425.3L82.5,421.6L81.0,418.0L79.5,414.5L78.0,411.2L76.5,408.1L75.0,405.1L73.5,402.2L72.0,399.2L70.5,396.2L69.0,393.2L67.5,390.2L66.0,387.2L64.5,384.4L63.0,381.7L61.5,379.0L60.0,376.4L58.5,373.9L57.0,371.5L55.5,369.2L54.0,366.8L52.5,364.4L51.0,361.9L49.5,359.4L48.0,357.1L46.5,354.9L45.0,352.9L43.5,351.0L42.0,349.1L40.5,347.3L39.0,345.4L37.5,343.5L36.0,341.8L34.5,340.1L33.0,338.6L31.5,337.1L30.0,335.8L28.5,334.8L27.0,333.9L25.5,333.1L24.0,332.5L22.5,331.9L21.0,331.6Z" fill="#93d2e6"/>
</g>
<path d="M21.0,305.0L22.5,303.9L24.0,302.9L25.5,302.0L27.0,301.2L28.5,300.2L30.0,298.9L31.5,297.5L33.0,296.1L34.5,294.8L36.0,293.4L37.5,292.0L39.0,290.5L40.5,289.0L42.0,287.4L43.5,285.8L45.0,284.1L46.5,282.4L48.0,280.6L49.5,278.7L51.0,276.6L52.5,274.4L54.0,272.1L55.5,269.7L57.0,267.2L58.5,264.6L60.0,262.0L61.5,259.3L63.0,256.6L64.5,253.8L66.0,250.9L67.5,248.0L69.0,245.0L70.5,241.9L72.0,238.8L73.5,235.6L75.0,232.5L76.5,229.3L78.0,226.0L79.5,222.7L81.0,219.3L82.5,215.9L84.0,212.6L85.5,209.3L87.0,206.1L88.5,202.9L90.0,199.8L91.5,196.6L93.0,193.5L94.5,190.5L96.0,187.5L97.5,184.6L99.0,181.8L100.5,179.1L102.0,176.7L103.5,174.3L105.0,172.1L106.5,169.8L108.0,167.4L109.5,164.7L111.0,161.6L112.5,157.8L114.0,153.9L115.5,150.3L117.0,147.4L118.5,145.0L120.0,142.8L121.5,140.7L123.0,138.7L124.5,136.8L126.0,135.2L127.5,134.1L129.0,133.1L130.5,132.3L132.0,131.5L133.5,130.8L135.0,130.0L136.5,129.2L138.0,128.5L139.5,127.8L141.0,127.0L142.5,126.1L144.0,125.0L145.5,124.0L147.0,123.6L148.5,123.2L150.0,123.1L151.5,123.2L153.0,123.3L154.5,123.5L156.0,123.7L157.5,124.0L159.0,124.4L160.5,124.8L162.0,125.4L163.5,126.0L165.0,126.6L166.5,127.3L168.0,128.1L169.5,129.0L171.0,130.3L172.5,132.1L174.0,134.1L175.5,136.2L177.0,138.2L178.5,139.7L180.0,140.8L181.5,141.8L183.0,142.8L184.5,144.0L186.0,145.4L187.5,147.0L189.0,148.8L190.5,150.5L192.0,152.0L193.5,153.7L195.0,155.2L196.5,156.4L198.0,157.1L199.5,157.5L201.0,157.5L202.5,157.3L204.0,157.1L205.5,156.9L207.0,157.1L208.5,158.1L210.0,159.6L211.5,160.8L213.0,161.3L214.5,161.5L216.0,161.6L217.5,161.7L219.0,161.9L220.5,162.2L222.0,162.7L223.5,163.2L225.0,163.8L226.5,164.6L228.0,165.8L229.5,167.0L231.0,168.0L232.5,168.6L234.0,169.2L235.5,169.7L237.0,170.2L238.5,170.8L240.0,171.6L241.5,172.5L243.0,173.4L244.5,174.1L246.0,174.5L247.5,174.9L249.0,175.2L250.5,175.7L252.0,176.6L253.5,177.9L255.0,179.4L256.5,180.7L258.0,181.6L259.5,182.2L261.0,182.7L262.5,183.1L264.0,183.5L265.5,183.8L267.0,184.0L268.5,184.3L270.0,184.6L271.5,185.0L273.0,186.0L274.5,187.2L276.0,188.1L277.5,188.5L279.0,188.8L280.5,189.0L282.0,189.3L283.5,189.7L285.0,190.1L286.5,190.7L288.0,191.3L289.5,191.8L291.0,192.3L292.5,192.8L294.0,193.3L295.5,193.6L297.0,193.8L298.5,193.8L300.0,193.8L301.5,193.9L303.0,193.9L304.5,194.0L306.0,194.4L307.5,195.1L309.0,196.1L310.5,197.3L312.0,197.5L313.5,197.4L315.0,197.4L316.5,197.3L318.0,197.3L319.5,197.3L321.0,197.4L322.5,197.5L324.0,197.6L325.5,197.7L327.0,197.8L328.5,197.8L330.0,197.8L331.5,197.7L333.0,197.7L334.5,197.6L336.0,197.5L337.5,196.9L339.0,195.6L340.5,194.3L342.0,193.4L343.5,192.4L345.0,191.7L346.5,191.5L348.0,191.5L349.5,191.6L351.0,191.7L352.5,191.8L354.0,191.9L355.5,192.0L357.0,192.1L358.5,192.3L360.0,192.4L361.5,192.3L363.0,191.9L364.5,191.2L366.0,190.8L367.5,190.8L369.0,191.4L370.5,192.3L372.0,192.8L373.5,192.9L375.0,192.9L376.5,192.9L378.0,192.9L379.5,192.9L381.0,192.9L382.5,192.5L384.0,191.7L385.5,190.7L387.0,190.0L388.5,189.7L390.0,189.6L391.5,189.4L393.0,189.3L394.5,189.2L396.0,189.0L397.5,188.7L399.0,188.5L400.5,188.2L402.0,187.9L403.5,187.5L405.0,187.2L406.5,186.7L408.0,186.2L409.5,185.7L411.0,185.2L412.5,184.6L414.0,184.1L415.5,183.7L417.0,183.4L418.5,183.1L420.0,182.8L421.5,182.5L423.0,182.4L424.5,182.3L426.0,182.4L427.5,182.7L429.0,183.1L430.5,183.5L432.0,183.9L433.5,184.1L435.0,184.2L436.5,184.3L438.0,184.5L439.5,184.6L441.0,184.8L442.5,185.1L444.0,185.5L445.5,186.1L447.0,186.6L448.5,187.1L450.0,187.4L451.5,187.6L453.0,187.9L454.5,188.0L456.0,188.1L457.5,188.0L459.0,187.9L460.5,187.6L462.0,187.3L463.5,187.0L465.0,186.7L466.5,186.5L468.0,186.3L469.5,186.2L471.0,186.0L472.5,185.9L474.0,185.7L475.5,185.3L477.0,184.6L478.5,183.7L480.0,182.8L481.5,182.1L483.0,181.6L484.5,181.1L486.0,180.7L487.5,180.2L489.0,179.8L490.5,179.2L492.0,178.6L493.5,177.9L495.0,177.1L496.5,176.3L498.0,175.6L499.5,174.7L501.0,173.9L502.5,173.5L504.0,173.6L505.5,173.8L507.0,174.0L508.5,174.3L510.0,174.5L511.5,174.5L513.0,174.0L514.5,173.2L516.0,172.4L517.5,171.5L519.0,170.5L520.5,169.5L522.0,168.7L523.5,168.3L525.0,168.0L526.5,167.7L528.0,167.5L529.5,167.3L531.0,166.9L532.5,166.3L534.0,165.4L535.5,164.4L537.0,163.0L538.5,161.0L540.0,159.2L541.5,158.4L543.0,157.9L544.5,157.6L546.0,157.3L547.5,157.0L549.0,156.7L550.5,156.2L552.0,155.5L553.5,154.9L555.0,154.3L556.5,153.9L558.0,153.8L559.5,153.7L561.0,153.7L562.5,153.6L564.0,153.6L565.5,153.6L567.0,153.6L568.5,153.7L570.0,153.7L571.5,153.8L573.0,153.9L574.5,154.0L576.0,154.1L577.5,154.1L579.0,154.1L580.5,154.1L582.0,154.0L583.5,154.0L585.0,153.9L586.5,153.8L588.0,153.7L589.5,153.6L591.0,153.1L592.5,152.0L594.0,151.0L595.5,150.6L597.0,150.2L598.5,149.9L600.0,149.7L601.5,149.5L603.0,149.3L604.5,149.1L606.0,148.9L607.5,148.7L609.0,148.4L610.5,148.1L612.0,147.6L613.5,146.8L615.0,146.0L616.5,145.3L618.0,145.0L619.5,145.0L621.0,145.1L622.5,145.1L624.0,145.3L625.5,145.4L627.0,145.5L628.5,145.7L630.0,145.9L631.5,146.1L633.0,146.3L634.5,146.7L636.0,147.3L637.5,148.0L639.0,148.8L640.5,149.7L642.0,150.4L643.5,151.0L645.0,151.5L646.5,151.8L648.0,152.1L649.5,152.4L651.0,152.7L652.5,153.0L654.0,153.2L655.5,153.5L657.0,153.8L658.5,154.0L660.0,154.2L661.5,154.4L663.0,154.6L664.5,154.9L666.0,155.2L667.5,155.8L669.0,156.5L670.5,157.2L672.0,157.7L673.5,158.0L675.0,158.3L676.5,158.6L678.0,158.9L679.5,159.1L681.0,159.4L682.5,159.6L684.0,159.8L685.5,160.1L687.0,160.5L688.5,160.8L690.0,161.1L691.5,161.4L693.0,161.5L694.5,161.6L696.0,161.2L697.5,160.6L699.0,160.2L700.5,160.2L702.0,160.4L703.5,160.7L705.0,161.1L706.5,161.4L708.0,161.8L709.5,162.1L711.0,162.4L712.5,162.6L714.0,162.8L715.5,163.0L717.0,163.2L718.5,163.4L720.0,163.6L721.5,163.8L723.0,163.9L724.5,164.1L726.0,164.3L727.5,164.5L729.0,164.8L730.5,165.8L732.0,167.7L733.5,169.8L735.0,171.3L736.5,171.5L738.0,171.4L739.5,171.2L741.0,171.0L742.5,170.8L744.0,170.7L745.5,170.8L747.0,171.1L748.5,171.2L750.0,171.1L751.5,171.0L753.0,170.8L754.5,170.6L756.0,170.3L757.5,169.5L759.0,168.0L760.5,166.2L762.0,164.9L763.5,164.6L765.0,165.1L766.5,165.9L768.0,166.7L769.5,167.5L771.0,167.9L772.5,167.9L774.0,167.7L775.5,167.5L777.0,167.3L778.5,167.1L780.0,166.9L781.5,166.9L783.0,166.9L784.5,167.0L786.0,167.1L787.5,167.2L789.0,167.3L790.5,167.4L792.0,167.3L793.5,166.7L795.0,165.8L796.5,165.0L798.0,164.6L799.5,164.5L801.0,164.4L802.5,164.3L804.0,164.2L805.5,164.2L807.0,164.1L808.5,164.1L810.0,164.1L811.5,164.2L813.0,164.4L814.5,164.7L816.0,165.0L817.5,165.3L819.0,165.6L820.5,165.9L822.0,166.1L823.5,166.4L825.0,166.7L826.5,166.9L828.0,167.2L829.5,167.5L831.0,167.9L832.5,168.3L834.0,168.9L835.5,169.5L837.0,169.9L838.5,169.9L840.0,169.6L841.5,169.3L843.0,169.1L844.5,169.0L846.0,169.3L847.5,169.8L849.0,170.3L850.5,170.7L852.0,170.6L853.5,170.4L855.0,169.9L856.5,169.4L858.0,169.0L859.5,168.6L861.0,168.5L862.5,168.5L864.0,168.5L865.5,168.5L867.0,168.5L868.5,168.5L870.0,168.5L871.5,168.5L873.0,168.8L874.5,169.3L876.0,169.9L877.5,170.5L879.0,170.9L880.5,171.2L882.0,171.1L883.5,170.9L885.0,170.6L886.5,170.2L888.0,169.8L889.5,169.4L891.0,168.9L892.5,168.4L894.0,167.8L895.5,167.1L897.0,166.4L898.5,165.6L900.0,164.6L901.5,163.3L903.0,162.0L904.5,160.8L906.0,159.8L907.5,158.8L909.0,157.7L910.5,156.8L912.0,156.0L913.5,155.4L915.0,155.0L916.5,154.9L918.0,154.6L919.5,154.1L921.0,153.2L922.5,152.3L924.0,151.4L925.5,150.5L927.0,149.7L928.5,148.7L930.0,147.8L931.5,146.8L933.0,145.9L934.5,144.9L936.0,143.9L937.5,142.8L939.0,141.8L940.5,140.8L942.0,139.8L943.5,138.8L945.0,137.7L946.5,136.6L948.0,135.5L949.5,134.2L951.0,132.9L952.5,131.5L954.0,129.9L955.5,128.1L957.0,126.0L958.5,123.7L960.0,121.4L961.5,118.7L963.0,116.0L964.5,113.9L966.0,112.1L967.5,110.5L969.0,108.9L970.5,107.5L972.0,106.4L973.5,105.7L975.0,105.2L976.5,104.5L978.0,102.7L979.5,100.4L981.0,97.9L982.5,95.8L984.0,94.1L985.5,92.9L985.5,542.0L984.0,540.7L982.5,539.5L981.0,538.3L979.5,537.0L978.0,535.8L976.5,534.6L975.0,533.5L973.5,532.5L972.0,531.4L970.5,530.2L969.0,528.9L967.5,527.5L966.0,525.8L964.5,523.7L963.0,521.2L961.5,518.6L960.0,515.9L958.5,513.4L957.0,511.2L955.5,509.3L954.0,507.8L952.5,506.3L951.0,504.9L949.5,503.7L948.0,502.5L946.5,501.3L945.0,500.2L943.5,499.1L942.0,497.9L940.5,496.8L939.0,495.6L937.5,494.5L936.0,493.3L934.5,492.2L933.0,491.0L931.5,490.0L930.0,488.9L928.5,488.0L927.0,487.1L925.5,486.4L924.0,485.7L922.5,485.1L921.0,484.6L919.5,484.2L918.0,483.7L916.5,483.2L915.0,482.7L913.5,482.2L912.0,481.6L910.5,480.9L909.0,480.0L907.5,478.8L906.0,477.6L904.5,476.2L903.0,474.8L901.5,473.5L900.0,472.2L898.5,471.1L897.0,470.2L895.5,469.6L894.0,469.1L892.5,468.7L891.0,468.2L889.5,467.8L888.0,467.4L886.5,467.1L885.0,466.8L883.5,466.6L882.0,466.5L880.5,466.5L879.0,466.6L877.5,466.8L876.0,467.0L874.5,467.3L873.0,467.7L871.5,468.0L870.0,468.3L868.5,468.6L867.0,468.7L865.5,468.7L864.0,468.7L862.5,468.5L861.0,468.2L859.5,467.9L858.0,467.6L856.5,467.2L855.0,466.9L853.5,466.7L852.0,466.5L850.5,466.5L849.0,466.7L847.5,467.0L846.0,467.4L844.5,467.7L843.0,467.8L841.5,467.5L840.0,467.0L838.5,467.1L837.0,467.5L835.5,468.0L834.0,468.5L832.5,468.9L831.0,469.2L829.5,469.5L828.0,469.9L826.5,470.2L825.0,470.5L823.5,470.8L822.0,471.1L820.5,471.3L819.0,471.6L817.5,471.7L816.0,471.9L814.5,472.0L813.0,472.0L811.5,472.0L810.0,472.0L808.5,472.0L807.0,472.0L805.5,472.0L804.0,472.0L802.5,472.0L801.0,472.0L799.5,472.0L798.0,472.0L796.5,471.9L795.0,471.8L793.5,471.6L792.0,471.3L790.5,471.0L789.0,470.7L787.5,470.4L786.0,470.2L784.5,470.1L783.0,470.0L781.5,470.0L780.0,470.0L778.5,470.0L777.0,470.0L775.5,470.0L774.0,470.0L772.5,470.0L771.0,470.0L769.5,470.0L768.0,470.0L766.5,470.2L765.0,470.5L763.5,470.8L762.0,471.0L760.5,470.7L759.0,469.8L757.5,468.7L756.0,467.4L754.5,466.4L753.0,465.7L751.5,465.5L750.0,465.5L748.5,465.5L747.0,465.6L745.5,465.6L744.0,465.6L742.5,465.7L741.0,465.8L739.5,465.9L738.0,465.9L736.5,466.1L735.0,466.5L733.5,467.2L732.0,468.1L730.5,469.1L729.0,470.1L727.5,471.1L726.0,471.9L724.5,472.5L723.0,472.9L721.5,473.3L720.0,473.6L718.5,473.9L717.0,474.2L715.5,474.5L714.0,474.7L712.5,474.9L711.0,475.1L709.5,475.3L708.0,475.5L706.5,475.6L705.0,475.8L703.5,475.9L702.0,476.0L700.5,476.2L699.0,476.3L697.5,476.4L696.0,476.6L694.5,476.7L693.0,476.9L691.5,477.1L690.0,477.3L688.5,477.5L687.0,477.7L685.5,478.0L684.0,478.2L682.5,478.5L681.0,478.8L679.5,479.0L678.0,479.3L676.5,479.6L675.0,479.9L673.5,480.2L672.0,480.5L670.5,480.9L669.0,481.2L667.5,481.5L666.0,481.9L664.5,482.2L663.0,482.6L661.5,482.9L660.0,483.2L658.5,483.5L657.0,483.8L655.5,484.0L654.0,484.2L652.5,484.4L651.0,484.6L649.5,484.8L648.0,485.0L646.5,485.3L645.0,485.5L643.5,485.7L642.0,486.0L640.5,486.3L639.0,486.8L637.5,487.3L636.0,487.8L634.5,488.4L633.0,488.9L631.5,489.3L630.0,489.7L628.5,489.9L627.0,490.0L625.5,490.0L624.0,489.9L622.5,489.8L621.0,489.7L619.5,489.6L618.0,489.4L616.5,489.3L615.0,489.1L613.5,488.9L612.0,488.8L610.5,488.5L609.0,488.3L607.5,488.0L606.0,487.7L604.5,487.3L603.0,487.0L601.5,486.7L600.0,486.3L598.5,486.0L597.0,485.8L595.5,485.6L594.0,485.5L592.5,485.4L591.0,485.3L589.5,485.2L588.0,485.1L586.5,485.1L585.0,485.0L583.5,484.9L582.0,484.9L580.5,484.8L579.0,484.8L577.5,484.7L576.0,484.6L574.5,484.5L573.0,484.4L571.5,484.3L570.0,484.1L568.5,484.0L567.0,483.8L565.5,483.7L564.0,483.5L562.5,483.3L561.0,483.1L559.5,482.9L558.0,482.7L556.5,482.4L555.0,482.2L553.5,481.9L552.0,481.6L550.5,481.2L549.0,480.9L547.5,480.5L546.0,480.0L544.5,479.6L543.0,479.1L541.5,478.6L540.0,477.9L538.5,477.2L537.0,476.3L535.5,475.4L534.0,474.4L532.5,473.4L531.0,472.4L529.5,471.5L528.0,470.6L526.5,469.7L525.0,468.9L523.5,468.0L522.0,467.2L520.5,466.3L519.0,465.5L517.5,464.7L516.0,464.0L514.5,463.4L513.0,462.8L511.5,462.4L510.0,462.0L508.5,461.6L507.0,461.3L505.5,461.0L504.0,460.8L502.5,460.6L501.0,460.3L499.5,460.1L498.0,459.8L496.5,459.5L495.0,459.1L493.5,458.8L492.0,458.2L490.5,457.6L489.0,456.9L487.5,456.0L486.0,455.2L484.5,454.3L483.0,453.5L481.5,452.7L480.0,452.1L478.5,451.5L477.0,451.1L475.5,451.0L474.0,450.8L472.5,450.7L471.0,450.6L469.5,450.5L468.0,450.4L466.5,450.3L465.0,450.2L463.5,450.2L462.0,450.1L460.5,450.1L459.0,450.0L457.5,450.0L456.0,450.0L454.5,450.0L453.0,450.2L451.5,450.3L450.0,450.5L448.5,450.8L447.0,451.1L445.5,451.3L444.0,451.6L442.5,451.9L441.0,452.1L439.5,452.3L438.0,452.4L436.5,452.5L435.0,452.5L433.5,452.5L432.0,452.5L430.5,452.5L429.0,452.5L427.5,452.5L426.0,452.5L424.5,452.5L423.0,452.5L421.5,452.5L420.0,452.5L418.5,452.5L417.0,452.5L415.5,452.3L414.0,452.2L412.5,451.9L411.0,451.7L409.5,451.4L408.0,451.0L406.5,450.6L405.0,450.3L403.5,449.9L402.0,449.5L400.5,449.2L399.0,448.9L397.5,448.5L396.0,448.2L394.5,447.8L393.0,447.4L391.5,446.9L390.0,446.5L388.5,446.1L387.0,445.7L385.5,445.4L384.0,445.2L382.5,445.1L381.0,445.0L379.5,445.0L378.0,445.0L376.5,445.0L375.0,445.0L373.5,445.0L372.0,445.0L370.5,445.0L369.0,445.0L367.5,445.0L366.0,445.0L364.5,445.0L363.0,444.9L361.5,444.9L360.0,444.9L358.5,444.9L357.0,445.0L355.5,445.1L354.0,445.2L352.5,445.4L351.0,445.5L349.5,445.6L348.0,445.7L346.5,445.7L345.0,445.5L343.5,444.8L342.0,443.9L340.5,442.9L339.0,442.2L337.5,441.4L336.0,440.7L334.5,440.1L333.0,439.9L331.5,439.9L330.0,440.0L328.5,440.1L327.0,440.2L325.5,440.2L324.0,440.3L322.5,440.3L321.0,440.3L319.5,440.2L318.0,440.1L316.5,440.0L315.0,439.9L313.5,439.9L312.0,440.1L310.5,440.9L309.0,441.9L307.5,442.9L306.0,443.3L304.5,443.5L303.0,443.6L301.5,443.7L300.0,443.7L298.5,443.8L297.0,443.8L295.5,443.9L294.0,444.0L292.5,444.2L291.0,444.5L289.5,444.9L288.0,445.5L286.5,446.1L285.0,446.7L283.5,447.2L282.0,447.7L280.5,448.2L279.0,448.7L277.5,449.2L276.0,449.7L274.5,450.2L273.0,450.7L271.5,451.3L270.0,451.9L268.5,452.6L267.0,453.2L265.5,453.8L264.0,454.4L262.5,455.0L261.0,455.5L259.5,456.1L258.0,456.7L256.5,457.4L255.0,458.1L253.5,459.1L252.0,460.0L250.5,461.0L249.0,461.9L247.5,462.7L246.0,463.5L244.5,464.2L243.0,464.9L241.5,465.5L240.0,466.0L238.5,466.3L237.0,466.5L235.5,466.8L234.0,467.1L232.5,467.6L231.0,468.1L229.5,468.7L228.0,469.5L226.5,470.5L225.0,471.4L223.5,472.3L222.0,473.1L220.5,473.7L219.0,474.1L217.5,474.4L216.0,474.7L214.5,475.0L213.0,475.5L211.5,476.2L210.0,477.0L208.5,477.8L207.0,478.7L205.5,479.5L204.0,479.7L202.5,479.6L201.0,479.4L199.5,479.2L198.0,479.3L196.5,479.9L195.0,480.8L193.5,481.9L192.0,483.4L190.5,485.2L189.0,487.0L187.5,488.7L186.0,490.3L184.5,492.0L183.0,493.5L181.5,495.0L180.0,496.5L178.5,498.0L177.0,499.7L175.5,501.4L174.0,503.0L172.5,504.7L171.0,506.3L169.5,507.5L168.0,508.4L166.5,509.2L165.0,509.8L163.5,510.4L162.0,511.1L160.5,511.7L159.0,512.2L157.5,512.5L156.0,512.7L154.5,512.8L153.0,512.9L151.5,513.0L150.0,513.0L148.5,512.7L147.0,512.1L145.5,511.3L144.0,510.4L142.5,509.3L141.0,508.2L139.5,507.3L138.0,506.5L136.5,505.8L135.0,505.1L133.5,504.4L132.0,503.6L130.5,502.7L129.0,501.6L127.5,500.4L126.0,499.0L124.5,497.6L123.0,495.9L121.5,494.1L120.0,492.1L118.5,489.8L117.0,487.4L115.5,484.9L114.0,482.3L112.5,479.7L111.0,477.2L109.5,474.7L108.0,472.2L106.5,469.6L105.0,466.9L103.5,464.3L102.0,461.6L100.5,458.8L99.0,456.0L97.5,453.2L96.0,450.4L94.5,447.5L93.0,444.5L91.5,441.5L90.0,438.5L88.5,435.4L87.0,432.2L85.5,428.8L84.0,425.3L82.5,421.6L81.0,418.0L79.5,414.5L78.0,411.2L76.5,408.1L75.0,405.1L73.5,402.2L72.0,399.2L70.5,396.2L69.0,393.2L67.5,390.2L66.0,387.2L64.5,384.4L63.0,381.7L61.5,379.0L60.0,376.4L58.5,373.9L57.0,371.5L55.5,369.2L54.0,366.8L52.5,364.4L51.0,361.9L49.5,359.4L48.0,357.1L46.5,354.9L45.0,352.9L43.5,351.0L42.0,349.1L40.5,347.3L39.0,345.4L37.5,343.5L36.0,341.8L34.5,340.1L33.0,338.6L31.5,337.1L30.0,335.8L28.5,334.8L27.0,333.9L25.5,333.1L24.0,332.5L22.5,331.9L21.0,331.6Z" fill="none" stroke="#fff6ee" stroke-width="1.25" stroke-linejoin="round"/>
<line x1="150.3" y1="128.7" x2="150.3" y2="505.8" stroke="#fff" stroke-width="1.3"/>
<path d="M150.3,124.5L147.0,131.5L153.60000000000002,131.5Z" fill="#fff"/>
<path d="M150.3,510L147.0,503L153.60000000000002,503Z" fill="#fff"/>
<line x1="979.1" y1="109.78" x2="979.1" y2="288.12" stroke="#fff" stroke-width="1.1"/>
<path d="M979.1,105.7L976.2,112.5L982.0,112.5Z" fill="#fff"/>
<path d="M979.1,292.2L976.2,285.4L982.0,285.4Z" fill="#fff"/>
<line x1="979.1" y1="297.68" x2="979.1" y2="363.92" stroke="#fff" stroke-width="1.1"/>
<path d="M979.1,293.6L976.2,300.40000000000003L982.0,300.40000000000003Z" fill="#fff"/>
<path d="M979.1,368L976.2,361.2L982.0,361.2Z" fill="#fff"/>
<g fill="none" stroke="#ffffff" stroke-width="0.8">
<path d="M313,229 Q326,229 333,238"/>
<path d="M291,357.5 Q301,356 306,345.5"/>
</g>
<g fill="none" stroke="#33302e" stroke-width="1.2">
<path d="M122.5,496 L133.5,492.3"/>
<path d="M520,466 Q526,454 529,440.5"/>
<path d="M652,483.5 Q652.3,476 653,468.5"/>
</g>
<line x1="17.25" y1="542.7" x2="994.75" y2="542.7" stroke="#d3c9bf" stroke-width="1.6"/>
<path d="M21.25,542.7v7M25.30,542.7v7M29.35,542.7v7M33.41,542.7v7M37.46,542.7v7M41.51,542.7v7M45.56,542.7v7M49.61,542.7v7M53.67,542.7v7M57.72,542.7v7M61.77,542.7v7M65.82,542.7v7M69.87,542.7v7M73.92,542.7v7M77.98,542.7v7M82.03,542.7v7M86.08,542.7v7M90.13,542.7v13M94.18,542.7v7M98.24,542.7v7M102.29,542.7v7M106.34,542.7v7M110.39,542.7v7M114.44,542.7v7M118.50,542.7v7M122.55,542.7v7M126.60,542.7v7M130.65,542.7v7M134.70,542.7v7M138.75,542.7v7M142.81,542.7v7M146.86,542.7v7M150.91,542.7v7M154.96,542.7v7M159.01,542.7v7M163.07,542.7v7M167.12,542.7v7M171.17,542.7v7M175.22,542.7v7M179.27,542.7v7M183.33,542.7v7M187.38,542.7v7M191.43,542.7v7M195.48,542.7v7M199.53,542.7v7M203.59,542.7v7M207.64,542.7v7M211.69,542.7v13M215.74,542.7v7M219.79,542.7v7M223.84,542.7v7M227.90,542.7v7M231.95,542.7v7M236.00,542.7v7M240.05,542.7v7M244.10,542.7v7M248.16,542.7v7M252.21,542.7v7M256.26,542.7v7M260.31,542.7v7M264.36,542.7v7M268.42,542.7v7M272.47,542.7v7M276.52,542.7v7M280.57,542.7v7M284.62,542.7v7M288.67,542.7v7M292.73,542.7v7M296.78,542.7v7M300.83,542.7v7M304.88,542.7v7M308.93,542.7v7M312.99,542.7v7M317.04,542.7v7M321.09,542.7v7M325.14,542.7v7M329.19,542.7v7M333.25,542.7v7M337.30,542.7v13M341.35,542.7v7M345.40,542.7v7M349.45,542.7v7M353.51,542.7v7M357.56,542.7v7M361.61,542.7v7M365.66,542.7v7M369.71,542.7v7M373.76,542.7v7M377.82,542.7v7M381.87,542.7v7M385.92,542.7v7M389.97,542.7v7M394.02,542.7v7M398.08,542.7v7M402.13,542.7v7M406.18,542.7v7M410.23,542.7v7M414.28,542.7v7M418.34,542.7v7M422.39,542.7v7M426.44,542.7v7M430.49,542.7v7M434.54,542.7v7M438.59,542.7v7M442.65,542.7v7M446.70,542.7v7M450.75,542.7v7M454.80,542.7v7M458.85,542.7v13M462.91,542.7v7M466.96,542.7v7M471.01,542.7v7M475.06,542.7v7M479.11,542.7v7M483.17,542.7v7M487.22,542.7v7M491.27,542.7v7M495.32,542.7v7M499.37,542.7v7M503.43,542.7v7M507.48,542.7v7M511.53,542.7v7M515.58,542.7v7M519.63,542.7v7M523.68,542.7v7M527.74,542.7v7M531.79,542.7v7M535.84,542.7v7M539.89,542.7v7M543.94,542.7v7M548.00,542.7v7M552.05,542.7v7M556.10,542.7v7M560.15,542.7v7M564.20,542.7v7M568.26,542.7v7M572.31,542.7v7M576.36,542.7v7M580.41,542.7v7M584.46,542.7v13M588.51,542.7v7M592.57,542.7v7M596.62,542.7v7M600.67,542.7v7M604.72,542.7v7M608.77,542.7v7M612.83,542.7v7M616.88,542.7v7M620.93,542.7v7M624.98,542.7v7M629.03,542.7v7M633.09,542.7v7M637.14,542.7v7M641.19,542.7v7M645.24,542.7v7M649.29,542.7v7M653.34,542.7v7M657.40,542.7v7M661.45,542.7v7M665.50,542.7v7M669.55,542.7v7M673.60,542.7v7M677.66,542.7v7M681.71,542.7v7M685.76,542.7v7M689.81,542.7v7M693.86,542.7v7M697.92,542.7v7M701.97,542.7v7M706.02,542.7v7M710.07,542.7v13M714.12,542.7v7M718.18,542.7v7M722.23,542.7v7M726.28,542.7v7M730.33,542.7v7M734.38,542.7v7M738.43,542.7v7M742.49,542.7v7M746.54,542.7v7M750.59,542.7v7M754.64,542.7v7M758.69,542.7v7M762.75,542.7v7M766.80,542.7v7M770.85,542.7v7M774.90,542.7v7M778.95,542.7v7M783.01,542.7v7M787.06,542.7v7M791.11,542.7v7M795.16,542.7v7M799.21,542.7v7M803.26,542.7v7M807.32,542.7v7M811.37,542.7v7M815.42,542.7v7M819.47,542.7v7M823.52,542.7v7M827.58,542.7v7M831.63,542.7v13M835.68,542.7v7M839.73,542.7v7M843.78,542.7v7M847.84,542.7v7M851.89,542.7v7M855.94,542.7v7M859.99,542.7v7M864.04,542.7v7M868.10,542.7v7M872.15,542.7v7M876.20,542.7v7M880.25,542.7v7M884.30,542.7v7M888.35,542.7v7M892.41,542.7v7M896.46,542.7v7M900.51,542.7v7M904.56,542.7v7M908.61,542.7v7M912.67,542.7v7M916.72,542.7v7M920.77,542.7v7M924.82,542.7v7M928.87,542.7v7M932.93,542.7v7M936.98,542.7v7M941.03,542.7v7M945.08,542.7v7M949.13,542.7v7M953.18,542.7v13M957.24,542.7v7M961.29,542.7v7M965.34,542.7v7M969.39,542.7v7M973.44,542.7v7M977.50,542.7v7M981.55,542.7v7M985.60,542.7v7" stroke="#d3c9bf" stroke-width="1.6" fill="none"/>
<line x1="17.25" y1="745" x2="994.75" y2="745" stroke="#d3c9bf" stroke-width="1.6"/>
<path d="M21.25,745v7M25.30,745v7M29.35,745v7M33.41,745v7M37.46,745v7M41.51,745v7M45.56,745v7M49.61,745v7M53.67,745v7M57.72,745v7M61.77,745v7M65.82,745v7M69.87,745v7M73.92,745v7M77.98,745v7M82.03,745v7M86.08,745v7M90.13,745v13M94.18,745v7M98.24,745v7M102.29,745v7M106.34,745v7M110.39,745v7M114.44,745v7M118.50,745v7M122.55,745v7M126.60,745v7M130.65,745v7M134.70,745v7M138.75,745v7M142.81,745v7M146.86,745v7M150.91,745v7M154.96,745v7M159.01,745v7M163.07,745v7M167.12,745v7M171.17,745v7M175.22,745v7M179.27,745v7M183.33,745v7M187.38,745v7M191.43,745v7M195.48,745v7M199.53,745v7M203.59,745v7M207.64,745v7M211.69,745v13M215.74,745v7M219.79,745v7M223.84,745v7M227.90,745v7M231.95,745v7M236.00,745v7M240.05,745v7M244.10,745v7M248.16,745v7M252.21,745v7M256.26,745v7M260.31,745v7M264.36,745v7M268.42,745v7M272.47,745v7M276.52,745v7M280.57,745v7M284.62,745v7M288.67,745v7M292.73,745v7M296.78,745v7M300.83,745v7M304.88,745v7M308.93,745v7M312.99,745v7M317.04,745v7M321.09,745v7M325.14,745v7M329.19,745v7M333.25,745v7M337.30,745v13M341.35,745v7M345.40,745v7M349.45,745v7M353.51,745v7M357.56,745v7M361.61,745v7M365.66,745v7M369.71,745v7M373.76,745v7M377.82,745v7M381.87,745v7M385.92,745v7M389.97,745v7M394.02,745v7M398.08,745v7M402.13,745v7M406.18,745v7M410.23,745v7M414.28,745v7M418.34,745v7M422.39,745v7M426.44,745v7M430.49,745v7M434.54,745v7M438.59,745v7M442.65,745v7M446.70,745v7M450.75,745v7M454.80,745v7M458.85,745v13M462.91,745v7M466.96,745v7M471.01,745v7M475.06,745v7M479.11,745v7M483.17,745v7M487.22,745v7M491.27,745v7M495.32,745v7M499.37,745v7M503.43,745v7M507.48,745v7M511.53,745v7M515.58,745v7M519.63,745v7M523.68,745v7M527.74,745v7M531.79,745v7M535.84,745v7M539.89,745v7M543.94,745v7M548.00,745v7M552.05,745v7M556.10,745v7M560.15,745v7M564.20,745v7M568.26,745v7M572.31,745v7M576.36,745v7M580.41,745v7M584.46,745v13M588.51,745v7M592.57,745v7M596.62,745v7M600.67,745v7M604.72,745v7M608.77,745v7M612.83,745v7M616.88,745v7M620.93,745v7M624.98,745v7M629.03,745v7M633.09,745v7M637.14,745v7M641.19,745v7M645.24,745v7M649.29,745v7M653.34,745v7M657.40,745v7M661.45,745v7M665.50,745v7M669.55,745v7M673.60,745v7M677.66,745v7M681.71,745v7M685.76,745v7M689.81,745v7M693.86,745v7M697.92,745v7M701.97,745v7M706.02,745v7M710.07,745v13M714.12,745v7M718.18,745v7M722.23,745v7M726.28,745v7M730.33,745v7M734.38,745v7M738.43,745v7M742.49,745v7M746.54,745v7M750.59,745v7M754.64,745v7M758.69,745v7M762.75,745v7M766.80,745v7M770.85,745v7M774.90,745v7M778.95,745v7M783.01,745v7M787.06,745v7M791.11,745v7M795.16,745v7M799.21,745v7M803.26,745v7M807.32,745v7M811.37,745v7M815.42,745v7M819.47,745v7M823.52,745v7M827.58,745v7M831.63,745v13M835.68,745v7M839.73,745v7M843.78,745v7M847.84,745v7M851.89,745v7M855.94,745v7M859.99,745v7M864.04,745v7M868.10,745v7M872.15,745v7M876.20,745v7M880.25,745v7M884.30,745v7M888.35,745v7M892.41,745v7M896.46,745v7M900.51,745v7M904.56,745v7M908.61,745v7M912.67,745v7M916.72,745v7M920.77,745v7M924.82,745v7M928.87,745v7M932.93,745v7M936.98,745v7M941.03,745v7M945.08,745v7M949.13,745v7M953.18,745v13M957.24,745v7M961.29,745v7M965.34,745v7M969.39,745v7M973.44,745v7M977.50,745v7M981.55,745v7M985.60,745v7" stroke="#d3c9bf" stroke-width="1.6" fill="none"/>
<path d="M19.2,609.5V609.5H23.3V609.5H27.3V609.5H31.4V609.5H35.4V609.5H39.5V609.5H43.5V609.5H47.6V609.5H51.6V609.5H55.7V609.5H59.7V609.5H63.8V609.5H67.8V609.5H71.9V609.5H76.0V609.5H80.0V609.5H84.1V609.5H88.1V609.5H92.2V609.5H96.2V609.5H100.3V609.5H104.3V609.5H108.4V609.5H112.4V609.5H116.5V609.5H120.5V609.5H124.6V609.5H128.6V609.5H132.7V609.5H136.7V609.5H140.8V609.5H144.8V609.5H148.9V609.5H152.9V609.5H157.0V609.5H161.0V609.5H165.1V609.5H169.1V609.5H173.2V609.5H177.2V609.5H181.3V609.5H185.4V609.5H189.4V609.5H193.5V609.5H197.5V609.5H201.6V609.5H205.6V609.5H209.7V609.5H213.7V609.5H217.8V609.5H221.8V609.5H225.9V609.5H229.9V609.5H234.0V609.5H238.0V609.5H242.1V609.5H246.1V609.5H250.2V609.5H254.2V609.5H258.3V609.5H262.3V609.5H266.4V609.5H270.4V609.5H274.5V609.5H278.5V609.5H282.6V609.5H286.6V609.5H290.7V609.5H294.8V609.5H298.8V609.5H302.9V609.5H306.9V609.5H311.0V609.5H315.0V609.5H319.1V609.5H323.1V609.5H327.2V609.5H331.2V609.5H335.3V609.5H339.3V609.5H343.4V609.5H347.4V609.5H351.5V609.5H355.5V609.5H359.6V609.5H363.6V609.5H367.7V609.5H371.7V609.5H375.8V609.5H379.8V609.5H383.9V609.5H387.9V609.5H392.0V609.5H396.0V609.5H400.1V609.5H404.2V609.5H408.2V609.5H412.3V609.5H416.3V609.5H420.4V609.5H424.4V609.5H428.5V609.5H432.5V609.5H436.6V609.5H440.6V609.5H444.7V609.5H448.7V609.5H452.8V609.5H456.8V609.5H460.9V609.5H464.9V609.5H469.0V609.5H473.0V609.5H477.1V609.5H481.1V609.5H485.2V609.5H489.2V609.5H493.3V609.5H497.3V609.5H501.4V609.5H505.5V609.5H509.5V609.5H513.6V609.5H517.6V609.5H521.7V609.5H525.7V609.5H529.8V609.5H533.8V609.5H537.9V609.5H541.9V609.5H546.0V609.5H550.0V609.5H554.1V609.5H558.1V609.5H562.2V609.5H566.2V609.5H570.3V609.5H574.3V609.5H578.4V609.5H582.4V609.5H586.5V609.5H590.5V609.5H594.6V609.5H598.6V609.5H602.7V609.5H606.7V609.5H610.8V609.5H614.9V609.5H618.9V609.5H623.0V609.5H627.0V609.5H631.1V609.5H635.1V609.5H639.2V609.5H643.2V609.5H647.3V609.5H651.3V609.5H655.4V609.5H659.4V609.5H663.5V609.5H667.5V609.5H671.6V609.5H675.6V609.5H679.7V609.5H683.7V609.5H687.8V609.5H691.8V609.5H695.9V609.5H699.9V609.5H704.0V609.5H708.0V609.5H712.1V609.5H716.1V609.5H720.2V609.5H724.3V609.5H728.3V609.5H732.4V609.5H736.4V609.5H740.5V609.5H744.5V609.5H748.6V609.5H752.6V609.5H756.7V609.5H760.7V609.5H764.8V609.5H768.8V609.5H772.9V609.5H776.9V609.5H781.0V609.5H785.0V609.5H789.1V609.5H793.1V609.5H797.2V609.5H801.2V609.5H805.3V609.5H809.3V609.5H813.4V609.5H817.4V609.5H821.5V609.5H825.6V609.5H829.6V609.5H833.7V609.5H837.7V609.5H841.8V609.5H845.8V609.5H849.9V609.5H853.9V609.5H858.0V609.5H862.0V609.5H866.1V609.5H870.1V609.5H874.2V609.5H878.2V609.5H882.3V609.5H886.3V609.5H890.4V609.5H894.4V609.5H898.5V609.5H902.5V609.5H906.6V609.5H910.6V609.5H914.7V609.5H918.7V609.5H922.8V609.5H926.8V609.5H930.9V609.5H935.0V609.5H939.0V609.5H943.1V609.5H947.1V609.5H951.2V609.5H955.2V609.5H959.3V609.5H963.3V609.5H967.4V609.5H971.4V609.5H975.5V609.5H979.5V609.5H983.6V609.5H987.6V734.0V734.0H983.6V734.0H979.5V734.0H975.5V734.0H971.4V734.0H967.4V734.0H963.3V734.0H959.3V734.0H955.2V734.0H951.2V734.0H947.1V734.0H943.1V734.0H939.0V734.0H935.0V734.0H930.9V734.0H926.8V734.0H922.8V734.0H918.7V734.0H914.7V734.0H910.6V734.0H906.6V734.0H902.5V734.0H898.5V734.0H894.4V734.0H890.4V734.0H886.3V734.0H882.3V734.0H878.2V734.0H874.2V734.0H870.1V734.0H866.1V734.0H862.0V734.0H858.0V734.0H853.9V734.0H849.9V734.0H845.8V734.0H841.8V734.0H837.7V734.0H833.7V734.0H829.6V734.0H825.6V734.0H821.5V734.0H817.4V734.0H813.4V734.0H809.3V734.0H805.3V734.0H801.2V734.0H797.2V734.0H793.1V734.0H789.1V734.0H785.0V734.0H781.0V734.0H776.9V734.0H772.9V734.0H768.8V734.0H764.8V734.0H760.7V734.0H756.7V734.0H752.6V734.0H748.6V734.0H744.5V734.0H740.5V734.0H736.4V734.0H732.4V734.0H728.3V734.0H724.3V734.0H720.2V734.0H716.1V734.0H712.1V734.0H708.0V734.0H704.0V734.0H699.9V734.0H695.9V734.0H691.8V734.0H687.8V734.0H683.7V734.0H679.7V734.0H675.6V734.0H671.6V734.0H667.5V734.0H663.5V734.0H659.4V734.0H655.4V734.0H651.3V734.0H647.3V734.0H643.2V734.0H639.2V734.0H635.1V734.0H631.1V734.0H627.0V734.0H623.0V734.0H618.9V734.0H614.9V734.0H610.8V734.0H606.7V734.0H602.7V734.0H598.6V734.0H594.6V734.0H590.5V734.0H586.5V734.0H582.4V734.0H578.4V734.0H574.3V734.0H570.3V734.0H566.2V734.0H562.2V734.0H558.1V734.0H554.1V734.0H550.0V734.0H546.0V734.0H541.9V734.0H537.9V734.0H533.8V734.0H529.8V734.0H525.7V734.0H521.7V734.0H517.6V734.0H513.6V734.0H509.5V734.0H505.5V734.0H501.4V734.0H497.3V734.0H493.3V734.0H489.2V734.0H485.2V734.0H481.1V734.0H477.1V734.0H473.0V734.0H469.0V734.0H464.9V734.0H460.9V734.0H456.8V734.0H452.8V734.0H448.7V734.0H444.7V734.0H440.6V734.0H436.6V734.0H432.5V734.0H428.5V734.0H424.4V734.0H420.4V734.0H416.3V734.0H412.3V734.0H408.2V734.0H404.2V734.0H400.1V734.0H396.0V734.0H392.0V734.0H387.9V734.0H383.9V734.0H379.8V734.0H375.8V734.0H371.7V734.0H367.7V734.0H363.6V734.0H359.6V734.0H355.5V734.0H351.5V734.0H347.4V734.0H343.4V734.0H339.3V734.0H335.3V734.0H331.2V734.0H327.2V734.0H323.1V734.0H319.1V734.0H315.0V734.0H311.0V734.0H306.9V734.0H302.9V734.0H298.8V734.0H294.8V734.0H290.7V734.0H286.6V734.0H282.6V734.0H278.5V734.0H274.5V734.0H270.4V734.0H266.4V734.0H262.3V734.0H258.3V734.0H254.2V734.0H250.2V734.0H246.1V734.0H242.1V734.0H238.0V734.0H234.0V734.0H229.9V734.0H225.9V734.0H221.8V734.0H217.8V734.0H213.7V734.0H209.7V734.0H205.6V734.0H201.6V734.0H197.5V734.0H193.5V734.0H189.4V734.0H185.4V734.0H181.3V734.0H177.2V734.0H173.2V734.0H169.1V734.0H165.1V734.0H161.0V734.0H157.0V734.0H152.9V734.0H148.9V734.0H144.8V734.0H140.8V734.0H136.7V734.0H132.7V734.0H128.6V734.0H124.6V734.0H120.5V734.0H116.5V734.0H112.4V734.0H108.4V734.0H104.3V734.0H100.3V734.0H96.2V734.0H92.2V734.0H88.1V734.0H84.1V734.0H80.0V734.0H76.0V734.0H71.9V734.0H67.8V734.0H63.8V734.0H59.7V734.0H55.7V734.0H51.6V734.0H47.6V734.0H43.5V734.0H39.5V734.0H35.4V734.0H31.4V734.0H27.3V734.0H23.3V734.0H19.2Z" fill="#1f8fce"/>
<path d="M19.2,700.7V700.7H23.3V702.1H27.3V703.5H31.4V705.0H35.4V706.6H39.5V708.1H43.5V709.7H47.6V710.9H51.6V711.8H55.7V712.4H59.7V712.4H63.8V711.8H67.8V711.0H71.9V710.2H76.0V709.3H80.0V708.1H84.1V706.6H88.1V704.9H92.2V703.0H96.2V700.9H100.3V698.8H104.3V696.5H108.4V694.3H112.4V692.4H116.5V690.6H120.5V688.9H124.6V687.2H128.6V685.8H132.7V684.8H136.7V684.0H140.8V683.2H144.8V682.6H148.9V681.8H152.9V681.1H157.0V680.2H161.0V679.3H165.1V678.2H169.1V677.2H173.2V676.2H177.2V675.2H181.3V674.1H185.4V672.9H189.4V671.5H193.5V669.7H197.5V667.7H201.6V665.7H205.6V663.6H209.7V661.8H213.7V660.3H217.8V658.8H221.8V657.5H225.9V656.2H229.9V654.9H234.0V653.7H238.0V652.5H242.1V651.1H246.1V649.9H250.2V649.2H254.2V648.7H258.3V647.6H262.3V646.1H266.4V644.6H270.4V643.3H274.5V642.3H278.5V641.3H282.6V640.3H286.6V639.3H290.7V638.0H294.8V636.9H298.8V636.0H302.9V635.5H306.9V635.1H311.0V634.8H315.0V634.4H319.1V634.0H323.1V633.7H327.2V633.2H331.2V632.6H335.3V631.6H339.3V630.5H343.4V629.6H347.4V629.0H351.5V628.4H355.5V627.9H359.6V627.4H363.6V627.0H367.7V626.6H371.7V626.2H375.8V625.8H379.8V625.4H383.9V625.0H387.9V624.6H392.0V624.2H396.0V623.8H400.1V623.4H404.2V623.0H408.2V622.5H412.3V621.9H416.3V621.4H420.4V620.8H424.4V620.0H428.5V619.5H432.5V619.5H436.6V619.5H440.6V619.5H444.7V619.5H448.7V619.5H452.8V619.5H456.8V619.5H460.9V619.5H464.9V619.5H469.0V619.5H473.0V619.5H477.1V619.5H481.1V619.5H485.2V619.3H489.2V618.9H493.3V618.6H497.3V618.3H501.4V618.0H505.5V618.0H509.5V618.0H513.6V618.0H517.6V617.8H521.7V617.6H525.7V617.4H529.8V617.2H533.8V617.0H537.9V616.9H541.9V616.8H546.0V616.8H550.0V616.7H554.1V616.6H558.1V616.5H562.2V616.4H566.2V616.4H570.3V616.3H574.3V616.3H578.4V616.3H582.4V616.3H586.5V616.2H590.5V616.2H594.6V616.2H598.6V616.2H602.7V616.2H606.7V616.2H610.8V616.2H614.9V616.2H618.9V616.2H623.0V616.2H627.0V616.2H631.1V616.2H635.1V616.3H639.2V616.3H643.2V616.3H647.3V616.3H651.3V616.4H655.4V616.4H659.4V616.5H663.5V616.6H667.5V616.6H671.6V616.7H675.6V616.8H679.7V616.9H683.7V617.0H687.8V617.1H691.8V617.1H695.9V617.2H699.9V617.3H704.0V617.4H708.0V617.5H712.1V617.6H716.1V617.8H720.2V617.9H724.3V618.1H728.3V618.3H732.4V618.5H736.4V618.8H740.5V619.1H744.5V619.3H748.6V619.6H752.6V619.8H756.7V619.9H760.7V620.2H764.8V620.4H768.8V620.8H772.9V621.4H776.9V622.1H781.0V622.5H785.0V622.7H789.1V622.8H793.1V622.9H797.2V623.1H801.2V623.4H805.3V623.8H809.3V624.3H813.4V624.7H817.4V625.1H821.5V625.5H825.6V625.8H829.6V626.1H833.7V626.4H837.7V626.7H841.8V627.1H845.8V627.5H849.9V627.9H853.9V628.5H858.0V629.1H862.0V629.9H866.1V630.8H870.1V631.8H874.2V632.8H878.2V634.0H882.3V635.1H886.3V636.1H890.4V636.8H894.4V637.5H898.5V638.2H902.5V639.1H906.6V640.4H910.6V641.8H914.7V643.3H918.7V644.8H922.8V646.3H926.8V647.9H930.9V649.5H935.0V651.1H939.0V652.8H943.1V654.4H947.1V655.9H951.2V657.3H955.2V658.6H959.3V659.9H963.3V661.3H967.4V662.8H971.4V663.8H975.5V664.3H979.5V664.5H983.6V664.1H987.6V734.0V734.0H983.6V734.0H979.5V734.0H975.5V734.0H971.4V734.0H967.4V734.0H963.3V734.0H959.3V734.0H955.2V734.0H951.2V734.0H947.1V734.0H943.1V734.0H939.0V734.0H935.0V734.0H930.9V734.0H926.8V734.0H922.8V734.0H918.7V734.0H914.7V734.0H910.6V734.0H906.6V734.0H902.5V734.0H898.5V734.0H894.4V734.0H890.4V734.0H886.3V734.0H882.3V734.0H878.2V734.0H874.2V734.0H870.1V734.0H866.1V734.0H862.0V734.0H858.0V734.0H853.9V734.0H849.9V734.0H845.8V734.0H841.8V734.0H837.7V734.0H833.7V734.0H829.6V734.0H825.6V734.0H821.5V734.0H817.4V734.0H813.4V734.0H809.3V734.0H805.3V734.0H801.2V734.0H797.2V734.0H793.1V734.0H789.1V734.0H785.0V734.0H781.0V734.0H776.9V734.0H772.9V734.0H768.8V734.0H764.8V734.0H760.7V734.0H756.7V734.0H752.6V734.0H748.6V734.0H744.5V734.0H740.5V734.0H736.4V734.0H732.4V734.0H728.3V734.0H724.3V734.0H720.2V734.0H716.1V734.0H712.1V734.0H708.0V734.0H704.0V734.0H699.9V734.0H695.9V734.0H691.8V734.0H687.8V734.0H683.7V734.0H679.7V734.0H675.6V734.0H671.6V734.0H667.5V734.0H663.5V734.0H659.4V734.0H655.4V734.0H651.3V734.0H647.3V734.0H643.2V734.0H639.2V734.0H635.1V734.0H631.1V734.0H627.0V734.0H623.0V734.0H618.9V734.0H614.9V734.0H610.8V734.0H606.7V734.0H602.7V734.0H598.6V734.0H594.6V734.0H590.5V734.0H586.5V734.0H582.4V734.0H578.4V734.0H574.3V734.0H570.3V734.0H566.2V734.0H562.2V734.0H558.1V734.0H554.1V734.0H550.0V734.0H546.0V734.0H541.9V734.0H537.9V734.0H533.8V734.0H529.8V734.0H525.7V734.0H521.7V734.0H517.6V734.0H513.6V734.0H509.5V734.0H505.5V734.0H501.4V734.0H497.3V734.0H493.3V734.0H489.2V734.0H485.2V734.0H481.1V734.0H477.1V734.0H473.0V734.0H469.0V734.0H464.9V734.0H460.9V734.0H456.8V734.0H452.8V734.0H448.7V734.0H444.7V734.0H440.6V734.0H436.6V734.0H432.5V734.0H428.5V734.0H424.4V734.0H420.4V734.0H416.3V734.0H412.3V734.0H408.2V734.0H404.2V734.0H400.1V734.0H396.0V734.0H392.0V734.0H387.9V734.0H383.9V734.0H379.8V734.0H375.8V734.0H371.7V734.0H367.7V734.0H363.6V734.0H359.6V734.0H355.5V734.0H351.5V734.0H347.4V734.0H343.4V734.0H339.3V734.0H335.3V734.0H331.2V734.0H327.2V734.0H323.1V734.0H319.1V734.0H315.0V734.0H311.0V734.0H306.9V734.0H302.9V734.0H298.8V734.0H294.8V734.0H290.7V734.0H286.6V734.0H282.6V734.0H278.5V734.0H274.5V734.0H270.4V734.0H266.4V734.0H262.3V734.0H258.3V734.0H254.2V734.0H250.2V734.0H246.1V734.0H242.1V734.0H238.0V734.0H234.0V734.0H229.9V734.0H225.9V734.0H221.8V734.0H217.8V734.0H213.7V734.0H209.7V734.0H205.6V734.0H201.6V734.0H197.5V734.0H193.5V734.0H189.4V734.0H185.4V734.0H181.3V734.0H177.2V734.0H173.2V734.0H169.1V734.0H165.1V734.0H161.0V734.0H157.0V734.0H152.9V734.0H148.9V734.0H144.8V734.0H140.8V734.0H136.7V734.0H132.7V734.0H128.6V734.0H124.6V734.0H120.5V734.0H116.5V734.0H112.4V734.0H108.4V734.0H104.3V734.0H100.3V734.0H96.2V734.0H92.2V734.0H88.1V734.0H84.1V734.0H80.0V734.0H76.0V734.0H71.9V734.0H67.8V734.0H63.8V734.0H59.7V734.0H55.7V734.0H51.6V734.0H47.6V734.0H43.5V734.0H39.5V734.0H35.4V734.0H31.4V734.0H27.3V734.0H23.3V734.0H19.2Z" fill="#b0305d"/>
<path d="M19.2,700.9V700.9H23.3V702.4H27.3V703.9H31.4V705.3H35.4V706.7H39.5V708.1H43.5V709.7H47.6V711.2H51.6V712.5H55.7V713.4H59.7V713.5H63.8V713.1H67.8V712.4H71.9V711.5H76.0V710.5H80.0V709.5H84.1V708.2H88.1V706.7H92.2V705.0H96.2V703.3H100.3V701.4H104.3V699.3H108.4V697.3H112.4V695.4H116.5V693.6H120.5V692.1H124.6V690.9H128.6V689.8H132.7V688.7H136.7V687.7H140.8V687.0H144.8V686.4H148.9V685.9H152.9V685.5H157.0V685.1H161.0V684.7H165.1V684.1H169.1V683.6H173.2V682.8H177.2V682.1H181.3V681.6H185.4V681.1H189.4V681.0H193.5V681.0H197.5V681.0H201.6V680.4H205.6V679.2H209.7V678.6H213.7V678.3H217.8V678.0H221.8V677.2H225.9V676.2H229.9V676.0H234.0V676.0H238.0V676.0H242.1V676.0H246.1V676.0H250.2V676.5H254.2V678.1H258.3V678.9H262.3V679.6H266.4V680.2H270.4V680.7H274.5V681.1H278.5V681.4H282.6V681.8H286.6V682.4H290.7V683.2H294.8V683.9H298.8V684.5H302.9V684.9H306.9V685.2H311.0V685.4H315.0V685.5H319.1V685.2H323.1V684.7H327.2V684.0H331.2V683.3H335.3V682.4H339.3V682.0H343.4V682.8H347.4V684.4H351.5V685.7H355.5V686.0H359.6V685.8H363.6V685.5H367.7V685.1H371.7V684.8H375.8V684.3H379.8V683.9H383.9V683.8H387.9V683.9H392.0V684.2H396.0V684.7H400.1V685.1H404.2V685.8H408.2V686.5H412.3V686.9H416.3V687.0H420.4V687.0H424.4V687.0H428.5V687.0H432.5V687.3H436.6V687.9H440.6V687.9H444.7V687.5H448.7V686.8H452.8V686.1H456.8V685.8H460.9V685.5H464.9V685.3H469.0V685.0H473.0V684.7H477.1V684.4H481.1V684.1H485.2V683.6H489.2V682.6H493.3V681.4H497.3V680.6H501.4V680.5H505.5V680.5H509.5V680.5H513.6V680.1H517.6V679.0H521.7V677.8H525.7V676.9H529.8V676.3H533.8V675.8H537.9V675.3H541.9V674.7H546.0V674.1H550.0V673.4H554.1V672.9H558.1V672.5H562.2V672.5H566.2V672.5H570.3V672.5H574.3V672.5H578.4V672.5H582.4V672.5H586.5V672.5H590.5V672.5H594.6V672.5H598.6V672.5H602.7V672.5H606.7V672.5H610.8V672.5H614.9V672.6H618.9V672.7H623.0V672.9H627.0V673.0H631.1V673.0H635.1V672.7H639.2V672.1H643.2V671.5H647.3V671.1H651.3V671.0H655.4V671.0H659.4V671.0H663.5V671.4H667.5V672.4H671.6V673.4H675.6V673.8H679.7V673.8H683.7V673.8H687.8V673.8H691.8V673.7H695.9V673.5H699.9V673.1H704.0V672.6H708.0V672.2H712.1V671.9H716.1V671.6H720.2V671.4H724.3V671.1H728.3V670.9H732.4V670.7H736.4V670.4H740.5V670.2H744.5V669.9H748.6V669.6H752.6V669.2H756.7V668.5H760.7V667.9H764.8V667.5H768.8V667.6H772.9V667.9H776.9V668.3H781.0V668.8H785.0V669.3H789.1V670.0H793.1V670.7H797.2V671.1H801.2V671.4H805.3V671.7H809.3V671.9H813.4V672.0H817.4V672.0H821.5V671.7H825.6V671.3H829.6V671.0H833.7V671.0H837.7V671.1H841.8V671.3H845.8V671.5H849.9V671.7H853.9V671.9H858.0V672.1H862.0V672.2H866.1V672.3H870.1V672.5H874.2V672.8H878.2V673.3H882.3V674.0H886.3V674.5H890.4V674.9H894.4V675.3H898.5V675.7H902.5V676.2H906.6V676.9H910.6V677.7H914.7V678.5H918.7V679.3H922.8V680.2H926.8V681.1H930.9V682.0H935.0V682.9H939.0V683.8H943.1V684.6H947.1V685.1H951.2V685.5H955.2V685.8H959.3V686.0H963.3V686.0H967.4V686.0H971.4V686.0H975.5V686.0H979.5V686.0H983.6V686.0H987.6V734.0V734.0H983.6V734.0H979.5V734.0H975.5V734.0H971.4V734.0H967.4V734.0H963.3V734.0H959.3V734.0H955.2V734.0H951.2V734.0H947.1V734.0H943.1V734.0H939.0V734.0H935.0V734.0H930.9V734.0H926.8V734.0H922.8V734.0H918.7V734.0H914.7V734.0H910.6V734.0H906.6V734.0H902.5V734.0H898.5V734.0H894.4V734.0H890.4V734.0H886.3V734.0H882.3V734.0H878.2V734.0H874.2V734.0H870.1V734.0H866.1V734.0H862.0V734.0H858.0V734.0H853.9V734.0H849.9V734.0H845.8V734.0H841.8V734.0H837.7V734.0H833.7V734.0H829.6V734.0H825.6V734.0H821.5V734.0H817.4V734.0H813.4V734.0H809.3V734.0H805.3V734.0H801.2V734.0H797.2V734.0H793.1V734.0H789.1V734.0H785.0V734.0H781.0V734.0H776.9V734.0H772.9V734.0H768.8V734.0H764.8V734.0H760.7V734.0H756.7V734.0H752.6V734.0H748.6V734.0H744.5V734.0H740.5V734.0H736.4V734.0H732.4V734.0H728.3V734.0H724.3V734.0H720.2V734.0H716.1V734.0H712.1V734.0H708.0V734.0H704.0V734.0H699.9V734.0H695.9V734.0H691.8V734.0H687.8V734.0H683.7V734.0H679.7V734.0H675.6V734.0H671.6V734.0H667.5V734.0H663.5V734.0H659.4V734.0H655.4V734.0H651.3V734.0H647.3V734.0H643.2V734.0H639.2V734.0H635.1V734.0H631.1V734.0H627.0V734.0H623.0V734.0H618.9V734.0H614.9V734.0H610.8V734.0H606.7V734.0H602.7V734.0H598.6V734.0H594.6V734.0H590.5V734.0H586.5V734.0H582.4V734.0H578.4V734.0H574.3V734.0H570.3V734.0H566.2V734.0H562.2V734.0H558.1V734.0H554.1V734.0H550.0V734.0H546.0V734.0H541.9V734.0H537.9V734.0H533.8V734.0H529.8V734.0H525.7V734.0H521.7V734.0H517.6V734.0H513.6V734.0H509.5V734.0H505.5V734.0H501.4V734.0H497.3V734.0H493.3V734.0H489.2V734.0H485.2V734.0H481.1V734.0H477.1V734.0H473.0V734.0H469.0V734.0H464.9V734.0H460.9V734.0H456.8V734.0H452.8V734.0H448.7V734.0H444.7V734.0H440.6V734.0H436.6V734.0H432.5V734.0H428.5V734.0H424.4V734.0H420.4V734.0H416.3V734.0H412.3V734.0H408.2V734.0H404.2V734.0H400.1V734.0H396.0V734.0H392.0V734.0H387.9V734.0H383.9V734.0H379.8V734.0H375.8V734.0H371.7V734.0H367.7V734.0H363.6V734.0H359.6V734.0H355.5V734.0H351.5V734.0H347.4V734.0H343.4V734.0H339.3V734.0H335.3V734.0H331.2V734.0H327.2V734.0H323.1V734.0H319.1V734.0H315.0V734.0H311.0V734.0H306.9V734.0H302.9V734.0H298.8V734.0H294.8V734.0H290.7V734.0H286.6V734.0H282.6V734.0H278.5V734.0H274.5V734.0H270.4V734.0H266.4V734.0H262.3V734.0H258.3V734.0H254.2V734.0H250.2V734.0H246.1V734.0H242.1V734.0H238.0V734.0H234.0V734.0H229.9V734.0H225.9V734.0H221.8V734.0H217.8V734.0H213.7V734.0H209.7V734.0H205.6V734.0H201.6V734.0H197.5V734.0H193.5V734.0H189.4V734.0H185.4V734.0H181.3V734.0H177.2V734.0H173.2V734.0H169.1V734.0H165.1V734.0H161.0V734.0H157.0V734.0H152.9V734.0H148.9V734.0H144.8V734.0H140.8V734.0H136.7V734.0H132.7V734.0H128.6V734.0H124.6V734.0H120.5V734.0H116.5V734.0H112.4V734.0H108.4V734.0H104.3V734.0H100.3V734.0H96.2V734.0H92.2V734.0H88.1V734.0H84.1V734.0H80.0V734.0H76.0V734.0H71.9V734.0H67.8V734.0H63.8V734.0H59.7V734.0H55.7V734.0H51.6V734.0H47.6V734.0H43.5V734.0H39.5V734.0H35.4V734.0H31.4V734.0H27.3V734.0H23.3V734.0H19.2Z" fill="#aea39c"/>
<path d="M19.2,704.9V704.9H23.3V705.8H27.3V706.8H31.4V707.9H35.4V709.4H39.5V711.9H43.5V714.4H47.6V716.9H51.6V719.4H55.7V721.1H59.7V722.3H63.8V723.3H67.8V724.0H71.9V724.6H76.0V725.0H80.0V725.4H84.1V725.6H88.1V725.7H92.2V725.8H96.2V725.9H100.3V725.9H104.3V726.1H108.4V726.3H112.4V726.6H116.5V726.7H120.5V726.8H124.6V726.8H128.6V726.8H132.7V726.8H136.7V726.8H140.8V726.8H144.8V726.8H148.9V726.8H152.9V726.8H157.0V726.8H161.0V726.7H165.1V726.5H169.1V726.3H173.2V726.0H177.2V725.8H181.3V725.6H185.4V725.5H189.4V725.3H193.5V725.2H197.5V725.0H201.6V724.8H205.6V724.6H209.7V724.4H213.7V724.2H217.8V724.0H221.8V723.8H225.9V723.6H229.9V723.4H234.0V723.2H238.0V723.0H242.1V722.8H246.1V722.5H250.2V722.2H254.2V722.0H258.3V721.7H262.3V721.4H266.4V721.2H270.4V720.9H274.5V720.6H278.5V720.4H282.6V720.1H286.6V719.8H290.7V719.5H294.8V719.1H298.8V718.8H302.9V718.5H306.9V718.2H311.0V717.8H315.0V717.4H319.1V716.6H323.1V715.6H327.2V714.8H331.2V714.2H335.3V713.8H339.3V713.5H343.4V713.1H347.4V712.6H351.5V712.1H355.5V711.5H359.6V710.9H363.6V710.0H367.7V709.0H371.7V708.0H375.8V707.2H379.8V706.4H383.9V705.8H387.9V705.1H392.0V704.5H396.0V703.9H400.1V703.8H404.2V703.8H408.2V703.8H412.3V703.8H416.3V704.3H420.4V705.0H424.4V704.8H428.5V704.4H432.5V703.9H436.6V703.5H440.6V702.9H444.7V702.3H448.7V701.7H452.8V701.1H456.8V700.7H460.9V700.3H464.9V699.9H469.0V699.5H473.0V699.1H477.1V698.8H481.1V698.8H485.2V698.8H489.2V698.8H493.3V698.8H497.3V698.7H501.4V698.6H505.5V698.3H509.5V698.0H513.6V697.5H517.6V696.6H521.7V695.7H525.7V694.9H529.8V694.2H533.8V693.5H537.9V693.1H541.9V693.0H546.0V693.3H550.0V693.8H554.1V694.3H558.1V694.8H562.2V695.2H566.2V695.5H570.3V695.8H574.3V696.0H578.4V695.9H582.4V695.8H586.5V695.6H590.5V695.3H594.6V695.1H598.6V695.0H602.7V695.0H606.7V695.0H610.8V695.0H614.9V695.0H618.9V695.0H623.0V695.0H627.0V695.0H631.1V695.0H635.1V694.8H639.2V694.4H643.2V693.9H647.3V693.5H651.3V693.1H655.4V693.0H659.4V693.4H663.5V694.2H667.5V694.9H671.6V695.0H675.6V695.0H679.7V694.9H683.7V694.7H687.8V694.6H691.8V694.4H695.9V694.0H699.9V693.4H704.0V692.8H708.0V692.2H712.1V691.8H716.1V691.4H720.2V691.1H724.3V690.6H728.3V689.7H732.4V688.5H736.4V687.8H740.5V687.5H744.5V687.2H748.6V687.0H752.6V687.0H756.7V687.0H760.7V687.0H764.8V687.0H768.8V686.9H772.9V686.6H776.9V686.2H781.0V686.0H785.0V686.4H789.1V687.4H793.1V688.4H797.2V688.8H801.2V689.1H805.3V689.3H809.3V689.4H813.4V689.5H817.4V689.5H821.5V689.0H825.6V688.4H829.6V688.0H833.7V688.0H837.7V688.3H841.8V688.6H845.8V689.0H849.9V689.3H853.9V689.5H858.0V689.5H862.0V689.5H866.1V689.5H870.1V689.5H874.2V689.6H878.2V690.0H882.3V690.5H886.3V691.0H890.4V691.7H894.4V692.5H898.5V693.3H902.5V694.0H906.6V694.6H910.6V695.1H914.7V695.8H918.7V696.6H922.8V697.6H926.8V698.6H930.9V699.5H935.0V700.3H939.0V701.0H943.1V701.7H947.1V702.1H951.2V702.4H955.2V702.7H959.3V702.9H963.3V703.1H967.4V703.3H971.4V703.4H975.5V703.6H979.5V703.7H983.6V703.7H987.6V734.0V734.0H983.6V734.0H979.5V734.0H975.5V734.0H971.4V734.0H967.4V734.0H963.3V734.0H959.3V734.0H955.2V734.0H951.2V734.0H947.1V734.0H943.1V734.0H939.0V734.0H935.0V734.0H930.9V734.0H926.8V734.0H922.8V734.0H918.7V734.0H914.7V734.0H910.6V734.0H906.6V734.0H902.5V734.0H898.5V734.0H894.4V734.0H890.4V734.0H886.3V734.0H882.3V734.0H878.2V734.0H874.2V734.0H870.1V734.0H866.1V734.0H862.0V734.0H858.0V734.0H853.9V734.0H849.9V734.0H845.8V734.0H841.8V734.0H837.7V734.0H833.7V734.0H829.6V734.0H825.6V734.0H821.5V734.0H817.4V734.0H813.4V734.0H809.3V734.0H805.3V734.0H801.2V734.0H797.2V734.0H793.1V734.0H789.1V734.0H785.0V734.0H781.0V734.0H776.9V734.0H772.9V734.0H768.8V734.0H764.8V734.0H760.7V734.0H756.7V734.0H752.6V734.0H748.6V734.0H744.5V734.0H740.5V734.0H736.4V734.0H732.4V734.0H728.3V734.0H724.3V734.0H720.2V734.0H716.1V734.0H712.1V734.0H708.0V734.0H704.0V734.0H699.9V734.0H695.9V734.0H691.8V734.0H687.8V734.0H683.7V734.0H679.7V734.0H675.6V734.0H671.6V734.0H667.5V734.0H663.5V734.0H659.4V734.0H655.4V734.0H651.3V734.0H647.3V734.0H643.2V734.0H639.2V734.0H635.1V734.0H631.1V734.0H627.0V734.0H623.0V734.0H618.9V734.0H614.9V734.0H610.8V734.0H606.7V734.0H602.7V734.0H598.6V734.0H594.6V734.0H590.5V734.0H586.5V734.0H582.4V734.0H578.4V734.0H574.3V734.0H570.3V734.0H566.2V734.0H562.2V734.0H558.1V734.0H554.1V734.0H550.0V734.0H546.0V734.0H541.9V734.0H537.9V734.0H533.8V734.0H529.8V734.0H525.7V734.0H521.7V734.0H517.6V734.0H513.6V734.0H509.5V734.0H505.5V734.0H501.4V734.0H497.3V734.0H493.3V734.0H489.2V734.0H485.2V734.0H481.1V734.0H477.1V734.0H473.0V734.0H469.0V734.0H464.9V734.0H460.9V734.0H456.8V734.0H452.8V734.0H448.7V734.0H444.7V734.0H440.6V734.0H436.6V734.0H432.5V734.0H428.5V734.0H424.4V734.0H420.4V734.0H416.3V734.0H412.3V734.0H408.2V734.0H404.2V734.0H400.1V734.0H396.0V734.0H392.0V734.0H387.9V734.0H383.9V734.0H379.8V734.0H375.8V734.0H371.7V734.0H367.7V734.0H363.6V734.0H359.6V734.0H355.5V734.0H351.5V734.0H347.4V734.0H343.4V734.0H339.3V734.0H335.3V734.0H331.2V734.0H327.2V734.0H323.1V734.0H319.1V734.0H315.0V734.0H311.0V734.0H306.9V734.0H302.9V734.0H298.8V734.0H294.8V734.0H290.7V734.0H286.6V734.0H282.6V734.0H278.5V734.0H274.5V734.0H270.4V734.0H266.4V734.0H262.3V734.0H258.3V734.0H254.2V734.0H250.2V734.0H246.1V734.0H242.1V734.0H238.0V734.0H234.0V734.0H229.9V734.0H225.9V734.0H221.8V734.0H217.8V734.0H213.7V734.0H209.7V734.0H205.6V734.0H201.6V734.0H197.5V734.0H193.5V734.0H189.4V734.0H185.4V734.0H181.3V734.0H177.2V734.0H173.2V734.0H169.1V734.0H165.1V734.0H161.0V734.0H157.0V734.0H152.9V734.0H148.9V734.0H144.8V734.0H140.8V734.0H136.7V734.0H132.7V734.0H128.6V734.0H124.6V734.0H120.5V734.0H116.5V734.0H112.4V734.0H108.4V734.0H104.3V734.0H100.3V734.0H96.2V734.0H92.2V734.0H88.1V734.0H84.1V734.0H80.0V734.0H76.0V734.0H71.9V734.0H67.8V734.0H63.8V734.0H59.7V734.0H55.7V734.0H51.6V734.0H47.6V734.0H43.5V734.0H39.5V734.0H35.4V734.0H31.4V734.0H27.3V734.0H23.3V734.0H19.2Z" fill="#a5cb6b"/>
<path d="M19.2,725.7V725.7H23.3V726.8H27.3V727.8H31.4V728.8H35.4V729.6H39.5V730.2H43.5V730.7H47.6V731.0H51.6V731.2H55.7V731.4H59.7V731.6H63.8V731.7H67.8V731.7H71.9V731.8H76.0V731.8H80.0V731.8H84.1V731.8H88.1V731.8H92.2V731.8H96.2V731.8H100.3V731.7H104.3V731.7H108.4V731.7H112.4V731.7H116.5V731.6H120.5V731.5H124.6V731.5H128.6V731.4H132.7V731.3H136.7V731.2H140.8V731.2H144.8V731.1H148.9V731.0H152.9V730.9H157.0V730.8H161.0V730.6H165.1V730.5H169.1V730.3H173.2V730.2H177.2V730.0H181.3V729.9H185.4V729.7H189.4V729.4H193.5V729.2H197.5V729.0H201.6V728.8H205.6V728.6H209.7V728.4H213.7V728.2H217.8V728.0H221.8V727.8H225.9V727.6H229.9V727.4H234.0V727.2H238.0V727.0H242.1V726.8H246.1V726.5H250.2V726.2H254.2V726.0H258.3V725.7H262.3V725.5H266.4V725.2H270.4V724.9H274.5V724.6H278.5V724.2H282.6V723.9H286.6V723.5H290.7V723.2H294.8V722.9H298.8V722.5H302.9V722.1H306.9V721.8H311.0V721.3H315.0V720.9H319.1V720.3H323.1V719.6H327.2V719.0H331.2V718.5H335.3V717.9H339.3V717.5H343.4V717.1H347.4V716.8H351.5V716.5H355.5V716.3H359.6V715.9H363.6V715.1H367.7V714.0H371.7V713.0H375.8V712.2H379.8V711.5H383.9V710.8H387.9V710.5H392.0V710.5H396.0V710.5H400.1V710.5H404.2V710.5H408.2V710.7H412.3V711.2H416.3V711.6H420.4V711.7H424.4V711.5H428.5V711.2H432.5V710.8H436.6V710.6H440.6V710.5H444.7V710.4H448.7V710.2H452.8V710.1H456.8V709.8H460.9V709.5H464.9V709.2H469.0V708.7H473.0V708.2H477.1V707.6H481.1V707.5H485.2V707.7H489.2V707.9H493.3V708.0H497.3V707.9H501.4V707.7H505.5V707.4H509.5V707.0H513.6V706.5H517.6V705.5H521.7V704.5H525.7V703.6H529.8V702.6H533.8V701.7H537.9V701.1H541.9V701.0H546.0V701.3H550.0V701.7H554.1V702.2H558.1V702.8H562.2V703.3H566.2V704.0H570.3V704.7H574.3V705.0H578.4V704.9H582.4V704.6H586.5V704.1H590.5V703.5H594.6V703.0H598.6V702.6H602.7V702.3H606.7V702.1H610.8V701.9H614.9V701.7H618.9V701.5H623.0V701.3H627.0V701.1H631.1V701.0H635.1V700.7H639.2V700.5H643.2V700.3H647.3V700.2H651.3V700.0H655.4V700.0H659.4V700.2H663.5V700.6H667.5V700.9H671.6V701.0H675.6V701.0H679.7V701.0H683.7V701.0H687.8V701.0H691.8V701.0H695.9V700.6H699.9V700.1H704.0V699.5H708.0V699.0H712.1V698.6H716.1V698.3H720.2V698.0H724.3V697.6H728.3V696.8H732.4V695.9H736.4V695.4H740.5V695.2H744.5V695.1H748.6V695.0H752.6V695.0H756.7V695.0H760.7V695.0H764.8V695.0H768.8V695.0H772.9V695.0H776.9V695.0H781.0V695.0H785.0V695.4H789.1V696.2H793.1V697.1H797.2V697.6H801.2V698.0H805.3V698.3H809.3V698.6H813.4V698.7H817.4V698.7H821.5V698.5H825.6V698.2H829.6V698.0H833.7V698.0H837.7V698.2H841.8V698.5H845.8V698.8H849.9V699.1H853.9V699.4H858.0V699.6H862.0V699.7H866.1V699.8H870.1V700.0H874.2V700.3H878.2V701.0H882.3V701.8H886.3V702.6H890.4V703.2H894.4V703.9H898.5V704.6H902.5V705.3H906.6V706.1H910.6V706.9H914.7V707.7H918.7V708.6H922.8V709.4H926.8V710.3H930.9V711.0H935.0V711.6H939.0V712.2H943.1V712.7H947.1V713.1H951.2V713.4H955.2V713.7H959.3V713.9H963.3V714.1H967.4V714.3H971.4V714.5H975.5V714.7H979.5V714.8H983.6V714.9H987.6V734.0V734.0H983.6V734.0H979.5V734.0H975.5V734.0H971.4V734.0H967.4V734.0H963.3V734.0H959.3V734.0H955.2V734.0H951.2V734.0H947.1V734.0H943.1V734.0H939.0V734.0H935.0V734.0H930.9V734.0H926.8V734.0H922.8V734.0H918.7V734.0H914.7V734.0H910.6V734.0H906.6V734.0H902.5V734.0H898.5V734.0H894.4V734.0H890.4V734.0H886.3V734.0H882.3V734.0H878.2V734.0H874.2V734.0H870.1V734.0H866.1V734.0H862.0V734.0H858.0V734.0H853.9V734.0H849.9V734.0H845.8V734.0H841.8V734.0H837.7V734.0H833.7V734.0H829.6V734.0H825.6V734.0H821.5V734.0H817.4V734.0H813.4V734.0H809.3V734.0H805.3V734.0H801.2V734.0H797.2V734.0H793.1V734.0H789.1V734.0H785.0V734.0H781.0V734.0H776.9V734.0H772.9V734.0H768.8V734.0H764.8V734.0H760.7V734.0H756.7V734.0H752.6V734.0H748.6V734.0H744.5V734.0H740.5V734.0H736.4V734.0H732.4V734.0H728.3V734.0H724.3V734.0H720.2V734.0H716.1V734.0H712.1V734.0H708.0V734.0H704.0V734.0H699.9V734.0H695.9V734.0H691.8V734.0H687.8V734.0H683.7V734.0H679.7V734.0H675.6V734.0H671.6V734.0H667.5V734.0H663.5V734.0H659.4V734.0H655.4V734.0H651.3V734.0H647.3V734.0H643.2V734.0H639.2V734.0H635.1V734.0H631.1V734.0H627.0V734.0H623.0V734.0H618.9V734.0H614.9V734.0H610.8V734.0H606.7V734.0H602.7V734.0H598.6V734.0H594.6V734.0H590.5V734.0H586.5V734.0H582.4V734.0H578.4V734.0H574.3V734.0H570.3V734.0H566.2V734.0H562.2V734.0H558.1V734.0H554.1V734.0H550.0V734.0H546.0V734.0H541.9V734.0H537.9V734.0H533.8V734.0H529.8V734.0H525.7V734.0H521.7V734.0H517.6V734.0H513.6V734.0H509.5V734.0H505.5V734.0H501.4V734.0H497.3V734.0H493.3V734.0H489.2V734.0H485.2V734.0H481.1V734.0H477.1V734.0H473.0V734.0H469.0V734.0H464.9V734.0H460.9V734.0H456.8V734.0H452.8V734.0H448.7V734.0H444.7V734.0H440.6V734.0H436.6V734.0H432.5V734.0H428.5V734.0H424.4V734.0H420.4V734.0H416.3V734.0H412.3V734.0H408.2V734.0H404.2V734.0H400.1V734.0H396.0V734.0H392.0V734.0H387.9V734.0H383.9V734.0H379.8V734.0H375.8V734.0H371.7V734.0H367.7V734.0H363.6V734.0H359.6V734.0H355.5V734.0H351.5V734.0H347.4V734.0H343.4V734.0H339.3V734.0H335.3V734.0H331.2V734.0H327.2V734.0H323.1V734.0H319.1V734.0H315.0V734.0H311.0V734.0H306.9V734.0H302.9V734.0H298.8V734.0H294.8V734.0H290.7V734.0H286.6V734.0H282.6V734.0H278.5V734.0H274.5V734.0H270.4V734.0H266.4V734.0H262.3V734.0H258.3V734.0H254.2V734.0H250.2V734.0H246.1V734.0H242.1V734.0H238.0V734.0H234.0V734.0H229.9V734.0H225.9V734.0H221.8V734.0H217.8V734.0H213.7V734.0H209.7V734.0H205.6V734.0H201.6V734.0H197.5V734.0H193.5V734.0H189.4V734.0H185.4V734.0H181.3V734.0H177.2V734.0H173.2V734.0H169.1V734.0H165.1V734.0H161.0V734.0H157.0V734.0H152.9V734.0H148.9V734.0H144.8V734.0H140.8V734.0H136.7V734.0H132.7V734.0H128.6V734.0H124.6V734.0H120.5V734.0H116.5V734.0H112.4V734.0H108.4V734.0H104.3V734.0H100.3V734.0H96.2V734.0H92.2V734.0H88.1V734.0H84.1V734.0H80.0V734.0H76.0V734.0H71.9V734.0H67.8V734.0H63.8V734.0H59.7V734.0H55.7V734.0H51.6V734.0H47.6V734.0H43.5V734.0H39.5V734.0H35.4V734.0H31.4V734.0H27.3V734.0H23.3V734.0H19.2Z" fill="#ee4b5c"/>
<path d="M19.2,733.6V733.6H23.3V733.6H27.3V733.6H31.4V733.6H35.4V733.6H39.5V733.6H43.5V733.6H47.6V733.6H51.6V733.6H55.7V733.6H59.7V733.6H63.8V733.6H67.8V733.6H71.9V733.6H76.0V733.6H80.0V733.6H84.1V733.6H88.1V733.6H92.2V733.6H96.2V733.6H100.3V733.6H104.3V733.6H108.4V733.6H112.4V733.6H116.5V733.6H120.5V733.6H124.6V733.6H128.6V733.6H132.7V733.6H136.7V733.6H140.8V733.6H144.8V733.6H148.9V733.6H152.9V733.6H157.0V733.6H161.0V733.6H165.1V733.6H169.1V733.6H173.2V733.6H177.2V733.6H181.3V733.6H185.4V733.6H189.4V733.6H193.5V733.6H197.5V733.6H201.6V733.6H205.6V733.6H209.7V733.6H213.7V733.6H217.8V733.6H221.8V733.6H225.9V733.6H229.9V733.5H234.0V733.4H238.0V733.3H242.1V733.2H246.1V733.1H250.2V732.9H254.2V732.8H258.3V732.7H262.3V732.5H266.4V732.4H270.4V732.2H274.5V732.1H278.5V731.9H282.6V731.7H286.6V731.6H290.7V731.4H294.8V731.2H298.8V731.1H302.9V730.9H306.9V730.8H311.0V730.6H315.0V730.5H319.1V730.3H323.1V730.2H327.2V730.0H331.2V729.9H335.3V729.8H339.3V729.6H343.4V729.5H347.4V729.4H351.5V729.3H355.5V729.2H359.6V729.2H363.6V729.1H367.7V729.0H371.7V728.8H375.8V728.7H379.8V728.3H383.9V727.9H387.9V727.6H392.0V727.4H396.0V727.2H400.1V727.0H404.2V727.0H408.2V727.0H412.3V727.0H416.3V727.0H420.4V727.0H424.4V727.0H428.5V727.0H432.5V727.0H436.6V727.0H440.6V727.0H444.7V727.0H448.7V727.0H452.8V727.0H456.8V727.0H460.9V727.0H464.9V727.0H469.0V727.0H473.0V726.9H477.1V726.8H481.1V726.5H485.2V726.3H489.2V726.1H493.3V726.0H497.3V726.1H501.4V726.4H505.5V726.8H509.5V727.0H513.6V727.0H517.6V726.8H521.7V726.6H525.7V726.4H529.8V726.2H533.8V726.0H537.9V726.0H541.9V725.9H546.0V725.9H550.0V725.8H554.1V725.8H558.1V725.8H562.2V725.7H566.2V725.7H570.3V725.6H574.3V725.5H578.4V725.4H582.4V725.4H586.5V725.3H590.5V725.2H594.6V725.1H598.6V725.1H602.7V725.0H606.7V725.0H610.8V725.0H614.9V725.1H618.9V725.2H623.0V725.4H627.0V725.7H631.1V725.9H635.1V726.0H639.2V726.1H643.2V726.2H647.3V726.3H651.3V726.4H655.4V726.5H659.4V726.5H663.5V726.6H667.5V726.7H671.6V726.8H675.6V726.8H679.7V726.9H683.7V727.0H687.8V727.1H691.8V727.1H695.9V727.2H699.9V727.3H704.0V727.4H708.0V727.4H712.1V727.5H716.1V727.6H720.2V727.7H724.3V727.8H728.3V727.9H732.4V727.9H736.4V728.0H740.5V728.1H744.5V728.3H748.6V728.4H752.6V728.5H756.7V728.6H760.7V728.7H764.8V728.7H768.8V728.8H772.9V728.8H776.9V728.8H781.0V728.9H785.0V728.9H789.1V728.9H793.1V728.9H797.2V729.0H801.2V729.0H805.3V729.0H809.3V729.0H813.4V729.0H817.4V729.0H821.5V729.0H825.6V729.0H829.6V729.0H833.7V729.0H837.7V728.9H841.8V728.9H845.8V728.9H849.9V728.8H853.9V728.8H858.0V728.7H862.0V728.4H866.1V728.1H870.1V727.7H874.2V727.5H878.2V727.5H882.3V727.6H886.3V727.6H890.4V727.7H894.4V727.8H898.5V727.9H902.5V728.0H906.6V728.1H910.6V728.2H914.7V728.3H918.7V728.4H922.8V728.5H926.8V728.6H930.9V728.7H935.0V728.7H939.0V728.7H943.1V728.8H947.1V728.8H951.2V728.8H955.2V728.8H959.3V728.8H963.3V728.8H967.4V728.8H971.4V728.8H975.5V728.8H979.5V728.8H983.6V728.8H987.6V734.0V734.0H983.6V734.0H979.5V734.0H975.5V734.0H971.4V734.0H967.4V734.0H963.3V734.0H959.3V734.0H955.2V734.0H951.2V734.0H947.1V734.0H943.1V734.0H939.0V734.0H935.0V734.0H930.9V734.0H926.8V734.0H922.8V734.0H918.7V734.0H914.7V734.0H910.6V734.0H906.6V734.0H902.5V734.0H898.5V734.0H894.4V734.0H890.4V734.0H886.3V734.0H882.3V734.0H878.2V734.0H874.2V734.0H870.1V734.0H866.1V734.0H862.0V734.0H858.0V734.0H853.9V734.0H849.9V734.0H845.8V734.0H841.8V734.0H837.7V734.0H833.7V734.0H829.6V734.0H825.6V734.0H821.5V734.0H817.4V734.0H813.4V734.0H809.3V734.0H805.3V734.0H801.2V734.0H797.2V734.0H793.1V734.0H789.1V734.0H785.0V734.0H781.0V734.0H776.9V734.0H772.9V734.0H768.8V734.0H764.8V734.0H760.7V734.0H756.7V734.0H752.6V734.0H748.6V734.0H744.5V734.0H740.5V734.0H736.4V734.0H732.4V734.0H728.3V734.0H724.3V734.0H720.2V734.0H716.1V734.0H712.1V734.0H708.0V734.0H704.0V734.0H699.9V734.0H695.9V734.0H691.8V734.0H687.8V734.0H683.7V734.0H679.7V734.0H675.6V734.0H671.6V734.0H667.5V734.0H663.5V734.0H659.4V734.0H655.4V734.0H651.3V734.0H647.3V734.0H643.2V734.0H639.2V734.0H635.1V734.0H631.1V734.0H627.0V734.0H623.0V734.0H618.9V734.0H614.9V734.0H610.8V734.0H606.7V734.0H602.7V734.0H598.6V734.0H594.6V734.0H590.5V734.0H586.5V734.0H582.4V734.0H578.4V734.0H574.3V734.0H570.3V734.0H566.2V734.0H562.2V734.0H558.1V734.0H554.1V734.0H550.0V734.0H546.0V734.0H541.9V734.0H537.9V734.0H533.8V734.0H529.8V734.0H525.7V734.0H521.7V734.0H517.6V734.0H513.6V734.0H509.5V734.0H505.5V734.0H501.4V734.0H497.3V734.0H493.3V734.0H489.2V734.0H485.2V734.0H481.1V734.0H477.1V734.0H473.0V734.0H469.0V734.0H464.9V734.0H460.9V734.0H456.8V734.0H452.8V734.0H448.7V734.0H444.7V734.0H440.6V734.0H436.6V734.0H432.5V734.0H428.5V734.0H424.4V734.0H420.4V734.0H416.3V734.0H412.3V734.0H408.2V734.0H404.2V734.0H400.1V734.0H396.0V734.0H392.0V734.0H387.9V734.0H383.9V734.0H379.8V734.0H375.8V734.0H371.7V734.0H367.7V734.0H363.6V734.0H359.6V734.0H355.5V734.0H351.5V734.0H347.4V734.0H343.4V734.0H339.3V734.0H335.3V734.0H331.2V734.0H327.2V734.0H323.1V734.0H319.1V734.0H315.0V734.0H311.0V734.0H306.9V734.0H302.9V734.0H298.8V734.0H294.8V734.0H290.7V734.0H286.6V734.0H282.6V734.0H278.5V734.0H274.5V734.0H270.4V734.0H266.4V734.0H262.3V734.0H258.3V734.0H254.2V734.0H250.2V734.0H246.1V734.0H242.1V734.0H238.0V734.0H234.0V734.0H229.9V734.0H225.9V734.0H221.8V734.0H217.8V734.0H213.7V734.0H209.7V734.0H205.6V734.0H201.6V734.0H197.5V734.0H193.5V734.0H189.4V734.0H185.4V734.0H181.3V734.0H177.2V734.0H173.2V734.0H169.1V734.0H165.1V734.0H161.0V734.0H157.0V734.0H152.9V734.0H148.9V734.0H144.8V734.0H140.8V734.0H136.7V734.0H132.7V734.0H128.6V734.0H124.6V734.0H120.5V734.0H116.5V734.0H112.4V734.0H108.4V734.0H104.3V734.0H100.3V734.0H96.2V734.0H92.2V734.0H88.1V734.0H84.1V734.0H80.0V734.0H76.0V734.0H71.9V734.0H67.8V734.0H63.8V734.0H59.7V734.0H55.7V734.0H51.6V734.0H47.6V734.0H43.5V734.0H39.5V734.0H35.4V734.0H31.4V734.0H27.3V734.0H23.3V734.0H19.2Z" fill="#85cde8"/>
<path d="M19.22,609.5V734M23.28,609.5V734M27.33,609.5V734M31.38,609.5V734M35.43,609.5V734M39.48,609.5V734M43.54,609.5V734M47.59,609.5V734M51.64,609.5V734M55.69,609.5V734M59.74,609.5V734M63.79,609.5V734M67.85,609.5V734M71.90,609.5V734M75.95,609.5V734M80.00,609.5V734M84.05,609.5V734M88.11,609.5V734M92.16,609.5V734M96.21,609.5V734M100.26,609.5V734M104.31,609.5V734M108.37,609.5V734M112.42,609.5V734M116.47,609.5V734M120.52,609.5V734M124.57,609.5V734M128.63,609.5V734M132.68,609.5V734M136.73,609.5V734M140.78,609.5V734M144.83,609.5V734M148.88,609.5V734M152.94,609.5V734M156.99,609.5V734M161.04,609.5V734M165.09,609.5V734M169.14,609.5V734M173.20,609.5V734M177.25,609.5V734M181.30,609.5V734M185.35,609.5V734M189.40,609.5V734M193.46,609.5V734M197.51,609.5V734M201.56,609.5V734M205.61,609.5V734M209.66,609.5V734M213.71,609.5V734M217.77,609.5V734M221.82,609.5V734M225.87,609.5V734M229.92,609.5V734M233.97,609.5V734M238.03,609.5V734M242.08,609.5V734M246.13,609.5V734M250.18,609.5V734M254.23,609.5V734M258.29,609.5V734M262.34,609.5V734M266.39,609.5V734M270.44,609.5V734M274.49,609.5V734M278.55,609.5V734M282.60,609.5V734M286.65,609.5V734M290.70,609.5V734M294.75,609.5V734M298.80,609.5V734M302.86,609.5V734M306.91,609.5V734M310.96,609.5V734M315.01,609.5V734M319.06,609.5V734M323.12,609.5V734M327.17,609.5V734M331.22,609.5V734M335.27,609.5V734M339.32,609.5V734M343.38,609.5V734M347.43,609.5V734M351.48,609.5V734M355.53,609.5V734M359.58,609.5V734M363.63,609.5V734M367.69,609.5V734M371.74,609.5V734M375.79,609.5V734M379.84,609.5V734M383.89,609.5V734M387.95,609.5V734M392.00,609.5V734M396.05,609.5V734M400.10,609.5V734M404.15,609.5V734M408.21,609.5V734M412.26,609.5V734M416.31,609.5V734M420.36,609.5V734M424.41,609.5V734M428.47,609.5V734M432.52,609.5V734M436.57,609.5V734M440.62,609.5V734M444.67,609.5V734M448.72,609.5V734M452.78,609.5V734M456.83,609.5V734M460.88,609.5V734M464.93,609.5V734M468.98,609.5V734M473.04,609.5V734M477.09,609.5V734M481.14,609.5V734M485.19,609.5V734M489.24,609.5V734M493.30,609.5V734M497.35,609.5V734M501.40,609.5V734M505.45,609.5V734M509.50,609.5V734M513.55,609.5V734M517.61,609.5V734M521.66,609.5V734M525.71,609.5V734M529.76,609.5V734M533.81,609.5V734M537.87,609.5V734M541.92,609.5V734M545.97,609.5V734M550.02,609.5V734M554.07,609.5V734M558.13,609.5V734M562.18,609.5V734M566.23,609.5V734M570.28,609.5V734M574.33,609.5V734M578.38,609.5V734M582.44,609.5V734M586.49,609.5V734M590.54,609.5V734M594.59,609.5V734M598.64,609.5V734M602.70,609.5V734M606.75,609.5V734M610.80,609.5V734M614.85,609.5V734M618.90,609.5V734M622.96,609.5V734M627.01,609.5V734M631.06,609.5V734M635.11,609.5V734M639.16,609.5V734M643.22,609.5V734M647.27,609.5V734M651.32,609.5V734M655.37,609.5V734M659.42,609.5V734M663.47,609.5V734M667.53,609.5V734M671.58,609.5V734M675.63,609.5V734M679.68,609.5V734M683.73,609.5V734M687.79,609.5V734M691.84,609.5V734M695.89,609.5V734M699.94,609.5V734M703.99,609.5V734M708.05,609.5V734M712.10,609.5V734M716.15,609.5V734M720.20,609.5V734M724.25,609.5V734M728.30,609.5V734M732.36,609.5V734M736.41,609.5V734M740.46,609.5V734M744.51,609.5V734M748.56,609.5V734M752.62,609.5V734M756.67,609.5V734M760.72,609.5V734M764.77,609.5V734M768.82,609.5V734M772.88,609.5V734M776.93,609.5V734M780.98,609.5V734M785.03,609.5V734M789.08,609.5V734M793.14,609.5V734M797.19,609.5V734M801.24,609.5V734M805.29,609.5V734M809.34,609.5V734M813.39,609.5V734M817.45,609.5V734M821.50,609.5V734M825.55,609.5V734M829.60,609.5V734M833.65,609.5V734M837.71,609.5V734M841.76,609.5V734M845.81,609.5V734M849.86,609.5V734M853.91,609.5V734M857.97,609.5V734M862.02,609.5V734M866.07,609.5V734M870.12,609.5V734M874.17,609.5V734M878.22,609.5V734M882.28,609.5V734M886.33,609.5V734M890.38,609.5V734M894.43,609.5V734M898.48,609.5V734M902.54,609.5V734M906.59,609.5V734M910.64,609.5V734M914.69,609.5V734M918.74,609.5V734M922.80,609.5V734M926.85,609.5V734M930.90,609.5V734M934.95,609.5V734M939.00,609.5V734M943.06,609.5V734M947.11,609.5V734M951.16,609.5V734M955.21,609.5V734M959.26,609.5V734M963.31,609.5V734M967.37,609.5V734M971.42,609.5V734M975.47,609.5V734M979.52,609.5V734M983.57,609.5V734M987.63,609.5V734" stroke="#fff1e5" stroke-opacity="0.8" stroke-width="1.3" fill="none"/>
<line x1="17" y1="734.3" x2="995" y2="734.3" stroke="#d3c9bf" stroke-width="1.3"/>
<line x1="17" y1="609.3" x2="995" y2="609.3" stroke="#d3c9bf" stroke-width="1"/>
<line x1="987.6" y1="609.3" x2="995" y2="609.3" stroke="#d3c9bf" stroke-width="1.8"/>
<line x1="17" y1="609.3" x2="19.5" y2="609.3" stroke="#d3c9bf" stroke-width="1.2"/>
<line x1="987.6" y1="634.3" x2="995" y2="634.3" stroke="#d3c9bf" stroke-width="1.8"/>
<line x1="17" y1="634.3" x2="19.5" y2="634.3" stroke="#d3c9bf" stroke-width="1.2"/>
<line x1="987.6" y1="659.3" x2="995" y2="659.3" stroke="#d3c9bf" stroke-width="1.8"/>
<line x1="17" y1="659.3" x2="19.5" y2="659.3" stroke="#d3c9bf" stroke-width="1.2"/>
<line x1="987.6" y1="684.3" x2="995" y2="684.3" stroke="#d3c9bf" stroke-width="1.8"/>
<line x1="17" y1="684.3" x2="19.5" y2="684.3" stroke="#d3c9bf" stroke-width="1.2"/>
<line x1="987.6" y1="709.3" x2="995" y2="709.3" stroke="#d3c9bf" stroke-width="1.8"/>
<line x1="17" y1="709.3" x2="19.5" y2="709.3" stroke="#d3c9bf" stroke-width="1.2"/>
<line x1="987.6" y1="734.3" x2="995" y2="734.3" stroke="#d3c9bf" stroke-width="1.8"/>
<line x1="17" y1="734.3" x2="19.5" y2="734.3" stroke="#d3c9bf" stroke-width="1.2"/>
<rect x="50.6" y="688.1" width="53.8" height="20.0" fill="#fff1e5" fill-opacity="0.92"/>
<rect x="191" y="694" width="68" height="17.25" fill="#fff1e5" fill-opacity="0.92"/>
<rect x="584.1" y="638.1" width="88.15" height="16.9" fill="#fff1e5" fill-opacity="0.92"/>
<rect x="646.6" y="697" width="39.4" height="19.25" fill="#fff1e5" fill-opacity="0.92"/>
<rect x="847.5" y="705.5" width="29.25" height="16.5" fill="#fff1e5" fill-opacity="0.92"/>
<rect x="932.5" y="619" width="48.5" height="19.5" fill="#fff1e5" fill-opacity="0.92"/>
<g fill="none" stroke="#33302e" stroke-width="1.3">
<path d="M50.6,708.1 Q42,712.5 39,722"/>
<path d="M646.6,716.2 Q638,721 634.5,730"/>
</g>
<defs><mask id="tm" maskUnits="userSpaceOnUse" x="0" y="0" width="1024" height="817"><rect width="1024" height="817" fill="#fff"/></mask></defs>
<g mask="url(#tm)">
<text x="214" y="205.4" font-size="13" fill="#ffffff" text-anchor="middle" textLength="16" lengthAdjust="spacingAndGlyphs" fill-opacity="0.9">EU</text>
<text x="229" y="232.5" font-size="13" fill="#ffffff" textLength="81" lengthAdjust="spacingAndGlyphs" fill-opacity="0.9">Rest of Europe</text>
<text x="216.3" y="266.6" font-size="13" fill="#ffffff" text-anchor="middle" textLength="17" lengthAdjust="spacingAndGlyphs" fill-opacity="0.9">UK</text>
<text x="144" y="289" font-size="13" fill="#ffffff" text-anchor="end" textLength="78" lengthAdjust="spacingAndGlyphs" fill-opacity="0.9">Previous peak</text>
<text x="144" y="303.5" font-size="13" fill="#ffffff" text-anchor="end" textLength="58" lengthAdjust="spacingAndGlyphs" fill-opacity="0.9">Apr 10-16</text>
<text x="144.5" y="321" font-size="15.5" fill="#ffffff" text-anchor="end" font-weight="bold" textLength="41" lengthAdjust="spacingAndGlyphs">6,825</text>
<text x="290" y="360" font-size="13" fill="#ffffff" text-anchor="end" textLength="40" lengthAdjust="spacingAndGlyphs" fill-opacity="0.9">Rest of</text>
<text x="290" y="374" font-size="13" fill="#ffffff" text-anchor="end" textLength="62" lengthAdjust="spacingAndGlyphs" fill-opacity="0.9">N America*</text>
<text x="729" y="216.5" font-size="13" fill="#ffffff" text-anchor="middle" textLength="32" lengthAdjust="spacingAndGlyphs" fill-opacity="0.9">Brazil</text>
<text x="833" y="260" font-size="13" fill="#ffffff" text-anchor="middle" textLength="56" lengthAdjust="spacingAndGlyphs" fill-opacity="0.9">Argentina</text>
<text x="685" y="268.5" font-size="13" fill="#ffffff" text-anchor="middle" textLength="120" lengthAdjust="spacingAndGlyphs" fill-opacity="0.9">Rest of Latin America</text>
<text x="628" y="306.5" font-size="13" fill="#ffffff" text-anchor="middle" textLength="40" lengthAdjust="spacingAndGlyphs" fill-opacity="0.9">Mexico</text>
<text x="818.5" y="341.5" font-size="13" fill="#ffffff" text-anchor="middle" textLength="16" lengthAdjust="spacingAndGlyphs" fill-opacity="0.9">US</text>
<text x="577" y="393" font-size="13" fill="#ffffff" text-anchor="middle" textLength="22" lengthAdjust="spacingAndGlyphs" fill-opacity="0.9">Iran</text>
<text x="786" y="412.5" font-size="13" fill="#ffffff" text-anchor="middle" textLength="27" lengthAdjust="spacingAndGlyphs" fill-opacity="0.9">India</text>
<text x="867.3" y="187.8" font-size="13" fill="#ffffff" text-anchor="middle" textLength="16" lengthAdjust="spacingAndGlyphs" fill-opacity="0.9">EU</text>
<text x="974" y="186" font-size="13" fill="#ffffff" text-anchor="end" textLength="68" lengthAdjust="spacingAndGlyphs" fill-opacity="0.9">Europe total</text>
<text x="974" y="200" font-size="13" fill="#ffffff" text-anchor="end" textLength="46" lengthAdjust="spacingAndGlyphs" fill-opacity="0.9">Nov 3-9</text>
<text x="974" y="214.3" font-size="14" fill="#ffffff" text-anchor="end" font-weight="bold" textLength="33.5" lengthAdjust="spacingAndGlyphs">3,436</text>
<text x="963" y="242.5" font-size="13" fill="#ffffff" text-anchor="middle" textLength="17" lengthAdjust="spacingAndGlyphs" fill-opacity="0.9">UK</text>
<text x="974" y="321" font-size="13" fill="#ffffff" text-anchor="end" textLength="66" lengthAdjust="spacingAndGlyphs" fill-opacity="0.9">LatAm total</text>
<text x="974" y="334.5" font-size="13" fill="#ffffff" text-anchor="end" textLength="46" lengthAdjust="spacingAndGlyphs" fill-opacity="0.9">Nov 3-9</text>
<text x="974" y="349.3" font-size="14" fill="#ffffff" text-anchor="end" font-weight="bold" textLength="33.5" lengthAdjust="spacingAndGlyphs">1,451</text>
<text x="512" y="480.5" font-size="13" fill="#66605c" text-anchor="end" textLength="39" lengthAdjust="spacingAndGlyphs" stroke="#66605c" stroke-width="0.6">Rest of</text>
<text x="512" y="496" font-size="13" fill="#66605c" text-anchor="end" textLength="24" lengthAdjust="spacingAndGlyphs" stroke="#66605c" stroke-width="0.6">Asia</text>
<text x="626" y="503.6" font-size="13" fill="#66605c" text-anchor="middle" textLength="33" lengthAdjust="spacingAndGlyphs" stroke="#66605c" stroke-width="0.6">Africa</text>
<text x="99.1" y="506.6" font-size="13" fill="#35312f" text-anchor="end" textLength="39" lengthAdjust="spacingAndGlyphs" stroke="#35312f" stroke-width="0.5">Rest of</text>
<text x="98.9" y="524.4" font-size="13" fill="#35312f" text-anchor="end" textLength="64.5" lengthAdjust="spacingAndGlyphs" stroke="#35312f" stroke-width="0.5">Middle East</text>
<text x="2" y="51" font-size="13" fill="#66605c" textLength="419" lengthAdjust="spacingAndGlyphs" stroke="#66605c" stroke-width="0.6">Daily deaths of patients diagnosed with coronavirus (7-day rolling average)</text>
<text x="11" y="601" font-size="13" fill="#66605c" textLength="334" lengthAdjust="spacingAndGlyphs" stroke="#66605c" stroke-width="0.6">Daily confirmed deaths (%, by region, 7-day rolling average)</text>
<text x="1015" y="584" font-size="12.5" fill="#66605c" text-anchor="end" textLength="289" lengthAdjust="spacingAndGlyphs" stroke="#66605c" stroke-width="0.6">* Canada, Bermuda, Greenland and St Pierre and Miquelon</text>
<text x="0" y="791" font-size="12.5" fill="#66605c" textLength="207" lengthAdjust="spacingAndGlyphs" stroke="#66605c" stroke-width="0.6">FT graphic: Steven Bernard / @sdbernard</text>
<text x="0" y="804" font-size="12.5" fill="#66605c" textLength="710" lengthAdjust="spacingAndGlyphs" stroke="#66605c" stroke-width="0.6">Source: FT analysis of data from the ECDC, the Covid Tracking Project, UK government Covid-19 dashboard and the Spanish Ministry of Health</text>
<text x="0" y="816.6" font-size="12.5" fill="#66605c" textLength="24" lengthAdjust="spacingAndGlyphs" font-style="italic" stroke="#66605c" stroke-width="0.6">© FT</text>
<text x="1.8" y="567.6" font-size="13.5" fill="#66605c" textLength="39.5" lengthAdjust="spacingAndGlyphs" stroke="#66605c" stroke-width="0.6">Mar 15</text>
<text x="90.1" y="567.6" font-size="13.5" fill="#66605c" text-anchor="middle" textLength="32" lengthAdjust="spacingAndGlyphs" stroke="#66605c" stroke-width="0.6">Apr 1</text>
<text x="211.7" y="567.6" font-size="13.5" fill="#66605c" text-anchor="middle" textLength="31.3" lengthAdjust="spacingAndGlyphs" stroke="#66605c" stroke-width="0.6">May1</text>
<text x="337.3" y="567.6" font-size="13.5" fill="#66605c" text-anchor="middle" textLength="28.5" lengthAdjust="spacingAndGlyphs" stroke="#66605c" stroke-width="0.6">Jun 1</text>
<text x="458.9" y="567.6" font-size="13.5" fill="#66605c" text-anchor="middle" textLength="25.5" lengthAdjust="spacingAndGlyphs" stroke="#66605c" stroke-width="0.6">Jul 1</text>
<text x="584.5" y="567.6" font-size="13.5" fill="#66605c" text-anchor="middle" textLength="33.7" lengthAdjust="spacingAndGlyphs" stroke="#66605c" stroke-width="0.6">Aug 1</text>
<text x="710.1" y="567.6" font-size="13.5" fill="#66605c" text-anchor="middle" textLength="32" lengthAdjust="spacingAndGlyphs" stroke="#66605c" stroke-width="0.6">Sep 1</text>
<text x="831.6" y="567.6" font-size="13.5" fill="#66605c" text-anchor="middle" textLength="31.3" lengthAdjust="spacingAndGlyphs" stroke="#66605c" stroke-width="0.6">Oct 1</text>
<text x="1002" y="567.6" font-size="13.5" fill="#66605c" text-anchor="end" textLength="33.5" lengthAdjust="spacingAndGlyphs" stroke="#66605c" stroke-width="0.6">Nov 9</text>
<text x="1.8" y="770.6" font-size="13.5" fill="#66605c" textLength="39.5" lengthAdjust="spacingAndGlyphs" stroke="#66605c" stroke-width="0.6">Mar 15</text>
<text x="90.1" y="770.6" font-size="13.5" fill="#66605c" text-anchor="middle" textLength="32" lengthAdjust="spacingAndGlyphs" stroke="#66605c" stroke-width="0.6">Apr 1</text>
<text x="211.7" y="770.6" font-size="13.5" fill="#66605c" text-anchor="middle" textLength="31.3" lengthAdjust="spacingAndGlyphs" stroke="#66605c" stroke-width="0.6">May1</text>
<text x="337.3" y="770.6" font-size="13.5" fill="#66605c" text-anchor="middle" textLength="28.5" lengthAdjust="spacingAndGlyphs" stroke="#66605c" stroke-width="0.6">Jun 1</text>
<text x="458.9" y="770.6" font-size="13.5" fill="#66605c" text-anchor="middle" textLength="25.5" lengthAdjust="spacingAndGlyphs" stroke="#66605c" stroke-width="0.6">Jul 1</text>
<text x="584.5" y="770.6" font-size="13.5" fill="#66605c" text-anchor="middle" textLength="33.7" lengthAdjust="spacingAndGlyphs" stroke="#66605c" stroke-width="0.6">Aug 1</text>
<text x="710.1" y="770.6" font-size="13.5" fill="#66605c" text-anchor="middle" textLength="32" lengthAdjust="spacingAndGlyphs" stroke="#66605c" stroke-width="0.6">Sep 1</text>
<text x="831.6" y="770.6" font-size="13.5" fill="#66605c" text-anchor="middle" textLength="31.3" lengthAdjust="spacingAndGlyphs" stroke="#66605c" stroke-width="0.6">Oct 1</text>
<text x="1002" y="770.6" font-size="13.5" fill="#66605c" text-anchor="end" textLength="33.5" lengthAdjust="spacingAndGlyphs" stroke="#66605c" stroke-width="0.6">Nov 9</text>
<text x="1018" y="613.5999999999999" font-size="13" fill="#66605c" text-anchor="end" textLength="22.5" lengthAdjust="spacingAndGlyphs" stroke="#66605c" stroke-width="0.6">100</text>
<text x="1018" y="638.5999999999999" font-size="13" fill="#66605c" text-anchor="end" textLength="15" lengthAdjust="spacingAndGlyphs" stroke="#66605c" stroke-width="0.6">80</text>
<text x="1018" y="663.5999999999999" font-size="13" fill="#66605c" text-anchor="end" textLength="15" lengthAdjust="spacingAndGlyphs" stroke="#66605c" stroke-width="0.6">60</text>
<text x="1018" y="688.5999999999999" font-size="13" fill="#66605c" text-anchor="end" textLength="15" lengthAdjust="spacingAndGlyphs" stroke="#66605c" stroke-width="0.6">40</text>
<text x="1018" y="713.5999999999999" font-size="13" fill="#66605c" text-anchor="end" textLength="15" lengthAdjust="spacingAndGlyphs" stroke="#66605c" stroke-width="0.6">20</text>
<text x="1018" y="738.5999999999999" font-size="13" fill="#66605c" text-anchor="end" textLength="8" lengthAdjust="spacingAndGlyphs" stroke="#66605c" stroke-width="0.6">0</text>
<text x="54.4" y="702.8" font-size="13.5" fill="#33302e" textLength="43.7" lengthAdjust="spacingAndGlyphs" stroke="#33302e" stroke-width="0.3">Mideast</text>
<text x="196.5" y="706.9" font-size="13.5" fill="#33302e" textLength="57.5" lengthAdjust="spacingAndGlyphs" stroke="#33302e" stroke-width="0.3">N America</text>
<text x="588.5" y="650.9" font-size="13.5" fill="#33302e" textLength="77.25" lengthAdjust="spacingAndGlyphs" stroke="#33302e" stroke-width="0.3">Latin America</text>
<text x="650.4" y="711.6" font-size="13.5" fill="#33302e" textLength="32" lengthAdjust="spacingAndGlyphs" stroke="#33302e" stroke-width="0.3">Africa</text>
<text x="850.2" y="718.1" font-size="13.5" fill="#33302e" textLength="22.7" lengthAdjust="spacingAndGlyphs" stroke="#33302e" stroke-width="0.3">Asia</text>
<text x="936.6" y="633" font-size="13.5" fill="#33302e" textLength="38.6" lengthAdjust="spacingAndGlyphs" stroke="#33302e" stroke-width="0.3">Europe</text>
</g>
</svg></body></html>
